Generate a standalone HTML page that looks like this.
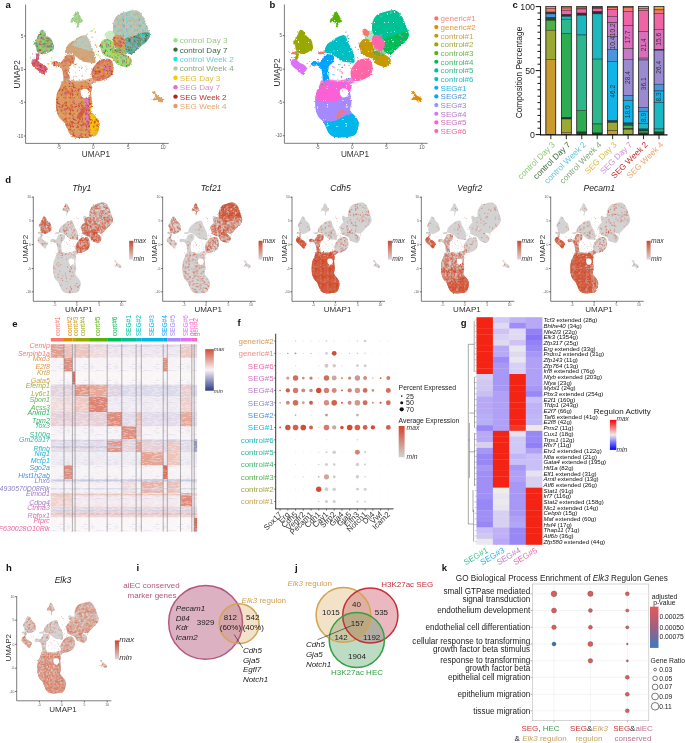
<!DOCTYPE html>
<html><head><meta charset="utf-8"><title>figure</title>
<style>html,body{margin:0;padding:0;background:#fff;overflow:hidden}svg{display:block;font-family:"Liberation Sans",sans-serif;will-change:transform}</style>
</head><body>
<svg width="685" height="743" viewBox="0 0 685 743">
<defs><path id="u_top" d="M335.2,11.4C335.8,11.3 336.9,12.0 337.5,12.5C338.1,13.0 338.2,13.3 338.7,14.3C339.2,15.3 339.9,17.3 340.5,18.5C341.1,19.7 342.1,20.7 342.0,21.4C341.9,22.1 340.6,22.1 340.0,22.5C339.4,22.9 338.7,22.7 338.2,23.7C337.7,24.7 337.4,27.7 337.0,28.4C336.6,29.1 335.9,28.6 335.8,27.8C335.7,27.0 336.6,24.7 336.2,23.7C335.8,22.7 334.5,22.1 333.5,21.9C332.5,21.7 330.5,23.0 330.0,22.5C329.5,22.0 330.0,20.0 330.5,19.0C331.0,18.0 332.3,17.7 332.9,16.7C333.5,15.7 333.6,14.1 334.0,13.2C334.4,12.3 334.6,11.5 335.2,11.4Z"/><path id="u_lu" d="M300.2,30.1C301.4,29.2 302.5,30.2 303.7,31.3C304.9,32.4 305.9,35.0 307.2,36.5C308.5,38.0 310.3,38.0 311.3,40.0C312.3,42.0 313.2,46.4 313.0,48.2C312.8,50.1 311.7,50.1 310.1,51.1C308.6,52.1 305.6,53.7 303.7,54.0C301.8,54.3 300.3,53.5 299.0,52.9C297.7,52.3 296.8,51.8 296.1,50.5C295.4,49.2 295.4,46.5 294.9,45.3C294.4,44.0 292.9,44.5 293.2,43.0C293.5,41.5 295.5,38.6 296.7,36.5C297.9,34.4 299.0,31.0 300.2,30.1Z"/><path id="u_ll" d="M292.0,59.9C292.8,59.1 294.3,58.3 295.5,58.7C296.7,59.1 297.6,61.2 299.0,62.2C300.4,63.2 302.3,63.5 303.7,64.6C305.1,65.7 306.9,67.6 307.2,68.6C307.5,69.6 306.0,69.4 305.4,70.4C304.8,71.4 304.4,73.9 303.7,74.5C303.0,75.1 302.4,74.6 301.4,73.9C300.4,73.2 299.2,71.6 297.8,70.4C296.4,69.2 294.4,68.1 293.2,66.9C292.0,65.7 291.0,64.6 290.8,63.4C290.6,62.2 291.2,60.7 292.0,59.9Z"/><path id="u_link" d="M295.5,53.5C296.1,53.1 298.5,53.1 299.0,53.5C299.5,53.9 298.8,55.0 298.5,56.0C298.2,57.0 298.1,58.9 297.5,59.5C296.9,60.1 295.3,60.1 295.0,59.5C294.7,58.9 295.4,57.0 295.5,56.0C295.6,55.0 294.9,53.9 295.5,53.5Z"/><path id="u_cu" d="M324.7,51.7C323.9,50.2 325.6,46.7 327.0,44.7C328.4,42.8 330.9,41.4 332.9,40.0C334.8,38.6 336.8,37.3 338.7,36.5C340.6,35.7 343.3,35.2 344.6,35.4C345.9,35.6 345.6,36.4 346.3,37.7C347.0,39.1 347.6,41.5 348.6,43.5C349.6,45.5 351.3,47.6 352.2,49.4C353.1,51.1 353.5,52.2 353.9,54.0C354.3,55.8 354.5,58.4 354.5,59.9C354.5,61.4 355.0,62.4 353.9,62.8C352.8,63.2 349.9,62.4 348.1,62.2C346.4,62.0 344.8,62.0 343.4,61.6C342.0,61.2 341.3,60.8 339.9,59.9C338.5,59.0 336.6,57.4 335.2,56.4C333.8,55.4 333.4,54.8 331.7,54.0C329.9,53.2 325.5,53.2 324.7,51.7Z"/><path id="u_bl" d="M311.3,62.2C311.9,61.4 313.9,61.1 315.4,61.1C316.8,61.1 318.4,63.2 320.0,62.2C321.6,61.2 322.9,56.5 324.7,55.2C326.4,53.9 328.9,54.4 330.5,54.6C332.1,54.8 333.6,55.1 334.0,56.4C334.4,57.7 333.7,60.7 332.9,62.2C332.1,63.8 330.2,64.1 329.4,65.7C328.6,67.3 328.2,69.3 328.2,71.6C328.2,73.9 329.0,77.8 329.4,79.7C329.8,81.6 331.4,82.5 330.4,83.0C329.4,83.5 324.8,84.3 323.5,83.0C322.2,81.7 322.8,77.4 322.4,75.1C322.0,72.8 322.0,70.8 321.2,69.2C320.4,67.6 319.2,66.3 317.7,65.7C316.1,65.1 313.0,66.3 311.9,65.7C310.8,65.1 310.7,63.0 311.3,62.2Z"/><path id="u_tr" d="M378.9,13.8C381.9,12.4 388.6,10.7 391.7,10.3C394.8,9.9 395.9,10.3 397.6,11.4C399.4,12.5 400.9,14.4 402.2,16.7C403.5,18.9 404.6,22.2 405.7,24.9C406.8,27.6 408.2,30.9 408.6,33.0C409.0,35.1 408.8,36.1 408.1,37.7C407.4,39.3 406.0,41.0 404.6,42.4C403.2,43.8 401.6,44.3 399.9,45.9C398.1,47.5 395.7,50.4 394.1,51.7C392.5,53.1 392.1,54.0 390.5,54.0C388.9,54.0 386.1,53.0 384.7,51.7C383.3,50.5 383.6,48.2 382.4,46.5C381.2,44.8 379.1,43.6 377.5,41.5C375.9,39.4 373.9,36.6 373.0,34.0C372.1,31.4 371.9,28.5 372.0,26.0C372.1,23.5 372.7,21.0 373.8,19.0C374.9,17.0 375.9,15.2 378.9,13.8Z"/><path id="u_tr_g" d="M383.5,38.9C385.4,37.1 390.8,36.6 394.1,35.4C397.4,34.2 401.0,32.3 403.4,31.9C405.8,31.5 407.8,32.0 408.6,33.0C409.4,34.0 408.8,36.1 408.1,37.7C407.4,39.3 406.0,41.0 404.6,42.4C403.2,43.8 401.6,44.3 399.9,45.9C398.1,47.5 395.7,50.4 394.1,51.7C392.5,53.1 392.1,54.0 390.5,54.0C388.9,54.0 386.1,53.1 384.7,51.7C383.3,50.4 382.6,48.0 382.4,45.9C382.2,43.8 381.6,40.6 383.5,38.9Z"/><path id="u_tr_p" d="M373.5,35.5C374.7,34.5 377.2,34.5 378.9,35.2C380.6,35.9 382.8,37.9 383.8,39.5C384.8,41.1 384.9,43.0 384.8,44.7C384.7,46.4 384.0,48.8 383.0,49.8C382.0,50.8 380.4,51.3 378.9,50.8C377.4,50.3 375.4,48.6 374.2,47.0C373.0,45.4 371.9,43.1 371.8,41.2C371.7,39.3 372.3,36.5 373.5,35.5Z"/><path id="u_strand" d="M373.5,49.0C374.3,48.2 376.4,47.5 378.0,47.5C379.6,47.5 381.8,48.2 383.0,49.0C384.2,49.8 385.4,50.9 385.5,52.0C385.6,53.1 384.6,54.8 383.5,55.5C382.4,56.2 380.4,56.2 379.0,56.0C377.6,55.8 376.0,55.2 375.0,54.5C374.0,53.8 373.2,52.9 373.0,52.0C372.8,51.1 372.7,49.8 373.5,49.0Z"/><path id="u_gold" d="M363.7,38.9C365.4,38.1 367.9,39.2 369.5,40.0C371.1,40.8 372.2,41.9 373.0,43.5C373.8,45.1 373.0,48.0 374.2,49.4C375.4,50.8 378.1,50.7 380.0,51.7C381.9,52.7 384.1,54.0 385.9,55.2C387.6,56.4 389.8,57.3 390.5,58.7C391.2,60.1 390.8,62.0 390.0,63.4C389.2,64.8 387.6,66.5 385.9,66.9C384.2,67.3 381.8,66.3 380.0,65.7C378.2,65.1 376.8,64.6 375.4,63.4C374.0,62.2 373.5,59.9 371.9,58.7C370.3,57.5 367.7,57.2 366.0,56.4C364.3,55.6 362.9,55.2 361.9,54.0C360.9,52.8 360.7,50.9 360.2,49.4C359.7,47.9 358.4,46.5 359.0,44.7C359.6,43.0 361.9,39.7 363.7,38.9Z"/><path id="u_rb" d="M359.0,59.9C361.4,58.9 366.2,58.1 368.4,58.7C370.5,59.3 371.2,61.4 371.9,63.4C372.6,65.3 372.8,68.3 372.4,70.4C372.0,72.5 371.1,74.7 369.5,76.2C367.9,77.8 364.8,78.9 362.5,79.7C360.2,80.5 357.4,81.3 355.5,80.9C353.6,80.5 352.2,79.2 351.4,77.4C350.6,75.7 350.3,72.5 350.8,70.4C351.3,68.3 352.9,66.3 354.3,64.6C355.7,62.8 356.6,60.9 359.0,59.9Z"/><path id="u_conn" d="M321.0,81.0C322.3,80.1 327.2,79.6 330.0,79.5C332.8,79.4 335.3,80.6 338.0,80.5C340.7,80.4 343.7,79.5 346.0,79.0C348.3,78.5 350.3,77.3 352.0,77.5C353.7,77.7 356.2,78.9 356.0,80.0C355.8,81.1 353.0,83.3 351.0,84.0C349.0,84.7 346.8,84.0 344.0,84.0C341.2,84.0 337.7,83.8 334.0,84.0C330.3,84.2 324.2,85.5 322.0,85.0C319.8,84.5 319.7,81.9 321.0,81.0Z"/><path id="u_bot" d="M321.0,83.4C322.9,82.3 327.5,81.8 330.4,81.6C333.3,81.4 336.2,82.3 338.5,82.2C340.8,82.1 342.6,80.8 344.4,81.0C346.1,81.2 347.8,82.4 349.0,83.4C350.2,84.4 351.2,85.6 351.4,86.9C351.6,88.2 350.3,89.8 350.2,91.5C350.1,93.2 350.6,95.5 350.8,97.4C351.0,99.4 351.5,101.1 351.4,103.2C351.3,105.3 349.6,108.1 350.2,110.2C350.8,112.3 353.5,114.1 354.9,116.1C356.3,118.0 357.9,119.8 358.4,121.9C358.9,124.0 358.4,126.8 357.8,128.9C357.2,131.0 356.8,133.3 354.9,134.7C353.0,136.1 350.0,136.7 346.7,137.1C343.4,137.5 337.9,137.7 335.0,137.1C332.1,136.5 330.8,135.3 329.2,133.6C327.6,131.8 326.7,128.5 325.7,126.6C324.7,124.6 324.6,123.5 323.4,121.9C322.2,120.3 320.0,119.2 318.7,117.2C317.4,115.2 316.4,112.9 315.8,110.2C315.2,107.5 315.1,103.8 315.2,100.9C315.3,98.0 315.8,94.9 316.4,92.7C317.0,90.5 317.9,89.5 318.7,88.0C319.5,86.5 319.1,84.5 321.0,83.4Z"/><path id="u_bot_pink" d="M310.0,78.0C318.3,74.2 351.7,76.3 360.0,78.0C368.3,79.7 361.6,85.7 360.0,88.0C358.4,90.3 353.8,90.0 350.2,92.0C346.6,94.0 342.0,98.0 338.5,99.7C335.0,101.4 332.8,101.9 329.0,102.0C325.2,102.1 318.7,100.5 315.5,100.3C312.3,100.1 310.9,104.7 310.0,101.0C309.1,97.3 301.7,81.8 310.0,78.0Z"/><path id="u_bot_cyan" d="M310.0,124.0C312.2,120.7 319.2,122.5 323.4,121.9C327.6,121.4 331.1,121.9 335.0,120.7C338.9,119.5 343.8,116.1 346.7,115.0C349.6,113.9 350.1,114.2 352.6,114.0C355.2,113.8 360.4,109.3 362.0,114.0C363.6,118.7 370.7,137.3 362.0,142.0C353.3,146.7 318.7,145.0 310.0,142.0C301.3,139.0 307.8,127.3 310.0,124.0Z"/><path id="u_bot_right" d="M346.0,98.0C346.8,95.3 350.3,93.7 352.0,96.0C353.7,98.3 354.7,107.7 356.0,112.0C357.3,116.3 359.5,118.0 360.0,122.0C360.5,126.0 360.7,133.3 359.0,136.0C357.3,138.7 351.7,139.8 350.0,138.0C348.3,136.2 349.5,129.3 349.0,125.0C348.5,120.7 347.5,116.5 347.0,112.0C346.5,107.5 345.2,100.7 346.0,98.0Z"/><path id="u_a_pink" d="M343.0,97.0C343.6,95.2 346.8,94.3 348.0,95.5C349.2,96.7 350.0,100.9 350.5,104.0C351.0,107.1 351.1,110.7 351.0,114.0C350.9,117.3 350.8,121.8 350.0,124.0C349.2,126.2 347.3,128.0 346.5,127.0C345.7,126.0 345.3,121.5 345.0,118.0C344.7,114.5 344.8,109.5 344.5,106.0C344.2,102.5 342.4,98.8 343.0,97.0Z"/><path id="u_notch" d="M340.5,89.5C341.2,88.9 342.8,88.5 344.0,88.6C345.2,88.7 346.8,89.2 347.5,90.0C348.2,90.8 348.5,92.4 348.3,93.5C348.1,94.6 347.4,96.1 346.5,96.8C345.6,97.5 344.0,97.7 343.0,97.4C342.0,97.1 340.9,95.9 340.4,95.0C339.9,94.1 339.8,92.9 339.8,92.0C339.8,91.1 339.8,90.1 340.5,89.5Z"/><path id="u_sr" d="M410.9,91.2C411.4,91.1 413.6,91.3 414.5,92.0C415.4,92.7 415.6,94.4 416.6,95.3C417.6,96.2 419.7,96.8 420.6,97.5C421.5,98.2 421.7,98.6 421.9,99.3C422.1,100.0 422.1,101.1 421.7,101.5C421.3,101.9 420.4,102.0 419.7,101.9C419.0,101.8 418.3,101.4 417.5,101.0C416.7,100.6 415.8,99.9 414.9,99.7C414.0,99.5 412.9,100.2 412.3,100.1C411.7,100.0 411.1,99.7 411.2,99.3C411.3,98.9 412.6,98.1 413.1,97.5C413.6,96.9 414.0,96.4 414.0,95.8C414.0,95.2 413.5,94.5 413.1,94.0C412.7,93.5 411.8,93.2 411.4,92.7C411.0,92.2 410.4,91.3 410.9,91.2Z"/><path id="u_bridge" d="M364.0,33.5C364.8,32.2 367.5,30.9 369.0,30.5C370.5,30.1 371.9,30.2 373.0,31.0C374.1,31.8 375.2,33.6 375.5,35.0C375.8,36.4 375.6,38.6 374.5,39.5C373.4,40.4 370.7,40.7 369.0,40.5C367.3,40.3 365.3,39.7 364.5,38.5C363.7,37.3 363.2,34.8 364.0,33.5Z"/><path id="u_sal1" d="M292.0,52.0C292.8,51.5 296.5,51.2 297.5,51.5C298.5,51.8 298.8,53.3 298.0,53.8C297.2,54.2 293.5,54.5 292.5,54.2C291.5,53.9 291.2,52.5 292.0,52.0Z"/><path id="u_sal2" d="M318.5,52.3C319.4,51.8 323.4,51.2 324.5,51.5C325.6,51.8 325.9,53.3 325.0,53.8C324.1,54.3 320.1,54.5 319.0,54.3C317.9,54.0 317.6,52.8 318.5,52.3Z"/><path id="u_sal3" d="M362.5,30.0C362.9,29.1 364.8,28.4 366.0,29.0C367.2,29.6 369.3,32.3 369.5,33.5C369.7,34.7 368.0,35.8 367.0,36.0C366.0,36.2 364.2,35.5 363.5,34.5C362.8,33.5 362.1,30.9 362.5,30.0Z"/><path id="u_sal4" d="M336.0,116.0C336.6,114.5 339.6,110.4 341.0,109.5C342.4,108.6 344.5,109.3 344.5,110.5C344.5,111.7 342.2,115.2 341.0,116.5C339.8,117.8 338.3,118.6 337.5,118.5C336.7,118.4 335.4,117.5 336.0,116.0Z"/><clipPath id="c_bot"><use href="#u_bot"/></clipPath><clipPath id="c_tr"><use href="#u_tr"/></clipPath><filter id="rough" x="-5%" y="-5%" width="110%" height="110%"><feTurbulence type="fractalNoise" baseFrequency="0.7" numOctaves="2" seed="4" result="n"/><feDisplacementMap in="SourceGraphic" in2="n" scale="2.6" xChannelSelector="R" yChannelSelector="G"/></filter><pattern id="pa_bot" width="16" height="16" patternUnits="userSpaceOnUse"><path fill="#c42a22" d="M8.2 5.5h1v1h-1zM9.4 1.0h1v1h-1zM12.6 3.9h1v1h-1zM14.9 7.1h1v1h-1zM9.5 13.0h1v1h-1zM11.1 10.1h1v1h-1zM11.4 8.9h1v1h-1zM0.5 13.0h1v1h-1zM10.8 13.2h1v1h-1zM14.5 6.5h1v1h-1zM4.5 7.6h1v1h-1zM5.3 8.8h1v1h-1zM13.6 10.2h1v1h-1zM4.3 1.0h1v1h-1zM11.5 13.1h1v1h-1zM9.2 0.7h1v1h-1zM1.2 9.0h1v1h-1zM3.0 6.1h1v1h-1zM2.3 0.6h1v1h-1zM9.7 8.9h1v1h-1zM9.3 14.1h1v1h-1zM6.5 10.8h1v1h-1zM4.5 14.7h1v1h-1zM8.2 0.2h1v1h-1zM8.7 0.3h1v1h-1zM9.5 0.9h1v1h-1zM7.0 10.2h1v1h-1zM10.6 11.1h1v1h-1zM0.9 10.1h1v1h-1zM4.8 5.5h1v1h-1zM5.5 8.9h1v1h-1zM5.7 11.6h1v1h-1zM8.5 11.0h1v1h-1zM3.3 12.1h1v1h-1zM2.8 6.5h1v1h-1zM12.5 6.6h1v1h-1zM13.3 6.8h1v1h-1zM1.8 7.9h1v1h-1zM12.1 12.6h1v1h-1zM4.2 12.1h1v1h-1zM12.1 5.2h1v1h-1zM4.4 11.9h1v1h-1zM5.2 6.3h1v1h-1zM6.1 13.8h1v1h-1zM0.1 14.1h1v1h-1zM4.3 5.1h1v1h-1zM1.0 8.8h1v1h-1zM12.2 0.7h1v1h-1zM11.2 2.6h1v1h-1zM9.9 7.9h1v1h-1zM14.1 9.2h1v1h-1zM3.8 12.9h1v1h-1zM11.7 5.3h1v1h-1zM8.0 12.3h1v1h-1zM11.9 13.8h1v1h-1zM12.9 0.7h1v1h-1zM4.0 7.9h1v1h-1z"/><path fill="#d870e0" d="M13.8 5.9h1v1h-1zM2.4 12.9h1v1h-1zM3.2 12.5h1v1h-1zM5.0 13.2h1v1h-1zM1.5 4.8h1v1h-1zM12.6 9.9h1v1h-1z"/><path fill="#e8b070" d="M7.1 9.6h1v1h-1zM6.7 14.0h1v1h-1zM1.5 2.0h1v1h-1zM12.8 14.9h1v1h-1zM13.6 8.5h1v1h-1zM14.8 1.3h1v1h-1zM6.2 2.3h1v1h-1zM7.6 15.0h1v1h-1zM4.7 14.4h1v1h-1zM5.7 6.9h1v1h-1zM3.8 6.8h1v1h-1zM2.5 5.1h1v1h-1zM14.8 6.5h1v1h-1zM13.9 3.3h1v1h-1zM10.4 13.9h1v1h-1zM13.5 8.7h1v1h-1zM12.4 0.1h1v1h-1z"/></pattern><pattern id="pa_tr" width="16" height="16" patternUnits="userSpaceOnUse"><path fill="#40e0ee" d="M1.5 5.9h1v1h-1zM1.0 6.0h1v1h-1zM8.1 4.2h1v1h-1zM1.6 3.2h1v1h-1zM1.3 14.0h1v1h-1zM12.2 0.6h1v1h-1zM9.4 4.2h1v1h-1zM9.5 4.1h1v1h-1zM11.2 4.8h1v1h-1zM3.4 11.5h1v1h-1zM6.9 0.6h1v1h-1zM14.5 11.6h1v1h-1zM14.1 9.3h1v1h-1zM2.0 5.7h1v1h-1zM2.5 11.8h1v1h-1zM4.4 1.5h1v1h-1zM0.8 2.5h1v1h-1zM3.7 15.0h1v1h-1zM7.9 11.6h1v1h-1zM14.8 7.2h1v1h-1zM6.2 0.6h1v1h-1zM3.7 13.3h1v1h-1zM3.6 3.1h1v1h-1zM13.0 2.1h1v1h-1zM13.9 8.5h1v1h-1zM1.4 3.2h1v1h-1zM9.9 12.0h1v1h-1zM13.5 1.9h1v1h-1zM9.5 8.5h1v1h-1zM13.8 0.2h1v1h-1zM13.4 11.6h1v1h-1zM7.9 0.4h1v1h-1zM8.9 7.3h1v1h-1zM11.5 7.8h1v1h-1zM12.6 12.4h1v1h-1zM8.2 5.7h1v1h-1zM14.5 1.4h1v1h-1zM9.3 13.3h1v1h-1zM4.5 12.5h1v1h-1zM12.0 2.5h1v1h-1zM5.1 8.1h1v1h-1zM8.2 7.3h1v1h-1zM12.7 5.4h1v1h-1zM13.0 11.8h1v1h-1zM1.2 2.2h1v1h-1zM8.6 5.3h1v1h-1zM4.5 0.3h1v1h-1zM14.2 12.4h1v1h-1zM8.8 7.4h1v1h-1zM9.0 13.5h1v1h-1zM9.4 14.9h1v1h-1zM2.8 8.1h1v1h-1zM14.6 14.8h1v1h-1zM3.9 3.3h1v1h-1zM3.6 4.5h1v1h-1zM7.9 2.4h1v1h-1zM0.5 4.7h1v1h-1zM0.9 14.9h1v1h-1zM13.4 10.5h1v1h-1zM1.0 2.5h1v1h-1zM6.3 0.4h1v1h-1zM2.4 12.7h1v1h-1zM10.8 2.8h1v1h-1zM9.3 13.7h1v1h-1zM9.7 13.5h1v1h-1zM12.9 9.9h1v1h-1zM13.4 9.4h1v1h-1zM12.5 13.4h1v1h-1zM11.7 13.6h1v1h-1z"/><path fill="#e0a060" d="M11.0 12.8h1v1h-1zM7.6 2.7h1v1h-1zM6.5 2.4h1v1h-1zM7.1 5.1h1v1h-1zM13.6 1.5h1v1h-1zM3.6 5.0h1v1h-1zM13.4 14.3h1v1h-1zM14.4 0.3h1v1h-1zM2.2 0.6h1v1h-1zM11.9 11.2h1v1h-1zM12.2 7.9h1v1h-1zM10.3 4.0h1v1h-1zM6.5 12.9h1v1h-1zM7.3 1.1h1v1h-1zM9.1 4.7h1v1h-1zM6.6 2.1h1v1h-1zM1.4 6.0h1v1h-1zM14.1 11.4h1v1h-1zM11.2 9.3h1v1h-1zM4.6 3.5h1v1h-1zM9.2 5.5h1v1h-1zM8.2 14.4h1v1h-1zM9.8 14.3h1v1h-1zM10.9 8.3h1v1h-1zM2.3 12.7h1v1h-1zM12.9 4.9h1v1h-1zM0.6 9.5h1v1h-1zM9.1 7.9h1v1h-1zM7.5 8.2h1v1h-1zM3.7 3.0h1v1h-1zM1.8 14.7h1v1h-1z"/><path fill="#2e6a38" d="M13.9 3.3h1v1h-1zM14.8 9.4h1v1h-1zM5.4 9.9h1v1h-1z"/><path fill="#d870e0" d="M2.9 4.6h1v1h-1zM13.2 8.3h1v1h-1zM4.7 3.5h1v1h-1zM1.0 13.2h1v1h-1zM12.1 14.3h1v1h-1z"/><path fill="#b8c8b0" d="M12.0 11.5h1v1h-1zM12.4 12.1h1v1h-1zM1.3 9.1h1v1h-1zM8.2 4.5h1v1h-1zM8.6 13.2h1v1h-1zM7.6 6.2h1v1h-1zM2.9 6.2h1v1h-1zM4.4 2.9h1v1h-1zM5.0 0.1h1v1h-1zM6.4 3.1h1v1h-1zM7.5 0.5h1v1h-1zM6.0 13.5h1v1h-1zM13.5 13.9h1v1h-1zM14.3 1.1h1v1h-1zM14.4 10.0h1v1h-1zM10.0 0.9h1v1h-1zM1.7 12.1h1v1h-1zM3.0 10.1h1v1h-1zM9.1 2.1h1v1h-1zM2.6 2.2h1v1h-1zM10.7 0.1h1v1h-1zM7.0 13.7h1v1h-1zM2.7 13.5h1v1h-1zM2.7 9.8h1v1h-1zM1.8 9.8h1v1h-1zM4.5 13.9h1v1h-1zM6.0 6.0h1v1h-1zM4.3 6.2h1v1h-1zM9.3 2.3h1v1h-1zM9.1 4.7h1v1h-1zM13.4 11.7h1v1h-1zM2.4 11.9h1v1h-1zM10.8 8.4h1v1h-1zM3.8 5.9h1v1h-1zM0.3 14.4h1v1h-1zM3.5 8.3h1v1h-1zM14.9 10.6h1v1h-1zM14.1 5.7h1v1h-1zM12.5 8.8h1v1h-1zM13.2 9.9h1v1h-1zM5.3 1.2h1v1h-1zM7.6 0.0h1v1h-1z"/></pattern><pattern id="pa_trg" width="16" height="16" patternUnits="userSpaceOnUse"><path fill="#2e6a38" d="M7.0 14.2h1v1h-1zM3.7 8.2h1v1h-1zM13.7 11.5h1v1h-1zM12.0 2.1h1v1h-1zM14.1 10.4h1v1h-1zM2.5 2.2h1v1h-1zM4.5 9.0h1v1h-1zM10.2 5.1h1v1h-1zM12.3 7.2h1v1h-1zM7.2 10.6h1v1h-1zM14.6 0.3h1v1h-1zM0.7 2.7h1v1h-1zM7.9 11.6h1v1h-1zM11.2 12.0h1v1h-1zM5.1 9.2h1v1h-1zM4.7 4.8h1v1h-1zM1.2 2.2h1v1h-1zM14.8 8.0h1v1h-1zM3.6 8.9h1v1h-1zM13.7 0.5h1v1h-1zM12.6 2.0h1v1h-1zM12.7 4.4h1v1h-1zM15.0 12.8h1v1h-1zM2.2 5.7h1v1h-1zM5.1 1.3h1v1h-1zM11.7 13.0h1v1h-1zM11.8 11.6h1v1h-1zM10.6 4.2h1v1h-1zM11.5 10.4h1v1h-1zM14.2 9.7h1v1h-1zM10.1 6.9h1v1h-1zM9.7 11.1h1v1h-1zM12.5 14.1h1v1h-1zM10.4 10.8h1v1h-1zM9.8 3.3h1v1h-1zM3.4 0.8h1v1h-1zM4.8 2.7h1v1h-1zM0.5 7.0h1v1h-1zM9.2 8.9h1v1h-1zM13.5 0.0h1v1h-1zM4.2 6.2h1v1h-1zM12.5 5.6h1v1h-1zM9.2 1.4h1v1h-1zM5.1 8.7h1v1h-1zM8.9 8.5h1v1h-1zM13.4 0.0h1v1h-1zM8.5 9.2h1v1h-1zM9.4 13.4h1v1h-1zM6.5 3.4h1v1h-1zM14.6 5.7h1v1h-1zM14.7 7.4h1v1h-1zM4.8 14.8h1v1h-1zM4.3 7.2h1v1h-1zM9.3 6.7h1v1h-1zM11.7 12.4h1v1h-1zM8.0 4.1h1v1h-1zM2.3 14.8h1v1h-1zM9.1 7.1h1v1h-1zM11.4 4.5h1v1h-1zM5.0 4.5h1v1h-1zM7.0 5.4h1v1h-1zM6.8 13.7h1v1h-1zM8.2 7.5h1v1h-1zM2.3 8.8h1v1h-1zM10.8 14.7h1v1h-1zM13.8 2.2h1v1h-1zM1.1 0.9h1v1h-1zM6.5 4.7h1v1h-1zM0.8 10.5h1v1h-1zM9.5 7.6h1v1h-1zM8.3 3.8h1v1h-1zM5.6 11.1h1v1h-1zM10.7 9.8h1v1h-1zM10.0 1.4h1v1h-1zM8.9 3.6h1v1h-1zM2.3 14.3h1v1h-1zM9.4 5.3h1v1h-1zM5.0 9.2h1v1h-1zM5.8 2.0h1v1h-1zM12.8 7.8h1v1h-1zM1.5 0.5h1v1h-1zM0.6 13.3h1v1h-1zM11.4 0.0h1v1h-1zM13.3 9.3h1v1h-1zM7.0 1.5h1v1h-1zM2.4 5.6h1v1h-1zM13.2 2.3h1v1h-1zM4.2 2.4h1v1h-1zM3.5 7.2h1v1h-1zM13.9 5.5h1v1h-1zM14.2 1.8h1v1h-1zM3.5 1.2h1v1h-1z"/><path fill="#40e0ee" d="M11.1 11.9h1v1h-1zM13.5 1.7h1v1h-1zM0.2 3.3h1v1h-1zM1.9 0.0h1v1h-1zM3.1 3.2h1v1h-1zM12.7 0.3h1v1h-1zM5.5 8.7h1v1h-1zM0.5 14.2h1v1h-1zM15.0 2.4h1v1h-1zM6.8 6.3h1v1h-1zM14.2 9.5h1v1h-1zM1.6 6.5h1v1h-1zM7.2 4.4h1v1h-1zM10.0 11.4h1v1h-1zM0.2 8.2h1v1h-1zM9.7 12.0h1v1h-1zM5.3 12.6h1v1h-1zM10.3 14.6h1v1h-1zM2.6 11.7h1v1h-1zM10.0 6.3h1v1h-1zM11.6 9.6h1v1h-1zM0.4 2.4h1v1h-1zM9.5 0.6h1v1h-1zM9.6 5.5h1v1h-1zM9.1 11.2h1v1h-1zM8.9 0.5h1v1h-1zM8.2 0.2h1v1h-1zM6.4 8.6h1v1h-1zM9.5 7.2h1v1h-1zM2.9 4.4h1v1h-1zM1.0 12.5h1v1h-1zM6.5 4.3h1v1h-1zM13.7 2.1h1v1h-1zM1.0 3.5h1v1h-1zM11.9 10.0h1v1h-1zM3.3 9.7h1v1h-1zM6.2 2.4h1v1h-1zM0.7 1.6h1v1h-1zM11.1 13.2h1v1h-1zM7.3 14.1h1v1h-1zM7.8 2.0h1v1h-1zM7.2 4.8h1v1h-1zM0.4 10.9h1v1h-1zM3.3 1.7h1v1h-1zM9.7 12.1h1v1h-1zM8.6 11.1h1v1h-1zM4.4 10.1h1v1h-1zM2.4 3.0h1v1h-1z"/><path fill="#d870e0" d="M11.1 13.8h1v1h-1zM13.1 4.3h1v1h-1zM8.1 10.2h1v1h-1zM13.4 4.5h1v1h-1zM2.9 11.3h1v1h-1zM14.1 5.2h1v1h-1zM5.1 13.9h1v1h-1zM6.8 7.3h1v1h-1zM14.4 9.4h1v1h-1zM7.8 7.9h1v1h-1zM12.3 6.3h1v1h-1zM14.5 9.1h1v1h-1zM13.7 8.9h1v1h-1zM11.7 3.7h1v1h-1zM5.8 5.9h1v1h-1zM10.5 0.7h1v1h-1zM10.7 2.0h1v1h-1zM8.3 9.3h1v1h-1zM10.0 12.3h1v1h-1zM10.3 10.1h1v1h-1z"/></pattern><pattern id="pa_mix" width="16" height="16" patternUnits="userSpaceOnUse"><path fill="#2e6a38" d="M0.0 9.9h1v1h-1zM12.0 12.1h1v1h-1zM2.9 7.3h1v1h-1zM3.1 13.0h1v1h-1zM5.0 13.6h1v1h-1zM6.3 11.2h1v1h-1zM8.8 5.4h1v1h-1zM6.8 13.9h1v1h-1zM6.2 13.2h1v1h-1zM12.1 4.9h1v1h-1zM2.9 14.2h1v1h-1zM5.4 2.2h1v1h-1zM14.2 13.6h1v1h-1zM10.7 1.0h1v1h-1zM14.5 6.5h1v1h-1zM2.6 5.6h1v1h-1zM14.9 11.5h1v1h-1zM11.0 1.7h1v1h-1zM1.1 7.8h1v1h-1zM7.9 2.3h1v1h-1zM2.3 8.5h1v1h-1zM4.7 3.6h1v1h-1zM4.9 5.7h1v1h-1zM11.4 1.7h1v1h-1zM8.1 11.8h1v1h-1zM8.5 13.8h1v1h-1zM7.1 10.9h1v1h-1zM1.7 14.7h1v1h-1zM13.8 11.3h1v1h-1zM6.7 3.0h1v1h-1zM8.9 3.8h1v1h-1zM8.9 0.5h1v1h-1zM13.8 14.2h1v1h-1z"/><path fill="#d870e0" d="M11.4 5.6h1v1h-1zM1.4 3.0h1v1h-1zM14.0 13.6h1v1h-1zM9.7 10.5h1v1h-1zM9.0 4.6h1v1h-1zM1.8 9.9h1v1h-1zM1.9 15.0h1v1h-1zM14.7 3.7h1v1h-1zM2.1 5.7h1v1h-1zM9.0 4.8h1v1h-1zM7.3 11.9h1v1h-1zM0.9 0.5h1v1h-1zM14.1 12.8h1v1h-1zM10.4 11.9h1v1h-1zM11.7 6.7h1v1h-1zM7.0 7.4h1v1h-1zM3.3 3.3h1v1h-1zM6.0 15.0h1v1h-1zM9.9 10.7h1v1h-1zM1.8 14.2h1v1h-1zM12.5 0.8h1v1h-1z"/><path fill="#c42a22" d="M4.1 12.0h1v1h-1zM6.2 8.1h1v1h-1zM2.9 8.3h1v1h-1zM12.7 5.0h1v1h-1zM4.4 14.3h1v1h-1zM3.0 9.8h1v1h-1zM1.3 13.2h1v1h-1zM0.2 11.7h1v1h-1zM4.6 5.7h1v1h-1zM6.1 1.3h1v1h-1zM4.0 7.3h1v1h-1zM4.0 7.1h1v1h-1zM14.6 13.8h1v1h-1zM1.7 10.8h1v1h-1zM6.3 11.7h1v1h-1zM9.1 2.2h1v1h-1zM1.5 1.6h1v1h-1zM6.9 13.5h1v1h-1zM10.5 1.9h1v1h-1zM13.7 6.3h1v1h-1zM11.8 8.5h1v1h-1zM12.1 5.6h1v1h-1zM14.6 2.5h1v1h-1zM5.8 0.9h1v1h-1zM1.5 5.5h1v1h-1zM10.9 9.8h1v1h-1zM10.3 11.7h1v1h-1z"/><path fill="#f8c800" d="M12.3 7.3h1v1h-1zM4.0 12.1h1v1h-1zM14.6 0.4h1v1h-1zM7.8 7.1h1v1h-1zM2.6 0.3h1v1h-1zM7.4 7.0h1v1h-1zM1.3 9.3h1v1h-1zM14.7 4.3h1v1h-1zM9.6 8.0h1v1h-1zM2.5 9.9h1v1h-1zM11.7 11.8h1v1h-1zM11.2 14.9h1v1h-1z"/><path fill="#40e0ee" d="M13.4 10.1h1v1h-1zM6.7 12.5h1v1h-1zM4.4 0.1h1v1h-1zM13.6 13.4h1v1h-1zM1.3 12.9h1v1h-1zM0.5 1.3h1v1h-1zM10.5 5.2h1v1h-1z"/></pattern><pattern id="pa_gold" width="16" height="16" patternUnits="userSpaceOnUse"><path fill="#f8c800" d="M2.3 9.8h1v1h-1zM8.0 5.5h1v1h-1zM7.6 0.6h1v1h-1zM9.4 14.2h1v1h-1zM12.9 4.3h1v1h-1zM1.8 4.6h1v1h-1zM0.9 3.1h1v1h-1zM6.3 11.4h1v1h-1zM7.3 0.6h1v1h-1zM5.8 10.0h1v1h-1zM6.9 2.5h1v1h-1zM0.9 11.5h1v1h-1zM3.7 5.9h1v1h-1zM2.6 3.5h1v1h-1zM7.3 8.8h1v1h-1zM0.1 6.3h1v1h-1zM2.4 5.1h1v1h-1zM0.0 2.3h1v1h-1zM5.5 0.4h1v1h-1zM5.2 5.5h1v1h-1zM12.7 14.9h1v1h-1zM5.1 4.0h1v1h-1zM5.5 2.5h1v1h-1zM3.3 12.2h1v1h-1zM4.2 3.9h1v1h-1zM3.1 9.4h1v1h-1z"/><path fill="#2e6a38" d="M1.0 1.4h1v1h-1zM12.4 1.9h1v1h-1zM6.0 14.6h1v1h-1zM5.6 8.2h1v1h-1zM6.8 4.5h1v1h-1zM7.9 13.1h1v1h-1zM8.7 6.8h1v1h-1zM0.9 10.5h1v1h-1zM14.9 12.3h1v1h-1zM13.3 12.3h1v1h-1zM13.3 14.4h1v1h-1zM8.5 14.3h1v1h-1zM6.0 1.6h1v1h-1zM0.9 1.0h1v1h-1zM7.3 1.3h1v1h-1zM0.4 7.9h1v1h-1zM5.3 0.4h1v1h-1zM3.3 3.4h1v1h-1zM12.0 1.3h1v1h-1zM13.6 11.7h1v1h-1z"/><path fill="#c42a22" d="M2.7 8.7h1v1h-1zM6.4 4.7h1v1h-1zM10.5 3.7h1v1h-1zM4.3 14.7h1v1h-1zM11.5 8.6h1v1h-1zM7.7 9.3h1v1h-1zM0.8 13.5h1v1h-1zM13.1 12.0h1v1h-1zM2.4 0.3h1v1h-1zM8.0 11.7h1v1h-1zM11.1 3.4h1v1h-1zM14.3 6.7h1v1h-1zM7.2 2.7h1v1h-1zM5.0 12.0h1v1h-1z"/><path fill="#d870e0" d="M4.7 10.4h1v1h-1zM14.2 7.1h1v1h-1zM1.2 6.7h1v1h-1zM4.2 6.2h1v1h-1zM9.2 2.2h1v1h-1zM7.9 2.2h1v1h-1zM12.9 10.4h1v1h-1zM12.8 12.1h1v1h-1zM14.8 14.3h1v1h-1zM12.6 7.2h1v1h-1z"/></pattern><pattern id="pa_red" width="16" height="16" patternUnits="userSpaceOnUse"><path fill="#c42a22" d="M14.4 1.9h1v1h-1zM6.8 7.4h1v1h-1zM12.5 1.3h1v1h-1zM0.3 4.0h1v1h-1zM13.5 5.7h1v1h-1zM3.9 14.9h1v1h-1zM9.3 5.7h1v1h-1zM9.7 13.5h1v1h-1zM10.4 10.5h1v1h-1zM2.3 7.9h1v1h-1zM0.2 5.1h1v1h-1zM6.4 5.7h1v1h-1zM2.5 9.9h1v1h-1zM0.2 11.5h1v1h-1zM2.6 6.5h1v1h-1zM6.2 6.7h1v1h-1zM8.8 4.3h1v1h-1zM1.3 1.6h1v1h-1zM0.3 2.1h1v1h-1zM8.6 11.2h1v1h-1zM14.5 0.0h1v1h-1zM14.5 11.4h1v1h-1zM1.8 8.7h1v1h-1zM1.9 6.6h1v1h-1zM5.4 3.4h1v1h-1zM6.7 1.6h1v1h-1zM5.5 6.5h1v1h-1zM14.5 11.3h1v1h-1zM7.9 11.2h1v1h-1zM12.7 2.9h1v1h-1zM14.4 12.7h1v1h-1zM4.4 9.2h1v1h-1zM6.4 7.3h1v1h-1zM11.0 4.1h1v1h-1zM1.8 12.4h1v1h-1zM4.4 12.1h1v1h-1zM5.4 14.5h1v1h-1zM11.7 11.9h1v1h-1zM9.8 11.7h1v1h-1zM9.2 10.3h1v1h-1zM6.9 13.0h1v1h-1zM0.6 13.8h1v1h-1zM4.9 7.8h1v1h-1zM10.8 5.2h1v1h-1zM3.8 5.8h1v1h-1zM11.7 1.5h1v1h-1zM4.4 2.7h1v1h-1zM4.9 6.1h1v1h-1zM11.4 0.9h1v1h-1zM14.0 8.7h1v1h-1zM7.9 11.5h1v1h-1zM0.5 5.6h1v1h-1zM2.8 8.7h1v1h-1zM14.5 6.4h1v1h-1z"/><path fill="#d870e0" d="M1.3 3.7h1v1h-1zM5.1 10.4h1v1h-1zM2.1 1.0h1v1h-1zM1.1 13.5h1v1h-1zM10.5 3.3h1v1h-1zM13.4 2.6h1v1h-1zM5.4 12.1h1v1h-1zM10.6 14.7h1v1h-1zM3.2 13.1h1v1h-1zM7.5 7.1h1v1h-1zM10.7 7.1h1v1h-1zM10.6 9.2h1v1h-1zM10.6 3.0h1v1h-1zM0.1 9.2h1v1h-1zM14.7 5.5h1v1h-1zM14.4 11.7h1v1h-1zM10.3 14.0h1v1h-1zM12.3 9.1h1v1h-1zM12.6 4.0h1v1h-1zM4.2 13.3h1v1h-1zM11.2 3.7h1v1h-1zM8.9 12.4h1v1h-1zM13.0 9.8h1v1h-1zM9.8 5.5h1v1h-1zM12.2 10.9h1v1h-1zM4.8 4.4h1v1h-1zM1.6 0.8h1v1h-1zM11.0 12.4h1v1h-1zM4.9 13.2h1v1h-1zM7.2 8.4h1v1h-1zM7.9 4.6h1v1h-1zM7.1 1.9h1v1h-1zM7.5 14.6h1v1h-1zM14.1 4.3h1v1h-1zM9.7 1.9h1v1h-1zM2.1 10.3h1v1h-1zM14.5 1.6h1v1h-1z"/><path fill="#f8c800" d="M3.1 9.6h1v1h-1zM7.3 2.9h1v1h-1zM8.7 10.9h1v1h-1zM4.3 5.4h1v1h-1zM2.0 11.5h1v1h-1zM12.7 7.6h1v1h-1zM3.0 11.5h1v1h-1zM8.7 2.7h1v1h-1zM6.6 1.3h1v1h-1zM11.1 13.9h1v1h-1zM3.4 4.4h1v1h-1zM12.8 7.7h1v1h-1zM13.8 11.8h1v1h-1zM13.9 1.4h1v1h-1zM15.0 14.0h1v1h-1zM8.8 9.2h1v1h-1zM13.8 10.4h1v1h-1zM7.3 5.5h1v1h-1zM5.2 10.5h1v1h-1z"/></pattern><pattern id="pb_sp" width="19" height="19" patternUnits="userSpaceOnUse"><path fill="#ffffff" d="M4.2 3.0h0.9v0.9h-0.9zM6.9 13.2h0.9v0.9h-0.9zM14.1 12.0h0.9v0.9h-0.9zM13.1 3.0h0.9v0.9h-0.9zM11.2 1.1h0.9v0.9h-0.9z"/><path fill="#e8f0ec" d="M10.5 12.5h0.9v0.9h-0.9zM8.0 2.8h0.9v0.9h-0.9zM0.6 15.7h0.9v0.9h-0.9z"/></pattern><pattern id="pb_sp2" width="19" height="19" patternUnits="userSpaceOnUse"><path fill="#ffffff" d="M0.5 5.0h0.9v0.9h-0.9zM13.3 12.2h0.9v0.9h-0.9zM4.0 9.1h0.9v0.9h-0.9zM3.6 11.8h0.9v0.9h-0.9zM4.0 10.7h0.9v0.9h-0.9z"/><path fill="#F8766D" d="M0.1 14.6h0.9v0.9h-0.9zM6.2 2.8h0.9v0.9h-0.9z"/><path fill="#00B6EB" d="M1.6 7.6h0.9v0.9h-0.9z"/></pattern><pattern id="pb_pk" width="17" height="17" patternUnits="userSpaceOnUse"><path fill="#DF70F8" d="M11.1 2.3h1v1h-1zM10.7 12.7h1v1h-1zM8.0 0.3h1v1h-1zM6.0 13.6h1v1h-1zM12.1 6.9h1v1h-1zM13.6 13.1h1v1h-1zM1.5 8.2h1v1h-1zM12.4 9.6h1v1h-1zM9.2 6.0h1v1h-1zM1.0 15.1h1v1h-1z"/></pattern><pattern id="pd_red0" width="41" height="41" patternUnits="userSpaceOnUse"><path fill="#cf4526" d="M18.1 30.7h1.2v1.2h-1.2zM29.1 17.3h1.2v1.2h-1.2zM1.9 37.1h1.2v1.2h-1.2zM13.8 24.9h1.2v1.2h-1.2zM35.9 32.6h1.2v1.2h-1.2zM25.8 4.9h1.2v1.2h-1.2zM15.7 30.8h1.2v1.2h-1.2zM7.7 33.5h1.2v1.2h-1.2zM35.9 5.0h1.2v1.2h-1.2zM38.5 24.2h1.2v1.2h-1.2zM30.8 20.2h1.2v1.2h-1.2zM23.5 21.0h1.2v1.2h-1.2zM34.0 14.4h1.2v1.2h-1.2zM30.3 32.4h1.2v1.2h-1.2zM5.9 26.9h1.2v1.2h-1.2z"/><path fill="#d9603e" d="M21.2 3.2h1.2v1.2h-1.2zM13.3 12.3h1.2v1.2h-1.2zM8.1 7.1h1.2v1.2h-1.2zM8.4 38.1h1.2v1.2h-1.2zM9.4 17.8h1.2v1.2h-1.2zM25.9 10.1h1.2v1.2h-1.2zM36.2 28.4h1.2v1.2h-1.2zM20.4 19.6h1.2v1.2h-1.2zM6.6 30.0h1.2v1.2h-1.2z"/></pattern><pattern id="pd_red0b" width="29" height="29" patternUnits="userSpaceOnUse"><path fill="#cf4526" d="M9.6 0.0h1.2v1.2h-1.2zM22.9 11.8h1.2v1.2h-1.2zM4.5 11.9h1.2v1.2h-1.2zM3.9 6.8h1.2v1.2h-1.2zM24.1 14.0h1.2v1.2h-1.2zM21.5 19.2h1.2v1.2h-1.2zM24.6 15.5h1.2v1.2h-1.2zM22.4 17.4h1.2v1.2h-1.2z"/><path fill="#d9603e" d="M7.6 9.7h1.2v1.2h-1.2zM10.5 25.5h1.2v1.2h-1.2zM22.6 1.0h1.2v1.2h-1.2zM26.5 20.3h1.2v1.2h-1.2z"/></pattern><pattern id="ph_red0" width="41" height="41" patternUnits="userSpaceOnUse"><path fill="#d96e52" d="M8.1 28.2h1.2v1.2h-1.2zM34.2 10.6h1.2v1.2h-1.2zM17.5 6.7h1.2v1.2h-1.2zM11.1 18.3h1.2v1.2h-1.2zM33.9 11.9h1.2v1.2h-1.2zM14.0 4.0h1.2v1.2h-1.2zM27.3 19.4h1.2v1.2h-1.2zM4.8 5.6h1.2v1.2h-1.2zM19.6 34.3h1.2v1.2h-1.2zM32.6 4.4h1.2v1.2h-1.2zM26.8 31.3h1.2v1.2h-1.2zM29.8 23.1h1.2v1.2h-1.2zM31.2 39.2h1.2v1.2h-1.2zM39.6 11.5h1.2v1.2h-1.2zM20.5 0.1h1.2v1.2h-1.2zM12.2 26.9h1.2v1.2h-1.2zM17.8 4.7h1.2v1.2h-1.2zM39.0 30.2h1.2v1.2h-1.2zM14.5 3.9h1.2v1.2h-1.2zM21.7 39.2h1.2v1.2h-1.2z"/><path fill="#e29076" d="M5.8 21.6h1.2v1.2h-1.2zM4.2 28.5h1.2v1.2h-1.2zM22.1 14.4h1.2v1.2h-1.2zM32.4 28.4h1.2v1.2h-1.2z"/></pattern><pattern id="ph_red0b" width="29" height="29" patternUnits="userSpaceOnUse"><path fill="#d96e52" d="M7.1 22.6h1.2v1.2h-1.2zM21.7 12.7h1.2v1.2h-1.2zM1.2 6.9h1.2v1.2h-1.2zM26.0 6.1h1.2v1.2h-1.2zM9.1 25.7h1.2v1.2h-1.2zM24.2 21.5h1.2v1.2h-1.2zM2.6 25.0h1.2v1.2h-1.2z"/><path fill="#e29076" d="M23.6 15.2h1.2v1.2h-1.2zM7.9 5.9h1.2v1.2h-1.2zM26.4 22.0h1.2v1.2h-1.2zM0.2 8.5h1.2v1.2h-1.2zM27.7 17.7h1.2v1.2h-1.2z"/></pattern><pattern id="pd_red1" width="41" height="41" patternUnits="userSpaceOnUse"><path fill="#cf4526" d="M7.8 38.4h1.2v1.2h-1.2zM8.8 11.5h1.2v1.2h-1.2zM8.5 38.7h1.2v1.2h-1.2zM7.7 3.5h1.2v1.2h-1.2zM25.4 16.1h1.2v1.2h-1.2zM17.1 12.1h1.2v1.2h-1.2zM32.8 27.1h1.2v1.2h-1.2zM35.1 15.7h1.2v1.2h-1.2zM16.8 16.1h1.2v1.2h-1.2zM0.3 18.5h1.2v1.2h-1.2zM13.8 0.9h1.2v1.2h-1.2zM0.4 22.5h1.2v1.2h-1.2zM1.4 7.2h1.2v1.2h-1.2zM6.0 27.3h1.2v1.2h-1.2zM14.4 26.0h1.2v1.2h-1.2zM19.8 34.9h1.2v1.2h-1.2zM34.6 27.5h1.2v1.2h-1.2zM0.2 3.3h1.2v1.2h-1.2zM13.8 37.7h1.2v1.2h-1.2zM30.8 32.2h1.2v1.2h-1.2zM35.4 5.5h1.2v1.2h-1.2zM21.8 27.4h1.2v1.2h-1.2zM2.3 11.1h1.2v1.2h-1.2zM8.1 4.5h1.2v1.2h-1.2zM26.0 35.3h1.2v1.2h-1.2zM25.2 34.1h1.2v1.2h-1.2zM22.7 32.0h1.2v1.2h-1.2zM10.9 26.3h1.2v1.2h-1.2zM21.3 13.3h1.2v1.2h-1.2zM2.6 5.9h1.2v1.2h-1.2zM13.6 14.7h1.2v1.2h-1.2zM26.5 26.9h1.2v1.2h-1.2zM14.5 26.4h1.2v1.2h-1.2zM5.1 21.7h1.2v1.2h-1.2zM26.9 29.2h1.2v1.2h-1.2zM17.3 18.1h1.2v1.2h-1.2zM1.6 2.0h1.2v1.2h-1.2zM10.7 28.3h1.2v1.2h-1.2z"/><path fill="#d9603e" d="M18.6 26.4h1.2v1.2h-1.2zM14.6 18.8h1.2v1.2h-1.2zM33.4 4.7h1.2v1.2h-1.2zM5.6 7.1h1.2v1.2h-1.2zM29.4 35.5h1.2v1.2h-1.2zM35.2 13.4h1.2v1.2h-1.2zM3.6 37.3h1.2v1.2h-1.2zM35.9 12.7h1.2v1.2h-1.2zM11.5 27.0h1.2v1.2h-1.2zM16.0 2.2h1.2v1.2h-1.2zM29.4 17.5h1.2v1.2h-1.2z"/></pattern><pattern id="pd_red1b" width="29" height="29" patternUnits="userSpaceOnUse"><path fill="#cf4526" d="M22.2 13.7h1.2v1.2h-1.2zM6.6 18.6h1.2v1.2h-1.2zM27.0 6.8h1.2v1.2h-1.2zM26.4 23.5h1.2v1.2h-1.2zM17.6 23.8h1.2v1.2h-1.2zM22.7 22.6h1.2v1.2h-1.2zM26.6 21.4h1.2v1.2h-1.2zM26.2 22.9h1.2v1.2h-1.2zM26.8 4.5h1.2v1.2h-1.2zM2.4 12.6h1.2v1.2h-1.2zM25.5 10.7h1.2v1.2h-1.2zM0.1 19.6h1.2v1.2h-1.2zM26.6 20.9h1.2v1.2h-1.2zM15.9 7.8h1.2v1.2h-1.2zM24.1 26.9h1.2v1.2h-1.2zM6.7 12.9h1.2v1.2h-1.2zM16.7 6.1h1.2v1.2h-1.2zM21.9 26.3h1.2v1.2h-1.2zM7.8 26.3h1.2v1.2h-1.2z"/><path fill="#d9603e" d="M2.7 12.4h1.2v1.2h-1.2zM6.1 20.5h1.2v1.2h-1.2zM16.6 0.7h1.2v1.2h-1.2zM8.8 2.0h1.2v1.2h-1.2zM8.6 4.0h1.2v1.2h-1.2z"/></pattern><pattern id="ph_red1" width="41" height="41" patternUnits="userSpaceOnUse"><path fill="#d96e52" d="M13.0 0.1h1.2v1.2h-1.2zM30.0 27.6h1.2v1.2h-1.2zM30.0 18.0h1.2v1.2h-1.2zM19.0 21.3h1.2v1.2h-1.2zM27.7 7.5h1.2v1.2h-1.2zM9.5 10.6h1.2v1.2h-1.2zM30.0 26.5h1.2v1.2h-1.2zM22.9 3.1h1.2v1.2h-1.2zM16.2 21.4h1.2v1.2h-1.2zM3.8 23.2h1.2v1.2h-1.2zM35.5 35.1h1.2v1.2h-1.2zM16.4 28.3h1.2v1.2h-1.2zM38.5 0.5h1.2v1.2h-1.2zM33.5 37.7h1.2v1.2h-1.2zM10.0 23.5h1.2v1.2h-1.2zM27.7 13.6h1.2v1.2h-1.2zM23.4 30.7h1.2v1.2h-1.2zM23.6 22.7h1.2v1.2h-1.2zM0.2 14.8h1.2v1.2h-1.2zM0.1 8.7h1.2v1.2h-1.2zM18.4 34.6h1.2v1.2h-1.2zM31.3 16.4h1.2v1.2h-1.2zM39.3 34.2h1.2v1.2h-1.2zM2.0 23.9h1.2v1.2h-1.2zM7.4 30.1h1.2v1.2h-1.2zM39.4 26.6h1.2v1.2h-1.2zM25.6 9.5h1.2v1.2h-1.2zM24.0 21.7h1.2v1.2h-1.2zM6.6 14.0h1.2v1.2h-1.2zM12.4 31.7h1.2v1.2h-1.2zM1.2 3.7h1.2v1.2h-1.2zM21.9 28.2h1.2v1.2h-1.2zM37.0 0.6h1.2v1.2h-1.2zM5.8 28.0h1.2v1.2h-1.2zM21.1 3.3h1.2v1.2h-1.2zM19.4 4.3h1.2v1.2h-1.2zM1.1 9.0h1.2v1.2h-1.2zM32.0 0.6h1.2v1.2h-1.2z"/><path fill="#e29076" d="M24.3 5.6h1.2v1.2h-1.2zM31.0 27.2h1.2v1.2h-1.2zM20.4 31.2h1.2v1.2h-1.2zM1.5 29.0h1.2v1.2h-1.2zM38.9 6.4h1.2v1.2h-1.2zM4.5 13.4h1.2v1.2h-1.2zM17.3 0.8h1.2v1.2h-1.2zM13.6 12.1h1.2v1.2h-1.2zM1.6 36.1h1.2v1.2h-1.2zM21.3 5.3h1.2v1.2h-1.2zM28.1 15.0h1.2v1.2h-1.2z"/></pattern><pattern id="ph_red1b" width="29" height="29" patternUnits="userSpaceOnUse"><path fill="#d96e52" d="M11.9 22.9h1.2v1.2h-1.2zM5.2 26.2h1.2v1.2h-1.2zM2.1 21.0h1.2v1.2h-1.2zM14.6 0.3h1.2v1.2h-1.2zM27.0 25.5h1.2v1.2h-1.2zM18.5 4.4h1.2v1.2h-1.2zM6.4 14.6h1.2v1.2h-1.2zM13.0 10.8h1.2v1.2h-1.2zM24.4 25.8h1.2v1.2h-1.2zM22.0 17.2h1.2v1.2h-1.2zM14.1 14.3h1.2v1.2h-1.2zM19.5 20.5h1.2v1.2h-1.2zM11.8 0.2h1.2v1.2h-1.2zM27.2 5.0h1.2v1.2h-1.2zM26.1 8.6h1.2v1.2h-1.2zM16.2 16.6h1.2v1.2h-1.2zM24.3 10.6h1.2v1.2h-1.2zM25.9 5.0h1.2v1.2h-1.2zM16.2 4.5h1.2v1.2h-1.2z"/><path fill="#e29076" d="M22.1 10.9h1.2v1.2h-1.2zM5.2 22.0h1.2v1.2h-1.2zM6.9 7.6h1.2v1.2h-1.2zM22.4 9.3h1.2v1.2h-1.2zM24.7 18.1h1.2v1.2h-1.2z"/></pattern><pattern id="pd_red2" width="41" height="41" patternUnits="userSpaceOnUse"><path fill="#cf4526" d="M24.5 6.8h1.2v1.2h-1.2zM24.2 15.3h1.2v1.2h-1.2zM22.5 1.7h1.2v1.2h-1.2zM24.7 20.7h1.2v1.2h-1.2zM5.1 32.2h1.2v1.2h-1.2zM24.3 17.6h1.2v1.2h-1.2zM8.8 21.1h1.2v1.2h-1.2zM24.7 25.1h1.2v1.2h-1.2zM9.8 3.7h1.2v1.2h-1.2zM27.4 20.3h1.2v1.2h-1.2zM17.2 15.9h1.2v1.2h-1.2zM25.1 17.2h1.2v1.2h-1.2zM17.5 26.6h1.2v1.2h-1.2zM37.7 17.8h1.2v1.2h-1.2zM34.6 27.2h1.2v1.2h-1.2zM29.6 23.9h1.2v1.2h-1.2zM34.2 35.1h1.2v1.2h-1.2zM10.1 27.2h1.2v1.2h-1.2zM8.8 16.5h1.2v1.2h-1.2zM19.1 9.2h1.2v1.2h-1.2zM15.5 6.0h1.2v1.2h-1.2zM6.0 16.6h1.2v1.2h-1.2zM29.0 16.5h1.2v1.2h-1.2zM7.5 11.8h1.2v1.2h-1.2zM8.0 18.5h1.2v1.2h-1.2zM6.8 31.4h1.2v1.2h-1.2zM33.3 38.5h1.2v1.2h-1.2zM8.7 25.8h1.2v1.2h-1.2zM36.7 28.1h1.2v1.2h-1.2zM34.5 2.4h1.2v1.2h-1.2zM37.8 5.7h1.2v1.2h-1.2zM23.9 19.2h1.2v1.2h-1.2zM36.4 18.1h1.2v1.2h-1.2zM5.5 0.4h1.2v1.2h-1.2zM11.2 22.1h1.2v1.2h-1.2zM30.2 30.0h1.2v1.2h-1.2zM23.8 18.8h1.2v1.2h-1.2zM35.9 34.9h1.2v1.2h-1.2zM38.2 22.0h1.2v1.2h-1.2zM27.6 4.2h1.2v1.2h-1.2zM2.7 7.0h1.2v1.2h-1.2zM13.5 18.8h1.2v1.2h-1.2zM38.4 9.6h1.2v1.2h-1.2zM8.2 4.3h1.2v1.2h-1.2zM13.5 19.4h1.2v1.2h-1.2zM3.5 2.2h1.2v1.2h-1.2zM39.6 0.7h1.2v1.2h-1.2zM39.6 33.2h1.2v1.2h-1.2zM18.8 33.7h1.2v1.2h-1.2zM17.5 17.9h1.2v1.2h-1.2zM32.4 38.7h1.2v1.2h-1.2zM12.8 32.0h1.2v1.2h-1.2zM32.4 27.1h1.2v1.2h-1.2zM3.4 34.2h1.2v1.2h-1.2zM37.0 8.2h1.2v1.2h-1.2zM6.9 8.7h1.2v1.2h-1.2zM32.7 32.6h1.2v1.2h-1.2zM38.9 38.7h1.2v1.2h-1.2zM36.7 28.6h1.2v1.2h-1.2zM23.3 6.8h1.2v1.2h-1.2zM32.4 0.4h1.2v1.2h-1.2zM17.3 11.3h1.2v1.2h-1.2zM20.8 13.3h1.2v1.2h-1.2zM16.0 27.0h1.2v1.2h-1.2zM31.3 3.3h1.2v1.2h-1.2zM14.6 34.1h1.2v1.2h-1.2zM32.8 20.3h1.2v1.2h-1.2z"/><path fill="#d9603e" d="M29.3 15.0h1.2v1.2h-1.2zM6.6 8.3h1.2v1.2h-1.2zM32.8 25.4h1.2v1.2h-1.2zM24.8 21.2h1.2v1.2h-1.2zM21.0 15.9h1.2v1.2h-1.2zM37.6 6.8h1.2v1.2h-1.2zM8.5 17.8h1.2v1.2h-1.2zM33.0 18.4h1.2v1.2h-1.2zM25.6 9.0h1.2v1.2h-1.2zM18.7 0.3h1.2v1.2h-1.2zM25.4 18.9h1.2v1.2h-1.2zM10.9 31.0h1.2v1.2h-1.2zM38.0 13.6h1.2v1.2h-1.2zM19.3 37.9h1.2v1.2h-1.2zM1.2 20.2h1.2v1.2h-1.2zM25.8 8.2h1.2v1.2h-1.2zM9.1 35.2h1.2v1.2h-1.2zM21.1 38.7h1.2v1.2h-1.2zM33.6 25.2h1.2v1.2h-1.2zM35.5 10.5h1.2v1.2h-1.2zM29.3 11.7h1.2v1.2h-1.2z"/></pattern><pattern id="pd_red2b" width="29" height="29" patternUnits="userSpaceOnUse"><path fill="#cf4526" d="M5.3 1.0h1.2v1.2h-1.2zM14.0 21.5h1.2v1.2h-1.2zM27.0 3.1h1.2v1.2h-1.2zM0.8 6.1h1.2v1.2h-1.2zM27.2 18.9h1.2v1.2h-1.2zM24.0 26.5h1.2v1.2h-1.2zM24.0 8.1h1.2v1.2h-1.2zM23.0 10.5h1.2v1.2h-1.2zM20.3 2.5h1.2v1.2h-1.2zM7.9 26.2h1.2v1.2h-1.2zM23.8 3.8h1.2v1.2h-1.2zM0.3 13.2h1.2v1.2h-1.2zM1.7 6.2h1.2v1.2h-1.2zM3.9 13.5h1.2v1.2h-1.2zM7.0 27.0h1.2v1.2h-1.2zM25.7 1.1h1.2v1.2h-1.2zM19.7 11.0h1.2v1.2h-1.2zM18.6 7.6h1.2v1.2h-1.2zM19.4 12.7h1.2v1.2h-1.2zM6.6 10.1h1.2v1.2h-1.2zM13.1 19.6h1.2v1.2h-1.2zM19.3 6.8h1.2v1.2h-1.2zM19.1 19.1h1.2v1.2h-1.2zM11.8 2.7h1.2v1.2h-1.2zM17.2 18.2h1.2v1.2h-1.2zM13.0 17.1h1.2v1.2h-1.2zM14.0 24.5h1.2v1.2h-1.2zM25.4 13.7h1.2v1.2h-1.2zM13.5 20.8h1.2v1.2h-1.2zM17.3 18.7h1.2v1.2h-1.2zM0.0 19.7h1.2v1.2h-1.2zM27.4 0.3h1.2v1.2h-1.2zM16.3 24.6h1.2v1.2h-1.2z"/><path fill="#d9603e" d="M15.0 15.4h1.2v1.2h-1.2zM5.4 8.1h1.2v1.2h-1.2zM14.5 20.0h1.2v1.2h-1.2zM19.4 25.8h1.2v1.2h-1.2zM7.3 5.3h1.2v1.2h-1.2zM11.4 4.2h1.2v1.2h-1.2zM12.4 20.2h1.2v1.2h-1.2zM25.4 10.0h1.2v1.2h-1.2zM13.2 7.6h1.2v1.2h-1.2zM22.4 15.2h1.2v1.2h-1.2zM0.4 26.0h1.2v1.2h-1.2z"/></pattern><pattern id="ph_red2" width="41" height="41" patternUnits="userSpaceOnUse"><path fill="#d96e52" d="M26.9 38.6h1.2v1.2h-1.2zM33.9 1.4h1.2v1.2h-1.2zM8.0 19.7h1.2v1.2h-1.2zM34.1 20.8h1.2v1.2h-1.2zM28.5 28.2h1.2v1.2h-1.2zM9.9 10.1h1.2v1.2h-1.2zM34.3 10.8h1.2v1.2h-1.2zM35.7 34.6h1.2v1.2h-1.2zM36.4 5.0h1.2v1.2h-1.2zM8.8 31.5h1.2v1.2h-1.2zM39.1 12.3h1.2v1.2h-1.2zM7.6 11.6h1.2v1.2h-1.2zM2.3 7.7h1.2v1.2h-1.2zM20.7 22.8h1.2v1.2h-1.2zM6.3 22.1h1.2v1.2h-1.2zM13.7 38.7h1.2v1.2h-1.2zM0.6 38.1h1.2v1.2h-1.2zM36.6 6.7h1.2v1.2h-1.2zM26.0 37.4h1.2v1.2h-1.2zM7.4 22.2h1.2v1.2h-1.2zM2.2 0.6h1.2v1.2h-1.2zM25.9 18.5h1.2v1.2h-1.2zM1.0 4.0h1.2v1.2h-1.2zM6.2 0.5h1.2v1.2h-1.2zM25.9 38.2h1.2v1.2h-1.2zM0.3 7.8h1.2v1.2h-1.2zM31.5 8.2h1.2v1.2h-1.2zM1.4 21.5h1.2v1.2h-1.2zM26.5 18.7h1.2v1.2h-1.2zM2.9 18.1h1.2v1.2h-1.2zM9.3 22.0h1.2v1.2h-1.2zM16.6 37.5h1.2v1.2h-1.2zM20.1 34.7h1.2v1.2h-1.2zM20.3 14.9h1.2v1.2h-1.2zM6.1 7.6h1.2v1.2h-1.2zM21.4 30.8h1.2v1.2h-1.2zM15.3 22.1h1.2v1.2h-1.2zM38.3 25.3h1.2v1.2h-1.2zM19.6 33.5h1.2v1.2h-1.2zM2.1 23.5h1.2v1.2h-1.2zM31.3 13.5h1.2v1.2h-1.2zM37.2 27.2h1.2v1.2h-1.2zM7.7 7.9h1.2v1.2h-1.2zM36.5 17.6h1.2v1.2h-1.2zM27.5 32.3h1.2v1.2h-1.2zM8.0 38.3h1.2v1.2h-1.2zM39.8 15.8h1.2v1.2h-1.2zM12.0 30.5h1.2v1.2h-1.2zM5.6 3.1h1.2v1.2h-1.2zM22.8 14.6h1.2v1.2h-1.2zM5.0 11.3h1.2v1.2h-1.2zM13.0 27.6h1.2v1.2h-1.2zM29.9 26.4h1.2v1.2h-1.2zM28.0 13.8h1.2v1.2h-1.2zM36.4 21.6h1.2v1.2h-1.2zM29.3 36.9h1.2v1.2h-1.2zM28.5 24.1h1.2v1.2h-1.2zM8.0 24.8h1.2v1.2h-1.2zM17.8 30.9h1.2v1.2h-1.2zM17.2 38.4h1.2v1.2h-1.2zM21.5 7.7h1.2v1.2h-1.2zM14.7 28.5h1.2v1.2h-1.2zM9.9 23.3h1.2v1.2h-1.2zM0.2 37.8h1.2v1.2h-1.2zM33.4 19.8h1.2v1.2h-1.2zM20.6 8.1h1.2v1.2h-1.2zM0.9 14.5h1.2v1.2h-1.2zM17.4 20.8h1.2v1.2h-1.2zM33.3 7.8h1.2v1.2h-1.2zM25.8 0.7h1.2v1.2h-1.2zM4.7 24.5h1.2v1.2h-1.2z"/><path fill="#e29076" d="M25.7 16.3h1.2v1.2h-1.2zM13.0 5.1h1.2v1.2h-1.2zM1.5 10.4h1.2v1.2h-1.2zM39.7 9.6h1.2v1.2h-1.2zM15.5 39.0h1.2v1.2h-1.2zM27.0 38.1h1.2v1.2h-1.2zM19.9 31.3h1.2v1.2h-1.2zM22.5 19.4h1.2v1.2h-1.2zM27.9 34.9h1.2v1.2h-1.2zM14.6 16.6h1.2v1.2h-1.2zM29.4 23.0h1.2v1.2h-1.2zM29.5 11.4h1.2v1.2h-1.2zM25.0 34.4h1.2v1.2h-1.2zM33.1 8.8h1.2v1.2h-1.2zM26.5 7.0h1.2v1.2h-1.2zM32.2 27.7h1.2v1.2h-1.2zM28.6 2.5h1.2v1.2h-1.2z"/></pattern><pattern id="ph_red2b" width="29" height="29" patternUnits="userSpaceOnUse"><path fill="#d96e52" d="M15.3 11.4h1.2v1.2h-1.2zM19.0 23.3h1.2v1.2h-1.2zM21.4 17.3h1.2v1.2h-1.2zM19.3 21.1h1.2v1.2h-1.2zM13.5 22.9h1.2v1.2h-1.2zM7.4 10.4h1.2v1.2h-1.2zM7.8 19.1h1.2v1.2h-1.2zM6.3 18.1h1.2v1.2h-1.2zM21.6 11.8h1.2v1.2h-1.2zM22.7 22.8h1.2v1.2h-1.2zM12.7 5.7h1.2v1.2h-1.2zM3.7 20.4h1.2v1.2h-1.2zM9.1 23.2h1.2v1.2h-1.2zM2.2 11.2h1.2v1.2h-1.2zM3.5 4.0h1.2v1.2h-1.2zM15.3 16.3h1.2v1.2h-1.2zM19.7 16.5h1.2v1.2h-1.2zM10.6 14.9h1.2v1.2h-1.2zM26.0 11.5h1.2v1.2h-1.2zM20.6 4.4h1.2v1.2h-1.2zM5.4 0.8h1.2v1.2h-1.2zM10.8 12.9h1.2v1.2h-1.2zM23.5 8.6h1.2v1.2h-1.2zM25.1 14.4h1.2v1.2h-1.2zM4.8 23.7h1.2v1.2h-1.2zM15.4 12.6h1.2v1.2h-1.2zM0.1 14.1h1.2v1.2h-1.2zM16.3 5.0h1.2v1.2h-1.2zM8.1 27.2h1.2v1.2h-1.2zM5.1 21.7h1.2v1.2h-1.2zM6.7 19.3h1.2v1.2h-1.2zM27.6 18.3h1.2v1.2h-1.2zM17.0 10.0h1.2v1.2h-1.2zM11.4 17.0h1.2v1.2h-1.2z"/><path fill="#e29076" d="M2.7 17.9h1.2v1.2h-1.2zM13.3 4.2h1.2v1.2h-1.2zM3.3 20.8h1.2v1.2h-1.2zM26.2 5.2h1.2v1.2h-1.2zM23.7 17.7h1.2v1.2h-1.2zM16.7 3.9h1.2v1.2h-1.2zM15.1 24.1h1.2v1.2h-1.2zM17.5 16.4h1.2v1.2h-1.2zM11.4 6.9h1.2v1.2h-1.2zM14.1 22.0h1.2v1.2h-1.2z"/></pattern><pattern id="pd_red3" width="41" height="41" patternUnits="userSpaceOnUse"><path fill="#cf4526" d="M8.6 3.1h1.2v1.2h-1.2zM4.9 15.2h1.2v1.2h-1.2zM8.9 33.0h1.2v1.2h-1.2zM9.0 4.3h1.2v1.2h-1.2zM20.8 7.3h1.2v1.2h-1.2zM29.2 28.8h1.2v1.2h-1.2zM31.3 22.8h1.2v1.2h-1.2zM37.6 24.6h1.2v1.2h-1.2zM10.0 11.2h1.2v1.2h-1.2zM39.3 35.3h1.2v1.2h-1.2zM19.2 5.8h1.2v1.2h-1.2zM10.1 4.0h1.2v1.2h-1.2zM3.6 19.3h1.2v1.2h-1.2zM23.8 15.7h1.2v1.2h-1.2zM17.7 1.8h1.2v1.2h-1.2zM34.7 21.6h1.2v1.2h-1.2zM24.8 9.1h1.2v1.2h-1.2zM23.0 25.7h1.2v1.2h-1.2zM19.0 13.2h1.2v1.2h-1.2zM26.9 13.0h1.2v1.2h-1.2zM33.8 21.4h1.2v1.2h-1.2zM14.5 32.5h1.2v1.2h-1.2zM24.5 34.7h1.2v1.2h-1.2zM25.1 2.7h1.2v1.2h-1.2zM35.1 25.0h1.2v1.2h-1.2zM17.1 11.5h1.2v1.2h-1.2zM12.7 10.0h1.2v1.2h-1.2zM15.9 23.6h1.2v1.2h-1.2zM31.6 16.7h1.2v1.2h-1.2zM30.8 35.6h1.2v1.2h-1.2zM21.8 34.7h1.2v1.2h-1.2zM13.3 9.6h1.2v1.2h-1.2zM27.0 34.3h1.2v1.2h-1.2zM0.5 39.8h1.2v1.2h-1.2zM37.2 21.1h1.2v1.2h-1.2zM30.6 31.6h1.2v1.2h-1.2zM26.5 26.0h1.2v1.2h-1.2zM28.9 39.0h1.2v1.2h-1.2zM27.5 11.3h1.2v1.2h-1.2zM11.1 0.9h1.2v1.2h-1.2zM12.9 14.2h1.2v1.2h-1.2zM7.9 4.3h1.2v1.2h-1.2zM12.5 18.1h1.2v1.2h-1.2zM10.9 17.5h1.2v1.2h-1.2zM12.9 26.5h1.2v1.2h-1.2zM15.9 4.4h1.2v1.2h-1.2zM11.9 38.4h1.2v1.2h-1.2zM26.3 20.8h1.2v1.2h-1.2zM5.6 29.9h1.2v1.2h-1.2zM38.8 25.3h1.2v1.2h-1.2zM37.3 16.9h1.2v1.2h-1.2zM4.4 10.1h1.2v1.2h-1.2zM18.3 21.7h1.2v1.2h-1.2zM0.8 10.4h1.2v1.2h-1.2zM26.6 7.9h1.2v1.2h-1.2zM38.1 8.5h1.2v1.2h-1.2zM8.7 34.6h1.2v1.2h-1.2zM23.5 33.9h1.2v1.2h-1.2zM36.5 30.9h1.2v1.2h-1.2zM9.4 21.4h1.2v1.2h-1.2zM31.4 26.0h1.2v1.2h-1.2zM24.0 10.5h1.2v1.2h-1.2zM39.1 25.4h1.2v1.2h-1.2zM9.3 4.7h1.2v1.2h-1.2zM23.6 28.9h1.2v1.2h-1.2zM21.6 3.5h1.2v1.2h-1.2zM4.8 12.7h1.2v1.2h-1.2zM5.7 13.5h1.2v1.2h-1.2zM32.8 37.2h1.2v1.2h-1.2zM39.8 27.7h1.2v1.2h-1.2zM20.9 14.6h1.2v1.2h-1.2zM5.5 1.0h1.2v1.2h-1.2zM36.9 26.0h1.2v1.2h-1.2zM2.5 17.3h1.2v1.2h-1.2zM25.1 16.0h1.2v1.2h-1.2zM5.8 31.7h1.2v1.2h-1.2zM14.7 23.0h1.2v1.2h-1.2zM15.0 29.1h1.2v1.2h-1.2zM33.0 29.7h1.2v1.2h-1.2zM7.3 36.3h1.2v1.2h-1.2zM7.1 8.3h1.2v1.2h-1.2zM34.6 36.1h1.2v1.2h-1.2zM33.6 18.5h1.2v1.2h-1.2zM6.3 23.4h1.2v1.2h-1.2zM23.7 1.2h1.2v1.2h-1.2zM15.8 29.3h1.2v1.2h-1.2zM0.8 18.5h1.2v1.2h-1.2zM31.0 21.5h1.2v1.2h-1.2zM26.2 30.5h1.2v1.2h-1.2zM23.8 13.9h1.2v1.2h-1.2zM3.9 6.4h1.2v1.2h-1.2zM13.6 38.8h1.2v1.2h-1.2zM13.9 7.5h1.2v1.2h-1.2zM20.3 10.2h1.2v1.2h-1.2zM33.1 4.1h1.2v1.2h-1.2zM2.3 16.8h1.2v1.2h-1.2zM1.9 17.9h1.2v1.2h-1.2zM0.6 34.8h1.2v1.2h-1.2zM13.5 31.6h1.2v1.2h-1.2zM28.9 21.9h1.2v1.2h-1.2zM18.4 21.2h1.2v1.2h-1.2z"/><path fill="#d9603e" d="M18.2 28.6h1.2v1.2h-1.2zM34.7 4.7h1.2v1.2h-1.2zM9.9 14.7h1.2v1.2h-1.2zM21.0 28.2h1.2v1.2h-1.2zM3.8 32.4h1.2v1.2h-1.2zM39.3 22.4h1.2v1.2h-1.2zM28.2 11.6h1.2v1.2h-1.2zM17.7 29.8h1.2v1.2h-1.2zM12.3 36.6h1.2v1.2h-1.2zM27.2 13.8h1.2v1.2h-1.2zM11.4 28.8h1.2v1.2h-1.2zM0.4 19.4h1.2v1.2h-1.2zM21.9 4.5h1.2v1.2h-1.2zM31.2 29.9h1.2v1.2h-1.2zM10.1 9.8h1.2v1.2h-1.2zM23.1 19.0h1.2v1.2h-1.2zM4.3 11.4h1.2v1.2h-1.2zM18.3 30.5h1.2v1.2h-1.2zM20.8 37.9h1.2v1.2h-1.2zM27.9 25.5h1.2v1.2h-1.2zM29.7 38.3h1.2v1.2h-1.2zM26.2 1.7h1.2v1.2h-1.2zM28.9 32.6h1.2v1.2h-1.2zM29.3 0.4h1.2v1.2h-1.2zM7.9 9.6h1.2v1.2h-1.2zM10.9 29.0h1.2v1.2h-1.2zM12.1 7.9h1.2v1.2h-1.2zM23.6 3.6h1.2v1.2h-1.2zM22.5 11.9h1.2v1.2h-1.2zM6.1 34.3h1.2v1.2h-1.2zM31.9 9.3h1.2v1.2h-1.2zM1.5 27.7h1.2v1.2h-1.2zM17.1 29.0h1.2v1.2h-1.2zM16.1 32.6h1.2v1.2h-1.2zM6.5 4.9h1.2v1.2h-1.2zM20.2 30.8h1.2v1.2h-1.2zM23.8 6.6h1.2v1.2h-1.2zM30.2 37.2h1.2v1.2h-1.2zM24.6 23.9h1.2v1.2h-1.2zM5.2 20.7h1.2v1.2h-1.2zM20.1 3.6h1.2v1.2h-1.2zM9.2 22.8h1.2v1.2h-1.2zM28.8 2.8h1.2v1.2h-1.2zM38.5 18.5h1.2v1.2h-1.2z"/></pattern><pattern id="pd_red3b" width="29" height="29" patternUnits="userSpaceOnUse"><path fill="#cf4526" d="M26.9 5.4h1.2v1.2h-1.2zM11.1 11.4h1.2v1.2h-1.2zM19.1 16.5h1.2v1.2h-1.2zM10.9 13.7h1.2v1.2h-1.2zM26.1 6.4h1.2v1.2h-1.2zM4.4 16.4h1.2v1.2h-1.2zM18.2 7.0h1.2v1.2h-1.2zM23.3 9.8h1.2v1.2h-1.2zM25.0 13.7h1.2v1.2h-1.2zM15.4 24.3h1.2v1.2h-1.2zM6.6 4.6h1.2v1.2h-1.2zM2.0 12.0h1.2v1.2h-1.2zM3.7 7.0h1.2v1.2h-1.2zM0.7 23.7h1.2v1.2h-1.2zM7.2 19.9h1.2v1.2h-1.2zM7.0 14.0h1.2v1.2h-1.2zM2.0 11.4h1.2v1.2h-1.2zM12.5 9.7h1.2v1.2h-1.2zM9.5 13.3h1.2v1.2h-1.2zM11.7 14.7h1.2v1.2h-1.2zM11.0 2.2h1.2v1.2h-1.2zM14.0 4.4h1.2v1.2h-1.2zM15.5 13.5h1.2v1.2h-1.2zM7.1 22.8h1.2v1.2h-1.2zM25.6 9.5h1.2v1.2h-1.2zM9.3 26.3h1.2v1.2h-1.2zM26.2 27.6h1.2v1.2h-1.2zM22.3 1.2h1.2v1.2h-1.2zM14.1 15.3h1.2v1.2h-1.2zM10.9 25.6h1.2v1.2h-1.2zM0.6 17.9h1.2v1.2h-1.2zM7.1 7.6h1.2v1.2h-1.2zM10.8 27.1h1.2v1.2h-1.2zM4.5 20.5h1.2v1.2h-1.2zM7.7 26.7h1.2v1.2h-1.2zM19.9 11.8h1.2v1.2h-1.2zM25.6 9.1h1.2v1.2h-1.2zM15.5 15.2h1.2v1.2h-1.2zM22.8 12.9h1.2v1.2h-1.2zM14.1 3.8h1.2v1.2h-1.2zM0.3 26.6h1.2v1.2h-1.2zM2.8 5.0h1.2v1.2h-1.2zM0.2 2.1h1.2v1.2h-1.2zM3.5 11.3h1.2v1.2h-1.2zM21.2 0.8h1.2v1.2h-1.2zM6.9 17.4h1.2v1.2h-1.2zM2.1 20.0h1.2v1.2h-1.2zM22.7 9.0h1.2v1.2h-1.2zM16.4 18.7h1.2v1.2h-1.2zM27.3 16.5h1.2v1.2h-1.2z"/><path fill="#d9603e" d="M26.3 7.2h1.2v1.2h-1.2zM23.0 7.1h1.2v1.2h-1.2zM22.9 18.8h1.2v1.2h-1.2zM19.5 23.0h1.2v1.2h-1.2zM27.5 20.4h1.2v1.2h-1.2zM24.6 24.4h1.2v1.2h-1.2zM22.6 19.2h1.2v1.2h-1.2zM27.6 25.2h1.2v1.2h-1.2zM13.5 5.1h1.2v1.2h-1.2zM1.1 26.3h1.2v1.2h-1.2zM18.8 1.1h1.2v1.2h-1.2zM4.3 5.1h1.2v1.2h-1.2zM7.1 9.3h1.2v1.2h-1.2zM1.2 27.5h1.2v1.2h-1.2zM23.9 4.9h1.2v1.2h-1.2zM15.3 21.7h1.2v1.2h-1.2zM2.0 1.3h1.2v1.2h-1.2zM3.8 20.8h1.2v1.2h-1.2zM4.0 21.2h1.2v1.2h-1.2zM12.6 15.8h1.2v1.2h-1.2zM6.0 2.7h1.2v1.2h-1.2zM7.5 17.4h1.2v1.2h-1.2zM5.2 22.1h1.2v1.2h-1.2z"/></pattern><pattern id="ph_red3" width="41" height="41" patternUnits="userSpaceOnUse"><path fill="#d96e52" d="M33.5 23.9h1.2v1.2h-1.2zM31.0 23.7h1.2v1.2h-1.2zM8.0 29.8h1.2v1.2h-1.2zM2.9 23.7h1.2v1.2h-1.2zM7.1 0.7h1.2v1.2h-1.2zM34.6 2.7h1.2v1.2h-1.2zM33.0 11.2h1.2v1.2h-1.2zM13.4 12.9h1.2v1.2h-1.2zM31.1 3.2h1.2v1.2h-1.2zM11.2 30.9h1.2v1.2h-1.2zM1.8 7.3h1.2v1.2h-1.2zM28.3 25.5h1.2v1.2h-1.2zM32.1 37.7h1.2v1.2h-1.2zM15.6 33.3h1.2v1.2h-1.2zM36.0 17.6h1.2v1.2h-1.2zM33.7 19.3h1.2v1.2h-1.2zM32.6 31.6h1.2v1.2h-1.2zM21.4 26.7h1.2v1.2h-1.2zM9.6 5.9h1.2v1.2h-1.2zM3.1 8.8h1.2v1.2h-1.2zM34.7 27.7h1.2v1.2h-1.2zM36.5 25.5h1.2v1.2h-1.2zM30.6 16.3h1.2v1.2h-1.2zM1.0 3.0h1.2v1.2h-1.2zM15.6 4.4h1.2v1.2h-1.2zM12.1 3.5h1.2v1.2h-1.2zM36.5 25.0h1.2v1.2h-1.2zM9.9 37.9h1.2v1.2h-1.2zM10.0 22.5h1.2v1.2h-1.2zM11.4 23.5h1.2v1.2h-1.2zM1.9 16.9h1.2v1.2h-1.2zM35.1 18.6h1.2v1.2h-1.2zM16.8 25.3h1.2v1.2h-1.2zM10.2 6.9h1.2v1.2h-1.2zM21.6 2.0h1.2v1.2h-1.2zM5.8 37.2h1.2v1.2h-1.2zM22.6 5.5h1.2v1.2h-1.2zM38.3 33.2h1.2v1.2h-1.2zM20.1 17.4h1.2v1.2h-1.2zM28.4 28.7h1.2v1.2h-1.2zM37.4 10.7h1.2v1.2h-1.2zM15.5 0.1h1.2v1.2h-1.2zM19.0 10.6h1.2v1.2h-1.2zM19.0 23.1h1.2v1.2h-1.2zM13.6 14.5h1.2v1.2h-1.2zM6.8 17.2h1.2v1.2h-1.2zM24.4 1.8h1.2v1.2h-1.2zM22.7 39.5h1.2v1.2h-1.2zM39.7 10.3h1.2v1.2h-1.2zM26.3 16.7h1.2v1.2h-1.2zM22.5 32.1h1.2v1.2h-1.2zM1.4 17.9h1.2v1.2h-1.2zM36.0 33.1h1.2v1.2h-1.2zM0.5 18.1h1.2v1.2h-1.2zM5.3 14.0h1.2v1.2h-1.2zM20.1 24.3h1.2v1.2h-1.2zM6.2 6.1h1.2v1.2h-1.2zM27.6 30.7h1.2v1.2h-1.2zM5.5 0.4h1.2v1.2h-1.2zM2.0 18.3h1.2v1.2h-1.2zM0.7 19.3h1.2v1.2h-1.2zM13.6 34.4h1.2v1.2h-1.2zM20.8 9.3h1.2v1.2h-1.2zM18.5 35.8h1.2v1.2h-1.2zM7.1 0.3h1.2v1.2h-1.2zM10.1 33.1h1.2v1.2h-1.2zM31.4 15.8h1.2v1.2h-1.2zM12.3 37.0h1.2v1.2h-1.2zM23.9 29.3h1.2v1.2h-1.2zM24.8 13.9h1.2v1.2h-1.2zM27.0 4.3h1.2v1.2h-1.2zM34.2 18.0h1.2v1.2h-1.2zM24.1 12.5h1.2v1.2h-1.2zM21.8 32.7h1.2v1.2h-1.2zM4.7 32.2h1.2v1.2h-1.2zM6.0 23.5h1.2v1.2h-1.2zM19.7 10.7h1.2v1.2h-1.2zM32.8 38.8h1.2v1.2h-1.2zM10.6 20.0h1.2v1.2h-1.2zM15.1 5.9h1.2v1.2h-1.2zM13.8 5.7h1.2v1.2h-1.2zM23.3 13.7h1.2v1.2h-1.2zM20.2 16.2h1.2v1.2h-1.2zM23.7 1.1h1.2v1.2h-1.2zM17.8 22.8h1.2v1.2h-1.2zM30.1 17.4h1.2v1.2h-1.2zM4.8 5.6h1.2v1.2h-1.2zM20.6 32.1h1.2v1.2h-1.2zM32.8 15.4h1.2v1.2h-1.2zM1.7 17.4h1.2v1.2h-1.2zM35.2 7.3h1.2v1.2h-1.2zM23.4 0.3h1.2v1.2h-1.2zM17.0 37.4h1.2v1.2h-1.2zM29.4 5.0h1.2v1.2h-1.2zM1.2 35.7h1.2v1.2h-1.2zM8.8 13.6h1.2v1.2h-1.2zM12.5 28.5h1.2v1.2h-1.2z"/><path fill="#e29076" d="M24.3 28.8h1.2v1.2h-1.2zM13.7 3.8h1.2v1.2h-1.2zM4.7 22.2h1.2v1.2h-1.2zM14.0 10.4h1.2v1.2h-1.2zM15.0 23.9h1.2v1.2h-1.2zM9.1 29.4h1.2v1.2h-1.2zM2.6 8.6h1.2v1.2h-1.2zM39.5 36.6h1.2v1.2h-1.2zM28.5 27.6h1.2v1.2h-1.2zM18.5 6.7h1.2v1.2h-1.2zM39.7 37.4h1.2v1.2h-1.2zM16.8 31.5h1.2v1.2h-1.2zM10.0 30.5h1.2v1.2h-1.2zM30.5 38.7h1.2v1.2h-1.2zM6.5 34.2h1.2v1.2h-1.2zM15.1 13.7h1.2v1.2h-1.2zM12.0 10.5h1.2v1.2h-1.2zM2.7 35.5h1.2v1.2h-1.2zM8.8 2.0h1.2v1.2h-1.2zM20.3 5.3h1.2v1.2h-1.2zM23.3 26.9h1.2v1.2h-1.2zM7.7 36.1h1.2v1.2h-1.2zM3.8 2.2h1.2v1.2h-1.2zM34.0 3.0h1.2v1.2h-1.2zM36.1 11.9h1.2v1.2h-1.2zM32.2 16.7h1.2v1.2h-1.2zM3.1 3.7h1.2v1.2h-1.2zM29.0 3.4h1.2v1.2h-1.2zM38.5 23.2h1.2v1.2h-1.2zM19.7 38.4h1.2v1.2h-1.2zM25.4 27.2h1.2v1.2h-1.2zM28.0 29.4h1.2v1.2h-1.2zM5.2 36.5h1.2v1.2h-1.2zM19.4 34.6h1.2v1.2h-1.2zM26.5 20.7h1.2v1.2h-1.2zM2.1 10.5h1.2v1.2h-1.2zM26.5 2.2h1.2v1.2h-1.2zM13.7 7.3h1.2v1.2h-1.2zM37.4 27.0h1.2v1.2h-1.2zM15.6 2.3h1.2v1.2h-1.2zM30.7 3.5h1.2v1.2h-1.2zM34.3 4.1h1.2v1.2h-1.2zM22.6 5.0h1.2v1.2h-1.2zM9.8 13.9h1.2v1.2h-1.2zM32.6 22.7h1.2v1.2h-1.2zM39.6 23.3h1.2v1.2h-1.2zM1.1 2.7h1.2v1.2h-1.2zM32.3 3.7h1.2v1.2h-1.2z"/></pattern><pattern id="ph_red3b" width="29" height="29" patternUnits="userSpaceOnUse"><path fill="#d96e52" d="M9.5 21.8h1.2v1.2h-1.2zM27.5 24.4h1.2v1.2h-1.2zM19.3 26.8h1.2v1.2h-1.2zM24.5 25.4h1.2v1.2h-1.2zM4.4 21.0h1.2v1.2h-1.2zM12.9 22.6h1.2v1.2h-1.2zM18.8 22.1h1.2v1.2h-1.2zM8.1 9.7h1.2v1.2h-1.2zM24.3 18.4h1.2v1.2h-1.2zM15.1 19.3h1.2v1.2h-1.2zM21.2 15.7h1.2v1.2h-1.2zM2.9 4.7h1.2v1.2h-1.2zM19.3 25.5h1.2v1.2h-1.2zM20.1 14.4h1.2v1.2h-1.2zM10.8 12.7h1.2v1.2h-1.2zM9.0 13.3h1.2v1.2h-1.2zM14.0 2.0h1.2v1.2h-1.2zM9.9 20.4h1.2v1.2h-1.2zM16.6 17.2h1.2v1.2h-1.2zM2.8 9.8h1.2v1.2h-1.2zM20.0 6.8h1.2v1.2h-1.2zM5.0 10.6h1.2v1.2h-1.2zM25.7 12.4h1.2v1.2h-1.2zM25.7 1.2h1.2v1.2h-1.2zM24.1 18.4h1.2v1.2h-1.2zM25.0 10.7h1.2v1.2h-1.2zM15.5 10.3h1.2v1.2h-1.2zM21.6 8.3h1.2v1.2h-1.2zM11.1 5.9h1.2v1.2h-1.2zM1.9 15.7h1.2v1.2h-1.2zM14.0 12.2h1.2v1.2h-1.2zM13.0 3.2h1.2v1.2h-1.2zM23.2 17.8h1.2v1.2h-1.2zM12.0 17.0h1.2v1.2h-1.2zM15.3 0.2h1.2v1.2h-1.2zM27.2 3.1h1.2v1.2h-1.2zM20.2 15.3h1.2v1.2h-1.2zM22.5 17.8h1.2v1.2h-1.2zM12.5 13.0h1.2v1.2h-1.2zM0.1 4.2h1.2v1.2h-1.2zM16.3 14.7h1.2v1.2h-1.2zM15.4 26.7h1.2v1.2h-1.2zM13.8 19.8h1.2v1.2h-1.2zM4.9 17.5h1.2v1.2h-1.2zM24.9 25.6h1.2v1.2h-1.2zM0.2 13.3h1.2v1.2h-1.2zM27.8 25.8h1.2v1.2h-1.2zM18.1 10.8h1.2v1.2h-1.2zM16.5 7.1h1.2v1.2h-1.2zM27.4 18.0h1.2v1.2h-1.2zM13.3 11.9h1.2v1.2h-1.2zM23.9 20.4h1.2v1.2h-1.2z"/><path fill="#e29076" d="M27.5 20.4h1.2v1.2h-1.2zM20.7 24.9h1.2v1.2h-1.2zM16.2 22.2h1.2v1.2h-1.2zM26.9 20.8h1.2v1.2h-1.2zM3.3 14.2h1.2v1.2h-1.2zM11.5 26.3h1.2v1.2h-1.2zM18.0 10.2h1.2v1.2h-1.2zM7.2 26.0h1.2v1.2h-1.2zM23.5 10.7h1.2v1.2h-1.2zM9.8 9.1h1.2v1.2h-1.2zM13.1 26.9h1.2v1.2h-1.2zM18.8 16.9h1.2v1.2h-1.2zM4.8 26.6h1.2v1.2h-1.2zM23.0 2.2h1.2v1.2h-1.2zM19.0 6.5h1.2v1.2h-1.2zM16.9 24.4h1.2v1.2h-1.2zM12.3 13.8h1.2v1.2h-1.2zM26.2 11.2h1.2v1.2h-1.2zM15.7 6.5h1.2v1.2h-1.2zM19.5 14.8h1.2v1.2h-1.2zM12.4 6.0h1.2v1.2h-1.2z"/></pattern><pattern id="pd_red4" width="41" height="41" patternUnits="userSpaceOnUse"><path fill="#cf4526" d="M13.2 28.4h1.2v1.2h-1.2zM25.7 34.3h1.2v1.2h-1.2zM15.6 12.8h1.2v1.2h-1.2zM25.0 16.3h1.2v1.2h-1.2zM21.3 10.3h1.2v1.2h-1.2zM22.6 4.0h1.2v1.2h-1.2zM31.9 33.0h1.2v1.2h-1.2zM16.5 36.8h1.2v1.2h-1.2zM39.5 8.0h1.2v1.2h-1.2zM1.6 15.1h1.2v1.2h-1.2zM6.4 24.9h1.2v1.2h-1.2zM6.1 0.4h1.2v1.2h-1.2zM28.6 25.1h1.2v1.2h-1.2zM21.3 28.6h1.2v1.2h-1.2zM33.5 27.6h1.2v1.2h-1.2zM20.8 29.2h1.2v1.2h-1.2zM1.1 36.5h1.2v1.2h-1.2zM19.3 18.0h1.2v1.2h-1.2zM23.0 23.5h1.2v1.2h-1.2zM38.2 25.3h1.2v1.2h-1.2zM6.5 13.2h1.2v1.2h-1.2zM3.4 8.4h1.2v1.2h-1.2zM9.9 31.8h1.2v1.2h-1.2zM8.0 2.2h1.2v1.2h-1.2zM9.1 21.1h1.2v1.2h-1.2zM7.8 19.4h1.2v1.2h-1.2zM35.2 22.4h1.2v1.2h-1.2zM21.9 37.7h1.2v1.2h-1.2zM15.7 8.6h1.2v1.2h-1.2zM30.8 24.4h1.2v1.2h-1.2zM35.8 5.3h1.2v1.2h-1.2zM30.9 36.4h1.2v1.2h-1.2zM0.4 22.3h1.2v1.2h-1.2zM1.2 13.9h1.2v1.2h-1.2zM31.8 12.2h1.2v1.2h-1.2zM26.9 0.5h1.2v1.2h-1.2zM4.7 31.8h1.2v1.2h-1.2zM14.7 32.3h1.2v1.2h-1.2zM12.5 17.5h1.2v1.2h-1.2zM38.7 26.7h1.2v1.2h-1.2zM6.4 23.2h1.2v1.2h-1.2zM37.0 12.1h1.2v1.2h-1.2zM32.8 33.0h1.2v1.2h-1.2zM22.9 5.8h1.2v1.2h-1.2zM1.3 37.0h1.2v1.2h-1.2zM28.5 0.0h1.2v1.2h-1.2zM24.0 7.3h1.2v1.2h-1.2zM35.7 11.4h1.2v1.2h-1.2zM28.0 39.4h1.2v1.2h-1.2zM1.4 16.6h1.2v1.2h-1.2zM9.7 16.6h1.2v1.2h-1.2zM26.2 33.1h1.2v1.2h-1.2zM20.6 26.9h1.2v1.2h-1.2zM10.7 26.1h1.2v1.2h-1.2zM38.0 33.8h1.2v1.2h-1.2zM1.4 0.6h1.2v1.2h-1.2zM20.3 37.6h1.2v1.2h-1.2zM31.4 30.0h1.2v1.2h-1.2zM6.1 8.1h1.2v1.2h-1.2zM1.1 35.1h1.2v1.2h-1.2zM9.6 31.8h1.2v1.2h-1.2zM30.3 17.9h1.2v1.2h-1.2zM15.8 39.2h1.2v1.2h-1.2zM11.3 7.1h1.2v1.2h-1.2zM7.9 33.8h1.2v1.2h-1.2zM37.8 4.8h1.2v1.2h-1.2zM1.1 1.8h1.2v1.2h-1.2zM23.4 21.9h1.2v1.2h-1.2zM9.3 23.8h1.2v1.2h-1.2zM38.4 25.3h1.2v1.2h-1.2zM19.7 3.2h1.2v1.2h-1.2zM27.8 10.0h1.2v1.2h-1.2zM36.0 7.3h1.2v1.2h-1.2zM30.3 29.6h1.2v1.2h-1.2zM20.3 36.9h1.2v1.2h-1.2zM11.7 7.9h1.2v1.2h-1.2zM29.0 16.8h1.2v1.2h-1.2zM28.1 15.5h1.2v1.2h-1.2zM27.5 24.7h1.2v1.2h-1.2zM12.2 28.9h1.2v1.2h-1.2zM9.3 7.4h1.2v1.2h-1.2zM19.8 28.2h1.2v1.2h-1.2zM32.8 1.6h1.2v1.2h-1.2zM12.2 14.5h1.2v1.2h-1.2zM3.4 16.8h1.2v1.2h-1.2zM0.9 36.4h1.2v1.2h-1.2zM39.0 21.5h1.2v1.2h-1.2zM14.8 13.7h1.2v1.2h-1.2zM3.2 27.5h1.2v1.2h-1.2zM10.1 33.6h1.2v1.2h-1.2zM23.9 30.6h1.2v1.2h-1.2zM21.6 30.8h1.2v1.2h-1.2zM22.7 38.7h1.2v1.2h-1.2zM14.3 5.4h1.2v1.2h-1.2zM31.2 10.6h1.2v1.2h-1.2zM36.6 2.6h1.2v1.2h-1.2zM19.8 4.3h1.2v1.2h-1.2zM26.3 35.2h1.2v1.2h-1.2zM35.6 13.6h1.2v1.2h-1.2zM27.3 29.5h1.2v1.2h-1.2zM14.1 33.7h1.2v1.2h-1.2zM21.2 10.0h1.2v1.2h-1.2zM3.4 9.7h1.2v1.2h-1.2zM8.9 24.8h1.2v1.2h-1.2zM33.8 22.5h1.2v1.2h-1.2zM13.9 33.0h1.2v1.2h-1.2zM6.5 17.7h1.2v1.2h-1.2zM15.8 6.3h1.2v1.2h-1.2zM34.5 15.6h1.2v1.2h-1.2zM31.2 11.0h1.2v1.2h-1.2zM34.4 22.4h1.2v1.2h-1.2zM21.8 26.2h1.2v1.2h-1.2zM21.6 5.4h1.2v1.2h-1.2zM7.0 32.6h1.2v1.2h-1.2zM23.2 36.5h1.2v1.2h-1.2zM13.5 23.7h1.2v1.2h-1.2zM10.1 8.3h1.2v1.2h-1.2zM12.7 14.7h1.2v1.2h-1.2zM36.0 9.1h1.2v1.2h-1.2zM26.8 33.9h1.2v1.2h-1.2zM25.7 7.0h1.2v1.2h-1.2zM22.6 5.7h1.2v1.2h-1.2zM26.4 30.9h1.2v1.2h-1.2zM33.4 29.6h1.2v1.2h-1.2zM26.2 10.2h1.2v1.2h-1.2zM11.3 5.6h1.2v1.2h-1.2zM36.8 18.7h1.2v1.2h-1.2zM25.5 7.8h1.2v1.2h-1.2zM29.4 8.3h1.2v1.2h-1.2zM17.7 26.4h1.2v1.2h-1.2zM37.9 23.9h1.2v1.2h-1.2zM10.1 16.2h1.2v1.2h-1.2zM24.1 36.4h1.2v1.2h-1.2zM13.8 11.2h1.2v1.2h-1.2zM24.2 11.7h1.2v1.2h-1.2zM2.6 36.7h1.2v1.2h-1.2zM5.1 16.5h1.2v1.2h-1.2zM27.9 19.0h1.2v1.2h-1.2zM12.3 24.8h1.2v1.2h-1.2zM36.4 30.5h1.2v1.2h-1.2zM5.0 15.3h1.2v1.2h-1.2zM7.2 7.1h1.2v1.2h-1.2zM29.3 18.4h1.2v1.2h-1.2zM15.8 36.2h1.2v1.2h-1.2zM6.0 18.5h1.2v1.2h-1.2zM16.7 32.4h1.2v1.2h-1.2zM11.2 22.4h1.2v1.2h-1.2zM35.9 17.6h1.2v1.2h-1.2zM11.0 11.1h1.2v1.2h-1.2zM0.0 37.0h1.2v1.2h-1.2zM28.0 18.3h1.2v1.2h-1.2zM12.1 35.9h1.2v1.2h-1.2zM20.6 11.0h1.2v1.2h-1.2zM4.0 38.0h1.2v1.2h-1.2zM28.0 29.6h1.2v1.2h-1.2zM36.1 12.4h1.2v1.2h-1.2zM30.7 31.9h1.2v1.2h-1.2zM30.9 39.0h1.2v1.2h-1.2zM13.7 15.8h1.2v1.2h-1.2zM7.7 33.8h1.2v1.2h-1.2zM6.2 29.0h1.2v1.2h-1.2zM30.1 8.1h1.2v1.2h-1.2zM18.7 28.4h1.2v1.2h-1.2zM38.0 37.1h1.2v1.2h-1.2zM33.4 39.8h1.2v1.2h-1.2zM16.5 22.2h1.2v1.2h-1.2zM39.6 12.4h1.2v1.2h-1.2zM30.4 32.0h1.2v1.2h-1.2zM10.4 21.1h1.2v1.2h-1.2z"/><path fill="#d9603e" d="M34.7 29.1h1.2v1.2h-1.2zM0.7 6.6h1.2v1.2h-1.2zM4.7 26.1h1.2v1.2h-1.2zM1.6 26.6h1.2v1.2h-1.2zM21.8 25.2h1.2v1.2h-1.2zM39.7 7.1h1.2v1.2h-1.2zM9.7 2.9h1.2v1.2h-1.2zM35.4 33.4h1.2v1.2h-1.2zM24.4 12.2h1.2v1.2h-1.2zM0.5 27.4h1.2v1.2h-1.2zM1.5 7.1h1.2v1.2h-1.2zM2.7 3.8h1.2v1.2h-1.2zM24.6 9.3h1.2v1.2h-1.2zM8.8 8.3h1.2v1.2h-1.2zM20.7 39.0h1.2v1.2h-1.2zM18.7 17.4h1.2v1.2h-1.2zM18.7 2.3h1.2v1.2h-1.2zM1.9 12.6h1.2v1.2h-1.2zM32.2 31.2h1.2v1.2h-1.2zM21.6 25.5h1.2v1.2h-1.2zM11.0 19.8h1.2v1.2h-1.2zM13.1 27.8h1.2v1.2h-1.2zM12.8 9.4h1.2v1.2h-1.2zM36.2 23.0h1.2v1.2h-1.2zM3.9 6.0h1.2v1.2h-1.2zM27.9 2.5h1.2v1.2h-1.2zM4.0 22.0h1.2v1.2h-1.2zM15.8 5.0h1.2v1.2h-1.2zM22.5 11.0h1.2v1.2h-1.2zM11.3 5.6h1.2v1.2h-1.2zM37.2 9.5h1.2v1.2h-1.2zM0.5 7.6h1.2v1.2h-1.2zM39.1 33.8h1.2v1.2h-1.2zM26.7 38.0h1.2v1.2h-1.2zM27.5 34.0h1.2v1.2h-1.2zM29.6 16.6h1.2v1.2h-1.2zM24.0 15.1h1.2v1.2h-1.2zM36.6 14.2h1.2v1.2h-1.2zM0.1 4.3h1.2v1.2h-1.2zM28.9 35.0h1.2v1.2h-1.2zM8.8 17.6h1.2v1.2h-1.2zM25.4 31.8h1.2v1.2h-1.2zM24.4 24.2h1.2v1.2h-1.2zM27.8 29.1h1.2v1.2h-1.2zM19.5 21.2h1.2v1.2h-1.2zM9.2 32.2h1.2v1.2h-1.2zM8.5 10.1h1.2v1.2h-1.2zM31.3 15.6h1.2v1.2h-1.2zM15.1 26.2h1.2v1.2h-1.2zM14.4 18.0h1.2v1.2h-1.2zM4.1 31.4h1.2v1.2h-1.2zM25.9 16.4h1.2v1.2h-1.2zM17.8 19.4h1.2v1.2h-1.2zM21.9 9.3h1.2v1.2h-1.2zM10.1 11.9h1.2v1.2h-1.2zM11.5 36.9h1.2v1.2h-1.2z"/></pattern><pattern id="pd_red4b" width="29" height="29" patternUnits="userSpaceOnUse"><path fill="#cf4526" d="M11.9 23.7h1.2v1.2h-1.2zM6.5 18.6h1.2v1.2h-1.2zM16.2 6.4h1.2v1.2h-1.2zM10.6 15.7h1.2v1.2h-1.2zM8.8 11.0h1.2v1.2h-1.2zM8.1 7.2h1.2v1.2h-1.2zM24.6 22.5h1.2v1.2h-1.2zM22.9 12.4h1.2v1.2h-1.2zM0.6 12.7h1.2v1.2h-1.2zM0.1 13.2h1.2v1.2h-1.2zM15.0 25.5h1.2v1.2h-1.2zM1.8 2.6h1.2v1.2h-1.2zM18.3 6.3h1.2v1.2h-1.2zM1.5 3.6h1.2v1.2h-1.2zM3.8 7.5h1.2v1.2h-1.2zM11.4 23.9h1.2v1.2h-1.2zM18.9 16.3h1.2v1.2h-1.2zM8.3 4.9h1.2v1.2h-1.2zM21.1 11.1h1.2v1.2h-1.2zM22.2 7.9h1.2v1.2h-1.2zM10.5 9.8h1.2v1.2h-1.2zM18.2 21.8h1.2v1.2h-1.2zM13.2 8.4h1.2v1.2h-1.2zM20.2 25.0h1.2v1.2h-1.2zM24.2 0.7h1.2v1.2h-1.2zM8.8 18.4h1.2v1.2h-1.2zM5.5 14.9h1.2v1.2h-1.2zM22.5 26.7h1.2v1.2h-1.2zM18.4 1.7h1.2v1.2h-1.2zM16.7 1.8h1.2v1.2h-1.2zM12.7 21.9h1.2v1.2h-1.2zM4.3 14.2h1.2v1.2h-1.2zM8.9 14.2h1.2v1.2h-1.2zM2.9 24.3h1.2v1.2h-1.2zM5.0 11.8h1.2v1.2h-1.2zM22.3 17.4h1.2v1.2h-1.2zM5.9 1.8h1.2v1.2h-1.2zM4.1 26.2h1.2v1.2h-1.2zM14.2 4.2h1.2v1.2h-1.2zM13.5 21.1h1.2v1.2h-1.2zM14.1 24.6h1.2v1.2h-1.2zM9.6 12.2h1.2v1.2h-1.2zM9.9 12.4h1.2v1.2h-1.2zM17.5 2.6h1.2v1.2h-1.2zM8.5 9.3h1.2v1.2h-1.2zM15.2 27.7h1.2v1.2h-1.2zM20.8 2.2h1.2v1.2h-1.2zM27.5 11.1h1.2v1.2h-1.2zM24.6 12.9h1.2v1.2h-1.2zM15.1 22.3h1.2v1.2h-1.2zM3.1 17.9h1.2v1.2h-1.2zM15.2 4.6h1.2v1.2h-1.2zM15.6 8.0h1.2v1.2h-1.2zM4.9 17.2h1.2v1.2h-1.2zM12.3 5.8h1.2v1.2h-1.2zM13.9 21.2h1.2v1.2h-1.2zM21.4 13.2h1.2v1.2h-1.2zM1.8 23.9h1.2v1.2h-1.2zM8.4 24.4h1.2v1.2h-1.2zM1.1 27.3h1.2v1.2h-1.2zM17.6 0.9h1.2v1.2h-1.2zM10.1 27.5h1.2v1.2h-1.2zM5.5 18.8h1.2v1.2h-1.2zM7.3 18.2h1.2v1.2h-1.2zM17.0 20.8h1.2v1.2h-1.2zM24.0 22.8h1.2v1.2h-1.2zM0.8 7.7h1.2v1.2h-1.2zM0.1 1.2h1.2v1.2h-1.2zM26.2 20.2h1.2v1.2h-1.2zM2.0 15.7h1.2v1.2h-1.2zM21.8 5.6h1.2v1.2h-1.2zM7.0 17.0h1.2v1.2h-1.2zM16.7 24.0h1.2v1.2h-1.2zM25.1 18.9h1.2v1.2h-1.2zM8.2 10.3h1.2v1.2h-1.2zM1.4 3.7h1.2v1.2h-1.2zM26.3 23.8h1.2v1.2h-1.2zM1.9 1.3h1.2v1.2h-1.2zM10.7 2.1h1.2v1.2h-1.2zM27.3 16.6h1.2v1.2h-1.2zM18.8 26.6h1.2v1.2h-1.2z"/><path fill="#d9603e" d="M1.4 8.0h1.2v1.2h-1.2zM2.4 10.9h1.2v1.2h-1.2zM26.3 8.6h1.2v1.2h-1.2zM12.8 2.8h1.2v1.2h-1.2zM22.3 2.7h1.2v1.2h-1.2zM1.9 20.4h1.2v1.2h-1.2zM0.1 8.2h1.2v1.2h-1.2zM1.3 10.1h1.2v1.2h-1.2zM7.7 3.1h1.2v1.2h-1.2zM6.3 6.0h1.2v1.2h-1.2zM22.5 4.4h1.2v1.2h-1.2zM10.6 25.3h1.2v1.2h-1.2zM17.1 7.3h1.2v1.2h-1.2zM13.0 0.9h1.2v1.2h-1.2zM9.7 1.4h1.2v1.2h-1.2zM3.9 24.3h1.2v1.2h-1.2zM25.0 9.2h1.2v1.2h-1.2zM15.6 9.5h1.2v1.2h-1.2zM22.0 17.4h1.2v1.2h-1.2zM11.0 5.4h1.2v1.2h-1.2zM25.1 27.7h1.2v1.2h-1.2zM25.7 18.9h1.2v1.2h-1.2zM20.0 1.8h1.2v1.2h-1.2zM20.3 17.6h1.2v1.2h-1.2zM24.1 23.3h1.2v1.2h-1.2zM1.4 9.4h1.2v1.2h-1.2zM2.8 15.8h1.2v1.2h-1.2zM18.1 13.9h1.2v1.2h-1.2zM13.8 7.8h1.2v1.2h-1.2zM21.2 21.0h1.2v1.2h-1.2zM12.5 17.1h1.2v1.2h-1.2zM16.5 25.1h1.2v1.2h-1.2z"/></pattern><pattern id="ph_red4" width="41" height="41" patternUnits="userSpaceOnUse"><path fill="#d96e52" d="M3.4 23.2h1.2v1.2h-1.2zM19.2 13.2h1.2v1.2h-1.2zM6.3 38.5h1.2v1.2h-1.2zM2.7 26.8h1.2v1.2h-1.2zM7.9 11.7h1.2v1.2h-1.2zM6.8 12.1h1.2v1.2h-1.2zM12.9 32.1h1.2v1.2h-1.2zM1.4 37.6h1.2v1.2h-1.2zM17.8 16.1h1.2v1.2h-1.2zM39.7 38.8h1.2v1.2h-1.2zM32.2 14.4h1.2v1.2h-1.2zM28.6 35.1h1.2v1.2h-1.2zM37.5 28.9h1.2v1.2h-1.2zM18.1 27.4h1.2v1.2h-1.2zM22.5 38.5h1.2v1.2h-1.2zM35.7 39.7h1.2v1.2h-1.2zM16.1 21.1h1.2v1.2h-1.2zM31.9 30.6h1.2v1.2h-1.2zM15.0 30.3h1.2v1.2h-1.2zM29.9 22.3h1.2v1.2h-1.2zM14.4 35.7h1.2v1.2h-1.2zM19.0 39.3h1.2v1.2h-1.2zM31.4 16.2h1.2v1.2h-1.2zM37.1 13.7h1.2v1.2h-1.2zM30.4 39.0h1.2v1.2h-1.2zM29.6 18.3h1.2v1.2h-1.2zM37.0 11.6h1.2v1.2h-1.2zM23.5 25.3h1.2v1.2h-1.2zM30.5 34.3h1.2v1.2h-1.2zM28.6 21.3h1.2v1.2h-1.2zM20.5 27.1h1.2v1.2h-1.2zM16.2 33.9h1.2v1.2h-1.2zM28.5 18.2h1.2v1.2h-1.2zM10.3 29.0h1.2v1.2h-1.2zM13.8 3.7h1.2v1.2h-1.2zM2.6 21.1h1.2v1.2h-1.2zM4.7 3.9h1.2v1.2h-1.2zM36.7 20.3h1.2v1.2h-1.2zM7.8 30.5h1.2v1.2h-1.2zM38.7 24.2h1.2v1.2h-1.2zM34.6 7.7h1.2v1.2h-1.2zM31.9 34.6h1.2v1.2h-1.2zM7.3 27.8h1.2v1.2h-1.2zM35.7 39.2h1.2v1.2h-1.2zM9.5 38.0h1.2v1.2h-1.2zM22.0 9.5h1.2v1.2h-1.2zM21.6 23.2h1.2v1.2h-1.2zM18.0 21.0h1.2v1.2h-1.2zM14.1 16.5h1.2v1.2h-1.2zM23.6 5.2h1.2v1.2h-1.2zM26.6 29.4h1.2v1.2h-1.2zM15.9 7.0h1.2v1.2h-1.2zM36.4 12.6h1.2v1.2h-1.2zM27.7 26.4h1.2v1.2h-1.2zM3.0 10.5h1.2v1.2h-1.2zM8.0 11.7h1.2v1.2h-1.2zM17.3 28.2h1.2v1.2h-1.2zM3.4 35.4h1.2v1.2h-1.2zM10.9 21.5h1.2v1.2h-1.2zM4.7 38.0h1.2v1.2h-1.2zM24.1 39.1h1.2v1.2h-1.2zM28.6 30.0h1.2v1.2h-1.2zM9.2 0.3h1.2v1.2h-1.2zM34.3 10.1h1.2v1.2h-1.2zM7.0 39.0h1.2v1.2h-1.2zM31.2 33.7h1.2v1.2h-1.2zM33.0 24.9h1.2v1.2h-1.2zM30.5 23.9h1.2v1.2h-1.2zM24.4 18.1h1.2v1.2h-1.2zM29.1 22.0h1.2v1.2h-1.2zM33.3 27.6h1.2v1.2h-1.2zM31.1 30.2h1.2v1.2h-1.2zM23.9 0.9h1.2v1.2h-1.2zM19.1 20.9h1.2v1.2h-1.2zM37.3 8.2h1.2v1.2h-1.2zM31.9 35.1h1.2v1.2h-1.2zM20.1 14.3h1.2v1.2h-1.2zM29.0 3.9h1.2v1.2h-1.2zM13.7 32.2h1.2v1.2h-1.2zM19.2 2.9h1.2v1.2h-1.2zM27.3 27.7h1.2v1.2h-1.2zM15.1 4.9h1.2v1.2h-1.2zM9.3 39.2h1.2v1.2h-1.2zM10.9 10.6h1.2v1.2h-1.2zM29.2 38.5h1.2v1.2h-1.2zM31.5 11.3h1.2v1.2h-1.2zM7.5 35.9h1.2v1.2h-1.2zM27.9 8.9h1.2v1.2h-1.2zM27.4 17.7h1.2v1.2h-1.2zM24.8 16.6h1.2v1.2h-1.2zM18.3 21.4h1.2v1.2h-1.2zM34.4 30.8h1.2v1.2h-1.2zM13.1 14.4h1.2v1.2h-1.2zM4.9 22.5h1.2v1.2h-1.2zM9.9 9.0h1.2v1.2h-1.2zM23.7 37.6h1.2v1.2h-1.2zM6.8 37.3h1.2v1.2h-1.2zM24.9 23.1h1.2v1.2h-1.2zM28.9 4.7h1.2v1.2h-1.2zM18.5 19.5h1.2v1.2h-1.2zM14.5 31.5h1.2v1.2h-1.2zM26.8 21.2h1.2v1.2h-1.2zM1.5 13.8h1.2v1.2h-1.2zM29.9 8.4h1.2v1.2h-1.2zM1.9 32.3h1.2v1.2h-1.2zM19.0 31.9h1.2v1.2h-1.2zM11.2 13.5h1.2v1.2h-1.2zM16.4 37.4h1.2v1.2h-1.2zM31.9 4.8h1.2v1.2h-1.2zM10.0 23.5h1.2v1.2h-1.2zM20.8 3.1h1.2v1.2h-1.2zM13.3 19.9h1.2v1.2h-1.2zM0.1 10.2h1.2v1.2h-1.2zM13.0 21.3h1.2v1.2h-1.2zM5.4 32.9h1.2v1.2h-1.2zM36.3 12.7h1.2v1.2h-1.2zM16.1 3.4h1.2v1.2h-1.2zM14.7 17.8h1.2v1.2h-1.2zM6.1 19.2h1.2v1.2h-1.2zM15.8 11.9h1.2v1.2h-1.2zM13.3 16.1h1.2v1.2h-1.2zM20.2 36.6h1.2v1.2h-1.2zM37.9 21.7h1.2v1.2h-1.2zM20.3 34.5h1.2v1.2h-1.2zM28.6 15.5h1.2v1.2h-1.2zM32.6 34.3h1.2v1.2h-1.2zM2.8 32.3h1.2v1.2h-1.2zM31.8 25.8h1.2v1.2h-1.2zM20.2 2.2h1.2v1.2h-1.2zM1.0 8.8h1.2v1.2h-1.2zM36.5 37.6h1.2v1.2h-1.2zM17.8 23.6h1.2v1.2h-1.2zM17.8 39.0h1.2v1.2h-1.2zM32.5 37.8h1.2v1.2h-1.2zM35.9 6.8h1.2v1.2h-1.2zM37.8 33.3h1.2v1.2h-1.2zM33.5 35.2h1.2v1.2h-1.2zM24.5 35.5h1.2v1.2h-1.2zM18.7 29.1h1.2v1.2h-1.2zM14.7 12.4h1.2v1.2h-1.2zM30.1 5.0h1.2v1.2h-1.2zM20.2 0.1h1.2v1.2h-1.2zM21.4 21.1h1.2v1.2h-1.2zM15.4 6.6h1.2v1.2h-1.2zM12.1 2.2h1.2v1.2h-1.2zM31.9 25.6h1.2v1.2h-1.2zM27.5 24.2h1.2v1.2h-1.2zM9.2 25.4h1.2v1.2h-1.2zM19.9 28.1h1.2v1.2h-1.2zM7.4 12.1h1.2v1.2h-1.2zM16.4 3.8h1.2v1.2h-1.2zM2.2 21.0h1.2v1.2h-1.2zM7.4 17.1h1.2v1.2h-1.2zM22.4 22.9h1.2v1.2h-1.2zM1.7 13.7h1.2v1.2h-1.2zM17.8 33.9h1.2v1.2h-1.2zM0.3 18.7h1.2v1.2h-1.2zM20.5 33.5h1.2v1.2h-1.2zM20.0 34.0h1.2v1.2h-1.2zM10.7 30.6h1.2v1.2h-1.2zM6.5 16.8h1.2v1.2h-1.2zM3.3 35.8h1.2v1.2h-1.2zM6.1 21.2h1.2v1.2h-1.2zM33.7 16.2h1.2v1.2h-1.2zM23.1 5.8h1.2v1.2h-1.2zM19.3 0.3h1.2v1.2h-1.2zM15.2 31.4h1.2v1.2h-1.2zM37.2 9.0h1.2v1.2h-1.2zM13.8 29.8h1.2v1.2h-1.2zM0.7 19.4h1.2v1.2h-1.2zM38.0 29.9h1.2v1.2h-1.2zM9.7 6.6h1.2v1.2h-1.2zM7.4 23.8h1.2v1.2h-1.2zM2.5 18.3h1.2v1.2h-1.2z"/><path fill="#e29076" d="M34.3 32.8h1.2v1.2h-1.2zM5.3 20.8h1.2v1.2h-1.2zM21.1 17.5h1.2v1.2h-1.2zM7.3 18.5h1.2v1.2h-1.2zM33.4 31.0h1.2v1.2h-1.2zM5.9 26.8h1.2v1.2h-1.2zM7.7 2.6h1.2v1.2h-1.2zM21.4 23.0h1.2v1.2h-1.2zM37.3 29.7h1.2v1.2h-1.2zM26.5 24.5h1.2v1.2h-1.2zM33.0 10.3h1.2v1.2h-1.2zM20.0 38.4h1.2v1.2h-1.2zM26.1 39.0h1.2v1.2h-1.2zM15.4 19.6h1.2v1.2h-1.2zM14.9 7.6h1.2v1.2h-1.2zM24.8 33.1h1.2v1.2h-1.2zM24.4 1.6h1.2v1.2h-1.2zM2.9 1.6h1.2v1.2h-1.2zM19.3 16.8h1.2v1.2h-1.2zM9.6 34.5h1.2v1.2h-1.2zM16.4 17.3h1.2v1.2h-1.2zM12.8 11.8h1.2v1.2h-1.2zM35.3 10.5h1.2v1.2h-1.2zM35.4 34.1h1.2v1.2h-1.2zM22.6 17.8h1.2v1.2h-1.2zM27.7 7.5h1.2v1.2h-1.2zM13.9 22.6h1.2v1.2h-1.2zM24.4 34.4h1.2v1.2h-1.2zM36.8 20.9h1.2v1.2h-1.2zM32.2 0.0h1.2v1.2h-1.2zM23.4 21.6h1.2v1.2h-1.2zM32.4 27.7h1.2v1.2h-1.2zM15.6 33.1h1.2v1.2h-1.2zM39.8 18.7h1.2v1.2h-1.2zM31.3 36.5h1.2v1.2h-1.2zM15.7 17.1h1.2v1.2h-1.2zM16.0 8.8h1.2v1.2h-1.2zM26.9 16.7h1.2v1.2h-1.2zM24.6 27.1h1.2v1.2h-1.2zM6.1 9.7h1.2v1.2h-1.2zM33.2 18.9h1.2v1.2h-1.2zM8.0 18.0h1.2v1.2h-1.2zM16.9 22.7h1.2v1.2h-1.2zM34.4 32.1h1.2v1.2h-1.2zM33.4 32.8h1.2v1.2h-1.2zM16.0 28.1h1.2v1.2h-1.2zM13.3 23.0h1.2v1.2h-1.2zM21.1 7.0h1.2v1.2h-1.2zM12.8 17.8h1.2v1.2h-1.2zM23.8 19.2h1.2v1.2h-1.2zM0.1 37.8h1.2v1.2h-1.2z"/></pattern><pattern id="ph_red4b" width="29" height="29" patternUnits="userSpaceOnUse"><path fill="#d96e52" d="M11.3 0.1h1.2v1.2h-1.2zM16.6 9.3h1.2v1.2h-1.2zM2.8 24.5h1.2v1.2h-1.2zM13.3 14.8h1.2v1.2h-1.2zM16.3 20.8h1.2v1.2h-1.2zM3.9 14.1h1.2v1.2h-1.2zM11.4 7.4h1.2v1.2h-1.2zM9.4 22.7h1.2v1.2h-1.2zM5.8 1.5h1.2v1.2h-1.2zM27.5 21.2h1.2v1.2h-1.2zM15.2 23.7h1.2v1.2h-1.2zM21.7 23.1h1.2v1.2h-1.2zM20.3 8.9h1.2v1.2h-1.2zM7.0 5.5h1.2v1.2h-1.2zM14.1 5.5h1.2v1.2h-1.2zM9.8 12.7h1.2v1.2h-1.2zM27.4 3.2h1.2v1.2h-1.2zM26.9 22.0h1.2v1.2h-1.2zM15.8 7.9h1.2v1.2h-1.2zM2.4 15.3h1.2v1.2h-1.2zM27.3 6.3h1.2v1.2h-1.2zM19.3 7.0h1.2v1.2h-1.2zM5.8 22.7h1.2v1.2h-1.2zM3.8 11.3h1.2v1.2h-1.2zM3.0 14.3h1.2v1.2h-1.2zM13.0 18.9h1.2v1.2h-1.2zM14.6 25.4h1.2v1.2h-1.2zM14.6 13.4h1.2v1.2h-1.2zM10.2 3.0h1.2v1.2h-1.2zM16.5 10.1h1.2v1.2h-1.2zM4.2 25.1h1.2v1.2h-1.2zM0.4 8.5h1.2v1.2h-1.2zM24.6 16.3h1.2v1.2h-1.2zM14.7 1.0h1.2v1.2h-1.2zM6.9 17.5h1.2v1.2h-1.2zM3.4 13.6h1.2v1.2h-1.2zM6.8 22.0h1.2v1.2h-1.2zM13.8 0.4h1.2v1.2h-1.2zM6.3 25.2h1.2v1.2h-1.2zM26.6 13.4h1.2v1.2h-1.2zM14.9 16.0h1.2v1.2h-1.2zM11.8 27.2h1.2v1.2h-1.2zM14.1 11.3h1.2v1.2h-1.2zM12.4 18.8h1.2v1.2h-1.2zM21.0 22.4h1.2v1.2h-1.2zM20.8 16.5h1.2v1.2h-1.2zM21.7 27.4h1.2v1.2h-1.2zM7.7 2.5h1.2v1.2h-1.2zM6.1 15.4h1.2v1.2h-1.2zM16.9 4.3h1.2v1.2h-1.2zM6.7 13.5h1.2v1.2h-1.2zM6.8 2.9h1.2v1.2h-1.2zM4.8 7.4h1.2v1.2h-1.2zM8.7 14.9h1.2v1.2h-1.2zM19.8 13.5h1.2v1.2h-1.2zM22.9 18.1h1.2v1.2h-1.2zM24.2 11.7h1.2v1.2h-1.2zM3.9 15.3h1.2v1.2h-1.2zM22.1 13.1h1.2v1.2h-1.2zM10.8 18.0h1.2v1.2h-1.2zM17.3 21.2h1.2v1.2h-1.2zM26.6 15.3h1.2v1.2h-1.2zM26.7 15.9h1.2v1.2h-1.2zM20.0 24.6h1.2v1.2h-1.2zM7.2 7.9h1.2v1.2h-1.2zM17.9 21.5h1.2v1.2h-1.2zM3.1 19.2h1.2v1.2h-1.2zM17.5 2.1h1.2v1.2h-1.2zM24.1 16.4h1.2v1.2h-1.2zM5.9 26.9h1.2v1.2h-1.2zM27.2 18.1h1.2v1.2h-1.2zM6.9 13.6h1.2v1.2h-1.2zM2.8 23.6h1.2v1.2h-1.2zM13.2 8.7h1.2v1.2h-1.2zM25.2 25.2h1.2v1.2h-1.2zM13.1 16.7h1.2v1.2h-1.2zM5.9 2.8h1.2v1.2h-1.2zM20.8 13.7h1.2v1.2h-1.2zM27.5 9.0h1.2v1.2h-1.2zM4.8 11.6h1.2v1.2h-1.2zM12.3 23.2h1.2v1.2h-1.2zM2.0 6.4h1.2v1.2h-1.2zM11.5 27.7h1.2v1.2h-1.2zM0.6 16.4h1.2v1.2h-1.2zM17.1 0.9h1.2v1.2h-1.2zM12.2 9.3h1.2v1.2h-1.2zM13.5 15.2h1.2v1.2h-1.2zM7.6 12.7h1.2v1.2h-1.2zM3.7 20.7h1.2v1.2h-1.2z"/><path fill="#e29076" d="M5.9 6.7h1.2v1.2h-1.2zM26.3 18.8h1.2v1.2h-1.2zM13.0 19.8h1.2v1.2h-1.2zM11.9 7.0h1.2v1.2h-1.2zM22.0 25.8h1.2v1.2h-1.2zM25.4 10.1h1.2v1.2h-1.2zM11.0 0.5h1.2v1.2h-1.2zM25.3 7.3h1.2v1.2h-1.2zM24.2 4.3h1.2v1.2h-1.2zM27.8 0.4h1.2v1.2h-1.2zM18.8 27.1h1.2v1.2h-1.2zM19.1 2.6h1.2v1.2h-1.2zM10.5 23.0h1.2v1.2h-1.2zM1.2 21.8h1.2v1.2h-1.2zM18.3 5.1h1.2v1.2h-1.2zM6.8 4.7h1.2v1.2h-1.2zM1.0 15.4h1.2v1.2h-1.2zM9.5 17.1h1.2v1.2h-1.2zM14.0 12.3h1.2v1.2h-1.2zM6.9 17.5h1.2v1.2h-1.2zM9.6 13.8h1.2v1.2h-1.2zM19.9 19.7h1.2v1.2h-1.2zM26.2 26.9h1.2v1.2h-1.2zM3.8 9.0h1.2v1.2h-1.2z"/></pattern><pattern id="pd_red5" width="41" height="41" patternUnits="userSpaceOnUse"><path fill="#cf4526" d="M6.5 13.9h1.2v1.2h-1.2zM6.7 17.1h1.2v1.2h-1.2zM18.3 35.1h1.2v1.2h-1.2zM38.2 32.5h1.2v1.2h-1.2zM10.0 37.0h1.2v1.2h-1.2zM21.2 20.1h1.2v1.2h-1.2zM23.5 38.3h1.2v1.2h-1.2zM16.7 11.6h1.2v1.2h-1.2zM5.1 4.4h1.2v1.2h-1.2zM31.2 34.5h1.2v1.2h-1.2zM2.3 34.6h1.2v1.2h-1.2zM28.8 18.0h1.2v1.2h-1.2zM33.9 26.2h1.2v1.2h-1.2zM25.3 14.2h1.2v1.2h-1.2zM34.5 13.5h1.2v1.2h-1.2zM1.7 35.1h1.2v1.2h-1.2zM4.8 14.5h1.2v1.2h-1.2zM39.7 8.4h1.2v1.2h-1.2zM10.7 34.3h1.2v1.2h-1.2zM27.2 33.3h1.2v1.2h-1.2zM18.7 0.4h1.2v1.2h-1.2zM27.6 30.3h1.2v1.2h-1.2zM2.0 29.7h1.2v1.2h-1.2zM13.9 14.4h1.2v1.2h-1.2zM25.6 13.5h1.2v1.2h-1.2zM11.1 31.0h1.2v1.2h-1.2zM22.4 13.9h1.2v1.2h-1.2zM18.9 1.0h1.2v1.2h-1.2zM22.6 2.8h1.2v1.2h-1.2zM8.4 35.0h1.2v1.2h-1.2zM28.7 3.7h1.2v1.2h-1.2zM29.3 29.6h1.2v1.2h-1.2zM3.1 15.1h1.2v1.2h-1.2zM23.9 22.9h1.2v1.2h-1.2zM33.9 22.4h1.2v1.2h-1.2zM29.1 27.8h1.2v1.2h-1.2zM20.9 38.9h1.2v1.2h-1.2zM26.8 19.0h1.2v1.2h-1.2zM39.3 11.2h1.2v1.2h-1.2zM3.8 20.5h1.2v1.2h-1.2zM27.5 38.9h1.2v1.2h-1.2zM8.3 14.3h1.2v1.2h-1.2zM36.3 8.3h1.2v1.2h-1.2zM39.8 16.3h1.2v1.2h-1.2zM16.7 12.9h1.2v1.2h-1.2zM33.3 0.6h1.2v1.2h-1.2zM32.1 28.8h1.2v1.2h-1.2zM19.1 18.8h1.2v1.2h-1.2zM17.3 14.2h1.2v1.2h-1.2zM13.4 23.4h1.2v1.2h-1.2zM39.4 0.5h1.2v1.2h-1.2zM15.0 5.2h1.2v1.2h-1.2zM7.5 21.7h1.2v1.2h-1.2zM22.4 30.4h1.2v1.2h-1.2zM1.8 4.8h1.2v1.2h-1.2zM2.4 6.9h1.2v1.2h-1.2zM13.0 21.3h1.2v1.2h-1.2zM21.2 14.4h1.2v1.2h-1.2zM33.5 24.0h1.2v1.2h-1.2zM32.9 14.1h1.2v1.2h-1.2zM3.8 19.3h1.2v1.2h-1.2zM15.5 6.6h1.2v1.2h-1.2zM34.4 34.5h1.2v1.2h-1.2zM15.5 11.3h1.2v1.2h-1.2zM33.1 24.5h1.2v1.2h-1.2zM3.1 11.4h1.2v1.2h-1.2zM4.9 3.2h1.2v1.2h-1.2zM38.8 23.4h1.2v1.2h-1.2zM18.1 34.8h1.2v1.2h-1.2zM11.1 32.3h1.2v1.2h-1.2zM0.8 7.7h1.2v1.2h-1.2zM24.4 11.1h1.2v1.2h-1.2zM21.5 25.0h1.2v1.2h-1.2zM30.9 36.8h1.2v1.2h-1.2zM27.1 3.5h1.2v1.2h-1.2zM33.5 35.2h1.2v1.2h-1.2zM19.6 30.6h1.2v1.2h-1.2zM9.2 24.6h1.2v1.2h-1.2zM38.9 2.6h1.2v1.2h-1.2zM39.4 8.2h1.2v1.2h-1.2zM35.8 33.7h1.2v1.2h-1.2zM10.6 31.9h1.2v1.2h-1.2zM14.7 0.5h1.2v1.2h-1.2zM17.9 20.1h1.2v1.2h-1.2zM9.7 5.4h1.2v1.2h-1.2zM38.1 31.8h1.2v1.2h-1.2zM21.5 31.4h1.2v1.2h-1.2zM25.5 5.0h1.2v1.2h-1.2zM26.4 16.5h1.2v1.2h-1.2zM30.5 27.8h1.2v1.2h-1.2zM3.1 26.3h1.2v1.2h-1.2zM15.6 7.5h1.2v1.2h-1.2zM18.0 27.0h1.2v1.2h-1.2zM9.1 18.5h1.2v1.2h-1.2zM14.0 5.7h1.2v1.2h-1.2zM23.0 39.6h1.2v1.2h-1.2zM10.5 6.3h1.2v1.2h-1.2zM34.1 6.5h1.2v1.2h-1.2zM17.0 33.5h1.2v1.2h-1.2zM39.8 34.2h1.2v1.2h-1.2zM38.7 7.4h1.2v1.2h-1.2zM24.4 23.5h1.2v1.2h-1.2zM17.1 16.3h1.2v1.2h-1.2zM14.3 5.3h1.2v1.2h-1.2zM13.3 34.2h1.2v1.2h-1.2zM11.8 23.0h1.2v1.2h-1.2zM34.3 13.4h1.2v1.2h-1.2zM10.2 34.3h1.2v1.2h-1.2zM37.8 6.6h1.2v1.2h-1.2zM27.8 15.8h1.2v1.2h-1.2zM35.4 6.9h1.2v1.2h-1.2zM20.0 37.6h1.2v1.2h-1.2zM3.1 5.5h1.2v1.2h-1.2zM7.5 12.3h1.2v1.2h-1.2zM25.3 10.4h1.2v1.2h-1.2zM18.0 24.8h1.2v1.2h-1.2zM29.3 7.7h1.2v1.2h-1.2zM37.8 39.2h1.2v1.2h-1.2zM18.5 21.0h1.2v1.2h-1.2zM38.4 11.4h1.2v1.2h-1.2zM22.3 13.6h1.2v1.2h-1.2zM19.6 4.9h1.2v1.2h-1.2zM35.4 22.4h1.2v1.2h-1.2zM23.8 11.2h1.2v1.2h-1.2zM22.2 6.7h1.2v1.2h-1.2zM36.2 1.5h1.2v1.2h-1.2zM14.8 7.7h1.2v1.2h-1.2zM38.2 37.0h1.2v1.2h-1.2zM25.2 12.2h1.2v1.2h-1.2zM37.2 14.3h1.2v1.2h-1.2zM8.6 16.5h1.2v1.2h-1.2zM12.7 21.6h1.2v1.2h-1.2zM6.3 35.7h1.2v1.2h-1.2zM22.3 30.7h1.2v1.2h-1.2zM0.8 30.7h1.2v1.2h-1.2zM31.6 3.4h1.2v1.2h-1.2zM37.6 5.2h1.2v1.2h-1.2zM19.8 4.1h1.2v1.2h-1.2zM2.0 5.7h1.2v1.2h-1.2zM14.8 34.1h1.2v1.2h-1.2zM10.1 29.6h1.2v1.2h-1.2zM3.3 21.3h1.2v1.2h-1.2zM37.2 26.7h1.2v1.2h-1.2zM11.3 32.5h1.2v1.2h-1.2zM13.2 24.6h1.2v1.2h-1.2zM30.7 5.6h1.2v1.2h-1.2zM13.9 39.6h1.2v1.2h-1.2zM9.9 10.1h1.2v1.2h-1.2zM25.0 12.7h1.2v1.2h-1.2zM2.7 17.5h1.2v1.2h-1.2zM15.8 15.9h1.2v1.2h-1.2zM19.8 33.5h1.2v1.2h-1.2zM2.3 9.3h1.2v1.2h-1.2zM2.5 17.1h1.2v1.2h-1.2zM10.6 23.7h1.2v1.2h-1.2zM3.5 15.0h1.2v1.2h-1.2zM9.3 23.4h1.2v1.2h-1.2zM5.2 19.5h1.2v1.2h-1.2zM21.9 8.1h1.2v1.2h-1.2zM34.4 17.5h1.2v1.2h-1.2zM38.6 28.4h1.2v1.2h-1.2zM29.1 28.8h1.2v1.2h-1.2zM3.5 0.8h1.2v1.2h-1.2zM34.5 2.8h1.2v1.2h-1.2zM35.1 9.5h1.2v1.2h-1.2zM4.3 1.6h1.2v1.2h-1.2zM27.6 3.1h1.2v1.2h-1.2zM3.3 19.5h1.2v1.2h-1.2zM2.7 2.3h1.2v1.2h-1.2zM23.7 21.7h1.2v1.2h-1.2zM18.8 35.8h1.2v1.2h-1.2zM37.1 22.6h1.2v1.2h-1.2zM20.4 32.2h1.2v1.2h-1.2zM23.1 36.4h1.2v1.2h-1.2zM18.3 7.7h1.2v1.2h-1.2zM36.4 13.5h1.2v1.2h-1.2zM23.7 33.5h1.2v1.2h-1.2zM22.8 3.8h1.2v1.2h-1.2zM20.7 34.5h1.2v1.2h-1.2zM32.4 11.6h1.2v1.2h-1.2zM10.7 11.0h1.2v1.2h-1.2zM20.1 3.6h1.2v1.2h-1.2zM28.9 29.0h1.2v1.2h-1.2zM27.0 28.3h1.2v1.2h-1.2zM37.1 35.7h1.2v1.2h-1.2zM10.0 11.6h1.2v1.2h-1.2zM5.8 8.0h1.2v1.2h-1.2zM19.8 20.9h1.2v1.2h-1.2zM8.0 10.8h1.2v1.2h-1.2zM9.4 18.2h1.2v1.2h-1.2zM16.9 32.4h1.2v1.2h-1.2zM0.7 4.7h1.2v1.2h-1.2zM15.8 0.9h1.2v1.2h-1.2zM11.6 2.3h1.2v1.2h-1.2zM9.8 11.6h1.2v1.2h-1.2zM29.9 0.1h1.2v1.2h-1.2zM4.6 12.6h1.2v1.2h-1.2zM21.0 19.3h1.2v1.2h-1.2zM39.5 22.1h1.2v1.2h-1.2zM16.8 6.9h1.2v1.2h-1.2zM16.2 14.5h1.2v1.2h-1.2zM15.7 20.0h1.2v1.2h-1.2zM25.8 1.7h1.2v1.2h-1.2zM7.0 23.9h1.2v1.2h-1.2zM25.9 10.4h1.2v1.2h-1.2zM39.0 13.7h1.2v1.2h-1.2zM19.1 26.8h1.2v1.2h-1.2zM3.7 31.4h1.2v1.2h-1.2zM8.7 13.7h1.2v1.2h-1.2zM10.8 35.7h1.2v1.2h-1.2zM34.4 20.2h1.2v1.2h-1.2zM8.6 34.6h1.2v1.2h-1.2zM36.2 10.2h1.2v1.2h-1.2zM7.5 0.8h1.2v1.2h-1.2zM32.9 12.2h1.2v1.2h-1.2zM24.7 28.6h1.2v1.2h-1.2zM24.2 20.0h1.2v1.2h-1.2zM27.5 11.7h1.2v1.2h-1.2zM12.4 37.8h1.2v1.2h-1.2zM28.8 31.3h1.2v1.2h-1.2zM29.1 7.8h1.2v1.2h-1.2zM19.7 13.8h1.2v1.2h-1.2zM22.2 28.2h1.2v1.2h-1.2zM28.2 35.0h1.2v1.2h-1.2zM1.9 37.4h1.2v1.2h-1.2zM28.2 7.3h1.2v1.2h-1.2zM11.2 36.5h1.2v1.2h-1.2zM6.2 17.1h1.2v1.2h-1.2zM23.2 23.1h1.2v1.2h-1.2zM39.2 36.7h1.2v1.2h-1.2zM36.9 1.1h1.2v1.2h-1.2zM2.8 15.3h1.2v1.2h-1.2zM2.5 28.2h1.2v1.2h-1.2zM20.8 18.7h1.2v1.2h-1.2zM4.5 32.3h1.2v1.2h-1.2zM39.0 5.1h1.2v1.2h-1.2zM1.9 28.1h1.2v1.2h-1.2zM14.5 37.0h1.2v1.2h-1.2zM10.6 22.7h1.2v1.2h-1.2zM18.6 1.5h1.2v1.2h-1.2zM20.7 15.5h1.2v1.2h-1.2zM9.1 10.0h1.2v1.2h-1.2zM4.4 15.0h1.2v1.2h-1.2zM22.1 32.0h1.2v1.2h-1.2zM33.5 14.1h1.2v1.2h-1.2zM33.0 5.5h1.2v1.2h-1.2zM29.6 37.5h1.2v1.2h-1.2zM4.0 6.2h1.2v1.2h-1.2zM30.4 30.9h1.2v1.2h-1.2zM3.5 0.3h1.2v1.2h-1.2zM21.8 10.5h1.2v1.2h-1.2zM39.0 14.3h1.2v1.2h-1.2zM1.1 5.7h1.2v1.2h-1.2zM26.9 4.3h1.2v1.2h-1.2zM21.8 32.0h1.2v1.2h-1.2z"/><path fill="#d9603e" d="M13.9 31.5h1.2v1.2h-1.2zM12.4 30.6h1.2v1.2h-1.2zM5.9 26.2h1.2v1.2h-1.2zM9.0 39.3h1.2v1.2h-1.2zM24.9 4.6h1.2v1.2h-1.2zM30.5 35.0h1.2v1.2h-1.2zM38.8 29.3h1.2v1.2h-1.2zM24.9 32.9h1.2v1.2h-1.2zM37.1 27.8h1.2v1.2h-1.2zM23.2 0.6h1.2v1.2h-1.2zM10.7 9.6h1.2v1.2h-1.2zM16.5 3.3h1.2v1.2h-1.2zM36.6 19.6h1.2v1.2h-1.2zM34.1 29.9h1.2v1.2h-1.2zM9.2 10.5h1.2v1.2h-1.2zM36.5 1.4h1.2v1.2h-1.2zM27.2 12.5h1.2v1.2h-1.2zM17.6 18.7h1.2v1.2h-1.2zM12.0 17.9h1.2v1.2h-1.2zM35.4 24.4h1.2v1.2h-1.2zM17.9 7.4h1.2v1.2h-1.2zM38.4 9.2h1.2v1.2h-1.2zM2.1 1.7h1.2v1.2h-1.2zM7.2 30.3h1.2v1.2h-1.2zM18.1 17.6h1.2v1.2h-1.2zM18.3 15.1h1.2v1.2h-1.2zM13.6 15.7h1.2v1.2h-1.2zM27.4 13.2h1.2v1.2h-1.2zM4.2 23.4h1.2v1.2h-1.2zM19.3 4.1h1.2v1.2h-1.2zM38.8 23.5h1.2v1.2h-1.2zM21.9 6.6h1.2v1.2h-1.2zM8.8 5.3h1.2v1.2h-1.2zM36.7 17.3h1.2v1.2h-1.2zM7.6 39.8h1.2v1.2h-1.2zM21.1 0.3h1.2v1.2h-1.2zM20.5 27.3h1.2v1.2h-1.2zM12.2 14.6h1.2v1.2h-1.2zM24.6 9.1h1.2v1.2h-1.2zM28.6 10.6h1.2v1.2h-1.2zM28.1 22.6h1.2v1.2h-1.2zM39.6 15.9h1.2v1.2h-1.2zM16.7 0.8h1.2v1.2h-1.2zM16.3 20.2h1.2v1.2h-1.2zM13.0 7.5h1.2v1.2h-1.2zM31.1 4.4h1.2v1.2h-1.2zM1.4 30.7h1.2v1.2h-1.2zM6.9 39.5h1.2v1.2h-1.2zM15.8 15.8h1.2v1.2h-1.2zM4.3 32.9h1.2v1.2h-1.2zM23.7 39.0h1.2v1.2h-1.2zM2.8 6.4h1.2v1.2h-1.2zM25.4 13.3h1.2v1.2h-1.2zM20.3 17.2h1.2v1.2h-1.2zM25.5 16.4h1.2v1.2h-1.2zM14.7 4.5h1.2v1.2h-1.2zM30.7 7.3h1.2v1.2h-1.2zM7.8 39.2h1.2v1.2h-1.2zM36.9 18.5h1.2v1.2h-1.2zM0.1 24.2h1.2v1.2h-1.2zM15.3 18.7h1.2v1.2h-1.2zM16.4 8.5h1.2v1.2h-1.2zM32.3 24.0h1.2v1.2h-1.2zM23.3 23.0h1.2v1.2h-1.2zM15.2 14.1h1.2v1.2h-1.2zM6.6 16.3h1.2v1.2h-1.2zM38.1 9.6h1.2v1.2h-1.2zM6.3 24.0h1.2v1.2h-1.2zM6.0 22.4h1.2v1.2h-1.2zM26.7 38.9h1.2v1.2h-1.2zM20.7 12.4h1.2v1.2h-1.2zM5.3 35.9h1.2v1.2h-1.2zM36.4 1.1h1.2v1.2h-1.2zM36.4 10.5h1.2v1.2h-1.2zM35.4 18.2h1.2v1.2h-1.2zM37.7 30.9h1.2v1.2h-1.2zM16.5 4.8h1.2v1.2h-1.2zM18.8 15.2h1.2v1.2h-1.2zM20.2 19.3h1.2v1.2h-1.2zM37.6 9.0h1.2v1.2h-1.2zM7.0 0.4h1.2v1.2h-1.2zM27.9 33.4h1.2v1.2h-1.2zM38.4 6.3h1.2v1.2h-1.2zM9.6 16.9h1.2v1.2h-1.2zM32.6 30.7h1.2v1.2h-1.2zM6.1 11.8h1.2v1.2h-1.2zM25.4 39.4h1.2v1.2h-1.2zM14.1 2.8h1.2v1.2h-1.2zM3.1 27.9h1.2v1.2h-1.2zM32.4 8.6h1.2v1.2h-1.2zM11.9 22.5h1.2v1.2h-1.2zM37.9 2.8h1.2v1.2h-1.2zM29.1 31.9h1.2v1.2h-1.2zM21.7 17.3h1.2v1.2h-1.2z"/></pattern><pattern id="pd_red5b" width="29" height="29" patternUnits="userSpaceOnUse"><path fill="#cf4526" d="M15.8 17.5h1.2v1.2h-1.2zM4.8 21.6h1.2v1.2h-1.2zM5.1 15.8h1.2v1.2h-1.2zM19.5 22.9h1.2v1.2h-1.2zM7.2 25.7h1.2v1.2h-1.2zM4.1 3.6h1.2v1.2h-1.2zM25.3 9.8h1.2v1.2h-1.2zM16.4 18.2h1.2v1.2h-1.2zM1.8 19.4h1.2v1.2h-1.2zM13.7 14.7h1.2v1.2h-1.2zM17.8 15.8h1.2v1.2h-1.2zM21.1 4.0h1.2v1.2h-1.2zM4.0 7.6h1.2v1.2h-1.2zM4.4 14.7h1.2v1.2h-1.2zM26.8 15.6h1.2v1.2h-1.2zM18.6 4.8h1.2v1.2h-1.2zM27.1 4.5h1.2v1.2h-1.2zM24.9 13.9h1.2v1.2h-1.2zM25.7 21.3h1.2v1.2h-1.2zM13.5 8.8h1.2v1.2h-1.2zM18.6 18.7h1.2v1.2h-1.2zM25.2 2.1h1.2v1.2h-1.2zM26.8 18.6h1.2v1.2h-1.2zM23.0 16.7h1.2v1.2h-1.2zM3.6 19.3h1.2v1.2h-1.2zM6.7 23.0h1.2v1.2h-1.2zM3.5 0.8h1.2v1.2h-1.2zM1.5 4.6h1.2v1.2h-1.2zM10.6 11.8h1.2v1.2h-1.2zM8.0 16.5h1.2v1.2h-1.2zM20.3 22.1h1.2v1.2h-1.2zM2.1 26.8h1.2v1.2h-1.2zM13.5 5.6h1.2v1.2h-1.2zM20.4 1.8h1.2v1.2h-1.2zM10.0 17.3h1.2v1.2h-1.2zM17.6 12.9h1.2v1.2h-1.2zM11.5 1.9h1.2v1.2h-1.2zM2.0 10.9h1.2v1.2h-1.2zM24.9 17.0h1.2v1.2h-1.2zM6.4 9.5h1.2v1.2h-1.2zM22.9 15.2h1.2v1.2h-1.2zM6.9 19.7h1.2v1.2h-1.2zM25.6 19.8h1.2v1.2h-1.2zM3.8 26.6h1.2v1.2h-1.2zM18.9 23.8h1.2v1.2h-1.2zM4.4 19.7h1.2v1.2h-1.2zM26.2 3.5h1.2v1.2h-1.2zM4.9 9.0h1.2v1.2h-1.2zM13.4 24.4h1.2v1.2h-1.2zM14.5 21.1h1.2v1.2h-1.2zM1.9 7.7h1.2v1.2h-1.2zM12.6 25.3h1.2v1.2h-1.2zM23.2 7.2h1.2v1.2h-1.2zM27.6 23.6h1.2v1.2h-1.2zM24.0 14.6h1.2v1.2h-1.2zM24.4 8.5h1.2v1.2h-1.2zM26.4 4.2h1.2v1.2h-1.2zM17.9 7.5h1.2v1.2h-1.2zM22.2 18.7h1.2v1.2h-1.2zM7.9 18.2h1.2v1.2h-1.2zM25.5 23.7h1.2v1.2h-1.2zM23.3 10.3h1.2v1.2h-1.2zM22.5 6.6h1.2v1.2h-1.2zM24.3 4.9h1.2v1.2h-1.2zM5.8 16.1h1.2v1.2h-1.2zM22.1 1.0h1.2v1.2h-1.2zM8.4 25.2h1.2v1.2h-1.2zM2.3 9.5h1.2v1.2h-1.2zM10.3 14.1h1.2v1.2h-1.2zM11.1 24.5h1.2v1.2h-1.2zM16.9 13.0h1.2v1.2h-1.2zM3.2 6.3h1.2v1.2h-1.2zM16.1 16.2h1.2v1.2h-1.2zM3.2 14.8h1.2v1.2h-1.2zM24.2 7.7h1.2v1.2h-1.2zM9.3 16.0h1.2v1.2h-1.2zM19.9 10.0h1.2v1.2h-1.2zM17.3 16.0h1.2v1.2h-1.2zM25.8 15.6h1.2v1.2h-1.2zM2.7 11.4h1.2v1.2h-1.2zM21.8 6.5h1.2v1.2h-1.2zM12.4 25.0h1.2v1.2h-1.2zM18.1 5.8h1.2v1.2h-1.2zM11.7 24.0h1.2v1.2h-1.2zM12.3 18.9h1.2v1.2h-1.2zM0.7 6.0h1.2v1.2h-1.2zM24.7 0.5h1.2v1.2h-1.2zM22.3 17.2h1.2v1.2h-1.2zM16.9 15.6h1.2v1.2h-1.2zM5.1 21.1h1.2v1.2h-1.2zM18.6 7.9h1.2v1.2h-1.2zM16.4 26.4h1.2v1.2h-1.2zM13.0 1.4h1.2v1.2h-1.2zM4.9 10.1h1.2v1.2h-1.2zM25.2 25.6h1.2v1.2h-1.2zM13.9 2.8h1.2v1.2h-1.2zM12.5 18.7h1.2v1.2h-1.2zM3.7 23.3h1.2v1.2h-1.2zM25.7 27.3h1.2v1.2h-1.2zM2.1 9.5h1.2v1.2h-1.2zM3.5 15.1h1.2v1.2h-1.2zM19.2 27.1h1.2v1.2h-1.2zM7.5 4.2h1.2v1.2h-1.2zM14.1 21.9h1.2v1.2h-1.2zM22.3 18.1h1.2v1.2h-1.2zM20.8 26.0h1.2v1.2h-1.2zM2.1 25.8h1.2v1.2h-1.2zM6.5 23.3h1.2v1.2h-1.2zM14.1 4.6h1.2v1.2h-1.2zM4.5 11.1h1.2v1.2h-1.2zM26.2 13.6h1.2v1.2h-1.2zM5.2 24.1h1.2v1.2h-1.2zM17.5 12.3h1.2v1.2h-1.2zM3.4 25.4h1.2v1.2h-1.2zM1.7 20.6h1.2v1.2h-1.2zM9.0 20.4h1.2v1.2h-1.2zM20.3 3.5h1.2v1.2h-1.2zM6.4 12.0h1.2v1.2h-1.2zM9.9 15.3h1.2v1.2h-1.2zM3.9 14.4h1.2v1.2h-1.2zM15.3 13.5h1.2v1.2h-1.2zM7.7 15.6h1.2v1.2h-1.2zM2.9 13.3h1.2v1.2h-1.2zM17.0 3.2h1.2v1.2h-1.2zM24.1 23.5h1.2v1.2h-1.2zM7.1 27.7h1.2v1.2h-1.2zM23.5 21.2h1.2v1.2h-1.2zM3.6 10.4h1.2v1.2h-1.2zM8.1 24.5h1.2v1.2h-1.2zM11.6 22.9h1.2v1.2h-1.2zM15.2 0.7h1.2v1.2h-1.2zM16.9 24.7h1.2v1.2h-1.2zM24.0 26.5h1.2v1.2h-1.2z"/><path fill="#d9603e" d="M19.0 27.1h1.2v1.2h-1.2zM24.5 6.9h1.2v1.2h-1.2zM2.2 22.5h1.2v1.2h-1.2zM18.7 16.6h1.2v1.2h-1.2zM8.3 12.3h1.2v1.2h-1.2zM25.3 8.6h1.2v1.2h-1.2zM0.2 15.3h1.2v1.2h-1.2zM20.0 16.8h1.2v1.2h-1.2zM25.6 19.3h1.2v1.2h-1.2zM21.0 4.8h1.2v1.2h-1.2zM0.8 12.2h1.2v1.2h-1.2zM13.1 26.5h1.2v1.2h-1.2zM4.9 26.7h1.2v1.2h-1.2zM23.8 13.1h1.2v1.2h-1.2zM15.6 11.4h1.2v1.2h-1.2zM7.3 26.4h1.2v1.2h-1.2zM8.2 11.5h1.2v1.2h-1.2zM23.5 5.2h1.2v1.2h-1.2zM8.1 2.0h1.2v1.2h-1.2zM18.8 9.9h1.2v1.2h-1.2zM14.4 24.8h1.2v1.2h-1.2zM24.6 7.4h1.2v1.2h-1.2zM20.5 7.8h1.2v1.2h-1.2zM26.1 11.6h1.2v1.2h-1.2zM18.5 12.1h1.2v1.2h-1.2zM23.9 24.2h1.2v1.2h-1.2zM13.9 14.1h1.2v1.2h-1.2zM7.6 17.0h1.2v1.2h-1.2zM12.5 14.3h1.2v1.2h-1.2zM19.9 26.4h1.2v1.2h-1.2zM2.4 5.0h1.2v1.2h-1.2zM22.8 20.3h1.2v1.2h-1.2zM18.1 13.5h1.2v1.2h-1.2zM26.0 16.9h1.2v1.2h-1.2zM23.8 21.1h1.2v1.2h-1.2zM6.4 26.5h1.2v1.2h-1.2zM25.2 22.3h1.2v1.2h-1.2zM13.7 25.5h1.2v1.2h-1.2zM2.7 18.6h1.2v1.2h-1.2zM3.7 27.4h1.2v1.2h-1.2zM4.6 17.0h1.2v1.2h-1.2zM16.5 21.5h1.2v1.2h-1.2z"/></pattern><pattern id="ph_red5" width="41" height="41" patternUnits="userSpaceOnUse"><path fill="#d96e52" d="M28.8 21.3h1.2v1.2h-1.2zM33.0 9.0h1.2v1.2h-1.2zM9.1 38.7h1.2v1.2h-1.2zM8.1 38.3h1.2v1.2h-1.2zM37.9 0.2h1.2v1.2h-1.2zM24.9 11.0h1.2v1.2h-1.2zM4.1 24.1h1.2v1.2h-1.2zM27.8 39.6h1.2v1.2h-1.2zM14.5 19.0h1.2v1.2h-1.2zM39.7 39.2h1.2v1.2h-1.2zM3.8 37.7h1.2v1.2h-1.2zM27.1 5.8h1.2v1.2h-1.2zM28.8 37.9h1.2v1.2h-1.2zM16.9 32.1h1.2v1.2h-1.2zM4.3 13.5h1.2v1.2h-1.2zM30.2 25.8h1.2v1.2h-1.2zM19.9 30.8h1.2v1.2h-1.2zM37.9 18.5h1.2v1.2h-1.2zM12.0 14.9h1.2v1.2h-1.2zM10.9 15.0h1.2v1.2h-1.2zM6.8 39.1h1.2v1.2h-1.2zM29.0 7.9h1.2v1.2h-1.2zM20.3 15.9h1.2v1.2h-1.2zM20.9 31.3h1.2v1.2h-1.2zM24.8 9.7h1.2v1.2h-1.2zM14.7 36.7h1.2v1.2h-1.2zM19.0 11.7h1.2v1.2h-1.2zM23.7 4.7h1.2v1.2h-1.2zM37.4 2.9h1.2v1.2h-1.2zM13.1 23.8h1.2v1.2h-1.2zM35.8 20.9h1.2v1.2h-1.2zM3.0 4.2h1.2v1.2h-1.2zM39.0 18.5h1.2v1.2h-1.2zM28.3 8.7h1.2v1.2h-1.2zM3.0 5.7h1.2v1.2h-1.2zM9.5 18.0h1.2v1.2h-1.2zM35.4 20.8h1.2v1.2h-1.2zM11.2 26.0h1.2v1.2h-1.2zM28.9 20.2h1.2v1.2h-1.2zM9.7 26.1h1.2v1.2h-1.2zM19.6 8.2h1.2v1.2h-1.2zM26.9 18.7h1.2v1.2h-1.2zM20.1 23.5h1.2v1.2h-1.2zM34.1 29.4h1.2v1.2h-1.2zM3.3 15.8h1.2v1.2h-1.2zM38.3 22.2h1.2v1.2h-1.2zM28.5 0.6h1.2v1.2h-1.2zM6.6 5.9h1.2v1.2h-1.2zM37.9 10.3h1.2v1.2h-1.2zM39.5 37.1h1.2v1.2h-1.2zM6.2 22.6h1.2v1.2h-1.2zM27.7 1.5h1.2v1.2h-1.2zM30.5 35.5h1.2v1.2h-1.2zM18.0 24.1h1.2v1.2h-1.2zM21.0 1.4h1.2v1.2h-1.2zM18.1 14.6h1.2v1.2h-1.2zM9.1 38.5h1.2v1.2h-1.2zM35.3 25.0h1.2v1.2h-1.2zM28.1 7.6h1.2v1.2h-1.2zM21.5 30.7h1.2v1.2h-1.2zM29.8 6.0h1.2v1.2h-1.2zM25.1 2.6h1.2v1.2h-1.2zM35.1 33.3h1.2v1.2h-1.2zM12.6 9.7h1.2v1.2h-1.2zM2.3 7.5h1.2v1.2h-1.2zM13.4 35.3h1.2v1.2h-1.2zM13.6 29.5h1.2v1.2h-1.2zM23.2 39.4h1.2v1.2h-1.2zM17.3 37.5h1.2v1.2h-1.2zM33.4 1.5h1.2v1.2h-1.2zM9.5 13.9h1.2v1.2h-1.2zM4.7 38.4h1.2v1.2h-1.2zM27.1 0.8h1.2v1.2h-1.2zM24.2 28.1h1.2v1.2h-1.2zM39.7 37.2h1.2v1.2h-1.2zM0.9 38.3h1.2v1.2h-1.2zM27.8 13.6h1.2v1.2h-1.2zM18.0 13.5h1.2v1.2h-1.2zM28.8 8.6h1.2v1.2h-1.2zM26.8 31.0h1.2v1.2h-1.2zM1.7 1.6h1.2v1.2h-1.2zM0.3 38.8h1.2v1.2h-1.2zM35.8 37.5h1.2v1.2h-1.2zM10.9 11.8h1.2v1.2h-1.2zM31.7 31.7h1.2v1.2h-1.2zM31.9 19.5h1.2v1.2h-1.2zM24.7 1.2h1.2v1.2h-1.2zM36.6 9.7h1.2v1.2h-1.2zM32.0 28.2h1.2v1.2h-1.2zM23.7 17.8h1.2v1.2h-1.2zM38.0 23.3h1.2v1.2h-1.2zM35.7 3.2h1.2v1.2h-1.2zM29.0 12.2h1.2v1.2h-1.2zM31.6 21.4h1.2v1.2h-1.2zM9.7 17.6h1.2v1.2h-1.2zM37.4 4.9h1.2v1.2h-1.2zM32.0 35.0h1.2v1.2h-1.2zM17.8 29.3h1.2v1.2h-1.2zM14.9 11.2h1.2v1.2h-1.2zM32.9 5.9h1.2v1.2h-1.2zM0.3 15.7h1.2v1.2h-1.2zM24.1 27.0h1.2v1.2h-1.2zM35.1 37.0h1.2v1.2h-1.2zM34.0 7.2h1.2v1.2h-1.2zM36.9 36.9h1.2v1.2h-1.2zM25.2 8.4h1.2v1.2h-1.2zM6.0 15.1h1.2v1.2h-1.2zM37.1 9.1h1.2v1.2h-1.2zM18.8 5.9h1.2v1.2h-1.2zM24.7 27.0h1.2v1.2h-1.2zM32.7 8.2h1.2v1.2h-1.2zM15.6 24.3h1.2v1.2h-1.2zM3.6 38.9h1.2v1.2h-1.2zM8.2 34.3h1.2v1.2h-1.2zM39.6 10.7h1.2v1.2h-1.2zM27.6 22.7h1.2v1.2h-1.2zM34.1 37.2h1.2v1.2h-1.2zM18.6 27.2h1.2v1.2h-1.2zM25.4 7.3h1.2v1.2h-1.2zM26.8 5.7h1.2v1.2h-1.2zM0.4 36.6h1.2v1.2h-1.2zM24.5 3.2h1.2v1.2h-1.2zM16.6 25.0h1.2v1.2h-1.2zM1.8 7.5h1.2v1.2h-1.2zM22.7 23.2h1.2v1.2h-1.2zM36.7 12.1h1.2v1.2h-1.2zM33.2 26.4h1.2v1.2h-1.2zM19.0 30.2h1.2v1.2h-1.2zM25.2 14.3h1.2v1.2h-1.2zM5.5 4.5h1.2v1.2h-1.2zM32.6 36.9h1.2v1.2h-1.2zM32.6 24.8h1.2v1.2h-1.2zM4.1 22.2h1.2v1.2h-1.2zM10.6 24.4h1.2v1.2h-1.2zM23.0 37.1h1.2v1.2h-1.2zM6.7 18.6h1.2v1.2h-1.2zM39.2 4.4h1.2v1.2h-1.2zM31.3 9.8h1.2v1.2h-1.2zM38.2 6.4h1.2v1.2h-1.2zM30.8 3.7h1.2v1.2h-1.2zM11.3 27.0h1.2v1.2h-1.2zM12.6 37.4h1.2v1.2h-1.2zM7.3 21.6h1.2v1.2h-1.2zM2.6 10.5h1.2v1.2h-1.2zM39.4 31.6h1.2v1.2h-1.2zM33.7 22.8h1.2v1.2h-1.2zM34.2 19.3h1.2v1.2h-1.2zM11.0 3.0h1.2v1.2h-1.2zM5.0 17.2h1.2v1.2h-1.2zM4.5 19.1h1.2v1.2h-1.2zM20.6 18.9h1.2v1.2h-1.2zM23.4 6.8h1.2v1.2h-1.2zM37.5 23.8h1.2v1.2h-1.2zM9.8 8.7h1.2v1.2h-1.2zM28.9 30.0h1.2v1.2h-1.2zM23.2 5.8h1.2v1.2h-1.2zM35.2 24.3h1.2v1.2h-1.2zM22.6 12.8h1.2v1.2h-1.2zM8.8 10.0h1.2v1.2h-1.2zM13.1 24.0h1.2v1.2h-1.2zM16.1 18.8h1.2v1.2h-1.2zM26.3 29.4h1.2v1.2h-1.2zM29.6 28.9h1.2v1.2h-1.2zM13.9 10.7h1.2v1.2h-1.2zM38.1 1.3h1.2v1.2h-1.2zM39.8 9.6h1.2v1.2h-1.2zM13.4 29.7h1.2v1.2h-1.2zM23.3 25.5h1.2v1.2h-1.2zM24.6 10.3h1.2v1.2h-1.2zM26.9 23.6h1.2v1.2h-1.2zM35.2 25.6h1.2v1.2h-1.2zM12.1 36.9h1.2v1.2h-1.2zM8.2 26.9h1.2v1.2h-1.2zM8.7 29.6h1.2v1.2h-1.2zM8.3 33.2h1.2v1.2h-1.2zM1.7 10.5h1.2v1.2h-1.2zM34.9 2.3h1.2v1.2h-1.2zM28.3 34.2h1.2v1.2h-1.2zM38.8 22.3h1.2v1.2h-1.2zM15.4 9.5h1.2v1.2h-1.2zM37.2 4.6h1.2v1.2h-1.2zM37.4 13.9h1.2v1.2h-1.2zM23.0 34.4h1.2v1.2h-1.2zM17.5 0.8h1.2v1.2h-1.2zM28.5 24.8h1.2v1.2h-1.2zM7.5 17.8h1.2v1.2h-1.2zM25.5 22.9h1.2v1.2h-1.2zM25.8 2.9h1.2v1.2h-1.2zM39.2 6.2h1.2v1.2h-1.2zM27.5 3.0h1.2v1.2h-1.2zM14.6 7.7h1.2v1.2h-1.2zM10.7 14.6h1.2v1.2h-1.2zM17.0 6.6h1.2v1.2h-1.2zM36.3 23.2h1.2v1.2h-1.2zM25.2 1.2h1.2v1.2h-1.2zM25.1 7.4h1.2v1.2h-1.2zM12.2 12.1h1.2v1.2h-1.2zM13.9 39.6h1.2v1.2h-1.2zM14.1 36.8h1.2v1.2h-1.2zM19.5 22.1h1.2v1.2h-1.2zM39.8 21.3h1.2v1.2h-1.2zM30.1 26.2h1.2v1.2h-1.2zM0.0 11.3h1.2v1.2h-1.2zM24.2 0.3h1.2v1.2h-1.2zM3.1 17.1h1.2v1.2h-1.2zM33.3 11.1h1.2v1.2h-1.2zM1.0 11.4h1.2v1.2h-1.2zM20.8 21.4h1.2v1.2h-1.2zM6.6 17.5h1.2v1.2h-1.2zM0.2 2.7h1.2v1.2h-1.2zM30.8 15.1h1.2v1.2h-1.2zM31.2 10.3h1.2v1.2h-1.2zM38.9 2.5h1.2v1.2h-1.2zM1.3 10.9h1.2v1.2h-1.2zM32.8 4.3h1.2v1.2h-1.2zM6.4 17.9h1.2v1.2h-1.2zM7.2 36.0h1.2v1.2h-1.2zM21.7 39.3h1.2v1.2h-1.2zM38.3 9.6h1.2v1.2h-1.2zM18.2 25.3h1.2v1.2h-1.2zM18.8 29.1h1.2v1.2h-1.2zM31.9 3.9h1.2v1.2h-1.2zM27.0 14.9h1.2v1.2h-1.2zM0.7 0.3h1.2v1.2h-1.2zM8.1 0.9h1.2v1.2h-1.2zM30.4 21.0h1.2v1.2h-1.2zM31.1 3.3h1.2v1.2h-1.2zM6.4 26.7h1.2v1.2h-1.2zM32.2 3.9h1.2v1.2h-1.2zM12.9 20.2h1.2v1.2h-1.2zM29.2 25.3h1.2v1.2h-1.2zM6.2 37.7h1.2v1.2h-1.2zM18.1 31.6h1.2v1.2h-1.2zM36.6 16.9h1.2v1.2h-1.2zM6.0 19.2h1.2v1.2h-1.2zM11.8 3.8h1.2v1.2h-1.2zM33.7 5.7h1.2v1.2h-1.2zM31.8 33.8h1.2v1.2h-1.2zM24.7 0.2h1.2v1.2h-1.2zM39.0 33.0h1.2v1.2h-1.2zM26.8 12.3h1.2v1.2h-1.2zM31.6 38.4h1.2v1.2h-1.2zM24.2 24.9h1.2v1.2h-1.2zM18.5 24.7h1.2v1.2h-1.2zM15.0 14.1h1.2v1.2h-1.2zM10.7 13.5h1.2v1.2h-1.2zM3.7 22.7h1.2v1.2h-1.2z"/><path fill="#e29076" d="M20.6 3.9h1.2v1.2h-1.2zM12.1 26.8h1.2v1.2h-1.2zM28.8 23.2h1.2v1.2h-1.2zM6.1 5.2h1.2v1.2h-1.2zM32.8 0.1h1.2v1.2h-1.2zM34.8 32.3h1.2v1.2h-1.2zM20.3 9.3h1.2v1.2h-1.2zM2.0 28.1h1.2v1.2h-1.2zM25.1 28.3h1.2v1.2h-1.2zM29.6 8.2h1.2v1.2h-1.2zM22.9 22.1h1.2v1.2h-1.2zM2.5 37.6h1.2v1.2h-1.2zM2.3 1.6h1.2v1.2h-1.2zM29.3 2.2h1.2v1.2h-1.2zM31.0 7.8h1.2v1.2h-1.2zM29.4 28.8h1.2v1.2h-1.2zM2.6 25.5h1.2v1.2h-1.2zM17.3 23.5h1.2v1.2h-1.2zM12.8 19.2h1.2v1.2h-1.2zM36.9 10.9h1.2v1.2h-1.2zM11.6 32.2h1.2v1.2h-1.2zM13.5 23.8h1.2v1.2h-1.2zM10.8 24.9h1.2v1.2h-1.2zM29.7 4.9h1.2v1.2h-1.2zM26.8 13.4h1.2v1.2h-1.2zM17.9 37.9h1.2v1.2h-1.2zM12.5 25.1h1.2v1.2h-1.2zM8.6 27.2h1.2v1.2h-1.2zM7.5 3.7h1.2v1.2h-1.2zM3.0 9.8h1.2v1.2h-1.2zM28.6 8.5h1.2v1.2h-1.2zM4.2 4.2h1.2v1.2h-1.2zM37.4 29.1h1.2v1.2h-1.2zM38.2 31.4h1.2v1.2h-1.2zM8.9 27.5h1.2v1.2h-1.2zM36.5 21.8h1.2v1.2h-1.2zM38.6 5.9h1.2v1.2h-1.2zM1.7 1.9h1.2v1.2h-1.2zM5.0 30.6h1.2v1.2h-1.2zM0.3 5.8h1.2v1.2h-1.2zM15.0 18.3h1.2v1.2h-1.2zM1.5 15.4h1.2v1.2h-1.2zM8.1 15.1h1.2v1.2h-1.2zM6.6 20.5h1.2v1.2h-1.2zM39.6 36.3h1.2v1.2h-1.2zM9.3 19.9h1.2v1.2h-1.2zM12.9 3.1h1.2v1.2h-1.2zM2.8 39.3h1.2v1.2h-1.2zM8.2 30.8h1.2v1.2h-1.2zM22.8 37.5h1.2v1.2h-1.2zM23.9 33.8h1.2v1.2h-1.2zM23.2 3.9h1.2v1.2h-1.2zM3.4 10.2h1.2v1.2h-1.2zM4.6 5.2h1.2v1.2h-1.2zM23.2 4.9h1.2v1.2h-1.2zM13.7 38.6h1.2v1.2h-1.2zM29.8 10.5h1.2v1.2h-1.2zM35.3 6.5h1.2v1.2h-1.2zM33.4 20.1h1.2v1.2h-1.2zM36.9 2.6h1.2v1.2h-1.2zM27.3 29.6h1.2v1.2h-1.2zM18.7 33.1h1.2v1.2h-1.2zM32.1 12.0h1.2v1.2h-1.2zM30.0 29.1h1.2v1.2h-1.2zM17.8 25.4h1.2v1.2h-1.2zM17.6 4.1h1.2v1.2h-1.2zM21.2 9.1h1.2v1.2h-1.2zM14.0 39.5h1.2v1.2h-1.2zM17.6 15.1h1.2v1.2h-1.2zM13.4 4.9h1.2v1.2h-1.2zM9.3 13.3h1.2v1.2h-1.2zM24.3 27.1h1.2v1.2h-1.2zM18.2 25.1h1.2v1.2h-1.2zM9.9 27.1h1.2v1.2h-1.2zM9.0 29.8h1.2v1.2h-1.2zM13.6 11.1h1.2v1.2h-1.2zM39.2 7.0h1.2v1.2h-1.2zM5.1 1.2h1.2v1.2h-1.2zM20.6 38.0h1.2v1.2h-1.2zM31.9 18.8h1.2v1.2h-1.2zM19.4 34.6h1.2v1.2h-1.2zM20.9 20.7h1.2v1.2h-1.2zM36.4 16.4h1.2v1.2h-1.2zM12.1 21.9h1.2v1.2h-1.2zM14.8 10.3h1.2v1.2h-1.2zM34.0 6.8h1.2v1.2h-1.2zM5.6 35.6h1.2v1.2h-1.2zM5.2 0.7h1.2v1.2h-1.2zM3.4 15.9h1.2v1.2h-1.2zM33.0 18.7h1.2v1.2h-1.2zM15.0 11.9h1.2v1.2h-1.2zM37.7 17.1h1.2v1.2h-1.2zM4.8 2.5h1.2v1.2h-1.2zM12.4 12.3h1.2v1.2h-1.2zM18.3 31.6h1.2v1.2h-1.2zM29.9 36.0h1.2v1.2h-1.2zM19.8 39.5h1.2v1.2h-1.2zM12.8 1.8h1.2v1.2h-1.2zM25.5 33.5h1.2v1.2h-1.2zM17.6 29.8h1.2v1.2h-1.2zM34.2 30.6h1.2v1.2h-1.2zM10.0 7.3h1.2v1.2h-1.2z"/></pattern><pattern id="ph_red5b" width="29" height="29" patternUnits="userSpaceOnUse"><path fill="#d96e52" d="M26.9 20.1h1.2v1.2h-1.2zM2.8 11.3h1.2v1.2h-1.2zM6.3 5.6h1.2v1.2h-1.2zM0.4 14.6h1.2v1.2h-1.2zM8.0 4.5h1.2v1.2h-1.2zM15.2 13.3h1.2v1.2h-1.2zM11.6 18.6h1.2v1.2h-1.2zM17.5 6.3h1.2v1.2h-1.2zM1.3 25.5h1.2v1.2h-1.2zM22.2 0.3h1.2v1.2h-1.2zM4.2 1.3h1.2v1.2h-1.2zM27.4 15.6h1.2v1.2h-1.2zM3.3 11.7h1.2v1.2h-1.2zM1.4 24.7h1.2v1.2h-1.2zM8.8 16.4h1.2v1.2h-1.2zM9.6 19.9h1.2v1.2h-1.2zM19.6 2.7h1.2v1.2h-1.2zM5.6 7.3h1.2v1.2h-1.2zM23.0 23.9h1.2v1.2h-1.2zM25.7 21.5h1.2v1.2h-1.2zM16.3 24.0h1.2v1.2h-1.2zM12.8 0.4h1.2v1.2h-1.2zM22.0 12.1h1.2v1.2h-1.2zM10.3 11.8h1.2v1.2h-1.2zM0.6 12.0h1.2v1.2h-1.2zM13.6 24.4h1.2v1.2h-1.2zM11.8 11.5h1.2v1.2h-1.2zM17.2 15.1h1.2v1.2h-1.2zM12.1 6.4h1.2v1.2h-1.2zM5.9 23.0h1.2v1.2h-1.2zM4.3 25.3h1.2v1.2h-1.2zM11.9 18.8h1.2v1.2h-1.2zM25.7 6.8h1.2v1.2h-1.2zM24.5 10.6h1.2v1.2h-1.2zM13.4 18.0h1.2v1.2h-1.2zM27.6 17.7h1.2v1.2h-1.2zM20.9 15.4h1.2v1.2h-1.2zM12.8 18.1h1.2v1.2h-1.2zM6.7 2.0h1.2v1.2h-1.2zM3.4 26.9h1.2v1.2h-1.2zM17.2 6.3h1.2v1.2h-1.2zM1.7 13.2h1.2v1.2h-1.2zM23.7 5.4h1.2v1.2h-1.2zM10.3 12.8h1.2v1.2h-1.2zM25.1 20.8h1.2v1.2h-1.2zM10.6 23.6h1.2v1.2h-1.2zM18.6 3.8h1.2v1.2h-1.2zM13.4 20.7h1.2v1.2h-1.2zM1.2 8.2h1.2v1.2h-1.2zM15.7 6.4h1.2v1.2h-1.2zM3.2 1.1h1.2v1.2h-1.2zM7.0 19.8h1.2v1.2h-1.2zM22.4 9.4h1.2v1.2h-1.2zM15.3 22.6h1.2v1.2h-1.2zM20.1 24.7h1.2v1.2h-1.2zM4.5 0.1h1.2v1.2h-1.2zM17.1 17.1h1.2v1.2h-1.2zM10.7 26.6h1.2v1.2h-1.2zM2.5 20.8h1.2v1.2h-1.2zM15.0 23.7h1.2v1.2h-1.2zM1.3 21.2h1.2v1.2h-1.2zM4.4 4.3h1.2v1.2h-1.2zM13.2 13.0h1.2v1.2h-1.2zM18.3 24.2h1.2v1.2h-1.2zM18.0 17.6h1.2v1.2h-1.2zM25.1 23.2h1.2v1.2h-1.2zM5.0 0.4h1.2v1.2h-1.2zM7.9 19.4h1.2v1.2h-1.2zM5.9 19.1h1.2v1.2h-1.2zM12.5 21.0h1.2v1.2h-1.2zM23.8 3.2h1.2v1.2h-1.2zM13.8 21.5h1.2v1.2h-1.2zM0.2 14.6h1.2v1.2h-1.2zM8.2 21.0h1.2v1.2h-1.2zM20.7 5.2h1.2v1.2h-1.2zM14.2 11.3h1.2v1.2h-1.2zM13.1 20.9h1.2v1.2h-1.2zM4.2 12.0h1.2v1.2h-1.2zM20.4 20.9h1.2v1.2h-1.2zM0.8 10.3h1.2v1.2h-1.2zM2.0 25.1h1.2v1.2h-1.2zM11.8 14.6h1.2v1.2h-1.2zM23.2 5.5h1.2v1.2h-1.2zM21.1 5.4h1.2v1.2h-1.2zM13.4 12.2h1.2v1.2h-1.2zM23.7 23.4h1.2v1.2h-1.2zM16.0 10.9h1.2v1.2h-1.2zM22.1 17.7h1.2v1.2h-1.2zM5.0 27.6h1.2v1.2h-1.2zM19.4 6.8h1.2v1.2h-1.2zM18.5 8.1h1.2v1.2h-1.2zM26.8 5.2h1.2v1.2h-1.2zM8.0 15.8h1.2v1.2h-1.2zM11.6 24.3h1.2v1.2h-1.2zM21.0 23.5h1.2v1.2h-1.2zM15.2 19.5h1.2v1.2h-1.2zM16.5 7.1h1.2v1.2h-1.2zM17.7 20.2h1.2v1.2h-1.2zM16.3 22.3h1.2v1.2h-1.2zM0.4 15.9h1.2v1.2h-1.2zM14.6 1.5h1.2v1.2h-1.2zM8.4 5.7h1.2v1.2h-1.2zM2.8 13.4h1.2v1.2h-1.2zM13.7 23.2h1.2v1.2h-1.2zM5.0 5.8h1.2v1.2h-1.2zM22.7 17.2h1.2v1.2h-1.2zM10.2 3.3h1.2v1.2h-1.2zM1.4 21.2h1.2v1.2h-1.2z"/><path fill="#e29076" d="M23.4 17.0h1.2v1.2h-1.2zM19.6 8.9h1.2v1.2h-1.2zM11.0 19.0h1.2v1.2h-1.2zM18.9 7.5h1.2v1.2h-1.2zM2.3 14.8h1.2v1.2h-1.2zM22.3 10.5h1.2v1.2h-1.2zM26.5 0.7h1.2v1.2h-1.2zM27.7 14.1h1.2v1.2h-1.2zM4.2 11.1h1.2v1.2h-1.2zM12.0 19.6h1.2v1.2h-1.2zM1.6 27.8h1.2v1.2h-1.2zM26.5 18.7h1.2v1.2h-1.2zM1.4 19.0h1.2v1.2h-1.2zM27.1 20.2h1.2v1.2h-1.2zM5.9 16.3h1.2v1.2h-1.2zM18.1 9.1h1.2v1.2h-1.2zM9.8 15.0h1.2v1.2h-1.2zM12.1 7.1h1.2v1.2h-1.2zM12.5 4.3h1.2v1.2h-1.2zM17.1 23.2h1.2v1.2h-1.2zM3.2 4.5h1.2v1.2h-1.2zM24.2 14.6h1.2v1.2h-1.2zM24.6 14.3h1.2v1.2h-1.2zM25.6 10.3h1.2v1.2h-1.2zM18.4 21.4h1.2v1.2h-1.2zM18.4 26.6h1.2v1.2h-1.2zM20.8 18.9h1.2v1.2h-1.2zM16.5 13.8h1.2v1.2h-1.2zM22.8 22.9h1.2v1.2h-1.2zM12.8 14.8h1.2v1.2h-1.2zM19.0 0.2h1.2v1.2h-1.2zM17.8 6.0h1.2v1.2h-1.2zM10.5 20.5h1.2v1.2h-1.2zM1.9 12.7h1.2v1.2h-1.2zM7.6 24.1h1.2v1.2h-1.2zM27.4 17.5h1.2v1.2h-1.2zM8.2 13.4h1.2v1.2h-1.2zM27.7 25.9h1.2v1.2h-1.2zM16.7 6.5h1.2v1.2h-1.2zM13.6 24.4h1.2v1.2h-1.2zM8.3 14.9h1.2v1.2h-1.2zM16.9 4.3h1.2v1.2h-1.2zM19.6 13.5h1.2v1.2h-1.2zM3.2 17.0h1.2v1.2h-1.2zM1.9 2.1h1.2v1.2h-1.2zM13.6 23.1h1.2v1.2h-1.2zM11.9 22.6h1.2v1.2h-1.2zM22.1 7.0h1.2v1.2h-1.2zM22.2 12.2h1.2v1.2h-1.2zM13.5 16.4h1.2v1.2h-1.2zM12.4 3.5h1.2v1.2h-1.2zM1.8 20.4h1.2v1.2h-1.2zM13.7 7.2h1.2v1.2h-1.2zM17.9 17.9h1.2v1.2h-1.2zM26.3 21.2h1.2v1.2h-1.2zM8.0 8.1h1.2v1.2h-1.2zM26.9 19.8h1.2v1.2h-1.2zM13.1 11.8h1.2v1.2h-1.2zM23.7 6.7h1.2v1.2h-1.2zM24.9 23.8h1.2v1.2h-1.2zM18.5 10.4h1.2v1.2h-1.2zM6.4 18.1h1.2v1.2h-1.2zM14.5 5.0h1.2v1.2h-1.2zM23.4 22.2h1.2v1.2h-1.2zM26.2 9.0h1.2v1.2h-1.2zM0.3 13.7h1.2v1.2h-1.2zM9.3 11.4h1.2v1.2h-1.2z"/></pattern><pattern id="pd_red6" width="17" height="17" patternUnits="userSpaceOnUse"><path fill="#cf4526" d="M14.2 0.3h1.2v1.2h-1.2zM10.9 11.8h1.2v1.2h-1.2zM7.6 2.2h1.2v1.2h-1.2zM7.8 1.2h1.2v1.2h-1.2zM12.9 2.8h1.2v1.2h-1.2zM0.6 11.7h1.2v1.2h-1.2zM2.9 11.8h1.2v1.2h-1.2zM8.7 9.6h1.2v1.2h-1.2zM6.7 2.4h1.2v1.2h-1.2zM3.2 3.9h1.2v1.2h-1.2zM14.1 3.4h1.2v1.2h-1.2zM4.2 2.1h1.2v1.2h-1.2zM10.3 3.8h1.2v1.2h-1.2zM6.2 10.6h1.2v1.2h-1.2zM11.6 8.5h1.2v1.2h-1.2zM1.5 8.5h1.2v1.2h-1.2zM7.8 11.5h1.2v1.2h-1.2zM13.0 3.4h1.2v1.2h-1.2zM4.6 12.4h1.2v1.2h-1.2zM1.1 11.6h1.2v1.2h-1.2zM13.6 4.4h1.2v1.2h-1.2zM5.2 7.3h1.2v1.2h-1.2zM8.5 1.7h1.2v1.2h-1.2zM0.7 15.6h1.2v1.2h-1.2zM4.5 2.7h1.2v1.2h-1.2zM0.1 2.5h1.2v1.2h-1.2zM8.3 11.2h1.2v1.2h-1.2zM8.8 9.7h1.2v1.2h-1.2zM0.8 5.1h1.2v1.2h-1.2zM10.5 3.7h1.2v1.2h-1.2zM14.0 5.2h1.2v1.2h-1.2zM13.6 4.6h1.2v1.2h-1.2zM12.3 15.1h1.2v1.2h-1.2zM4.7 5.8h1.2v1.2h-1.2zM10.0 7.0h1.2v1.2h-1.2zM14.0 7.1h1.2v1.2h-1.2zM9.5 1.4h1.2v1.2h-1.2zM8.6 7.1h1.2v1.2h-1.2zM1.4 5.7h1.2v1.2h-1.2zM3.4 1.9h1.2v1.2h-1.2zM13.5 15.4h1.2v1.2h-1.2zM12.3 0.2h1.2v1.2h-1.2zM11.4 14.3h1.2v1.2h-1.2zM15.7 15.3h1.2v1.2h-1.2zM6.4 14.4h1.2v1.2h-1.2zM2.6 9.2h1.2v1.2h-1.2zM12.2 3.5h1.2v1.2h-1.2zM3.1 14.8h1.2v1.2h-1.2zM12.9 7.4h1.2v1.2h-1.2zM11.5 4.3h1.2v1.2h-1.2zM9.8 0.8h1.2v1.2h-1.2zM7.7 0.3h1.2v1.2h-1.2zM6.1 1.6h1.2v1.2h-1.2zM12.1 10.8h1.2v1.2h-1.2zM7.2 14.5h1.2v1.2h-1.2zM2.8 8.0h1.2v1.2h-1.2zM8.7 5.5h1.2v1.2h-1.2zM0.6 10.6h1.2v1.2h-1.2zM3.5 4.8h1.2v1.2h-1.2zM0.5 15.5h1.2v1.2h-1.2zM7.3 1.5h1.2v1.2h-1.2zM3.0 6.4h1.2v1.2h-1.2zM13.6 1.3h1.2v1.2h-1.2zM9.8 14.8h1.2v1.2h-1.2zM8.2 13.6h1.2v1.2h-1.2zM0.0 8.0h1.2v1.2h-1.2zM1.9 10.9h1.2v1.2h-1.2zM13.2 5.2h1.2v1.2h-1.2zM3.6 3.7h1.2v1.2h-1.2zM10.3 4.3h1.2v1.2h-1.2zM14.6 3.6h1.2v1.2h-1.2zM3.9 11.3h1.2v1.2h-1.2z"/><path fill="#d9603e" d="M13.0 0.9h1.2v1.2h-1.2zM12.7 3.0h1.2v1.2h-1.2zM5.8 7.1h1.2v1.2h-1.2zM15.1 12.1h1.2v1.2h-1.2zM8.7 7.2h1.2v1.2h-1.2zM10.4 2.2h1.2v1.2h-1.2zM11.8 1.8h1.2v1.2h-1.2zM5.1 12.1h1.2v1.2h-1.2zM13.1 8.5h1.2v1.2h-1.2zM0.5 3.0h1.2v1.2h-1.2zM8.5 6.2h1.2v1.2h-1.2zM7.5 6.4h1.2v1.2h-1.2zM1.8 13.7h1.2v1.2h-1.2zM5.3 15.3h1.2v1.2h-1.2zM15.0 2.2h1.2v1.2h-1.2zM10.2 0.5h1.2v1.2h-1.2zM11.6 13.3h1.2v1.2h-1.2zM7.8 6.7h1.2v1.2h-1.2zM8.1 9.8h1.2v1.2h-1.2zM2.7 13.8h1.2v1.2h-1.2z"/></pattern><pattern id="pd_red6b" width="11" height="11" patternUnits="userSpaceOnUse"><path fill="#cf4526" d="M5.1 1.9h1.2v1.2h-1.2zM6.6 7.6h1.2v1.2h-1.2zM9.2 0.6h1.2v1.2h-1.2zM5.9 6.4h1.2v1.2h-1.2zM2.6 5.9h1.2v1.2h-1.2zM8.1 7.4h1.2v1.2h-1.2zM3.2 3.9h1.2v1.2h-1.2zM8.6 8.6h1.2v1.2h-1.2zM5.2 0.1h1.2v1.2h-1.2zM1.9 0.4h1.2v1.2h-1.2zM5.7 8.3h1.2v1.2h-1.2zM3.8 7.1h1.2v1.2h-1.2zM8.9 5.0h1.2v1.2h-1.2zM0.4 5.2h1.2v1.2h-1.2zM1.4 4.9h1.2v1.2h-1.2zM5.8 2.2h1.2v1.2h-1.2zM0.5 2.1h1.2v1.2h-1.2zM6.5 6.2h1.2v1.2h-1.2zM3.9 8.5h1.2v1.2h-1.2zM7.9 2.5h1.2v1.2h-1.2zM5.6 8.4h1.2v1.2h-1.2zM5.3 9.0h1.2v1.2h-1.2zM9.5 8.0h1.2v1.2h-1.2zM0.7 8.9h1.2v1.2h-1.2zM7.8 4.4h1.2v1.2h-1.2zM4.5 6.8h1.2v1.2h-1.2zM0.9 2.5h1.2v1.2h-1.2zM1.2 7.5h1.2v1.2h-1.2zM0.7 3.7h1.2v1.2h-1.2z"/><path fill="#d9603e" d="M2.0 7.1h1.2v1.2h-1.2zM0.7 8.5h1.2v1.2h-1.2zM4.1 9.1h1.2v1.2h-1.2zM5.1 1.9h1.2v1.2h-1.2zM5.4 0.6h1.2v1.2h-1.2zM1.2 6.3h1.2v1.2h-1.2zM2.9 9.5h1.2v1.2h-1.2zM4.7 5.6h1.2v1.2h-1.2zM5.7 0.9h1.2v1.2h-1.2z"/></pattern><pattern id="ph_red6" width="17" height="17" patternUnits="userSpaceOnUse"><path fill="#d96e52" d="M4.8 11.6h1.2v1.2h-1.2zM4.1 8.3h1.2v1.2h-1.2zM3.0 11.7h1.2v1.2h-1.2zM10.7 10.2h1.2v1.2h-1.2zM6.7 10.8h1.2v1.2h-1.2zM4.8 14.8h1.2v1.2h-1.2zM5.0 1.6h1.2v1.2h-1.2zM3.0 0.2h1.2v1.2h-1.2zM12.9 15.6h1.2v1.2h-1.2zM1.0 1.1h1.2v1.2h-1.2zM11.9 10.7h1.2v1.2h-1.2zM1.7 5.1h1.2v1.2h-1.2zM11.0 3.5h1.2v1.2h-1.2zM8.5 15.5h1.2v1.2h-1.2zM8.6 7.1h1.2v1.2h-1.2zM5.2 13.4h1.2v1.2h-1.2zM0.1 11.9h1.2v1.2h-1.2zM11.3 9.1h1.2v1.2h-1.2zM11.5 10.1h1.2v1.2h-1.2zM6.7 7.2h1.2v1.2h-1.2zM10.5 3.9h1.2v1.2h-1.2zM2.8 7.9h1.2v1.2h-1.2zM3.8 4.4h1.2v1.2h-1.2zM15.5 2.3h1.2v1.2h-1.2zM8.6 14.2h1.2v1.2h-1.2zM0.1 8.0h1.2v1.2h-1.2zM1.7 2.7h1.2v1.2h-1.2zM3.4 12.9h1.2v1.2h-1.2zM2.8 0.6h1.2v1.2h-1.2zM10.6 13.7h1.2v1.2h-1.2zM15.8 10.4h1.2v1.2h-1.2zM14.0 9.5h1.2v1.2h-1.2zM14.4 14.6h1.2v1.2h-1.2zM8.8 15.0h1.2v1.2h-1.2zM13.7 8.7h1.2v1.2h-1.2zM5.4 0.7h1.2v1.2h-1.2zM0.3 11.6h1.2v1.2h-1.2zM1.1 14.0h1.2v1.2h-1.2zM0.6 0.6h1.2v1.2h-1.2zM15.2 12.2h1.2v1.2h-1.2zM9.0 3.2h1.2v1.2h-1.2zM14.2 9.1h1.2v1.2h-1.2zM10.6 11.5h1.2v1.2h-1.2zM2.8 9.6h1.2v1.2h-1.2zM9.0 4.6h1.2v1.2h-1.2zM6.8 1.6h1.2v1.2h-1.2zM6.2 10.1h1.2v1.2h-1.2zM6.7 12.8h1.2v1.2h-1.2zM7.7 1.4h1.2v1.2h-1.2zM4.2 10.2h1.2v1.2h-1.2zM7.2 10.3h1.2v1.2h-1.2zM11.7 15.5h1.2v1.2h-1.2zM11.1 2.0h1.2v1.2h-1.2zM11.4 14.0h1.2v1.2h-1.2zM3.8 13.1h1.2v1.2h-1.2zM11.5 0.1h1.2v1.2h-1.2zM14.0 7.0h1.2v1.2h-1.2zM0.7 0.4h1.2v1.2h-1.2zM5.4 5.9h1.2v1.2h-1.2zM7.4 11.6h1.2v1.2h-1.2zM6.2 0.2h1.2v1.2h-1.2zM8.9 9.9h1.2v1.2h-1.2zM3.2 0.3h1.2v1.2h-1.2zM5.5 4.0h1.2v1.2h-1.2zM10.1 10.0h1.2v1.2h-1.2z"/><path fill="#e29076" d="M14.2 15.4h1.2v1.2h-1.2zM11.0 10.5h1.2v1.2h-1.2zM6.1 2.7h1.2v1.2h-1.2zM15.7 1.9h1.2v1.2h-1.2zM0.9 1.8h1.2v1.2h-1.2zM4.6 14.8h1.2v1.2h-1.2zM10.1 3.1h1.2v1.2h-1.2zM4.0 5.9h1.2v1.2h-1.2zM8.0 13.3h1.2v1.2h-1.2zM3.8 15.2h1.2v1.2h-1.2zM7.7 2.7h1.2v1.2h-1.2zM10.5 9.6h1.2v1.2h-1.2zM15.3 10.0h1.2v1.2h-1.2zM5.0 0.4h1.2v1.2h-1.2zM3.0 14.3h1.2v1.2h-1.2zM0.0 1.1h1.2v1.2h-1.2zM10.2 3.2h1.2v1.2h-1.2zM14.2 6.9h1.2v1.2h-1.2zM11.4 13.9h1.2v1.2h-1.2zM13.9 0.9h1.2v1.2h-1.2zM0.5 9.2h1.2v1.2h-1.2zM9.9 10.4h1.2v1.2h-1.2zM14.1 7.4h1.2v1.2h-1.2zM8.2 9.8h1.2v1.2h-1.2zM3.0 1.4h1.2v1.2h-1.2zM14.7 2.0h1.2v1.2h-1.2zM6.7 3.8h1.2v1.2h-1.2z"/></pattern><pattern id="ph_red6b" width="11" height="11" patternUnits="userSpaceOnUse"><path fill="#d96e52" d="M4.1 3.9h1.2v1.2h-1.2zM1.1 0.4h1.2v1.2h-1.2zM8.7 3.0h1.2v1.2h-1.2zM9.7 6.0h1.2v1.2h-1.2zM1.6 9.3h1.2v1.2h-1.2zM9.0 2.0h1.2v1.2h-1.2zM4.0 8.0h1.2v1.2h-1.2zM6.7 8.3h1.2v1.2h-1.2zM4.1 5.8h1.2v1.2h-1.2zM7.6 6.4h1.2v1.2h-1.2zM2.8 4.7h1.2v1.2h-1.2zM2.2 1.7h1.2v1.2h-1.2zM0.9 4.5h1.2v1.2h-1.2zM5.7 8.2h1.2v1.2h-1.2zM7.8 8.1h1.2v1.2h-1.2zM1.1 9.6h1.2v1.2h-1.2zM4.8 9.1h1.2v1.2h-1.2zM8.3 4.4h1.2v1.2h-1.2zM6.9 0.1h1.2v1.2h-1.2zM4.6 9.3h1.2v1.2h-1.2zM0.6 9.1h1.2v1.2h-1.2zM0.2 3.2h1.2v1.2h-1.2zM6.2 0.3h1.2v1.2h-1.2zM3.1 5.4h1.2v1.2h-1.2zM7.0 9.6h1.2v1.2h-1.2zM7.3 1.8h1.2v1.2h-1.2zM9.2 6.5h1.2v1.2h-1.2zM3.8 0.9h1.2v1.2h-1.2zM6.2 8.2h1.2v1.2h-1.2zM1.1 8.3h1.2v1.2h-1.2zM7.0 3.3h1.2v1.2h-1.2z"/><path fill="#e29076" d="M4.5 5.0h1.2v1.2h-1.2zM8.7 1.4h1.2v1.2h-1.2zM8.6 9.1h1.2v1.2h-1.2zM0.3 5.9h1.2v1.2h-1.2zM7.4 6.8h1.2v1.2h-1.2zM7.8 7.6h1.2v1.2h-1.2zM8.8 9.4h1.2v1.2h-1.2z"/></pattern><pattern id="pd_red7" width="17" height="17" patternUnits="userSpaceOnUse"><path fill="#cf4526" d="M9.2 15.4h1.2v1.2h-1.2zM7.6 4.9h1.2v1.2h-1.2zM15.8 11.9h1.2v1.2h-1.2zM9.4 11.2h1.2v1.2h-1.2zM9.3 14.6h1.2v1.2h-1.2zM2.2 5.9h1.2v1.2h-1.2zM2.5 7.8h1.2v1.2h-1.2zM4.3 3.8h1.2v1.2h-1.2zM13.5 3.7h1.2v1.2h-1.2zM6.3 4.6h1.2v1.2h-1.2zM12.3 13.3h1.2v1.2h-1.2zM14.0 11.5h1.2v1.2h-1.2zM3.7 9.0h1.2v1.2h-1.2zM12.4 14.3h1.2v1.2h-1.2zM12.6 7.9h1.2v1.2h-1.2zM6.0 9.7h1.2v1.2h-1.2zM7.8 6.2h1.2v1.2h-1.2zM10.8 14.8h1.2v1.2h-1.2zM8.5 9.8h1.2v1.2h-1.2zM6.1 13.6h1.2v1.2h-1.2zM13.9 14.5h1.2v1.2h-1.2zM7.0 12.1h1.2v1.2h-1.2zM2.1 1.1h1.2v1.2h-1.2zM0.0 6.3h1.2v1.2h-1.2zM15.0 2.4h1.2v1.2h-1.2zM14.2 14.6h1.2v1.2h-1.2zM8.5 5.3h1.2v1.2h-1.2zM4.5 1.6h1.2v1.2h-1.2zM10.1 1.0h1.2v1.2h-1.2zM1.1 9.6h1.2v1.2h-1.2zM15.5 14.4h1.2v1.2h-1.2zM14.5 12.4h1.2v1.2h-1.2zM13.6 13.9h1.2v1.2h-1.2zM10.6 4.8h1.2v1.2h-1.2zM7.3 2.1h1.2v1.2h-1.2zM1.0 5.6h1.2v1.2h-1.2zM13.1 15.3h1.2v1.2h-1.2zM7.0 13.8h1.2v1.2h-1.2zM12.8 5.6h1.2v1.2h-1.2zM5.9 9.7h1.2v1.2h-1.2zM13.0 11.7h1.2v1.2h-1.2zM11.4 7.2h1.2v1.2h-1.2zM1.7 14.1h1.2v1.2h-1.2zM2.2 3.5h1.2v1.2h-1.2zM0.9 11.8h1.2v1.2h-1.2zM4.8 5.2h1.2v1.2h-1.2zM8.1 9.0h1.2v1.2h-1.2zM6.6 13.9h1.2v1.2h-1.2zM8.1 6.3h1.2v1.2h-1.2zM2.3 4.8h1.2v1.2h-1.2zM0.6 1.9h1.2v1.2h-1.2zM1.8 5.5h1.2v1.2h-1.2zM3.8 7.0h1.2v1.2h-1.2zM8.1 2.4h1.2v1.2h-1.2zM6.5 4.3h1.2v1.2h-1.2zM12.3 6.9h1.2v1.2h-1.2zM10.9 10.0h1.2v1.2h-1.2zM9.5 0.7h1.2v1.2h-1.2zM2.9 14.5h1.2v1.2h-1.2zM4.1 12.1h1.2v1.2h-1.2zM11.4 5.2h1.2v1.2h-1.2zM1.2 13.1h1.2v1.2h-1.2zM2.5 5.8h1.2v1.2h-1.2zM2.8 5.3h1.2v1.2h-1.2zM9.6 4.6h1.2v1.2h-1.2zM3.6 9.3h1.2v1.2h-1.2zM9.7 0.0h1.2v1.2h-1.2zM3.6 13.0h1.2v1.2h-1.2zM10.6 6.8h1.2v1.2h-1.2zM15.4 11.4h1.2v1.2h-1.2zM12.5 13.2h1.2v1.2h-1.2zM0.6 3.1h1.2v1.2h-1.2zM2.4 3.6h1.2v1.2h-1.2zM11.0 5.2h1.2v1.2h-1.2zM12.3 3.5h1.2v1.2h-1.2zM4.8 12.7h1.2v1.2h-1.2zM3.1 14.4h1.2v1.2h-1.2zM4.3 13.2h1.2v1.2h-1.2zM8.9 9.3h1.2v1.2h-1.2zM0.6 14.6h1.2v1.2h-1.2zM13.2 0.9h1.2v1.2h-1.2zM12.7 0.1h1.2v1.2h-1.2zM7.8 8.0h1.2v1.2h-1.2zM13.2 5.0h1.2v1.2h-1.2zM14.8 8.8h1.2v1.2h-1.2zM8.6 9.6h1.2v1.2h-1.2zM1.8 2.3h1.2v1.2h-1.2zM1.0 13.5h1.2v1.2h-1.2zM13.3 10.8h1.2v1.2h-1.2zM4.3 10.0h1.2v1.2h-1.2z"/><path fill="#d9603e" d="M4.4 5.0h1.2v1.2h-1.2zM15.4 10.7h1.2v1.2h-1.2zM13.8 8.1h1.2v1.2h-1.2zM0.2 6.3h1.2v1.2h-1.2zM13.7 14.5h1.2v1.2h-1.2zM14.7 6.5h1.2v1.2h-1.2zM10.6 6.8h1.2v1.2h-1.2zM13.7 13.6h1.2v1.2h-1.2zM11.1 3.8h1.2v1.2h-1.2zM3.1 6.2h1.2v1.2h-1.2zM0.6 9.2h1.2v1.2h-1.2zM15.2 10.2h1.2v1.2h-1.2zM15.1 0.7h1.2v1.2h-1.2zM2.7 11.2h1.2v1.2h-1.2zM15.0 10.9h1.2v1.2h-1.2zM6.6 8.0h1.2v1.2h-1.2zM4.5 1.7h1.2v1.2h-1.2zM14.2 2.5h1.2v1.2h-1.2zM14.0 3.6h1.2v1.2h-1.2zM1.5 10.4h1.2v1.2h-1.2zM0.9 2.5h1.2v1.2h-1.2zM12.9 4.5h1.2v1.2h-1.2zM10.2 0.2h1.2v1.2h-1.2zM0.2 13.1h1.2v1.2h-1.2zM10.6 6.6h1.2v1.2h-1.2zM3.4 4.1h1.2v1.2h-1.2zM0.3 0.8h1.2v1.2h-1.2zM14.5 7.0h1.2v1.2h-1.2zM7.0 6.5h1.2v1.2h-1.2zM2.0 0.8h1.2v1.2h-1.2zM15.1 13.3h1.2v1.2h-1.2z"/></pattern><pattern id="pd_red7b" width="11" height="11" patternUnits="userSpaceOnUse"><path fill="#cf4526" d="M2.9 6.8h1.2v1.2h-1.2zM4.2 0.2h1.2v1.2h-1.2zM6.1 2.0h1.2v1.2h-1.2zM2.0 7.4h1.2v1.2h-1.2zM8.1 8.9h1.2v1.2h-1.2zM8.5 0.4h1.2v1.2h-1.2zM2.4 2.4h1.2v1.2h-1.2zM5.0 8.3h1.2v1.2h-1.2zM3.5 8.7h1.2v1.2h-1.2zM0.2 0.3h1.2v1.2h-1.2zM7.2 1.4h1.2v1.2h-1.2zM2.8 2.8h1.2v1.2h-1.2zM0.7 7.1h1.2v1.2h-1.2zM6.3 5.4h1.2v1.2h-1.2zM9.5 0.5h1.2v1.2h-1.2zM6.0 0.1h1.2v1.2h-1.2zM8.1 1.6h1.2v1.2h-1.2zM9.8 3.8h1.2v1.2h-1.2zM7.3 2.9h1.2v1.2h-1.2zM8.9 9.7h1.2v1.2h-1.2zM3.9 2.3h1.2v1.2h-1.2zM3.9 7.2h1.2v1.2h-1.2zM2.9 1.4h1.2v1.2h-1.2zM6.3 6.5h1.2v1.2h-1.2zM3.0 5.7h1.2v1.2h-1.2zM2.8 7.1h1.2v1.2h-1.2zM8.6 5.7h1.2v1.2h-1.2zM5.5 3.6h1.2v1.2h-1.2zM9.3 9.3h1.2v1.2h-1.2zM0.1 0.7h1.2v1.2h-1.2zM3.4 2.2h1.2v1.2h-1.2zM8.7 7.2h1.2v1.2h-1.2zM7.3 7.7h1.2v1.2h-1.2zM5.3 5.1h1.2v1.2h-1.2zM3.4 4.6h1.2v1.2h-1.2zM7.9 9.7h1.2v1.2h-1.2zM7.6 9.5h1.2v1.2h-1.2zM8.2 9.3h1.2v1.2h-1.2z"/><path fill="#d9603e" d="M7.5 5.9h1.2v1.2h-1.2zM9.8 7.8h1.2v1.2h-1.2zM7.3 4.1h1.2v1.2h-1.2zM1.0 9.7h1.2v1.2h-1.2zM0.6 5.2h1.2v1.2h-1.2zM5.7 8.4h1.2v1.2h-1.2zM7.1 5.0h1.2v1.2h-1.2zM3.4 2.3h1.2v1.2h-1.2zM5.8 5.2h1.2v1.2h-1.2zM0.7 1.8h1.2v1.2h-1.2zM4.6 6.6h1.2v1.2h-1.2zM7.6 0.5h1.2v1.2h-1.2zM5.4 7.3h1.2v1.2h-1.2z"/></pattern><pattern id="ph_red7" width="17" height="17" patternUnits="userSpaceOnUse"><path fill="#d96e52" d="M10.6 13.5h1.2v1.2h-1.2zM2.5 10.6h1.2v1.2h-1.2zM11.0 13.4h1.2v1.2h-1.2zM5.8 2.9h1.2v1.2h-1.2zM14.7 3.2h1.2v1.2h-1.2zM3.0 2.4h1.2v1.2h-1.2zM0.7 12.5h1.2v1.2h-1.2zM5.4 12.0h1.2v1.2h-1.2zM4.6 5.8h1.2v1.2h-1.2zM9.9 5.8h1.2v1.2h-1.2zM12.4 5.8h1.2v1.2h-1.2zM11.8 14.3h1.2v1.2h-1.2zM3.9 11.9h1.2v1.2h-1.2zM8.0 4.9h1.2v1.2h-1.2zM5.6 12.6h1.2v1.2h-1.2zM12.7 13.7h1.2v1.2h-1.2zM2.9 0.4h1.2v1.2h-1.2zM4.7 6.1h1.2v1.2h-1.2zM8.7 10.2h1.2v1.2h-1.2zM2.8 13.2h1.2v1.2h-1.2zM7.5 2.4h1.2v1.2h-1.2zM1.8 3.5h1.2v1.2h-1.2zM0.2 14.3h1.2v1.2h-1.2zM10.8 13.6h1.2v1.2h-1.2zM14.8 3.3h1.2v1.2h-1.2zM0.1 0.8h1.2v1.2h-1.2zM6.3 1.7h1.2v1.2h-1.2zM1.7 13.9h1.2v1.2h-1.2zM3.9 15.6h1.2v1.2h-1.2zM7.9 1.6h1.2v1.2h-1.2zM12.9 8.9h1.2v1.2h-1.2zM15.7 6.9h1.2v1.2h-1.2zM14.8 3.2h1.2v1.2h-1.2zM9.0 5.3h1.2v1.2h-1.2zM3.6 0.4h1.2v1.2h-1.2zM1.1 1.7h1.2v1.2h-1.2zM2.6 0.9h1.2v1.2h-1.2zM8.7 0.3h1.2v1.2h-1.2zM10.0 13.2h1.2v1.2h-1.2zM2.1 4.1h1.2v1.2h-1.2zM9.6 13.4h1.2v1.2h-1.2zM0.3 10.9h1.2v1.2h-1.2zM11.2 12.9h1.2v1.2h-1.2zM12.6 14.8h1.2v1.2h-1.2zM6.9 12.0h1.2v1.2h-1.2zM12.7 10.5h1.2v1.2h-1.2zM8.7 7.5h1.2v1.2h-1.2zM2.3 12.5h1.2v1.2h-1.2zM9.6 10.4h1.2v1.2h-1.2zM6.0 9.0h1.2v1.2h-1.2zM7.2 4.1h1.2v1.2h-1.2zM7.5 2.2h1.2v1.2h-1.2zM9.1 14.5h1.2v1.2h-1.2zM11.6 14.8h1.2v1.2h-1.2zM13.7 0.2h1.2v1.2h-1.2zM7.4 5.0h1.2v1.2h-1.2zM14.6 11.9h1.2v1.2h-1.2zM8.3 1.2h1.2v1.2h-1.2zM15.6 12.4h1.2v1.2h-1.2zM0.2 9.5h1.2v1.2h-1.2zM11.7 13.3h1.2v1.2h-1.2zM9.4 8.1h1.2v1.2h-1.2zM11.9 0.8h1.2v1.2h-1.2zM5.0 10.3h1.2v1.2h-1.2zM7.1 4.8h1.2v1.2h-1.2zM5.0 1.3h1.2v1.2h-1.2zM3.7 12.2h1.2v1.2h-1.2zM3.9 10.5h1.2v1.2h-1.2zM2.8 0.8h1.2v1.2h-1.2zM14.7 15.7h1.2v1.2h-1.2zM13.0 1.2h1.2v1.2h-1.2zM6.9 12.4h1.2v1.2h-1.2zM11.2 9.6h1.2v1.2h-1.2zM1.5 4.6h1.2v1.2h-1.2zM5.0 10.4h1.2v1.2h-1.2zM12.8 0.1h1.2v1.2h-1.2zM12.9 3.9h1.2v1.2h-1.2zM6.6 4.6h1.2v1.2h-1.2zM6.8 10.8h1.2v1.2h-1.2zM3.8 2.6h1.2v1.2h-1.2zM0.9 5.5h1.2v1.2h-1.2zM4.0 0.7h1.2v1.2h-1.2zM2.5 3.7h1.2v1.2h-1.2zM13.8 10.2h1.2v1.2h-1.2zM5.6 3.2h1.2v1.2h-1.2zM7.7 3.5h1.2v1.2h-1.2zM3.1 11.8h1.2v1.2h-1.2zM13.2 9.4h1.2v1.2h-1.2zM15.0 2.8h1.2v1.2h-1.2zM3.4 10.8h1.2v1.2h-1.2zM11.0 13.4h1.2v1.2h-1.2zM11.9 5.3h1.2v1.2h-1.2zM11.3 1.1h1.2v1.2h-1.2zM14.6 7.2h1.2v1.2h-1.2zM15.3 11.6h1.2v1.2h-1.2zM12.5 10.2h1.2v1.2h-1.2zM10.3 1.5h1.2v1.2h-1.2zM3.9 8.4h1.2v1.2h-1.2zM9.3 12.9h1.2v1.2h-1.2zM1.1 7.6h1.2v1.2h-1.2zM11.5 0.1h1.2v1.2h-1.2z"/><path fill="#e29076" d="M4.0 10.3h1.2v1.2h-1.2zM7.9 3.2h1.2v1.2h-1.2zM0.3 4.4h1.2v1.2h-1.2zM8.6 7.8h1.2v1.2h-1.2zM10.2 10.9h1.2v1.2h-1.2zM1.2 4.7h1.2v1.2h-1.2zM9.4 6.2h1.2v1.2h-1.2zM15.0 5.2h1.2v1.2h-1.2zM15.8 14.0h1.2v1.2h-1.2zM5.7 12.2h1.2v1.2h-1.2zM8.1 0.7h1.2v1.2h-1.2zM6.6 5.0h1.2v1.2h-1.2zM6.2 10.5h1.2v1.2h-1.2zM2.2 13.4h1.2v1.2h-1.2zM7.5 15.6h1.2v1.2h-1.2zM14.2 1.5h1.2v1.2h-1.2zM13.8 5.3h1.2v1.2h-1.2zM1.0 11.5h1.2v1.2h-1.2zM11.1 8.3h1.2v1.2h-1.2zM10.4 12.4h1.2v1.2h-1.2z"/></pattern><pattern id="ph_red7b" width="11" height="11" patternUnits="userSpaceOnUse"><path fill="#d96e52" d="M1.0 8.0h1.2v1.2h-1.2zM3.6 7.3h1.2v1.2h-1.2zM5.0 0.7h1.2v1.2h-1.2zM7.8 8.9h1.2v1.2h-1.2zM2.1 4.0h1.2v1.2h-1.2zM2.9 7.4h1.2v1.2h-1.2zM8.1 6.6h1.2v1.2h-1.2zM1.4 3.6h1.2v1.2h-1.2zM1.6 9.3h1.2v1.2h-1.2zM0.6 3.6h1.2v1.2h-1.2zM6.1 3.0h1.2v1.2h-1.2zM9.6 5.7h1.2v1.2h-1.2zM1.1 4.5h1.2v1.2h-1.2zM9.0 3.6h1.2v1.2h-1.2zM7.6 1.2h1.2v1.2h-1.2zM9.7 0.7h1.2v1.2h-1.2zM2.9 7.3h1.2v1.2h-1.2zM5.8 4.7h1.2v1.2h-1.2zM0.9 3.1h1.2v1.2h-1.2zM0.0 8.0h1.2v1.2h-1.2zM1.0 2.4h1.2v1.2h-1.2zM4.0 9.2h1.2v1.2h-1.2zM1.7 2.3h1.2v1.2h-1.2zM2.4 9.4h1.2v1.2h-1.2zM6.7 1.6h1.2v1.2h-1.2zM7.6 4.2h1.2v1.2h-1.2zM0.8 8.1h1.2v1.2h-1.2zM4.5 8.6h1.2v1.2h-1.2zM9.7 9.4h1.2v1.2h-1.2zM2.5 3.6h1.2v1.2h-1.2zM4.8 2.6h1.2v1.2h-1.2zM2.8 0.2h1.2v1.2h-1.2zM6.9 4.7h1.2v1.2h-1.2zM6.9 6.9h1.2v1.2h-1.2zM5.1 7.3h1.2v1.2h-1.2zM7.5 0.6h1.2v1.2h-1.2zM4.6 7.4h1.2v1.2h-1.2z"/><path fill="#e29076" d="M5.0 4.5h1.2v1.2h-1.2zM1.0 5.8h1.2v1.2h-1.2zM1.8 2.5h1.2v1.2h-1.2zM1.6 0.6h1.2v1.2h-1.2zM7.0 3.3h1.2v1.2h-1.2zM5.2 1.7h1.2v1.2h-1.2zM0.9 5.9h1.2v1.2h-1.2zM2.2 6.2h1.2v1.2h-1.2zM5.8 5.1h1.2v1.2h-1.2zM2.4 3.8h1.2v1.2h-1.2zM3.3 5.9h1.2v1.2h-1.2zM4.4 5.1h1.2v1.2h-1.2zM9.0 4.5h1.2v1.2h-1.2zM7.1 4.6h1.2v1.2h-1.2z"/></pattern><pattern id="pd_red8" width="17" height="17" patternUnits="userSpaceOnUse"><path fill="#cf4526" d="M12.9 13.9h1.2v1.2h-1.2zM4.4 3.1h1.2v1.2h-1.2zM3.4 3.2h1.2v1.2h-1.2zM15.6 6.2h1.2v1.2h-1.2zM10.9 10.2h1.2v1.2h-1.2zM11.4 12.9h1.2v1.2h-1.2zM5.5 11.4h1.2v1.2h-1.2zM5.6 12.4h1.2v1.2h-1.2zM9.4 8.7h1.2v1.2h-1.2zM12.5 12.5h1.2v1.2h-1.2zM11.6 9.7h1.2v1.2h-1.2zM14.6 10.2h1.2v1.2h-1.2zM11.7 7.0h1.2v1.2h-1.2zM12.4 11.6h1.2v1.2h-1.2zM4.6 6.1h1.2v1.2h-1.2zM2.9 2.7h1.2v1.2h-1.2zM15.3 9.2h1.2v1.2h-1.2zM0.5 14.5h1.2v1.2h-1.2zM4.7 11.4h1.2v1.2h-1.2zM15.7 8.1h1.2v1.2h-1.2zM10.3 7.9h1.2v1.2h-1.2zM1.1 5.9h1.2v1.2h-1.2zM5.1 1.6h1.2v1.2h-1.2zM2.6 15.0h1.2v1.2h-1.2zM0.3 9.8h1.2v1.2h-1.2zM10.4 9.6h1.2v1.2h-1.2zM7.6 10.0h1.2v1.2h-1.2zM13.8 11.3h1.2v1.2h-1.2zM1.2 6.4h1.2v1.2h-1.2zM9.9 1.9h1.2v1.2h-1.2zM8.7 2.7h1.2v1.2h-1.2zM10.0 11.5h1.2v1.2h-1.2zM1.2 11.2h1.2v1.2h-1.2zM2.5 10.5h1.2v1.2h-1.2zM13.6 11.8h1.2v1.2h-1.2zM4.9 12.5h1.2v1.2h-1.2zM3.5 0.6h1.2v1.2h-1.2zM15.3 11.2h1.2v1.2h-1.2zM14.9 10.9h1.2v1.2h-1.2zM4.1 0.6h1.2v1.2h-1.2zM15.6 14.5h1.2v1.2h-1.2zM2.7 13.9h1.2v1.2h-1.2zM13.6 7.7h1.2v1.2h-1.2zM15.1 4.9h1.2v1.2h-1.2zM7.7 4.0h1.2v1.2h-1.2zM14.6 13.9h1.2v1.2h-1.2zM14.3 5.6h1.2v1.2h-1.2zM7.1 2.3h1.2v1.2h-1.2zM11.6 9.9h1.2v1.2h-1.2zM7.1 0.3h1.2v1.2h-1.2zM10.4 12.2h1.2v1.2h-1.2zM3.6 0.5h1.2v1.2h-1.2zM11.4 1.4h1.2v1.2h-1.2zM3.7 1.8h1.2v1.2h-1.2zM6.3 5.0h1.2v1.2h-1.2zM12.7 4.4h1.2v1.2h-1.2zM4.2 4.1h1.2v1.2h-1.2zM4.7 2.9h1.2v1.2h-1.2zM14.2 7.8h1.2v1.2h-1.2zM7.9 14.7h1.2v1.2h-1.2zM13.6 4.8h1.2v1.2h-1.2zM15.4 4.4h1.2v1.2h-1.2zM2.6 12.4h1.2v1.2h-1.2zM15.1 6.7h1.2v1.2h-1.2zM5.0 5.5h1.2v1.2h-1.2zM4.6 9.2h1.2v1.2h-1.2zM8.5 2.4h1.2v1.2h-1.2zM5.3 7.5h1.2v1.2h-1.2zM12.7 13.6h1.2v1.2h-1.2zM2.7 10.3h1.2v1.2h-1.2zM2.2 2.5h1.2v1.2h-1.2zM3.9 4.5h1.2v1.2h-1.2zM5.0 8.4h1.2v1.2h-1.2zM2.8 10.7h1.2v1.2h-1.2zM13.7 15.1h1.2v1.2h-1.2zM9.7 13.4h1.2v1.2h-1.2zM15.1 5.7h1.2v1.2h-1.2zM0.8 4.7h1.2v1.2h-1.2zM10.4 8.9h1.2v1.2h-1.2zM13.5 4.9h1.2v1.2h-1.2zM13.1 11.2h1.2v1.2h-1.2zM3.9 7.1h1.2v1.2h-1.2zM4.9 2.3h1.2v1.2h-1.2zM2.3 14.2h1.2v1.2h-1.2zM15.5 13.0h1.2v1.2h-1.2zM3.2 14.0h1.2v1.2h-1.2zM11.0 11.6h1.2v1.2h-1.2zM11.0 10.1h1.2v1.2h-1.2zM2.7 13.1h1.2v1.2h-1.2zM1.3 6.9h1.2v1.2h-1.2zM8.0 5.2h1.2v1.2h-1.2zM2.6 11.9h1.2v1.2h-1.2zM0.5 8.9h1.2v1.2h-1.2zM11.6 3.6h1.2v1.2h-1.2zM10.8 3.6h1.2v1.2h-1.2zM0.1 14.5h1.2v1.2h-1.2zM14.9 13.0h1.2v1.2h-1.2zM3.4 15.2h1.2v1.2h-1.2zM4.5 5.5h1.2v1.2h-1.2zM10.9 14.9h1.2v1.2h-1.2zM0.1 11.9h1.2v1.2h-1.2zM4.9 3.3h1.2v1.2h-1.2zM15.1 7.6h1.2v1.2h-1.2zM14.2 10.3h1.2v1.2h-1.2zM0.4 7.1h1.2v1.2h-1.2zM11.8 8.3h1.2v1.2h-1.2zM5.0 1.2h1.2v1.2h-1.2zM7.8 8.9h1.2v1.2h-1.2zM9.8 5.3h1.2v1.2h-1.2zM12.5 3.6h1.2v1.2h-1.2zM6.6 10.9h1.2v1.2h-1.2zM9.6 2.8h1.2v1.2h-1.2zM11.8 14.3h1.2v1.2h-1.2zM2.3 8.3h1.2v1.2h-1.2zM15.0 11.4h1.2v1.2h-1.2zM8.7 3.6h1.2v1.2h-1.2zM13.3 1.1h1.2v1.2h-1.2zM0.5 15.1h1.2v1.2h-1.2zM13.8 13.3h1.2v1.2h-1.2zM11.8 15.1h1.2v1.2h-1.2z"/><path fill="#d9603e" d="M3.0 3.0h1.2v1.2h-1.2zM14.5 1.6h1.2v1.2h-1.2zM14.9 3.2h1.2v1.2h-1.2zM7.7 15.6h1.2v1.2h-1.2zM7.6 14.2h1.2v1.2h-1.2zM1.8 6.4h1.2v1.2h-1.2zM3.7 6.9h1.2v1.2h-1.2zM3.0 8.4h1.2v1.2h-1.2zM2.2 4.0h1.2v1.2h-1.2zM1.7 1.1h1.2v1.2h-1.2zM6.8 15.7h1.2v1.2h-1.2zM8.8 14.1h1.2v1.2h-1.2zM3.1 12.8h1.2v1.2h-1.2zM13.0 3.5h1.2v1.2h-1.2zM9.4 2.2h1.2v1.2h-1.2zM12.2 2.0h1.2v1.2h-1.2zM15.1 1.9h1.2v1.2h-1.2zM6.5 10.2h1.2v1.2h-1.2zM5.1 11.9h1.2v1.2h-1.2zM12.5 1.9h1.2v1.2h-1.2zM10.1 5.0h1.2v1.2h-1.2zM9.0 8.2h1.2v1.2h-1.2zM1.4 2.1h1.2v1.2h-1.2zM15.5 7.4h1.2v1.2h-1.2zM9.6 5.4h1.2v1.2h-1.2zM1.0 3.8h1.2v1.2h-1.2zM12.2 1.4h1.2v1.2h-1.2zM10.4 0.4h1.2v1.2h-1.2zM6.5 14.7h1.2v1.2h-1.2zM14.9 1.1h1.2v1.2h-1.2zM7.1 9.7h1.2v1.2h-1.2zM0.4 12.9h1.2v1.2h-1.2zM5.0 12.9h1.2v1.2h-1.2zM5.1 7.3h1.2v1.2h-1.2zM14.7 12.0h1.2v1.2h-1.2zM9.7 12.2h1.2v1.2h-1.2zM2.3 6.0h1.2v1.2h-1.2zM15.7 14.6h1.2v1.2h-1.2zM12.1 13.3h1.2v1.2h-1.2zM15.6 0.0h1.2v1.2h-1.2zM15.0 11.8h1.2v1.2h-1.2zM14.2 10.5h1.2v1.2h-1.2z"/></pattern><pattern id="pd_red8b" width="11" height="11" patternUnits="userSpaceOnUse"><path fill="#cf4526" d="M9.5 3.5h1.2v1.2h-1.2zM1.7 5.5h1.2v1.2h-1.2zM0.5 2.4h1.2v1.2h-1.2zM6.7 4.6h1.2v1.2h-1.2zM4.1 8.9h1.2v1.2h-1.2zM5.5 2.5h1.2v1.2h-1.2zM7.5 5.0h1.2v1.2h-1.2zM1.9 9.3h1.2v1.2h-1.2zM3.3 4.9h1.2v1.2h-1.2zM4.7 2.6h1.2v1.2h-1.2zM0.8 5.6h1.2v1.2h-1.2zM8.3 2.5h1.2v1.2h-1.2zM8.6 7.7h1.2v1.2h-1.2zM5.1 1.1h1.2v1.2h-1.2zM4.7 1.0h1.2v1.2h-1.2zM9.1 6.0h1.2v1.2h-1.2zM5.6 6.2h1.2v1.2h-1.2zM7.8 3.8h1.2v1.2h-1.2zM2.7 9.4h1.2v1.2h-1.2zM6.9 5.9h1.2v1.2h-1.2zM2.8 8.8h1.2v1.2h-1.2zM2.5 0.6h1.2v1.2h-1.2zM8.3 3.6h1.2v1.2h-1.2zM2.4 5.0h1.2v1.2h-1.2zM8.2 1.8h1.2v1.2h-1.2zM5.0 4.4h1.2v1.2h-1.2zM8.4 9.3h1.2v1.2h-1.2zM1.8 8.6h1.2v1.2h-1.2zM6.6 0.2h1.2v1.2h-1.2zM6.6 5.3h1.2v1.2h-1.2zM6.9 2.7h1.2v1.2h-1.2zM5.2 1.1h1.2v1.2h-1.2zM3.9 5.2h1.2v1.2h-1.2zM1.4 9.6h1.2v1.2h-1.2zM7.3 6.0h1.2v1.2h-1.2zM8.3 2.2h1.2v1.2h-1.2zM4.3 0.3h1.2v1.2h-1.2zM2.8 3.8h1.2v1.2h-1.2zM9.1 1.4h1.2v1.2h-1.2zM5.3 2.1h1.2v1.2h-1.2zM5.6 5.5h1.2v1.2h-1.2zM7.5 5.6h1.2v1.2h-1.2zM9.2 6.6h1.2v1.2h-1.2zM3.6 4.6h1.2v1.2h-1.2zM6.6 2.8h1.2v1.2h-1.2zM6.9 2.0h1.2v1.2h-1.2zM6.3 9.7h1.2v1.2h-1.2zM4.5 5.4h1.2v1.2h-1.2zM8.8 2.3h1.2v1.2h-1.2zM3.3 5.8h1.2v1.2h-1.2zM3.8 0.7h1.2v1.2h-1.2zM3.9 6.7h1.2v1.2h-1.2zM4.6 0.9h1.2v1.2h-1.2z"/><path fill="#d9603e" d="M2.6 4.3h1.2v1.2h-1.2zM8.9 8.7h1.2v1.2h-1.2zM6.6 9.6h1.2v1.2h-1.2zM8.2 9.3h1.2v1.2h-1.2zM5.0 0.7h1.2v1.2h-1.2zM6.4 2.1h1.2v1.2h-1.2zM0.2 2.8h1.2v1.2h-1.2zM1.5 8.0h1.2v1.2h-1.2zM2.6 7.0h1.2v1.2h-1.2zM6.3 0.7h1.2v1.2h-1.2zM8.2 7.5h1.2v1.2h-1.2zM4.5 3.0h1.2v1.2h-1.2zM3.4 0.6h1.2v1.2h-1.2zM4.9 3.6h1.2v1.2h-1.2zM7.1 0.1h1.2v1.2h-1.2z"/></pattern><pattern id="ph_red8" width="17" height="17" patternUnits="userSpaceOnUse"><path fill="#d96e52" d="M12.3 0.9h1.2v1.2h-1.2zM15.7 4.7h1.2v1.2h-1.2zM6.0 9.7h1.2v1.2h-1.2zM8.5 8.7h1.2v1.2h-1.2zM13.2 7.7h1.2v1.2h-1.2zM10.9 2.5h1.2v1.2h-1.2zM14.7 10.5h1.2v1.2h-1.2zM12.9 9.2h1.2v1.2h-1.2zM8.3 10.1h1.2v1.2h-1.2zM14.8 3.9h1.2v1.2h-1.2zM10.2 6.7h1.2v1.2h-1.2zM0.6 8.4h1.2v1.2h-1.2zM8.3 5.5h1.2v1.2h-1.2zM15.2 8.4h1.2v1.2h-1.2zM7.2 2.7h1.2v1.2h-1.2zM12.5 7.1h1.2v1.2h-1.2zM1.5 15.7h1.2v1.2h-1.2zM7.4 12.3h1.2v1.2h-1.2zM6.7 13.5h1.2v1.2h-1.2zM2.9 7.6h1.2v1.2h-1.2zM10.4 12.9h1.2v1.2h-1.2zM1.0 4.9h1.2v1.2h-1.2zM12.6 2.0h1.2v1.2h-1.2zM6.3 7.6h1.2v1.2h-1.2zM12.1 4.3h1.2v1.2h-1.2zM13.1 0.4h1.2v1.2h-1.2zM10.0 9.1h1.2v1.2h-1.2zM11.0 11.6h1.2v1.2h-1.2zM10.9 10.6h1.2v1.2h-1.2zM1.8 15.8h1.2v1.2h-1.2zM2.2 15.0h1.2v1.2h-1.2zM0.9 3.4h1.2v1.2h-1.2zM1.9 8.8h1.2v1.2h-1.2zM7.5 8.3h1.2v1.2h-1.2zM15.3 3.1h1.2v1.2h-1.2zM11.7 12.1h1.2v1.2h-1.2zM2.7 1.2h1.2v1.2h-1.2zM6.3 5.2h1.2v1.2h-1.2zM14.6 0.1h1.2v1.2h-1.2zM11.9 5.4h1.2v1.2h-1.2zM5.1 4.5h1.2v1.2h-1.2zM6.5 10.9h1.2v1.2h-1.2zM9.1 0.8h1.2v1.2h-1.2zM14.3 3.0h1.2v1.2h-1.2zM13.1 6.1h1.2v1.2h-1.2zM1.8 12.6h1.2v1.2h-1.2zM4.6 4.9h1.2v1.2h-1.2zM13.6 10.3h1.2v1.2h-1.2zM14.2 10.3h1.2v1.2h-1.2zM8.7 15.1h1.2v1.2h-1.2zM12.3 0.7h1.2v1.2h-1.2zM9.0 10.9h1.2v1.2h-1.2zM9.5 13.0h1.2v1.2h-1.2zM2.0 13.1h1.2v1.2h-1.2zM11.5 1.5h1.2v1.2h-1.2zM10.3 11.3h1.2v1.2h-1.2zM15.7 13.5h1.2v1.2h-1.2zM15.4 5.9h1.2v1.2h-1.2zM7.5 10.3h1.2v1.2h-1.2zM8.2 9.3h1.2v1.2h-1.2zM9.5 12.1h1.2v1.2h-1.2zM2.7 2.3h1.2v1.2h-1.2zM4.6 12.1h1.2v1.2h-1.2zM8.3 0.3h1.2v1.2h-1.2zM15.5 5.5h1.2v1.2h-1.2zM4.6 1.6h1.2v1.2h-1.2zM6.8 4.7h1.2v1.2h-1.2zM0.8 12.9h1.2v1.2h-1.2zM4.5 9.0h1.2v1.2h-1.2zM6.3 6.7h1.2v1.2h-1.2zM8.1 0.7h1.2v1.2h-1.2zM13.0 14.9h1.2v1.2h-1.2zM2.3 13.8h1.2v1.2h-1.2zM14.4 5.8h1.2v1.2h-1.2zM4.3 5.0h1.2v1.2h-1.2zM13.4 0.5h1.2v1.2h-1.2zM12.5 10.1h1.2v1.2h-1.2zM14.1 3.6h1.2v1.2h-1.2zM7.0 1.9h1.2v1.2h-1.2zM0.1 10.0h1.2v1.2h-1.2zM1.9 15.2h1.2v1.2h-1.2zM11.0 0.9h1.2v1.2h-1.2zM5.5 11.9h1.2v1.2h-1.2zM12.3 6.7h1.2v1.2h-1.2zM10.1 5.1h1.2v1.2h-1.2zM0.9 2.4h1.2v1.2h-1.2zM0.7 14.8h1.2v1.2h-1.2zM15.5 4.8h1.2v1.2h-1.2zM15.4 4.3h1.2v1.2h-1.2zM4.8 6.0h1.2v1.2h-1.2zM4.4 7.9h1.2v1.2h-1.2zM12.6 8.7h1.2v1.2h-1.2zM15.5 9.1h1.2v1.2h-1.2zM1.3 2.2h1.2v1.2h-1.2zM4.8 12.8h1.2v1.2h-1.2zM2.0 5.2h1.2v1.2h-1.2zM14.0 9.4h1.2v1.2h-1.2zM6.1 8.7h1.2v1.2h-1.2zM8.5 1.9h1.2v1.2h-1.2zM14.0 2.5h1.2v1.2h-1.2zM13.9 7.0h1.2v1.2h-1.2zM2.8 12.4h1.2v1.2h-1.2zM13.6 10.4h1.2v1.2h-1.2zM1.2 2.6h1.2v1.2h-1.2zM9.0 5.6h1.2v1.2h-1.2zM7.7 11.1h1.2v1.2h-1.2zM3.0 14.0h1.2v1.2h-1.2zM0.9 0.9h1.2v1.2h-1.2zM8.8 13.8h1.2v1.2h-1.2zM4.0 11.6h1.2v1.2h-1.2zM4.5 1.7h1.2v1.2h-1.2zM11.5 8.9h1.2v1.2h-1.2zM9.9 1.5h1.2v1.2h-1.2zM3.6 1.5h1.2v1.2h-1.2zM5.4 1.6h1.2v1.2h-1.2zM2.6 6.2h1.2v1.2h-1.2zM1.9 4.8h1.2v1.2h-1.2zM5.1 2.7h1.2v1.2h-1.2zM5.5 11.1h1.2v1.2h-1.2zM4.7 12.1h1.2v1.2h-1.2zM9.3 11.4h1.2v1.2h-1.2zM12.8 8.8h1.2v1.2h-1.2z"/><path fill="#e29076" d="M4.0 8.9h1.2v1.2h-1.2zM4.1 10.7h1.2v1.2h-1.2zM10.0 5.4h1.2v1.2h-1.2zM8.7 2.4h1.2v1.2h-1.2zM14.2 11.4h1.2v1.2h-1.2zM13.5 0.5h1.2v1.2h-1.2zM2.0 11.3h1.2v1.2h-1.2zM11.0 1.6h1.2v1.2h-1.2zM7.8 13.9h1.2v1.2h-1.2zM6.9 7.5h1.2v1.2h-1.2zM2.7 3.4h1.2v1.2h-1.2zM13.4 11.7h1.2v1.2h-1.2zM7.1 12.0h1.2v1.2h-1.2zM8.8 7.0h1.2v1.2h-1.2zM5.3 4.3h1.2v1.2h-1.2zM13.6 9.5h1.2v1.2h-1.2zM8.9 5.6h1.2v1.2h-1.2zM10.8 14.7h1.2v1.2h-1.2zM6.3 6.2h1.2v1.2h-1.2zM0.7 3.2h1.2v1.2h-1.2zM10.2 13.5h1.2v1.2h-1.2zM13.2 14.0h1.2v1.2h-1.2zM8.7 15.1h1.2v1.2h-1.2zM7.5 14.9h1.2v1.2h-1.2zM7.8 6.2h1.2v1.2h-1.2zM2.0 4.9h1.2v1.2h-1.2zM7.0 9.6h1.2v1.2h-1.2zM6.5 11.9h1.2v1.2h-1.2zM3.4 2.5h1.2v1.2h-1.2zM5.6 2.6h1.2v1.2h-1.2zM1.1 0.9h1.2v1.2h-1.2zM9.1 5.2h1.2v1.2h-1.2zM12.6 1.0h1.2v1.2h-1.2zM2.5 5.0h1.2v1.2h-1.2zM11.4 12.3h1.2v1.2h-1.2zM12.9 8.3h1.2v1.2h-1.2zM4.2 15.1h1.2v1.2h-1.2zM15.3 3.1h1.2v1.2h-1.2zM1.9 7.3h1.2v1.2h-1.2zM5.4 15.8h1.2v1.2h-1.2z"/></pattern><pattern id="ph_red8b" width="11" height="11" patternUnits="userSpaceOnUse"><path fill="#d96e52" d="M5.6 4.3h1.2v1.2h-1.2zM0.7 7.5h1.2v1.2h-1.2zM5.8 7.9h1.2v1.2h-1.2zM1.1 0.5h1.2v1.2h-1.2zM5.8 3.0h1.2v1.2h-1.2zM4.0 8.0h1.2v1.2h-1.2zM0.2 6.9h1.2v1.2h-1.2zM0.1 8.0h1.2v1.2h-1.2zM0.1 6.1h1.2v1.2h-1.2zM6.8 3.4h1.2v1.2h-1.2zM0.2 0.6h1.2v1.2h-1.2zM1.6 2.5h1.2v1.2h-1.2zM0.4 4.5h1.2v1.2h-1.2zM8.1 8.2h1.2v1.2h-1.2zM5.6 1.4h1.2v1.2h-1.2zM6.8 0.7h1.2v1.2h-1.2zM1.6 9.2h1.2v1.2h-1.2zM9.3 8.2h1.2v1.2h-1.2zM7.2 3.6h1.2v1.2h-1.2zM1.0 0.3h1.2v1.2h-1.2zM3.1 6.4h1.2v1.2h-1.2zM6.7 1.4h1.2v1.2h-1.2zM7.0 4.3h1.2v1.2h-1.2zM3.0 0.2h1.2v1.2h-1.2zM9.8 5.0h1.2v1.2h-1.2zM4.2 5.0h1.2v1.2h-1.2zM8.9 3.3h1.2v1.2h-1.2zM3.3 0.8h1.2v1.2h-1.2zM9.0 2.8h1.2v1.2h-1.2zM8.1 5.9h1.2v1.2h-1.2zM0.5 5.0h1.2v1.2h-1.2zM2.7 4.6h1.2v1.2h-1.2zM7.9 5.8h1.2v1.2h-1.2zM4.1 4.7h1.2v1.2h-1.2zM3.4 1.8h1.2v1.2h-1.2zM5.7 9.4h1.2v1.2h-1.2zM4.0 3.3h1.2v1.2h-1.2zM8.7 3.1h1.2v1.2h-1.2zM7.1 8.4h1.2v1.2h-1.2zM7.1 1.3h1.2v1.2h-1.2zM8.9 6.7h1.2v1.2h-1.2zM1.5 3.5h1.2v1.2h-1.2zM2.3 4.8h1.2v1.2h-1.2zM6.4 5.8h1.2v1.2h-1.2zM7.9 6.0h1.2v1.2h-1.2zM1.7 4.9h1.2v1.2h-1.2zM2.9 1.6h1.2v1.2h-1.2zM8.3 8.4h1.2v1.2h-1.2zM9.7 1.4h1.2v1.2h-1.2zM2.5 3.3h1.2v1.2h-1.2zM8.0 1.3h1.2v1.2h-1.2z"/><path fill="#e29076" d="M4.3 9.2h1.2v1.2h-1.2zM2.6 6.9h1.2v1.2h-1.2zM9.0 0.6h1.2v1.2h-1.2zM2.7 9.7h1.2v1.2h-1.2zM7.6 0.9h1.2v1.2h-1.2zM9.6 4.9h1.2v1.2h-1.2zM6.7 2.2h1.2v1.2h-1.2zM6.4 8.0h1.2v1.2h-1.2zM6.3 2.9h1.2v1.2h-1.2zM4.5 4.5h1.2v1.2h-1.2zM4.3 8.6h1.2v1.2h-1.2zM3.7 6.7h1.2v1.2h-1.2zM5.6 6.7h1.2v1.2h-1.2zM0.5 1.1h1.2v1.2h-1.2zM1.4 7.6h1.2v1.2h-1.2zM3.8 9.6h1.2v1.2h-1.2zM6.9 0.4h1.2v1.2h-1.2z"/></pattern><pattern id="pd_red9" width="17" height="17" patternUnits="userSpaceOnUse"><path fill="#cf4526" d="M7.3 8.6h1.2v1.2h-1.2zM7.9 15.1h1.2v1.2h-1.2zM8.2 12.5h1.2v1.2h-1.2zM4.3 13.3h1.2v1.2h-1.2zM14.1 14.0h1.2v1.2h-1.2zM8.2 1.0h1.2v1.2h-1.2zM12.2 11.5h1.2v1.2h-1.2zM2.2 11.4h1.2v1.2h-1.2zM6.7 2.4h1.2v1.2h-1.2zM15.3 6.3h1.2v1.2h-1.2zM7.6 15.5h1.2v1.2h-1.2zM10.2 12.6h1.2v1.2h-1.2zM0.8 7.4h1.2v1.2h-1.2zM10.6 14.7h1.2v1.2h-1.2zM9.7 7.8h1.2v1.2h-1.2zM13.5 6.6h1.2v1.2h-1.2zM3.2 12.8h1.2v1.2h-1.2zM9.6 5.3h1.2v1.2h-1.2zM3.9 4.1h1.2v1.2h-1.2zM6.8 13.1h1.2v1.2h-1.2zM3.6 14.9h1.2v1.2h-1.2zM12.6 11.1h1.2v1.2h-1.2zM0.7 11.7h1.2v1.2h-1.2zM11.2 1.5h1.2v1.2h-1.2zM13.9 9.8h1.2v1.2h-1.2zM1.9 12.6h1.2v1.2h-1.2zM6.2 9.8h1.2v1.2h-1.2zM2.2 1.2h1.2v1.2h-1.2zM2.2 6.6h1.2v1.2h-1.2zM12.3 8.5h1.2v1.2h-1.2zM10.3 3.6h1.2v1.2h-1.2zM15.2 4.1h1.2v1.2h-1.2zM3.6 15.8h1.2v1.2h-1.2zM13.9 10.6h1.2v1.2h-1.2zM6.0 1.9h1.2v1.2h-1.2zM8.0 15.0h1.2v1.2h-1.2zM10.2 14.4h1.2v1.2h-1.2zM9.0 9.5h1.2v1.2h-1.2zM2.6 1.5h1.2v1.2h-1.2zM7.9 14.5h1.2v1.2h-1.2zM15.3 5.5h1.2v1.2h-1.2zM9.9 9.3h1.2v1.2h-1.2zM14.8 4.7h1.2v1.2h-1.2zM0.3 15.4h1.2v1.2h-1.2zM5.4 9.3h1.2v1.2h-1.2zM5.5 11.4h1.2v1.2h-1.2zM1.7 11.1h1.2v1.2h-1.2zM11.7 11.1h1.2v1.2h-1.2zM0.9 13.9h1.2v1.2h-1.2zM15.7 15.8h1.2v1.2h-1.2zM2.7 15.0h1.2v1.2h-1.2zM9.0 12.1h1.2v1.2h-1.2zM0.4 8.8h1.2v1.2h-1.2zM11.1 12.9h1.2v1.2h-1.2zM9.5 11.9h1.2v1.2h-1.2zM15.1 5.2h1.2v1.2h-1.2zM6.6 14.3h1.2v1.2h-1.2zM11.3 5.0h1.2v1.2h-1.2zM6.8 15.3h1.2v1.2h-1.2zM9.2 2.1h1.2v1.2h-1.2zM11.2 10.6h1.2v1.2h-1.2zM9.2 8.9h1.2v1.2h-1.2zM11.3 12.5h1.2v1.2h-1.2zM10.9 12.4h1.2v1.2h-1.2zM10.0 8.4h1.2v1.2h-1.2zM3.0 9.6h1.2v1.2h-1.2zM0.2 1.4h1.2v1.2h-1.2zM10.3 12.7h1.2v1.2h-1.2zM15.1 3.4h1.2v1.2h-1.2zM14.4 7.0h1.2v1.2h-1.2zM13.1 7.4h1.2v1.2h-1.2zM10.2 1.9h1.2v1.2h-1.2zM9.8 13.4h1.2v1.2h-1.2zM2.4 12.3h1.2v1.2h-1.2zM6.0 8.8h1.2v1.2h-1.2zM14.4 10.9h1.2v1.2h-1.2zM4.0 12.7h1.2v1.2h-1.2zM6.6 3.0h1.2v1.2h-1.2zM2.1 3.2h1.2v1.2h-1.2zM0.7 5.4h1.2v1.2h-1.2zM14.1 6.0h1.2v1.2h-1.2zM13.6 14.3h1.2v1.2h-1.2zM8.3 5.3h1.2v1.2h-1.2zM6.2 13.9h1.2v1.2h-1.2zM5.4 14.6h1.2v1.2h-1.2zM4.6 2.7h1.2v1.2h-1.2zM14.5 5.2h1.2v1.2h-1.2zM3.8 7.1h1.2v1.2h-1.2zM6.9 14.0h1.2v1.2h-1.2zM6.5 4.3h1.2v1.2h-1.2zM6.9 10.3h1.2v1.2h-1.2zM14.3 9.3h1.2v1.2h-1.2zM14.2 10.1h1.2v1.2h-1.2zM2.1 11.5h1.2v1.2h-1.2zM11.4 0.2h1.2v1.2h-1.2zM8.6 13.2h1.2v1.2h-1.2zM4.1 3.5h1.2v1.2h-1.2zM6.2 15.0h1.2v1.2h-1.2zM9.1 7.0h1.2v1.2h-1.2zM2.3 11.3h1.2v1.2h-1.2zM2.3 8.7h1.2v1.2h-1.2zM3.2 12.7h1.2v1.2h-1.2zM9.0 14.8h1.2v1.2h-1.2zM5.0 2.1h1.2v1.2h-1.2zM11.6 1.3h1.2v1.2h-1.2zM0.7 1.2h1.2v1.2h-1.2zM11.3 10.8h1.2v1.2h-1.2zM4.4 15.1h1.2v1.2h-1.2zM5.9 9.5h1.2v1.2h-1.2zM3.8 12.5h1.2v1.2h-1.2zM2.1 15.5h1.2v1.2h-1.2zM1.5 1.4h1.2v1.2h-1.2zM15.5 4.0h1.2v1.2h-1.2zM8.1 6.6h1.2v1.2h-1.2zM15.3 11.2h1.2v1.2h-1.2zM6.8 1.1h1.2v1.2h-1.2zM8.8 12.6h1.2v1.2h-1.2zM4.1 15.1h1.2v1.2h-1.2zM3.6 10.2h1.2v1.2h-1.2zM3.2 11.8h1.2v1.2h-1.2zM6.2 3.0h1.2v1.2h-1.2zM14.1 12.0h1.2v1.2h-1.2zM5.3 2.9h1.2v1.2h-1.2zM0.7 11.5h1.2v1.2h-1.2zM3.7 10.5h1.2v1.2h-1.2zM9.1 10.3h1.2v1.2h-1.2zM0.7 7.4h1.2v1.2h-1.2zM4.4 8.0h1.2v1.2h-1.2zM9.7 5.5h1.2v1.2h-1.2zM1.5 15.7h1.2v1.2h-1.2zM4.3 1.3h1.2v1.2h-1.2zM12.3 1.9h1.2v1.2h-1.2zM11.9 2.8h1.2v1.2h-1.2zM14.0 2.2h1.2v1.2h-1.2zM12.9 0.3h1.2v1.2h-1.2zM7.5 14.8h1.2v1.2h-1.2zM4.7 0.9h1.2v1.2h-1.2zM9.6 1.0h1.2v1.2h-1.2zM13.5 11.0h1.2v1.2h-1.2zM5.4 12.8h1.2v1.2h-1.2zM0.6 3.5h1.2v1.2h-1.2zM7.5 4.9h1.2v1.2h-1.2zM6.1 10.3h1.2v1.2h-1.2zM3.0 11.0h1.2v1.2h-1.2zM7.8 14.3h1.2v1.2h-1.2zM6.2 10.2h1.2v1.2h-1.2zM4.2 2.6h1.2v1.2h-1.2zM6.0 3.5h1.2v1.2h-1.2zM7.2 2.0h1.2v1.2h-1.2zM14.8 4.8h1.2v1.2h-1.2zM0.6 13.6h1.2v1.2h-1.2zM9.7 8.8h1.2v1.2h-1.2zM0.8 7.1h1.2v1.2h-1.2zM6.5 9.5h1.2v1.2h-1.2zM15.5 4.7h1.2v1.2h-1.2zM3.1 11.9h1.2v1.2h-1.2zM2.4 12.7h1.2v1.2h-1.2zM9.3 11.0h1.2v1.2h-1.2zM12.2 15.3h1.2v1.2h-1.2zM4.9 9.5h1.2v1.2h-1.2zM14.7 8.8h1.2v1.2h-1.2zM15.1 9.3h1.2v1.2h-1.2zM10.2 3.2h1.2v1.2h-1.2zM4.1 3.4h1.2v1.2h-1.2zM2.4 12.6h1.2v1.2h-1.2zM7.7 9.3h1.2v1.2h-1.2zM2.2 6.7h1.2v1.2h-1.2zM9.0 0.2h1.2v1.2h-1.2zM0.2 7.0h1.2v1.2h-1.2zM10.0 4.6h1.2v1.2h-1.2zM8.4 1.7h1.2v1.2h-1.2zM15.1 3.3h1.2v1.2h-1.2zM11.7 3.0h1.2v1.2h-1.2z"/><path fill="#d9603e" d="M13.8 10.5h1.2v1.2h-1.2zM10.9 12.4h1.2v1.2h-1.2zM6.6 7.6h1.2v1.2h-1.2zM12.0 5.7h1.2v1.2h-1.2zM9.1 13.5h1.2v1.2h-1.2zM4.2 2.4h1.2v1.2h-1.2zM13.9 1.1h1.2v1.2h-1.2zM1.8 15.5h1.2v1.2h-1.2zM13.9 0.3h1.2v1.2h-1.2zM0.9 4.9h1.2v1.2h-1.2zM2.1 5.7h1.2v1.2h-1.2zM7.4 12.6h1.2v1.2h-1.2zM11.1 0.6h1.2v1.2h-1.2zM6.3 13.4h1.2v1.2h-1.2zM0.9 6.1h1.2v1.2h-1.2zM11.6 11.0h1.2v1.2h-1.2zM9.2 14.8h1.2v1.2h-1.2zM11.8 4.5h1.2v1.2h-1.2zM14.8 6.2h1.2v1.2h-1.2zM3.5 10.3h1.2v1.2h-1.2zM3.2 6.0h1.2v1.2h-1.2zM12.0 12.5h1.2v1.2h-1.2zM13.2 0.5h1.2v1.2h-1.2zM10.3 6.4h1.2v1.2h-1.2zM0.5 6.4h1.2v1.2h-1.2zM15.7 7.9h1.2v1.2h-1.2zM3.6 5.2h1.2v1.2h-1.2zM5.4 1.4h1.2v1.2h-1.2zM3.7 6.7h1.2v1.2h-1.2zM14.5 8.8h1.2v1.2h-1.2zM5.2 11.7h1.2v1.2h-1.2zM14.5 2.8h1.2v1.2h-1.2zM14.4 13.1h1.2v1.2h-1.2zM1.2 2.4h1.2v1.2h-1.2zM1.3 15.5h1.2v1.2h-1.2zM5.4 7.8h1.2v1.2h-1.2zM4.4 12.1h1.2v1.2h-1.2zM13.4 11.2h1.2v1.2h-1.2zM1.3 15.1h1.2v1.2h-1.2zM10.2 12.5h1.2v1.2h-1.2zM8.7 7.9h1.2v1.2h-1.2zM0.7 4.0h1.2v1.2h-1.2zM8.1 13.8h1.2v1.2h-1.2zM6.9 14.5h1.2v1.2h-1.2zM14.4 11.1h1.2v1.2h-1.2zM10.3 3.6h1.2v1.2h-1.2zM10.5 2.0h1.2v1.2h-1.2zM12.4 13.4h1.2v1.2h-1.2zM2.2 0.6h1.2v1.2h-1.2zM2.2 12.6h1.2v1.2h-1.2zM0.8 9.9h1.2v1.2h-1.2zM12.3 13.7h1.2v1.2h-1.2zM10.1 5.7h1.2v1.2h-1.2zM3.7 6.0h1.2v1.2h-1.2zM3.8 11.9h1.2v1.2h-1.2zM1.9 15.3h1.2v1.2h-1.2zM3.1 1.5h1.2v1.2h-1.2zM14.8 1.9h1.2v1.2h-1.2z"/></pattern><pattern id="pd_red9b" width="11" height="11" patternUnits="userSpaceOnUse"><path fill="#cf4526" d="M0.0 1.9h1.2v1.2h-1.2zM1.2 6.6h1.2v1.2h-1.2zM0.2 7.5h1.2v1.2h-1.2zM0.9 0.2h1.2v1.2h-1.2zM9.3 7.9h1.2v1.2h-1.2zM4.5 7.7h1.2v1.2h-1.2zM1.6 4.3h1.2v1.2h-1.2zM9.1 1.8h1.2v1.2h-1.2zM3.1 7.6h1.2v1.2h-1.2zM7.3 8.1h1.2v1.2h-1.2zM5.4 9.2h1.2v1.2h-1.2zM0.3 3.4h1.2v1.2h-1.2zM5.5 1.0h1.2v1.2h-1.2zM8.9 7.9h1.2v1.2h-1.2zM1.5 6.5h1.2v1.2h-1.2zM3.3 0.2h1.2v1.2h-1.2zM8.8 6.4h1.2v1.2h-1.2zM5.7 1.8h1.2v1.2h-1.2zM8.0 3.1h1.2v1.2h-1.2zM8.8 2.7h1.2v1.2h-1.2zM0.0 4.3h1.2v1.2h-1.2zM3.4 7.8h1.2v1.2h-1.2zM4.8 0.0h1.2v1.2h-1.2zM7.8 1.3h1.2v1.2h-1.2zM8.6 6.1h1.2v1.2h-1.2zM4.4 6.9h1.2v1.2h-1.2zM7.9 5.4h1.2v1.2h-1.2zM7.8 0.8h1.2v1.2h-1.2zM7.5 5.6h1.2v1.2h-1.2zM8.6 9.5h1.2v1.2h-1.2zM2.3 9.2h1.2v1.2h-1.2zM7.2 7.2h1.2v1.2h-1.2zM1.9 6.5h1.2v1.2h-1.2zM6.7 8.4h1.2v1.2h-1.2zM4.8 6.0h1.2v1.2h-1.2zM7.3 0.9h1.2v1.2h-1.2zM3.9 1.1h1.2v1.2h-1.2zM9.6 6.0h1.2v1.2h-1.2zM6.0 7.9h1.2v1.2h-1.2zM5.2 2.0h1.2v1.2h-1.2zM8.2 2.6h1.2v1.2h-1.2zM3.0 2.2h1.2v1.2h-1.2zM4.2 6.7h1.2v1.2h-1.2zM6.1 1.0h1.2v1.2h-1.2zM5.0 9.1h1.2v1.2h-1.2zM6.0 3.7h1.2v1.2h-1.2zM0.9 9.1h1.2v1.2h-1.2zM9.7 8.1h1.2v1.2h-1.2zM6.2 1.1h1.2v1.2h-1.2zM4.5 3.4h1.2v1.2h-1.2zM7.0 9.8h1.2v1.2h-1.2zM6.8 9.7h1.2v1.2h-1.2zM9.5 5.7h1.2v1.2h-1.2zM7.5 4.7h1.2v1.2h-1.2zM8.8 7.0h1.2v1.2h-1.2zM1.4 8.8h1.2v1.2h-1.2zM3.7 4.7h1.2v1.2h-1.2zM7.6 2.8h1.2v1.2h-1.2zM3.4 3.9h1.2v1.2h-1.2zM2.7 2.3h1.2v1.2h-1.2zM5.2 8.7h1.2v1.2h-1.2zM4.9 2.4h1.2v1.2h-1.2zM0.9 9.1h1.2v1.2h-1.2zM1.5 9.2h1.2v1.2h-1.2zM2.3 6.3h1.2v1.2h-1.2zM8.9 3.6h1.2v1.2h-1.2zM4.9 0.3h1.2v1.2h-1.2zM2.8 6.4h1.2v1.2h-1.2zM8.4 1.9h1.2v1.2h-1.2zM8.0 7.4h1.2v1.2h-1.2zM6.1 6.6h1.2v1.2h-1.2zM2.0 9.0h1.2v1.2h-1.2zM2.1 9.0h1.2v1.2h-1.2zM3.5 9.7h1.2v1.2h-1.2z"/><path fill="#d9603e" d="M2.0 7.1h1.2v1.2h-1.2zM4.9 1.8h1.2v1.2h-1.2zM9.6 4.0h1.2v1.2h-1.2zM5.0 1.6h1.2v1.2h-1.2zM5.9 0.1h1.2v1.2h-1.2zM5.9 1.5h1.2v1.2h-1.2zM0.1 1.2h1.2v1.2h-1.2zM1.9 8.8h1.2v1.2h-1.2zM6.3 6.2h1.2v1.2h-1.2zM9.0 8.6h1.2v1.2h-1.2zM0.1 3.4h1.2v1.2h-1.2zM7.2 6.6h1.2v1.2h-1.2zM8.3 2.4h1.2v1.2h-1.2zM1.9 9.0h1.2v1.2h-1.2zM4.9 4.7h1.2v1.2h-1.2zM4.8 9.0h1.2v1.2h-1.2zM8.1 2.4h1.2v1.2h-1.2zM1.0 4.1h1.2v1.2h-1.2zM5.9 3.5h1.2v1.2h-1.2zM3.1 6.0h1.2v1.2h-1.2zM7.4 5.8h1.2v1.2h-1.2zM6.0 4.3h1.2v1.2h-1.2zM9.2 3.7h1.2v1.2h-1.2z"/></pattern><pattern id="ph_red9" width="17" height="17" patternUnits="userSpaceOnUse"><path fill="#d96e52" d="M0.4 15.3h1.2v1.2h-1.2zM10.1 2.9h1.2v1.2h-1.2zM11.3 14.7h1.2v1.2h-1.2zM3.2 1.1h1.2v1.2h-1.2zM5.1 0.4h1.2v1.2h-1.2zM8.9 10.3h1.2v1.2h-1.2zM11.8 4.5h1.2v1.2h-1.2zM11.1 9.6h1.2v1.2h-1.2zM0.7 1.6h1.2v1.2h-1.2zM9.1 11.5h1.2v1.2h-1.2zM8.5 4.3h1.2v1.2h-1.2zM4.1 14.1h1.2v1.2h-1.2zM3.3 8.8h1.2v1.2h-1.2zM12.7 0.7h1.2v1.2h-1.2zM11.6 5.0h1.2v1.2h-1.2zM11.8 8.8h1.2v1.2h-1.2zM14.5 6.5h1.2v1.2h-1.2zM5.5 13.1h1.2v1.2h-1.2zM12.0 3.4h1.2v1.2h-1.2zM14.0 4.2h1.2v1.2h-1.2zM4.5 4.6h1.2v1.2h-1.2zM14.4 9.2h1.2v1.2h-1.2zM2.0 15.3h1.2v1.2h-1.2zM8.1 3.3h1.2v1.2h-1.2zM5.9 7.0h1.2v1.2h-1.2zM13.9 9.6h1.2v1.2h-1.2zM13.6 5.0h1.2v1.2h-1.2zM6.1 11.5h1.2v1.2h-1.2zM7.1 1.4h1.2v1.2h-1.2zM5.0 9.8h1.2v1.2h-1.2zM3.8 1.4h1.2v1.2h-1.2zM2.2 11.3h1.2v1.2h-1.2zM15.1 0.4h1.2v1.2h-1.2zM0.4 13.3h1.2v1.2h-1.2zM2.1 1.7h1.2v1.2h-1.2zM9.3 2.5h1.2v1.2h-1.2zM3.1 12.1h1.2v1.2h-1.2zM5.0 8.9h1.2v1.2h-1.2zM10.9 6.6h1.2v1.2h-1.2zM1.4 6.5h1.2v1.2h-1.2zM8.7 15.6h1.2v1.2h-1.2zM8.0 11.0h1.2v1.2h-1.2zM2.8 14.1h1.2v1.2h-1.2zM12.5 2.4h1.2v1.2h-1.2zM14.5 11.7h1.2v1.2h-1.2zM2.3 11.3h1.2v1.2h-1.2zM6.2 5.1h1.2v1.2h-1.2zM14.8 10.4h1.2v1.2h-1.2zM2.0 6.6h1.2v1.2h-1.2zM7.0 1.0h1.2v1.2h-1.2zM2.0 3.2h1.2v1.2h-1.2zM3.9 4.6h1.2v1.2h-1.2zM4.0 5.1h1.2v1.2h-1.2zM9.0 3.0h1.2v1.2h-1.2zM2.0 0.0h1.2v1.2h-1.2zM2.1 5.1h1.2v1.2h-1.2zM10.9 1.2h1.2v1.2h-1.2zM3.8 9.3h1.2v1.2h-1.2zM3.5 2.6h1.2v1.2h-1.2zM3.3 6.4h1.2v1.2h-1.2zM3.7 14.4h1.2v1.2h-1.2zM6.6 1.5h1.2v1.2h-1.2zM4.4 15.2h1.2v1.2h-1.2zM5.8 3.3h1.2v1.2h-1.2zM7.8 8.6h1.2v1.2h-1.2zM14.6 12.2h1.2v1.2h-1.2zM0.4 0.8h1.2v1.2h-1.2zM13.7 12.1h1.2v1.2h-1.2zM7.7 5.8h1.2v1.2h-1.2zM7.8 3.0h1.2v1.2h-1.2zM12.3 3.6h1.2v1.2h-1.2zM0.3 10.2h1.2v1.2h-1.2zM9.7 0.4h1.2v1.2h-1.2zM7.7 15.1h1.2v1.2h-1.2zM2.0 12.8h1.2v1.2h-1.2zM11.5 3.7h1.2v1.2h-1.2zM2.3 4.9h1.2v1.2h-1.2zM1.3 2.0h1.2v1.2h-1.2zM12.9 14.1h1.2v1.2h-1.2zM0.7 9.8h1.2v1.2h-1.2zM15.4 14.7h1.2v1.2h-1.2zM14.6 1.5h1.2v1.2h-1.2zM14.1 1.3h1.2v1.2h-1.2zM4.9 12.5h1.2v1.2h-1.2zM7.2 4.4h1.2v1.2h-1.2zM11.4 8.8h1.2v1.2h-1.2zM8.7 10.2h1.2v1.2h-1.2zM15.3 6.8h1.2v1.2h-1.2zM15.5 4.0h1.2v1.2h-1.2zM12.2 9.1h1.2v1.2h-1.2zM13.9 11.5h1.2v1.2h-1.2zM5.0 13.0h1.2v1.2h-1.2zM0.1 0.3h1.2v1.2h-1.2zM3.6 0.2h1.2v1.2h-1.2zM2.2 2.9h1.2v1.2h-1.2zM13.0 3.0h1.2v1.2h-1.2zM12.4 9.7h1.2v1.2h-1.2zM8.8 6.7h1.2v1.2h-1.2zM0.1 13.5h1.2v1.2h-1.2zM4.5 7.4h1.2v1.2h-1.2zM11.1 10.7h1.2v1.2h-1.2zM5.8 10.9h1.2v1.2h-1.2zM14.5 15.5h1.2v1.2h-1.2zM14.9 9.7h1.2v1.2h-1.2zM14.4 2.6h1.2v1.2h-1.2zM7.8 8.5h1.2v1.2h-1.2zM12.0 8.8h1.2v1.2h-1.2zM7.5 12.4h1.2v1.2h-1.2zM1.8 9.3h1.2v1.2h-1.2zM1.9 8.3h1.2v1.2h-1.2zM14.3 9.5h1.2v1.2h-1.2zM1.4 12.7h1.2v1.2h-1.2zM10.6 4.6h1.2v1.2h-1.2zM2.5 2.5h1.2v1.2h-1.2zM2.9 6.2h1.2v1.2h-1.2zM11.2 3.0h1.2v1.2h-1.2zM9.0 0.5h1.2v1.2h-1.2zM11.0 11.8h1.2v1.2h-1.2zM3.4 0.8h1.2v1.2h-1.2zM9.1 1.0h1.2v1.2h-1.2zM3.0 10.1h1.2v1.2h-1.2zM10.6 6.0h1.2v1.2h-1.2zM0.5 5.9h1.2v1.2h-1.2zM6.4 9.5h1.2v1.2h-1.2zM15.1 10.7h1.2v1.2h-1.2zM3.3 14.9h1.2v1.2h-1.2zM1.7 5.2h1.2v1.2h-1.2zM2.5 8.6h1.2v1.2h-1.2zM2.9 2.8h1.2v1.2h-1.2zM6.1 10.2h1.2v1.2h-1.2zM15.0 10.1h1.2v1.2h-1.2zM0.7 14.2h1.2v1.2h-1.2zM4.5 5.9h1.2v1.2h-1.2zM3.6 5.1h1.2v1.2h-1.2zM13.6 3.1h1.2v1.2h-1.2zM2.3 11.3h1.2v1.2h-1.2zM11.7 15.1h1.2v1.2h-1.2zM10.0 2.7h1.2v1.2h-1.2zM2.1 14.5h1.2v1.2h-1.2zM1.9 12.5h1.2v1.2h-1.2zM9.7 10.9h1.2v1.2h-1.2zM9.2 13.9h1.2v1.2h-1.2zM6.2 11.0h1.2v1.2h-1.2zM12.1 2.9h1.2v1.2h-1.2zM14.4 7.4h1.2v1.2h-1.2zM4.0 3.9h1.2v1.2h-1.2zM2.7 12.2h1.2v1.2h-1.2zM1.9 15.3h1.2v1.2h-1.2zM2.4 13.4h1.2v1.2h-1.2zM5.2 14.1h1.2v1.2h-1.2zM12.6 5.2h1.2v1.2h-1.2zM1.3 12.5h1.2v1.2h-1.2zM13.9 2.7h1.2v1.2h-1.2zM1.2 3.7h1.2v1.2h-1.2zM2.6 5.8h1.2v1.2h-1.2zM0.6 5.9h1.2v1.2h-1.2zM15.0 4.2h1.2v1.2h-1.2zM10.0 10.1h1.2v1.2h-1.2zM9.8 15.5h1.2v1.2h-1.2zM9.6 14.7h1.2v1.2h-1.2zM1.4 6.8h1.2v1.2h-1.2zM1.7 14.7h1.2v1.2h-1.2zM12.2 2.3h1.2v1.2h-1.2zM11.8 1.1h1.2v1.2h-1.2zM5.4 9.7h1.2v1.2h-1.2zM6.9 14.3h1.2v1.2h-1.2zM0.3 13.8h1.2v1.2h-1.2zM14.0 0.8h1.2v1.2h-1.2zM12.5 8.4h1.2v1.2h-1.2zM14.1 15.1h1.2v1.2h-1.2zM0.8 15.7h1.2v1.2h-1.2zM0.6 7.4h1.2v1.2h-1.2zM15.0 7.7h1.2v1.2h-1.2zM8.3 2.9h1.2v1.2h-1.2zM8.7 14.2h1.2v1.2h-1.2zM1.2 12.6h1.2v1.2h-1.2zM6.7 0.3h1.2v1.2h-1.2zM9.1 12.5h1.2v1.2h-1.2zM14.8 0.8h1.2v1.2h-1.2zM5.3 2.1h1.2v1.2h-1.2z"/><path fill="#e29076" d="M2.0 6.2h1.2v1.2h-1.2zM3.6 8.3h1.2v1.2h-1.2zM1.5 4.7h1.2v1.2h-1.2zM3.0 0.8h1.2v1.2h-1.2zM11.6 11.5h1.2v1.2h-1.2zM13.1 13.1h1.2v1.2h-1.2zM1.0 13.8h1.2v1.2h-1.2zM5.5 10.8h1.2v1.2h-1.2zM0.9 6.3h1.2v1.2h-1.2zM0.7 4.7h1.2v1.2h-1.2zM14.7 12.5h1.2v1.2h-1.2zM10.1 12.3h1.2v1.2h-1.2zM13.3 13.5h1.2v1.2h-1.2zM8.0 3.0h1.2v1.2h-1.2zM1.6 12.5h1.2v1.2h-1.2zM2.3 13.9h1.2v1.2h-1.2zM12.4 15.5h1.2v1.2h-1.2zM5.1 7.4h1.2v1.2h-1.2zM0.6 11.7h1.2v1.2h-1.2zM4.2 15.1h1.2v1.2h-1.2zM6.4 4.0h1.2v1.2h-1.2zM2.4 5.4h1.2v1.2h-1.2zM6.5 0.9h1.2v1.2h-1.2zM6.7 8.5h1.2v1.2h-1.2zM14.2 12.8h1.2v1.2h-1.2zM14.0 14.7h1.2v1.2h-1.2zM13.0 13.6h1.2v1.2h-1.2zM3.0 10.8h1.2v1.2h-1.2zM14.5 6.6h1.2v1.2h-1.2zM15.3 11.0h1.2v1.2h-1.2zM3.6 8.8h1.2v1.2h-1.2zM4.5 0.9h1.2v1.2h-1.2zM0.4 8.0h1.2v1.2h-1.2zM4.2 7.8h1.2v1.2h-1.2zM2.2 1.9h1.2v1.2h-1.2zM3.3 14.5h1.2v1.2h-1.2zM9.2 2.8h1.2v1.2h-1.2zM3.5 1.2h1.2v1.2h-1.2zM3.7 7.0h1.2v1.2h-1.2zM1.1 2.5h1.2v1.2h-1.2zM7.0 12.0h1.2v1.2h-1.2zM2.2 8.6h1.2v1.2h-1.2zM5.7 3.5h1.2v1.2h-1.2zM10.2 8.1h1.2v1.2h-1.2zM11.1 15.7h1.2v1.2h-1.2zM9.7 2.0h1.2v1.2h-1.2zM7.6 2.7h1.2v1.2h-1.2zM14.7 7.5h1.2v1.2h-1.2zM6.5 9.1h1.2v1.2h-1.2zM7.9 5.0h1.2v1.2h-1.2zM11.8 12.9h1.2v1.2h-1.2z"/></pattern><pattern id="ph_red9b" width="11" height="11" patternUnits="userSpaceOnUse"><path fill="#d96e52" d="M3.7 2.2h1.2v1.2h-1.2zM5.7 1.8h1.2v1.2h-1.2zM6.1 3.4h1.2v1.2h-1.2zM4.0 5.5h1.2v1.2h-1.2zM2.7 8.8h1.2v1.2h-1.2zM8.8 4.4h1.2v1.2h-1.2zM7.1 2.3h1.2v1.2h-1.2zM7.6 8.3h1.2v1.2h-1.2zM2.0 0.2h1.2v1.2h-1.2zM9.1 6.4h1.2v1.2h-1.2zM2.8 3.3h1.2v1.2h-1.2zM1.9 8.3h1.2v1.2h-1.2zM2.7 8.8h1.2v1.2h-1.2zM8.6 4.1h1.2v1.2h-1.2zM7.4 0.4h1.2v1.2h-1.2zM6.9 8.4h1.2v1.2h-1.2zM9.0 0.0h1.2v1.2h-1.2zM3.6 2.7h1.2v1.2h-1.2zM9.1 1.1h1.2v1.2h-1.2zM6.0 0.6h1.2v1.2h-1.2zM4.9 7.1h1.2v1.2h-1.2zM8.2 9.7h1.2v1.2h-1.2zM8.4 2.2h1.2v1.2h-1.2zM5.7 3.1h1.2v1.2h-1.2zM5.3 0.1h1.2v1.2h-1.2zM4.1 0.7h1.2v1.2h-1.2zM0.1 9.4h1.2v1.2h-1.2zM9.6 8.8h1.2v1.2h-1.2zM0.0 1.3h1.2v1.2h-1.2zM2.0 2.6h1.2v1.2h-1.2zM6.8 1.9h1.2v1.2h-1.2zM9.6 4.8h1.2v1.2h-1.2zM0.3 1.7h1.2v1.2h-1.2zM8.1 9.5h1.2v1.2h-1.2zM0.2 8.4h1.2v1.2h-1.2zM7.9 5.1h1.2v1.2h-1.2zM2.7 7.2h1.2v1.2h-1.2zM3.3 7.4h1.2v1.2h-1.2zM5.3 7.1h1.2v1.2h-1.2zM0.2 1.5h1.2v1.2h-1.2zM4.1 8.9h1.2v1.2h-1.2zM8.1 5.4h1.2v1.2h-1.2zM0.1 1.6h1.2v1.2h-1.2zM2.5 6.1h1.2v1.2h-1.2zM9.6 8.9h1.2v1.2h-1.2zM0.9 4.5h1.2v1.2h-1.2zM8.7 3.7h1.2v1.2h-1.2zM2.9 2.5h1.2v1.2h-1.2zM2.3 0.1h1.2v1.2h-1.2zM1.6 1.4h1.2v1.2h-1.2zM2.3 2.4h1.2v1.2h-1.2zM5.2 6.7h1.2v1.2h-1.2zM5.4 2.9h1.2v1.2h-1.2zM6.2 8.4h1.2v1.2h-1.2zM7.3 9.1h1.2v1.2h-1.2zM2.8 6.3h1.2v1.2h-1.2zM9.2 6.4h1.2v1.2h-1.2zM8.6 3.1h1.2v1.2h-1.2zM4.0 9.5h1.2v1.2h-1.2zM6.1 4.5h1.2v1.2h-1.2zM2.0 6.3h1.2v1.2h-1.2zM0.2 7.2h1.2v1.2h-1.2zM3.9 3.1h1.2v1.2h-1.2zM4.8 2.6h1.2v1.2h-1.2zM9.2 8.1h1.2v1.2h-1.2zM0.0 6.0h1.2v1.2h-1.2zM5.0 3.9h1.2v1.2h-1.2z"/><path fill="#e29076" d="M5.4 1.5h1.2v1.2h-1.2zM6.2 4.2h1.2v1.2h-1.2zM7.8 1.9h1.2v1.2h-1.2zM4.6 1.8h1.2v1.2h-1.2zM3.5 9.7h1.2v1.2h-1.2zM0.9 9.5h1.2v1.2h-1.2zM6.5 3.8h1.2v1.2h-1.2zM7.2 4.7h1.2v1.2h-1.2zM4.7 3.8h1.2v1.2h-1.2zM3.1 9.6h1.2v1.2h-1.2zM3.3 7.4h1.2v1.2h-1.2zM4.7 1.6h1.2v1.2h-1.2zM7.7 6.6h1.2v1.2h-1.2zM2.9 5.9h1.2v1.2h-1.2zM8.1 8.4h1.2v1.2h-1.2zM9.6 8.6h1.2v1.2h-1.2zM3.1 7.3h1.2v1.2h-1.2zM7.2 3.7h1.2v1.2h-1.2zM5.4 1.1h1.2v1.2h-1.2zM5.4 3.8h1.2v1.2h-1.2zM4.7 0.4h1.2v1.2h-1.2zM9.5 1.7h1.2v1.2h-1.2zM8.8 1.3h1.2v1.2h-1.2zM4.9 2.7h1.2v1.2h-1.2zM4.3 4.8h1.2v1.2h-1.2zM7.1 2.7h1.2v1.2h-1.2zM8.0 9.2h1.2v1.2h-1.2zM4.4 4.4h1.2v1.2h-1.2zM5.4 9.0h1.2v1.2h-1.2zM4.4 9.1h1.2v1.2h-1.2z"/></pattern><pattern id="pd_red10" width="17" height="17" patternUnits="userSpaceOnUse"><path fill="#cf4526" d="M7.6 4.3h1.2v1.2h-1.2zM1.2 6.6h1.2v1.2h-1.2zM0.6 12.9h1.2v1.2h-1.2zM6.7 9.3h1.2v1.2h-1.2zM4.4 5.7h1.2v1.2h-1.2zM15.7 14.7h1.2v1.2h-1.2zM3.6 7.1h1.2v1.2h-1.2zM2.2 13.0h1.2v1.2h-1.2zM2.2 7.3h1.2v1.2h-1.2zM7.7 7.1h1.2v1.2h-1.2zM8.1 7.9h1.2v1.2h-1.2zM14.9 6.7h1.2v1.2h-1.2zM13.8 9.6h1.2v1.2h-1.2zM11.0 4.6h1.2v1.2h-1.2zM1.3 3.7h1.2v1.2h-1.2zM1.2 0.7h1.2v1.2h-1.2zM0.2 0.9h1.2v1.2h-1.2zM1.9 5.3h1.2v1.2h-1.2zM5.3 7.3h1.2v1.2h-1.2zM8.5 11.4h1.2v1.2h-1.2zM3.9 4.3h1.2v1.2h-1.2zM4.6 3.3h1.2v1.2h-1.2zM3.0 2.9h1.2v1.2h-1.2zM2.8 0.3h1.2v1.2h-1.2zM11.6 0.8h1.2v1.2h-1.2zM11.2 2.6h1.2v1.2h-1.2zM9.5 14.9h1.2v1.2h-1.2zM2.1 0.9h1.2v1.2h-1.2zM2.2 12.9h1.2v1.2h-1.2zM6.7 12.1h1.2v1.2h-1.2zM8.0 9.9h1.2v1.2h-1.2zM5.5 14.4h1.2v1.2h-1.2zM9.7 4.2h1.2v1.2h-1.2zM8.2 13.7h1.2v1.2h-1.2zM15.0 5.2h1.2v1.2h-1.2zM7.1 14.4h1.2v1.2h-1.2zM13.4 13.2h1.2v1.2h-1.2zM1.5 5.9h1.2v1.2h-1.2zM5.7 7.5h1.2v1.2h-1.2zM15.1 13.4h1.2v1.2h-1.2zM6.9 1.4h1.2v1.2h-1.2zM15.2 13.9h1.2v1.2h-1.2zM5.4 7.9h1.2v1.2h-1.2zM4.1 14.3h1.2v1.2h-1.2zM7.3 8.4h1.2v1.2h-1.2zM1.5 0.5h1.2v1.2h-1.2zM13.9 0.6h1.2v1.2h-1.2zM13.9 3.1h1.2v1.2h-1.2zM14.2 12.1h1.2v1.2h-1.2zM4.8 4.3h1.2v1.2h-1.2zM15.6 9.2h1.2v1.2h-1.2zM14.8 6.2h1.2v1.2h-1.2zM8.1 1.8h1.2v1.2h-1.2zM3.4 13.8h1.2v1.2h-1.2zM12.2 10.4h1.2v1.2h-1.2zM15.2 0.8h1.2v1.2h-1.2zM6.0 10.9h1.2v1.2h-1.2zM2.5 2.1h1.2v1.2h-1.2zM1.3 1.5h1.2v1.2h-1.2zM2.1 10.7h1.2v1.2h-1.2zM15.0 1.0h1.2v1.2h-1.2zM7.2 11.8h1.2v1.2h-1.2zM2.9 14.8h1.2v1.2h-1.2zM5.7 1.4h1.2v1.2h-1.2zM15.3 9.8h1.2v1.2h-1.2zM8.8 15.5h1.2v1.2h-1.2zM12.0 8.5h1.2v1.2h-1.2zM1.3 8.4h1.2v1.2h-1.2zM0.3 11.6h1.2v1.2h-1.2zM3.2 7.4h1.2v1.2h-1.2zM9.9 15.3h1.2v1.2h-1.2zM0.2 3.3h1.2v1.2h-1.2zM2.6 12.0h1.2v1.2h-1.2zM5.3 1.9h1.2v1.2h-1.2zM0.2 13.0h1.2v1.2h-1.2zM13.4 11.1h1.2v1.2h-1.2zM4.1 10.3h1.2v1.2h-1.2zM14.4 13.5h1.2v1.2h-1.2zM1.8 3.4h1.2v1.2h-1.2zM2.0 15.3h1.2v1.2h-1.2zM15.7 7.1h1.2v1.2h-1.2zM7.2 2.1h1.2v1.2h-1.2zM6.7 10.8h1.2v1.2h-1.2zM3.5 1.4h1.2v1.2h-1.2zM9.9 0.1h1.2v1.2h-1.2zM10.7 3.0h1.2v1.2h-1.2zM12.2 8.6h1.2v1.2h-1.2zM5.7 9.7h1.2v1.2h-1.2zM6.9 13.4h1.2v1.2h-1.2zM10.0 8.0h1.2v1.2h-1.2zM14.9 11.3h1.2v1.2h-1.2zM13.1 8.9h1.2v1.2h-1.2zM0.3 11.1h1.2v1.2h-1.2zM8.3 9.2h1.2v1.2h-1.2zM11.1 10.8h1.2v1.2h-1.2zM13.5 9.5h1.2v1.2h-1.2zM4.1 2.4h1.2v1.2h-1.2zM7.7 0.1h1.2v1.2h-1.2zM13.8 9.1h1.2v1.2h-1.2zM1.7 5.3h1.2v1.2h-1.2zM15.5 14.9h1.2v1.2h-1.2zM3.6 9.8h1.2v1.2h-1.2zM12.8 9.5h1.2v1.2h-1.2zM0.6 7.3h1.2v1.2h-1.2zM7.5 11.6h1.2v1.2h-1.2zM9.5 4.9h1.2v1.2h-1.2zM15.0 13.3h1.2v1.2h-1.2zM11.6 8.3h1.2v1.2h-1.2zM14.9 11.8h1.2v1.2h-1.2zM10.0 14.2h1.2v1.2h-1.2zM7.8 0.4h1.2v1.2h-1.2zM3.8 9.5h1.2v1.2h-1.2zM13.2 6.1h1.2v1.2h-1.2zM6.6 14.9h1.2v1.2h-1.2zM2.2 5.8h1.2v1.2h-1.2zM7.4 13.9h1.2v1.2h-1.2zM13.0 9.8h1.2v1.2h-1.2zM10.0 3.3h1.2v1.2h-1.2zM8.7 13.2h1.2v1.2h-1.2zM12.6 3.9h1.2v1.2h-1.2zM8.0 9.1h1.2v1.2h-1.2zM3.7 13.3h1.2v1.2h-1.2zM3.4 14.6h1.2v1.2h-1.2zM7.0 15.3h1.2v1.2h-1.2zM3.4 3.4h1.2v1.2h-1.2zM15.2 2.3h1.2v1.2h-1.2zM10.0 13.9h1.2v1.2h-1.2zM8.9 14.3h1.2v1.2h-1.2zM11.7 0.3h1.2v1.2h-1.2zM2.3 3.2h1.2v1.2h-1.2zM9.4 4.9h1.2v1.2h-1.2zM5.9 11.5h1.2v1.2h-1.2zM14.7 12.3h1.2v1.2h-1.2zM2.5 6.6h1.2v1.2h-1.2zM11.7 0.5h1.2v1.2h-1.2zM12.2 11.5h1.2v1.2h-1.2zM9.0 13.6h1.2v1.2h-1.2zM15.1 7.1h1.2v1.2h-1.2zM5.3 14.0h1.2v1.2h-1.2zM5.1 3.5h1.2v1.2h-1.2zM8.2 6.3h1.2v1.2h-1.2zM8.3 7.5h1.2v1.2h-1.2zM0.2 13.0h1.2v1.2h-1.2zM3.6 3.3h1.2v1.2h-1.2zM14.6 3.3h1.2v1.2h-1.2zM6.9 3.6h1.2v1.2h-1.2zM7.2 8.2h1.2v1.2h-1.2zM11.0 13.2h1.2v1.2h-1.2zM13.1 3.1h1.2v1.2h-1.2zM3.0 9.2h1.2v1.2h-1.2zM0.0 0.1h1.2v1.2h-1.2zM7.8 0.1h1.2v1.2h-1.2zM14.7 15.7h1.2v1.2h-1.2zM13.0 7.5h1.2v1.2h-1.2zM1.9 10.2h1.2v1.2h-1.2zM12.3 8.5h1.2v1.2h-1.2zM14.4 10.9h1.2v1.2h-1.2zM3.2 2.0h1.2v1.2h-1.2zM7.8 4.8h1.2v1.2h-1.2zM1.2 1.5h1.2v1.2h-1.2zM5.1 7.8h1.2v1.2h-1.2zM15.7 3.7h1.2v1.2h-1.2zM13.0 6.8h1.2v1.2h-1.2zM5.3 14.4h1.2v1.2h-1.2zM6.3 10.3h1.2v1.2h-1.2zM9.1 13.5h1.2v1.2h-1.2zM0.5 15.6h1.2v1.2h-1.2zM7.2 9.2h1.2v1.2h-1.2zM7.9 10.6h1.2v1.2h-1.2zM15.6 14.4h1.2v1.2h-1.2zM5.3 15.1h1.2v1.2h-1.2zM0.2 12.9h1.2v1.2h-1.2zM0.5 12.1h1.2v1.2h-1.2zM8.5 3.8h1.2v1.2h-1.2zM1.2 10.9h1.2v1.2h-1.2zM14.3 5.4h1.2v1.2h-1.2zM15.2 13.4h1.2v1.2h-1.2zM12.7 7.0h1.2v1.2h-1.2zM6.2 1.1h1.2v1.2h-1.2zM9.9 0.1h1.2v1.2h-1.2zM9.6 9.5h1.2v1.2h-1.2zM7.8 3.6h1.2v1.2h-1.2zM12.6 13.8h1.2v1.2h-1.2zM15.6 1.1h1.2v1.2h-1.2zM15.7 9.9h1.2v1.2h-1.2zM7.4 8.8h1.2v1.2h-1.2zM5.5 6.8h1.2v1.2h-1.2zM12.9 11.0h1.2v1.2h-1.2zM2.1 8.1h1.2v1.2h-1.2zM3.2 0.3h1.2v1.2h-1.2zM6.0 0.1h1.2v1.2h-1.2zM12.8 4.8h1.2v1.2h-1.2zM14.7 4.9h1.2v1.2h-1.2zM10.4 9.2h1.2v1.2h-1.2zM3.9 9.5h1.2v1.2h-1.2zM11.3 2.5h1.2v1.2h-1.2zM9.9 7.2h1.2v1.2h-1.2zM8.5 4.7h1.2v1.2h-1.2zM3.9 15.3h1.2v1.2h-1.2zM5.4 10.7h1.2v1.2h-1.2zM4.3 3.3h1.2v1.2h-1.2zM6.1 10.6h1.2v1.2h-1.2zM13.2 12.6h1.2v1.2h-1.2zM11.4 6.1h1.2v1.2h-1.2zM5.3 7.1h1.2v1.2h-1.2zM6.0 14.0h1.2v1.2h-1.2zM0.4 1.6h1.2v1.2h-1.2zM8.8 13.6h1.2v1.2h-1.2zM8.0 11.4h1.2v1.2h-1.2zM9.1 7.5h1.2v1.2h-1.2zM12.5 6.4h1.2v1.2h-1.2zM2.5 5.2h1.2v1.2h-1.2zM14.6 0.9h1.2v1.2h-1.2zM10.9 10.8h1.2v1.2h-1.2zM12.9 10.3h1.2v1.2h-1.2zM10.3 15.8h1.2v1.2h-1.2z"/><path fill="#d9603e" d="M6.1 13.0h1.2v1.2h-1.2zM2.4 10.0h1.2v1.2h-1.2zM7.2 14.4h1.2v1.2h-1.2zM14.0 3.1h1.2v1.2h-1.2zM7.8 5.2h1.2v1.2h-1.2zM14.0 0.1h1.2v1.2h-1.2zM5.1 1.4h1.2v1.2h-1.2zM7.8 2.7h1.2v1.2h-1.2zM14.7 1.7h1.2v1.2h-1.2zM2.1 2.0h1.2v1.2h-1.2zM10.6 0.1h1.2v1.2h-1.2zM8.3 14.5h1.2v1.2h-1.2zM12.8 9.9h1.2v1.2h-1.2zM1.7 12.2h1.2v1.2h-1.2zM3.5 7.9h1.2v1.2h-1.2zM15.2 14.3h1.2v1.2h-1.2zM12.8 9.6h1.2v1.2h-1.2zM2.1 2.9h1.2v1.2h-1.2zM4.3 10.0h1.2v1.2h-1.2zM8.9 0.1h1.2v1.2h-1.2zM7.9 0.4h1.2v1.2h-1.2zM2.5 9.1h1.2v1.2h-1.2zM1.5 13.3h1.2v1.2h-1.2zM0.0 5.9h1.2v1.2h-1.2zM15.1 6.4h1.2v1.2h-1.2zM10.1 0.3h1.2v1.2h-1.2zM11.1 2.1h1.2v1.2h-1.2zM13.8 10.7h1.2v1.2h-1.2zM6.6 1.8h1.2v1.2h-1.2zM4.0 14.0h1.2v1.2h-1.2zM7.6 3.8h1.2v1.2h-1.2zM13.3 6.8h1.2v1.2h-1.2zM6.5 4.2h1.2v1.2h-1.2zM2.4 14.6h1.2v1.2h-1.2zM15.2 13.8h1.2v1.2h-1.2zM6.1 8.2h1.2v1.2h-1.2zM6.3 15.4h1.2v1.2h-1.2zM3.1 3.7h1.2v1.2h-1.2zM10.8 2.4h1.2v1.2h-1.2zM14.5 6.9h1.2v1.2h-1.2zM0.7 9.7h1.2v1.2h-1.2zM2.9 12.7h1.2v1.2h-1.2zM6.8 1.1h1.2v1.2h-1.2zM11.7 12.2h1.2v1.2h-1.2zM3.7 11.2h1.2v1.2h-1.2zM7.8 9.9h1.2v1.2h-1.2zM7.8 5.7h1.2v1.2h-1.2zM11.8 11.8h1.2v1.2h-1.2zM11.6 13.0h1.2v1.2h-1.2zM13.7 13.4h1.2v1.2h-1.2zM6.7 4.7h1.2v1.2h-1.2zM8.8 10.3h1.2v1.2h-1.2zM15.0 7.8h1.2v1.2h-1.2zM14.6 7.5h1.2v1.2h-1.2zM2.0 1.9h1.2v1.2h-1.2zM13.2 5.1h1.2v1.2h-1.2zM12.3 13.9h1.2v1.2h-1.2zM3.2 15.2h1.2v1.2h-1.2zM2.9 15.4h1.2v1.2h-1.2zM1.3 2.6h1.2v1.2h-1.2zM15.2 6.3h1.2v1.2h-1.2zM8.1 11.3h1.2v1.2h-1.2zM6.8 9.2h1.2v1.2h-1.2zM1.0 7.9h1.2v1.2h-1.2zM8.0 11.3h1.2v1.2h-1.2zM1.9 3.2h1.2v1.2h-1.2zM3.6 11.6h1.2v1.2h-1.2zM8.5 3.1h1.2v1.2h-1.2zM6.0 4.7h1.2v1.2h-1.2zM7.8 9.8h1.2v1.2h-1.2zM10.0 4.8h1.2v1.2h-1.2zM12.2 9.0h1.2v1.2h-1.2zM13.1 1.8h1.2v1.2h-1.2zM9.5 9.3h1.2v1.2h-1.2zM9.5 11.8h1.2v1.2h-1.2zM12.1 13.2h1.2v1.2h-1.2zM1.2 1.3h1.2v1.2h-1.2zM13.9 3.9h1.2v1.2h-1.2zM10.3 6.4h1.2v1.2h-1.2zM9.0 4.8h1.2v1.2h-1.2zM12.2 9.5h1.2v1.2h-1.2zM14.8 7.9h1.2v1.2h-1.2zM6.5 11.1h1.2v1.2h-1.2zM12.0 4.3h1.2v1.2h-1.2zM4.4 10.6h1.2v1.2h-1.2z"/></pattern><pattern id="pd_red10b" width="11" height="11" patternUnits="userSpaceOnUse"><path fill="#cf4526" d="M1.9 2.5h1.2v1.2h-1.2zM5.8 8.5h1.2v1.2h-1.2zM7.7 3.1h1.2v1.2h-1.2zM7.3 8.3h1.2v1.2h-1.2zM2.9 1.4h1.2v1.2h-1.2zM6.3 1.6h1.2v1.2h-1.2zM8.1 9.4h1.2v1.2h-1.2zM5.5 3.0h1.2v1.2h-1.2zM3.6 2.8h1.2v1.2h-1.2zM0.9 0.5h1.2v1.2h-1.2zM7.7 9.0h1.2v1.2h-1.2zM7.4 7.1h1.2v1.2h-1.2zM7.8 2.7h1.2v1.2h-1.2zM4.9 4.8h1.2v1.2h-1.2zM6.4 5.8h1.2v1.2h-1.2zM9.1 7.1h1.2v1.2h-1.2zM6.8 4.8h1.2v1.2h-1.2zM7.6 6.0h1.2v1.2h-1.2zM0.4 3.5h1.2v1.2h-1.2zM4.7 6.2h1.2v1.2h-1.2zM2.8 6.4h1.2v1.2h-1.2zM7.2 4.0h1.2v1.2h-1.2zM2.1 3.2h1.2v1.2h-1.2zM4.5 0.6h1.2v1.2h-1.2zM8.4 8.7h1.2v1.2h-1.2zM2.4 7.3h1.2v1.2h-1.2zM4.0 3.1h1.2v1.2h-1.2zM3.7 4.5h1.2v1.2h-1.2zM2.5 5.1h1.2v1.2h-1.2zM5.1 1.5h1.2v1.2h-1.2zM1.2 5.8h1.2v1.2h-1.2zM5.7 2.8h1.2v1.2h-1.2zM0.3 7.6h1.2v1.2h-1.2zM5.1 2.9h1.2v1.2h-1.2zM7.4 6.1h1.2v1.2h-1.2zM1.3 7.8h1.2v1.2h-1.2zM9.5 4.3h1.2v1.2h-1.2zM1.7 6.2h1.2v1.2h-1.2zM5.0 9.4h1.2v1.2h-1.2zM3.5 7.9h1.2v1.2h-1.2zM2.6 4.9h1.2v1.2h-1.2zM0.5 7.3h1.2v1.2h-1.2zM6.2 5.0h1.2v1.2h-1.2zM0.0 2.6h1.2v1.2h-1.2zM8.5 2.2h1.2v1.2h-1.2zM7.9 8.9h1.2v1.2h-1.2zM6.6 8.9h1.2v1.2h-1.2zM5.9 3.0h1.2v1.2h-1.2zM1.1 2.4h1.2v1.2h-1.2zM1.8 7.7h1.2v1.2h-1.2zM2.4 4.0h1.2v1.2h-1.2zM9.4 4.3h1.2v1.2h-1.2zM7.5 7.1h1.2v1.2h-1.2zM5.1 2.0h1.2v1.2h-1.2zM0.2 3.6h1.2v1.2h-1.2zM8.3 8.8h1.2v1.2h-1.2zM3.6 6.9h1.2v1.2h-1.2zM1.1 5.2h1.2v1.2h-1.2zM9.0 8.7h1.2v1.2h-1.2zM8.9 2.3h1.2v1.2h-1.2zM4.3 9.0h1.2v1.2h-1.2zM2.8 1.6h1.2v1.2h-1.2zM4.7 1.3h1.2v1.2h-1.2zM9.6 0.8h1.2v1.2h-1.2zM0.4 1.4h1.2v1.2h-1.2zM3.4 3.7h1.2v1.2h-1.2zM3.4 7.5h1.2v1.2h-1.2zM4.7 5.8h1.2v1.2h-1.2zM1.5 6.5h1.2v1.2h-1.2zM1.3 3.8h1.2v1.2h-1.2zM7.2 3.4h1.2v1.2h-1.2zM6.8 5.5h1.2v1.2h-1.2zM0.7 9.2h1.2v1.2h-1.2zM3.0 9.3h1.2v1.2h-1.2zM5.7 0.6h1.2v1.2h-1.2zM4.2 3.3h1.2v1.2h-1.2zM2.3 9.7h1.2v1.2h-1.2zM6.1 1.3h1.2v1.2h-1.2zM5.3 6.0h1.2v1.2h-1.2zM7.8 6.0h1.2v1.2h-1.2zM9.5 1.7h1.2v1.2h-1.2zM3.1 3.0h1.2v1.2h-1.2zM2.0 5.9h1.2v1.2h-1.2zM1.1 4.0h1.2v1.2h-1.2zM1.8 9.5h1.2v1.2h-1.2zM7.7 9.0h1.2v1.2h-1.2zM4.0 2.7h1.2v1.2h-1.2zM2.9 5.0h1.2v1.2h-1.2zM0.0 7.2h1.2v1.2h-1.2zM7.6 1.3h1.2v1.2h-1.2zM7.4 4.7h1.2v1.2h-1.2zM1.4 2.5h1.2v1.2h-1.2zM1.4 6.3h1.2v1.2h-1.2zM2.6 3.3h1.2v1.2h-1.2zM1.3 2.1h1.2v1.2h-1.2zM4.3 4.1h1.2v1.2h-1.2zM6.7 8.7h1.2v1.2h-1.2zM8.7 0.4h1.2v1.2h-1.2zM7.3 6.7h1.2v1.2h-1.2zM0.2 3.6h1.2v1.2h-1.2z"/><path fill="#d9603e" d="M5.0 0.9h1.2v1.2h-1.2zM7.1 8.9h1.2v1.2h-1.2zM7.5 8.1h1.2v1.2h-1.2zM0.3 2.0h1.2v1.2h-1.2zM1.7 8.7h1.2v1.2h-1.2zM3.2 7.6h1.2v1.2h-1.2zM4.4 7.6h1.2v1.2h-1.2zM6.2 0.7h1.2v1.2h-1.2zM5.5 5.3h1.2v1.2h-1.2zM3.5 2.0h1.2v1.2h-1.2zM9.5 4.8h1.2v1.2h-1.2zM5.5 0.3h1.2v1.2h-1.2zM0.0 6.1h1.2v1.2h-1.2zM7.6 3.9h1.2v1.2h-1.2zM5.9 8.1h1.2v1.2h-1.2zM4.1 0.1h1.2v1.2h-1.2zM9.3 4.8h1.2v1.2h-1.2zM4.0 3.4h1.2v1.2h-1.2zM4.4 7.2h1.2v1.2h-1.2zM5.0 6.1h1.2v1.2h-1.2zM5.5 2.3h1.2v1.2h-1.2zM8.4 5.8h1.2v1.2h-1.2zM1.7 5.0h1.2v1.2h-1.2zM6.6 7.6h1.2v1.2h-1.2zM0.0 6.2h1.2v1.2h-1.2zM9.1 6.2h1.2v1.2h-1.2z"/></pattern><pattern id="ph_red10" width="17" height="17" patternUnits="userSpaceOnUse"><path fill="#d96e52" d="M10.8 11.5h1.2v1.2h-1.2zM2.7 0.3h1.2v1.2h-1.2zM0.6 2.1h1.2v1.2h-1.2zM7.7 13.4h1.2v1.2h-1.2zM1.2 2.1h1.2v1.2h-1.2zM2.2 12.3h1.2v1.2h-1.2zM15.8 4.5h1.2v1.2h-1.2zM10.2 8.0h1.2v1.2h-1.2zM0.2 0.3h1.2v1.2h-1.2zM4.5 15.6h1.2v1.2h-1.2zM2.7 12.6h1.2v1.2h-1.2zM8.7 5.6h1.2v1.2h-1.2zM6.2 5.1h1.2v1.2h-1.2zM13.2 2.3h1.2v1.2h-1.2zM9.5 9.0h1.2v1.2h-1.2zM12.7 2.4h1.2v1.2h-1.2zM9.8 7.6h1.2v1.2h-1.2zM10.1 13.8h1.2v1.2h-1.2zM4.6 12.1h1.2v1.2h-1.2zM0.4 13.1h1.2v1.2h-1.2zM2.5 3.5h1.2v1.2h-1.2zM6.8 9.8h1.2v1.2h-1.2zM11.6 14.7h1.2v1.2h-1.2zM11.8 13.7h1.2v1.2h-1.2zM12.5 2.2h1.2v1.2h-1.2zM14.1 7.2h1.2v1.2h-1.2zM13.2 4.7h1.2v1.2h-1.2zM13.0 1.7h1.2v1.2h-1.2zM7.0 6.6h1.2v1.2h-1.2zM0.3 3.1h1.2v1.2h-1.2zM11.9 14.5h1.2v1.2h-1.2zM7.2 11.0h1.2v1.2h-1.2zM6.5 3.5h1.2v1.2h-1.2zM14.4 9.9h1.2v1.2h-1.2zM14.9 0.8h1.2v1.2h-1.2zM14.1 10.1h1.2v1.2h-1.2zM9.0 5.8h1.2v1.2h-1.2zM2.0 6.8h1.2v1.2h-1.2zM6.0 10.2h1.2v1.2h-1.2zM15.4 8.2h1.2v1.2h-1.2zM6.8 3.9h1.2v1.2h-1.2zM10.1 8.4h1.2v1.2h-1.2zM2.1 3.6h1.2v1.2h-1.2zM13.8 13.7h1.2v1.2h-1.2zM1.5 8.4h1.2v1.2h-1.2zM1.9 10.5h1.2v1.2h-1.2zM12.7 0.8h1.2v1.2h-1.2zM1.7 6.6h1.2v1.2h-1.2zM4.3 1.0h1.2v1.2h-1.2zM3.3 3.6h1.2v1.2h-1.2zM0.8 11.2h1.2v1.2h-1.2zM0.3 5.6h1.2v1.2h-1.2zM0.5 0.9h1.2v1.2h-1.2zM11.3 12.4h1.2v1.2h-1.2zM6.5 0.7h1.2v1.2h-1.2zM1.5 5.0h1.2v1.2h-1.2zM2.5 8.4h1.2v1.2h-1.2zM10.0 8.3h1.2v1.2h-1.2zM10.4 0.3h1.2v1.2h-1.2zM9.9 8.7h1.2v1.2h-1.2zM1.0 7.9h1.2v1.2h-1.2zM10.9 8.6h1.2v1.2h-1.2zM14.0 14.2h1.2v1.2h-1.2zM13.1 5.3h1.2v1.2h-1.2zM6.6 10.0h1.2v1.2h-1.2zM12.2 15.7h1.2v1.2h-1.2zM12.8 7.0h1.2v1.2h-1.2zM2.6 9.7h1.2v1.2h-1.2zM14.7 4.5h1.2v1.2h-1.2zM11.2 6.9h1.2v1.2h-1.2zM12.2 9.3h1.2v1.2h-1.2zM7.1 7.9h1.2v1.2h-1.2zM6.6 12.6h1.2v1.2h-1.2zM0.3 0.9h1.2v1.2h-1.2zM13.9 8.7h1.2v1.2h-1.2zM15.6 5.7h1.2v1.2h-1.2zM8.4 10.8h1.2v1.2h-1.2zM10.9 7.9h1.2v1.2h-1.2zM11.1 10.1h1.2v1.2h-1.2zM13.9 1.1h1.2v1.2h-1.2zM4.5 7.0h1.2v1.2h-1.2zM1.4 3.9h1.2v1.2h-1.2zM10.5 10.3h1.2v1.2h-1.2zM9.7 15.1h1.2v1.2h-1.2zM14.5 8.7h1.2v1.2h-1.2zM5.3 11.6h1.2v1.2h-1.2zM12.8 9.5h1.2v1.2h-1.2zM12.0 14.9h1.2v1.2h-1.2zM9.4 11.2h1.2v1.2h-1.2zM1.4 9.0h1.2v1.2h-1.2zM13.0 10.5h1.2v1.2h-1.2zM14.4 11.9h1.2v1.2h-1.2zM7.2 11.2h1.2v1.2h-1.2zM2.8 0.3h1.2v1.2h-1.2zM14.5 12.3h1.2v1.2h-1.2zM14.4 7.8h1.2v1.2h-1.2zM0.7 9.6h1.2v1.2h-1.2zM5.3 6.8h1.2v1.2h-1.2zM5.5 13.9h1.2v1.2h-1.2zM9.2 1.4h1.2v1.2h-1.2zM3.2 10.2h1.2v1.2h-1.2zM7.3 7.9h1.2v1.2h-1.2zM15.4 4.1h1.2v1.2h-1.2zM9.0 2.0h1.2v1.2h-1.2zM6.0 12.3h1.2v1.2h-1.2zM2.3 11.4h1.2v1.2h-1.2zM5.1 9.9h1.2v1.2h-1.2zM13.5 6.3h1.2v1.2h-1.2zM10.5 13.5h1.2v1.2h-1.2zM4.9 15.0h1.2v1.2h-1.2zM6.0 7.2h1.2v1.2h-1.2zM11.4 13.9h1.2v1.2h-1.2zM7.6 15.7h1.2v1.2h-1.2zM14.5 4.8h1.2v1.2h-1.2zM8.5 12.4h1.2v1.2h-1.2zM3.8 9.1h1.2v1.2h-1.2zM6.1 1.8h1.2v1.2h-1.2zM12.9 15.6h1.2v1.2h-1.2zM5.4 0.8h1.2v1.2h-1.2zM7.4 3.7h1.2v1.2h-1.2zM1.3 0.2h1.2v1.2h-1.2zM10.4 5.6h1.2v1.2h-1.2zM1.2 11.4h1.2v1.2h-1.2zM5.7 2.7h1.2v1.2h-1.2zM5.7 7.1h1.2v1.2h-1.2zM2.8 11.9h1.2v1.2h-1.2zM4.0 9.1h1.2v1.2h-1.2zM13.9 9.7h1.2v1.2h-1.2zM6.6 11.6h1.2v1.2h-1.2zM4.3 12.0h1.2v1.2h-1.2zM13.1 8.6h1.2v1.2h-1.2zM5.2 4.8h1.2v1.2h-1.2zM1.8 9.6h1.2v1.2h-1.2zM7.7 13.7h1.2v1.2h-1.2zM2.4 5.4h1.2v1.2h-1.2zM2.9 11.3h1.2v1.2h-1.2zM5.7 8.0h1.2v1.2h-1.2zM7.3 15.7h1.2v1.2h-1.2zM13.6 14.1h1.2v1.2h-1.2zM12.6 13.4h1.2v1.2h-1.2zM7.7 2.5h1.2v1.2h-1.2zM8.6 9.1h1.2v1.2h-1.2zM8.5 9.5h1.2v1.2h-1.2zM10.3 3.5h1.2v1.2h-1.2zM10.9 9.2h1.2v1.2h-1.2zM0.4 11.5h1.2v1.2h-1.2zM10.3 15.0h1.2v1.2h-1.2zM9.8 9.6h1.2v1.2h-1.2zM10.3 6.5h1.2v1.2h-1.2zM5.3 7.2h1.2v1.2h-1.2zM10.5 4.0h1.2v1.2h-1.2zM4.0 10.2h1.2v1.2h-1.2zM0.8 0.6h1.2v1.2h-1.2zM10.2 4.5h1.2v1.2h-1.2zM0.0 0.7h1.2v1.2h-1.2zM9.1 6.1h1.2v1.2h-1.2zM14.0 1.0h1.2v1.2h-1.2zM2.7 4.6h1.2v1.2h-1.2zM4.7 8.6h1.2v1.2h-1.2zM7.8 15.5h1.2v1.2h-1.2zM9.2 0.9h1.2v1.2h-1.2zM6.9 15.0h1.2v1.2h-1.2zM12.7 0.0h1.2v1.2h-1.2zM7.4 2.2h1.2v1.2h-1.2zM8.6 3.9h1.2v1.2h-1.2zM4.4 8.6h1.2v1.2h-1.2zM7.0 12.3h1.2v1.2h-1.2zM10.8 7.9h1.2v1.2h-1.2zM10.9 12.7h1.2v1.2h-1.2zM7.5 8.0h1.2v1.2h-1.2zM12.9 11.0h1.2v1.2h-1.2zM11.9 11.5h1.2v1.2h-1.2zM7.0 14.9h1.2v1.2h-1.2zM15.2 12.6h1.2v1.2h-1.2zM10.6 9.8h1.2v1.2h-1.2zM9.6 15.6h1.2v1.2h-1.2zM5.6 6.7h1.2v1.2h-1.2zM11.2 1.4h1.2v1.2h-1.2zM9.6 13.8h1.2v1.2h-1.2zM1.8 13.9h1.2v1.2h-1.2zM13.0 3.8h1.2v1.2h-1.2zM8.5 14.6h1.2v1.2h-1.2zM11.8 8.9h1.2v1.2h-1.2zM13.8 0.2h1.2v1.2h-1.2zM15.7 2.2h1.2v1.2h-1.2zM4.7 3.0h1.2v1.2h-1.2zM14.1 1.9h1.2v1.2h-1.2zM15.7 6.6h1.2v1.2h-1.2zM9.8 12.5h1.2v1.2h-1.2zM12.6 2.4h1.2v1.2h-1.2zM9.1 12.6h1.2v1.2h-1.2zM1.3 3.1h1.2v1.2h-1.2zM12.4 8.0h1.2v1.2h-1.2zM9.9 13.2h1.2v1.2h-1.2zM8.5 10.6h1.2v1.2h-1.2zM13.6 12.8h1.2v1.2h-1.2zM5.9 9.8h1.2v1.2h-1.2zM5.5 12.4h1.2v1.2h-1.2zM9.3 6.0h1.2v1.2h-1.2zM10.5 13.5h1.2v1.2h-1.2zM5.7 13.5h1.2v1.2h-1.2zM4.3 5.6h1.2v1.2h-1.2zM1.6 2.7h1.2v1.2h-1.2zM14.2 2.2h1.2v1.2h-1.2zM8.4 4.7h1.2v1.2h-1.2zM4.5 8.4h1.2v1.2h-1.2zM1.1 7.9h1.2v1.2h-1.2zM12.5 7.0h1.2v1.2h-1.2zM12.1 1.6h1.2v1.2h-1.2zM4.7 7.2h1.2v1.2h-1.2zM1.8 1.2h1.2v1.2h-1.2zM8.5 15.6h1.2v1.2h-1.2zM5.1 9.8h1.2v1.2h-1.2zM7.5 11.0h1.2v1.2h-1.2zM11.0 3.1h1.2v1.2h-1.2zM7.1 9.5h1.2v1.2h-1.2zM2.5 0.2h1.2v1.2h-1.2zM7.4 15.2h1.2v1.2h-1.2zM5.3 11.7h1.2v1.2h-1.2zM15.2 8.3h1.2v1.2h-1.2zM8.3 2.8h1.2v1.2h-1.2zM4.1 2.9h1.2v1.2h-1.2zM0.6 3.1h1.2v1.2h-1.2zM8.7 3.7h1.2v1.2h-1.2zM8.6 4.0h1.2v1.2h-1.2zM7.3 14.0h1.2v1.2h-1.2zM10.5 14.5h1.2v1.2h-1.2z"/><path fill="#e29076" d="M5.2 12.3h1.2v1.2h-1.2zM4.7 5.0h1.2v1.2h-1.2zM8.6 15.1h1.2v1.2h-1.2zM12.4 13.1h1.2v1.2h-1.2zM11.3 15.8h1.2v1.2h-1.2zM12.2 0.3h1.2v1.2h-1.2zM0.3 0.0h1.2v1.2h-1.2zM5.0 0.3h1.2v1.2h-1.2zM2.0 15.3h1.2v1.2h-1.2zM7.3 6.5h1.2v1.2h-1.2zM5.7 9.2h1.2v1.2h-1.2zM0.2 1.8h1.2v1.2h-1.2zM3.2 13.0h1.2v1.2h-1.2zM7.1 6.5h1.2v1.2h-1.2zM2.4 6.6h1.2v1.2h-1.2zM4.9 11.1h1.2v1.2h-1.2zM1.6 6.1h1.2v1.2h-1.2zM14.9 7.9h1.2v1.2h-1.2zM12.0 13.7h1.2v1.2h-1.2zM12.5 6.9h1.2v1.2h-1.2zM2.8 13.2h1.2v1.2h-1.2zM8.0 1.6h1.2v1.2h-1.2zM3.2 10.4h1.2v1.2h-1.2zM6.9 1.9h1.2v1.2h-1.2zM11.0 0.5h1.2v1.2h-1.2zM7.1 6.3h1.2v1.2h-1.2zM2.2 7.4h1.2v1.2h-1.2zM0.9 4.4h1.2v1.2h-1.2zM1.1 4.8h1.2v1.2h-1.2zM11.0 9.9h1.2v1.2h-1.2zM5.2 12.7h1.2v1.2h-1.2zM11.7 2.1h1.2v1.2h-1.2zM11.9 8.9h1.2v1.2h-1.2zM9.6 2.8h1.2v1.2h-1.2zM14.0 15.3h1.2v1.2h-1.2zM0.4 0.8h1.2v1.2h-1.2zM0.5 9.3h1.2v1.2h-1.2zM13.8 7.2h1.2v1.2h-1.2zM0.1 10.6h1.2v1.2h-1.2zM14.1 14.2h1.2v1.2h-1.2zM4.2 14.8h1.2v1.2h-1.2zM3.7 14.5h1.2v1.2h-1.2zM5.5 4.8h1.2v1.2h-1.2zM13.1 0.4h1.2v1.2h-1.2zM13.1 7.6h1.2v1.2h-1.2zM9.7 15.2h1.2v1.2h-1.2zM0.6 11.2h1.2v1.2h-1.2zM2.1 15.2h1.2v1.2h-1.2zM10.2 2.9h1.2v1.2h-1.2zM0.8 7.8h1.2v1.2h-1.2zM1.3 9.8h1.2v1.2h-1.2zM2.0 2.1h1.2v1.2h-1.2zM15.4 8.6h1.2v1.2h-1.2zM10.4 1.1h1.2v1.2h-1.2zM8.9 12.6h1.2v1.2h-1.2zM6.8 15.4h1.2v1.2h-1.2zM7.2 4.5h1.2v1.2h-1.2zM13.8 11.0h1.2v1.2h-1.2zM15.5 5.8h1.2v1.2h-1.2zM1.7 10.1h1.2v1.2h-1.2zM4.5 11.1h1.2v1.2h-1.2zM0.5 6.9h1.2v1.2h-1.2zM11.9 12.8h1.2v1.2h-1.2zM8.9 6.1h1.2v1.2h-1.2zM2.5 14.8h1.2v1.2h-1.2zM10.3 1.2h1.2v1.2h-1.2zM0.6 5.5h1.2v1.2h-1.2zM8.5 1.7h1.2v1.2h-1.2zM1.1 2.5h1.2v1.2h-1.2zM5.1 15.0h1.2v1.2h-1.2zM10.6 7.5h1.2v1.2h-1.2zM15.1 8.7h1.2v1.2h-1.2zM14.0 3.7h1.2v1.2h-1.2zM10.1 5.3h1.2v1.2h-1.2z"/></pattern><pattern id="ph_red10b" width="11" height="11" patternUnits="userSpaceOnUse"><path fill="#d96e52" d="M9.4 0.2h1.2v1.2h-1.2zM9.7 6.6h1.2v1.2h-1.2zM1.9 1.6h1.2v1.2h-1.2zM8.7 8.2h1.2v1.2h-1.2zM1.0 1.5h1.2v1.2h-1.2zM4.5 7.0h1.2v1.2h-1.2zM9.0 0.9h1.2v1.2h-1.2zM6.2 4.1h1.2v1.2h-1.2zM9.3 2.8h1.2v1.2h-1.2zM3.0 1.4h1.2v1.2h-1.2zM5.5 9.6h1.2v1.2h-1.2zM0.8 7.9h1.2v1.2h-1.2zM1.6 1.1h1.2v1.2h-1.2zM5.3 4.6h1.2v1.2h-1.2zM1.8 6.4h1.2v1.2h-1.2zM2.9 5.7h1.2v1.2h-1.2zM3.0 1.1h1.2v1.2h-1.2zM0.3 3.5h1.2v1.2h-1.2zM1.9 5.0h1.2v1.2h-1.2zM9.4 7.8h1.2v1.2h-1.2zM6.9 1.7h1.2v1.2h-1.2zM2.8 7.2h1.2v1.2h-1.2zM0.4 4.6h1.2v1.2h-1.2zM5.6 6.1h1.2v1.2h-1.2zM8.2 4.9h1.2v1.2h-1.2zM1.7 7.3h1.2v1.2h-1.2zM5.7 3.1h1.2v1.2h-1.2zM9.0 7.6h1.2v1.2h-1.2zM7.1 9.2h1.2v1.2h-1.2zM6.8 6.7h1.2v1.2h-1.2zM7.4 8.3h1.2v1.2h-1.2zM5.3 8.5h1.2v1.2h-1.2zM9.4 0.5h1.2v1.2h-1.2zM7.4 5.5h1.2v1.2h-1.2zM0.3 3.3h1.2v1.2h-1.2zM5.4 4.0h1.2v1.2h-1.2zM3.4 0.1h1.2v1.2h-1.2zM5.5 9.4h1.2v1.2h-1.2zM5.2 7.9h1.2v1.2h-1.2zM7.4 2.0h1.2v1.2h-1.2zM2.8 1.1h1.2v1.2h-1.2zM7.8 7.7h1.2v1.2h-1.2zM9.6 5.8h1.2v1.2h-1.2zM3.6 6.1h1.2v1.2h-1.2zM2.7 9.2h1.2v1.2h-1.2zM8.0 8.1h1.2v1.2h-1.2zM0.5 0.1h1.2v1.2h-1.2zM2.5 2.9h1.2v1.2h-1.2zM3.5 6.9h1.2v1.2h-1.2zM4.9 2.2h1.2v1.2h-1.2zM7.5 9.1h1.2v1.2h-1.2zM9.1 1.7h1.2v1.2h-1.2zM8.9 8.8h1.2v1.2h-1.2zM3.0 5.1h1.2v1.2h-1.2zM7.5 3.9h1.2v1.2h-1.2zM0.3 2.4h1.2v1.2h-1.2zM1.3 1.4h1.2v1.2h-1.2zM8.5 3.5h1.2v1.2h-1.2zM7.8 5.7h1.2v1.2h-1.2zM2.3 8.8h1.2v1.2h-1.2zM3.1 4.9h1.2v1.2h-1.2zM9.2 6.8h1.2v1.2h-1.2zM9.3 6.3h1.2v1.2h-1.2zM4.9 3.2h1.2v1.2h-1.2zM6.7 5.8h1.2v1.2h-1.2zM2.5 8.5h1.2v1.2h-1.2zM4.4 7.0h1.2v1.2h-1.2zM1.1 4.0h1.2v1.2h-1.2zM7.7 0.2h1.2v1.2h-1.2zM6.5 1.9h1.2v1.2h-1.2zM0.6 5.5h1.2v1.2h-1.2zM8.7 3.2h1.2v1.2h-1.2zM7.7 5.6h1.2v1.2h-1.2zM9.2 6.0h1.2v1.2h-1.2zM9.3 4.9h1.2v1.2h-1.2zM8.6 5.2h1.2v1.2h-1.2zM2.8 7.3h1.2v1.2h-1.2zM3.3 6.0h1.2v1.2h-1.2zM2.6 8.6h1.2v1.2h-1.2zM4.6 7.5h1.2v1.2h-1.2zM4.9 6.2h1.2v1.2h-1.2zM4.0 6.8h1.2v1.2h-1.2zM2.6 5.2h1.2v1.2h-1.2zM0.9 4.2h1.2v1.2h-1.2zM3.3 8.4h1.2v1.2h-1.2zM1.4 1.0h1.2v1.2h-1.2zM1.1 6.9h1.2v1.2h-1.2zM9.2 5.7h1.2v1.2h-1.2zM9.8 3.8h1.2v1.2h-1.2zM3.8 5.3h1.2v1.2h-1.2zM3.5 0.5h1.2v1.2h-1.2zM2.7 7.4h1.2v1.2h-1.2zM9.5 6.1h1.2v1.2h-1.2z"/><path fill="#e29076" d="M8.1 3.9h1.2v1.2h-1.2zM4.7 5.3h1.2v1.2h-1.2zM2.2 9.6h1.2v1.2h-1.2zM0.7 0.2h1.2v1.2h-1.2zM0.6 9.8h1.2v1.2h-1.2zM2.2 2.5h1.2v1.2h-1.2zM7.7 2.8h1.2v1.2h-1.2zM4.1 8.7h1.2v1.2h-1.2zM3.4 0.8h1.2v1.2h-1.2zM8.1 3.1h1.2v1.2h-1.2zM3.9 9.2h1.2v1.2h-1.2zM6.1 6.1h1.2v1.2h-1.2zM1.0 4.3h1.2v1.2h-1.2zM1.8 1.3h1.2v1.2h-1.2zM6.3 6.8h1.2v1.2h-1.2zM6.5 4.9h1.2v1.2h-1.2zM4.4 5.2h1.2v1.2h-1.2zM9.0 8.7h1.2v1.2h-1.2zM1.4 1.5h1.2v1.2h-1.2zM1.4 8.7h1.2v1.2h-1.2zM7.5 1.5h1.2v1.2h-1.2zM1.6 4.4h1.2v1.2h-1.2zM6.5 3.5h1.2v1.2h-1.2zM4.0 9.6h1.2v1.2h-1.2zM2.6 6.4h1.2v1.2h-1.2zM5.9 0.8h1.2v1.2h-1.2zM5.0 7.0h1.2v1.2h-1.2zM0.5 5.7h1.2v1.2h-1.2zM5.4 9.5h1.2v1.2h-1.2zM7.1 3.0h1.2v1.2h-1.2zM1.3 7.8h1.2v1.2h-1.2zM4.0 1.8h1.2v1.2h-1.2zM0.7 8.9h1.2v1.2h-1.2z"/></pattern><linearGradient id="g_feat" x1="0" y1="0" x2="0" y2="1"><stop offset="0" stop-color="#cd4527"/><stop offset="1" stop-color="#dadada"/></linearGradient><pattern id="he_tex" width="24" height="16" patternUnits="userSpaceOnUse"><rect x="10.0" y="13.0" width="3.0" height="0.6" fill="#ffffff"/><rect x="20.2" y="15.0" width="3.6" height="0.6" fill="#c8c8e0"/><rect x="12.1" y="7.5" width="3.6" height="0.6" fill="#ffffff"/><rect x="8.9" y="13.5" width="1.0" height="0.6" fill="#ffffff"/><rect x="22.1" y="1.0" width="2.3" height="0.6" fill="#ffffff"/><rect x="14.8" y="1.0" width="4.1" height="0.6" fill="#c8c8e0"/><rect x="16.7" y="11.5" width="0.9" height="0.6" fill="#c8c8e0"/><rect x="3.0" y="0.5" width="2.4" height="0.6" fill="#ffffff"/><rect x="9.6" y="4.5" width="1.5" height="0.6" fill="#ffffff"/><rect x="11.3" y="7.5" width="1.1" height="0.6" fill="#ffffff"/><rect x="5.0" y="2.0" width="1.2" height="0.6" fill="#ffffff"/><rect x="13.4" y="12.0" width="1.5" height="0.6" fill="#c8c8e0"/><rect x="21.3" y="13.0" width="1.8" height="0.6" fill="#ffffff"/><rect x="12.0" y="10.0" width="4.3" height="0.6" fill="#c8c8e0"/><rect x="6.4" y="2.5" width="1.4" height="0.6" fill="#c8c8e0"/><rect x="0.1" y="2.0" width="2.7" height="0.6" fill="#c8c8e0"/><rect x="13.7" y="10.0" width="2.7" height="0.6" fill="#ffffff"/><rect x="4.3" y="5.0" width="3.0" height="0.6" fill="#ffffff"/><rect x="8.3" y="9.5" width="1.7" height="0.6" fill="#ffffff"/><rect x="1.6" y="5.5" width="3.5" height="0.6" fill="#ffffff"/><rect x="3.8" y="1.0" width="3.2" height="0.6" fill="#ffffff"/><rect x="9.8" y="5.0" width="4.2" height="0.6" fill="#ffffff"/><rect x="21.2" y="15.5" width="2.6" height="0.6" fill="#ffffff"/><rect x="22.5" y="7.5" width="1.4" height="0.6" fill="#ffffff"/><rect x="10.5" y="13.0" width="3.5" height="0.6" fill="#ffffff"/><rect x="1.4" y="9.0" width="1.0" height="0.6" fill="#c8c8e0"/><rect x="15.8" y="1.0" width="2.3" height="0.6" fill="#ffffff"/><rect x="9.5" y="10.5" width="3.1" height="0.6" fill="#ffffff"/><rect x="23.6" y="15.0" width="1.0" height="0.6" fill="#ffffff"/><rect x="23.0" y="15.0" width="0.9" height="0.6" fill="#ffffff"/><rect x="21.6" y="11.5" width="3.6" height="0.6" fill="#ffffff"/><rect x="14.4" y="13.5" width="2.5" height="0.6" fill="#ffffff"/><rect x="7.4" y="8.5" width="1.3" height="0.6" fill="#c8c8e0"/><rect x="9.2" y="4.0" width="4.1" height="0.6" fill="#ffffff"/><rect x="6.3" y="10.0" width="3.1" height="0.6" fill="#ffffff"/><rect x="6.2" y="12.5" width="3.4" height="0.6" fill="#c8c8e0"/><rect x="3.2" y="3.0" width="2.2" height="0.6" fill="#ffffff"/><rect x="0.6" y="14.0" width="3.6" height="0.6" fill="#ffffff"/><rect x="20.8" y="9.0" width="1.2" height="0.6" fill="#ffffff"/><rect x="9.5" y="7.0" width="3.0" height="0.6" fill="#ffffff"/><rect x="4.4" y="12.0" width="1.5" height="0.6" fill="#ffffff"/><rect x="14.5" y="1.5" width="3.6" height="0.6" fill="#ffffff"/><rect x="9.3" y="2.0" width="2.2" height="0.6" fill="#ffffff"/><rect x="20.5" y="7.0" width="1.7" height="0.6" fill="#ffffff"/><rect x="17.9" y="7.5" width="2.2" height="0.6" fill="#ffffff"/><rect x="17.4" y="9.0" width="3.7" height="0.6" fill="#ffffff"/><rect x="22.8" y="3.0" width="2.7" height="0.6" fill="#c8c8e0"/><rect x="12.2" y="10.0" width="4.2" height="0.6" fill="#ffffff"/><rect x="7.0" y="6.0" width="1.0" height="0.6" fill="#ffffff"/><rect x="23.4" y="11.0" width="1.0" height="0.6" fill="#ffffff"/><rect x="2.6" y="2.0" width="3.1" height="0.6" fill="#c8c8e0"/><rect x="12.1" y="0.5" width="3.2" height="0.6" fill="#c8c8e0"/><rect x="11.3" y="12.0" width="3.9" height="0.6" fill="#c8c8e0"/><rect x="5.4" y="1.5" width="3.1" height="0.6" fill="#ffffff"/><rect x="5.9" y="12.5" width="3.3" height="0.6" fill="#ffffff"/><rect x="19.1" y="12.5" width="2.1" height="0.6" fill="#c8c8e0"/><rect x="5.5" y="2.5" width="0.9" height="0.6" fill="#c8c8e0"/><rect x="11.8" y="6.5" width="3.5" height="0.6" fill="#ffffff"/><rect x="5.9" y="15.5" width="2.2" height="0.6" fill="#ffffff"/><rect x="19.8" y="0.0" width="1.4" height="0.6" fill="#c8c8e0"/><rect x="7.5" y="12.5" width="3.3" height="0.6" fill="#ffffff"/><rect x="13.3" y="2.5" width="2.6" height="0.6" fill="#ffffff"/><rect x="17.8" y="14.5" width="4.2" height="0.6" fill="#c8c8e0"/><rect x="16.9" y="6.5" width="3.2" height="0.6" fill="#ffffff"/><rect x="15.4" y="6.0" width="1.7" height="0.6" fill="#ffffff"/><rect x="7.7" y="8.0" width="4.1" height="0.6" fill="#ffffff"/><rect x="21.6" y="6.0" width="1.6" height="0.6" fill="#ffffff"/><rect x="17.2" y="5.0" width="4.1" height="0.6" fill="#ffffff"/><rect x="9.6" y="14.5" width="3.0" height="0.6" fill="#c8c8e0"/><rect x="16.1" y="12.0" width="3.0" height="0.6" fill="#ffffff"/></pattern><linearGradient id="g_he" x1="0" y1="0" x2="0" y2="1"><stop offset="0" stop-color="#cf4e36"/><stop offset="0.5" stop-color="#f8f4f6"/><stop offset="1" stop-color="#2c3c8c"/></linearGradient><linearGradient id="g_f" x1="0" y1="0" x2="0" y2="1"><stop offset="0" stop-color="#d0452a"/><stop offset="1" stop-color="#d2d2d2"/></linearGradient><linearGradient id="g_g" x1="0" y1="0" x2="0" y2="1"><stop offset="0" stop-color="#ff0000"/><stop offset="0.5" stop-color="#eeeaee"/><stop offset="1" stop-color="#0000ff"/></linearGradient><clipPath id="c_i_small"><circle cx="239.1" cy="623.7" r="19.9"/></clipPath><clipPath id="cjE"><circle cx="343.4" cy="614.9" r="27.3"/></clipPath><clipPath id="cjS"><circle cx="370.3" cy="615.5" r="27.6"/></clipPath><clipPath id="cjH"><circle cx="356.8" cy="640.0" r="27.6"/></clipPath><linearGradient id="g_k" x1="0" y1="0" x2="0" y2="1"><stop offset="0" stop-color="#e45a5a"/><stop offset="0.5" stop-color="#a06080"/><stop offset="1" stop-color="#3a7ac0"/></linearGradient></defs>
<rect width="685" height="743" fill="#fff"/>
<g transform="matrix(1.00432,0,0,1.00453,-260.621,-0.014)" filter="url(#rough)">
<use href="#u_top" fill="#9ee090" />
<use href="#u_top" fill="url(#pa_mix)" opacity="0.5"/>
<use href="#u_lu" fill="#8cc880" />
<use href="#u_lu" fill="url(#pa_mix)" />
<use href="#u_link" fill="#c86080" />
<use href="#u_ll" fill="#d06060" />
<use href="#u_ll" fill="url(#pa_red)" />
<use href="#u_cu" fill="#dca070" />
<path d="M331,45 C336,38 343,34 346,36 C349,40 351,46 352.5,51.5 C345,49.5 337,47.5 331,45Z" fill="#c2c6b4"/>
<use href="#u_cu" fill="url(#pa_tr)" opacity="0.35"/>
<use href="#u_bl" fill="#d89868" />
<use href="#u_bl" fill="url(#pa_bot)" opacity="0.7"/>
<use href="#u_bridge" fill="#a8dc98" opacity="0.6"/>
<use href="#u_tr" fill="#c4c4b4" />
<use href="#u_tr" fill="url(#pa_tr)" />
<use href="#u_tr_g" fill="#7aa88a" clip-path="url(#c_tr)" opacity="0.9"/>
<use href="#u_tr_g" fill="url(#pa_trg)" clip-path="url(#c_tr)"/>
<use href="#u_tr_p" fill="#d49a68" />
<use href="#u_tr_p" fill="url(#pa_bot)" />
<use href="#u_strand" fill="#88c870" />
<use href="#u_gold" fill="#96e07a" />
<use href="#u_gold" fill="url(#pa_gold)" />
<use href="#u_strand" fill="url(#pa_mix)" opacity="0.6"/>
<use href="#u_rb" fill="#d88a5a" />
<use href="#u_rb" fill="url(#pa_red)" />
<use href="#u_conn" fill="#d89060" opacity="0.75"/>
<use href="#u_bot" fill="#dc9a5c" />
<use href="#u_a_pink" fill="#d878d0" clip-path="url(#c_bot)" opacity="0.75"/>
<path d="M349,99 C352,104 354,112 357,118 C360,124 359,132 354,137 C350,138 349,134 349,128 C350,118 348,108 349,99Z" fill="#f4c400" clip-path="url(#c_bot)"/>
<use href="#u_bot" fill="url(#pa_bot)" />
<use href="#u_notch" fill="#fff" />
<use href="#u_sr" fill="#dca060" />
<use href="#u_sal4" fill="#c84030" opacity="0.6"/>
<rect x="332.2" y="64.9" width="1.0" height="1.0" fill="#90e880"/>
<rect x="334.4" y="63.7" width="1.0" height="1.0" fill="#c42a22"/>
<rect x="341.1" y="75.1" width="1.0" height="1.0" fill="#e0a060"/>
<rect x="334.5" y="75.6" width="1.0" height="1.0" fill="#c42a22"/>
<rect x="334.3" y="72.1" width="1.0" height="1.0" fill="#90e880"/>
<rect x="340.9" y="66.5" width="1.0" height="1.0" fill="#f8c800"/>
<rect x="333.6" y="63.3" width="1.0" height="1.0" fill="#90e880"/>
<rect x="337.8" y="66.5" width="1.0" height="1.0" fill="#90e880"/>
<rect x="338.2" y="79.2" width="1.0" height="1.0" fill="#e0a060"/>
<rect x="344.3" y="70.1" width="1.0" height="1.0" fill="#f8c800"/>
<rect x="333.0" y="63.9" width="1.0" height="1.0" fill="#e0a060"/>
<rect x="338.0" y="66.5" width="1.0" height="1.0" fill="#90e880"/>
<rect x="332.5" y="75.5" width="1.0" height="1.0" fill="#90e880"/>
<rect x="343.1" y="66.7" width="1.0" height="1.0" fill="#90e880"/>
<rect x="344.4" y="66.3" width="1.0" height="1.0" fill="#e0a060"/>
<rect x="340.2" y="67.5" width="1.0" height="1.0" fill="#d870e0"/>
<rect x="337.7" y="69.7" width="1.0" height="1.0" fill="#d870e0"/>
<rect x="348.3" y="79.6" width="1.0" height="1.0" fill="#c42a22"/>
<rect x="345.4" y="68.2" width="1.0" height="1.0" fill="#e0a060"/>
<rect x="341.5" y="78.9" width="1.0" height="1.0" fill="#d870e0"/>
<rect x="333.6" y="66.3" width="1.0" height="1.0" fill="#f8c800"/>
<rect x="338.4" y="79.3" width="1.0" height="1.0" fill="#90e880"/>
<rect x="355.3" y="45.5" width="1.0" height="1.0" fill="#e0a060"/>
<rect x="353.9" y="43.6" width="1.0" height="1.0" fill="#d870e0"/>
<rect x="356.6" y="54.2" width="1.0" height="1.0" fill="#f8c800"/>
<rect x="358.7" y="44.8" width="1.0" height="1.0" fill="#c42a22"/>
<rect x="360.7" y="43.6" width="1.0" height="1.0" fill="#e0a060"/>
<rect x="358.7" y="55.4" width="1.0" height="1.0" fill="#90e880"/>
<rect x="353.5" y="51.0" width="1.0" height="1.0" fill="#f8c800"/>
<rect x="355.2" y="46.7" width="1.0" height="1.0" fill="#f8c800"/>
<rect x="356.9" y="50.6" width="1.0" height="1.0" fill="#c42a22"/>
<rect x="356.9" y="54.4" width="1.0" height="1.0" fill="#f8c800"/>
<rect x="358.5" y="57.5" width="1.0" height="1.0" fill="#c42a22"/>
<rect x="355.0" y="53.8" width="1.0" height="1.0" fill="#90e880"/>
<rect x="310.2" y="57.1" width="1.0" height="1.0" fill="#90e880"/>
<rect x="313.0" y="61.5" width="1.0" height="1.0" fill="#c42a22"/>
<rect x="307.6" y="62.7" width="1.0" height="1.0" fill="#f8c800"/>
<rect x="306.6" y="63.1" width="1.0" height="1.0" fill="#e0a060"/>
<rect x="315.5" y="66.5" width="1.0" height="1.0" fill="#d870e0"/>
<rect x="314.3" y="62.5" width="1.0" height="1.0" fill="#f8c800"/>
<rect x="314.3" y="62.2" width="1.0" height="1.0" fill="#f8c800"/>
<rect x="310.8" y="62.2" width="1.0" height="1.0" fill="#f8c800"/>
<rect x="311.5" y="64.2" width="1.0" height="1.0" fill="#90e880"/>
<rect x="309.9" y="60.7" width="1.0" height="1.0" fill="#f8c800"/>
<rect x="297.6" y="57.7" width="1.0" height="1.0" fill="#d870e0"/>
<rect x="296.6" y="56.2" width="1.0" height="1.0" fill="#e0a060"/>
<rect x="289.5" y="57.0" width="1.0" height="1.0" fill="#90e880"/>
<rect x="291.3" y="53.2" width="1.0" height="1.0" fill="#d870e0"/>
<rect x="291.3" y="59.0" width="1.0" height="1.0" fill="#d870e0"/>
<rect x="295.0" y="53.2" width="1.0" height="1.0" fill="#d870e0"/>
<rect x="297.1" y="58.4" width="1.0" height="1.0" fill="#c42a22"/>
<rect x="294.2" y="58.5" width="1.0" height="1.0" fill="#d870e0"/>
<rect x="326.8" y="81.2" width="1.0" height="1.0" fill="#d870e0"/>
<rect x="325.2" y="80.2" width="1.0" height="1.0" fill="#90e880"/>
<rect x="331.1" y="81.2" width="1.0" height="1.0" fill="#e0a060"/>
<rect x="328.9" y="81.8" width="1.0" height="1.0" fill="#d870e0"/>
<rect x="321.8" y="81.3" width="1.0" height="1.0" fill="#e0a060"/>
<rect x="348.1" y="84.2" width="1.0" height="1.0" fill="#90e880"/>
<rect x="333.4" y="83.9" width="1.0" height="1.0" fill="#e0a060"/>
<rect x="332.2" y="80.4" width="1.0" height="1.0" fill="#e0a060"/>
<rect x="328.1" y="82.8" width="1.0" height="1.0" fill="#c42a22"/>
<rect x="351.4" y="81.7" width="1.0" height="1.0" fill="#d870e0"/>
<rect x="343.8" y="81.8" width="1.0" height="1.0" fill="#e0a060"/>
<rect x="337.7" y="82.4" width="1.0" height="1.0" fill="#e0a060"/>
<rect x="326.1" y="80.9" width="1.0" height="1.0" fill="#f8c800"/>
<rect x="344.1" y="85.1" width="1.0" height="1.0" fill="#f8c800"/>
<rect x="352.8" y="28.2" width="1.0" height="1.0" fill="#f8c800"/>
<rect x="350.4" y="31.1" width="1.0" height="1.0" fill="#90e880"/>
<rect x="350.7" y="36.6" width="1.0" height="1.0" fill="#d870e0"/>
<rect x="353.7" y="32.0" width="1.0" height="1.0" fill="#e0a060"/>
<rect x="351.1" y="30.2" width="1.0" height="1.0" fill="#90e880"/>
<rect x="345.5" y="33.7" width="1.0" height="1.0" fill="#e0a060"/>
<rect x="372.0" y="59.6" width="1.0" height="1.0" fill="#d870e0"/>
<rect x="376.7" y="52.9" width="1.0" height="1.0" fill="#f8c800"/>
<rect x="372.3" y="54.0" width="1.0" height="1.0" fill="#90e880"/>
<rect x="387.0" y="55.4" width="1.0" height="1.0" fill="#c42a22"/>
<rect x="377.5" y="58.4" width="1.0" height="1.0" fill="#90e880"/>
<rect x="375.7" y="58.9" width="1.0" height="1.0" fill="#f8c800"/>
<rect x="374.0" y="52.2" width="1.0" height="1.0" fill="#90e880"/>
<rect x="380.2" y="55.8" width="1.0" height="1.0" fill="#90e880"/>
</g>
<line x1="25.60" y1="4.50" x2="25.60" y2="143.40" stroke="#444" stroke-width="0.70" />
<line x1="25.60" y1="143.40" x2="168.70" y2="143.40" stroke="#444" stroke-width="0.70" />
<line x1="24.00" y1="36.00" x2="25.60" y2="36.00" stroke="#333" stroke-width="0.70" />
<text x="23.3" y="37.6" font-size="4.60" fill="#555" text-anchor="end">5</text>
<line x1="24.00" y1="69.50" x2="25.60" y2="69.50" stroke="#333" stroke-width="0.70" />
<text x="23.3" y="71.1" font-size="4.60" fill="#555" text-anchor="end">0</text>
<line x1="24.00" y1="102.20" x2="25.60" y2="102.20" stroke="#333" stroke-width="0.70" />
<text x="23.3" y="103.8" font-size="4.60" fill="#555" text-anchor="end">-5</text>
<line x1="24.00" y1="136.00" x2="25.60" y2="136.00" stroke="#333" stroke-width="0.70" />
<text x="23.3" y="137.6" font-size="4.60" fill="#555" text-anchor="end">-10</text>
<line x1="58.80" y1="143.40" x2="58.80" y2="145.00" stroke="#333" stroke-width="0.70" />
<text x="58.8" y="149.2" font-size="4.60" fill="#555" text-anchor="middle">-5</text>
<line x1="93.30" y1="143.40" x2="93.30" y2="145.00" stroke="#333" stroke-width="0.70" />
<text x="93.3" y="149.2" font-size="4.60" fill="#555" text-anchor="middle">0</text>
<line x1="128.30" y1="143.40" x2="128.30" y2="145.00" stroke="#333" stroke-width="0.70" />
<text x="128.3" y="149.2" font-size="4.60" fill="#555" text-anchor="middle">5</text>
<line x1="163.00" y1="143.40" x2="163.00" y2="145.00" stroke="#333" stroke-width="0.70" />
<text x="163.0" y="149.2" font-size="4.60" fill="#555" text-anchor="middle">10</text>
<text x="95.9" y="157.0" font-size="8.20" fill="#333" text-anchor="middle">UMAP1</text>
<text x="19.8" y="74.4" font-size="8.20" fill="#333" text-anchor="middle" transform="rotate(-90.0 19.8 74.4)">UMAP2</text>
<text x="5.4" y="8.0" font-size="9.50" fill="#111" font-weight="bold">a</text>
<circle cx="175.50" cy="40.20" r="2.20" fill="#90e880" />
<text x="179.8" y="43.1" font-size="8.10" fill="#98c888">control Day 3</text>
<circle cx="175.50" cy="49.60" r="2.20" fill="#3a6e3a" />
<text x="179.8" y="52.5" font-size="8.10" fill="#3c6a3c">control Day 7</text>
<circle cx="175.50" cy="59.00" r="2.20" fill="#10e8f8" />
<text x="179.8" y="61.9" font-size="8.10" fill="#70c8dc">control Week 2</text>
<circle cx="175.50" cy="68.40" r="2.20" fill="#b8c8b0" />
<text x="179.8" y="71.3" font-size="8.10" fill="#88a880">control Week 4</text>
<circle cx="175.50" cy="77.80" r="2.20" fill="#f8c800" />
<text x="179.8" y="80.7" font-size="8.10" fill="#e0bc40">SEG Day 3</text>
<circle cx="175.50" cy="87.20" r="2.20" fill="#d870e0" />
<text x="179.8" y="90.1" font-size="8.10" fill="#d090d0">SEG Day 7</text>
<circle cx="175.50" cy="96.60" r="2.20" fill="#b82020" />
<text x="179.8" y="99.5" font-size="8.10" fill="#c03030">SEG Week 2</text>
<circle cx="175.50" cy="106.00" r="2.20" fill="#e0a060" />
<text x="179.8" y="108.9" font-size="8.10" fill="#e0a870">SEG Week 4</text>
<g filter="url(#rough)">
<use href="#u_top" fill="#53B400" />
<use href="#u_lu" fill="#99A800" />
<use href="#u_link" fill="#99A800" />
<use href="#u_ll" fill="#DF70F8" />
<use href="#u_sal1" fill="#F8766D" />
<use href="#u_cu" fill="#00BFC4" />
<use href="#u_bl" fill="#06A4FF" />
<use href="#u_sal2" fill="#F8766D" />
<use href="#u_bridge" fill="#00BC56" opacity="0.35"/>
<use href="#u_tr" fill="#00C094" />
<use href="#u_tr_g" fill="#00BC56" clip-path="url(#c_tr)"/>
<use href="#u_gold" fill="#C49A00" />
<use href="#u_strand" fill="#40b048" opacity="0.55"/>
<use href="#u_tr_p" fill="#FF66A8" />
<use href="#u_sal3" fill="#F8766D" />
<use href="#u_rb" fill="#FF66A8" />
<use href="#u_conn" fill="#FB61D7" opacity="0.8"/>
<use href="#u_bot" fill="#A58AFF" />
<use href="#u_bot_pink" fill="#FB61D7" clip-path="url(#c_bot)"/>
<use href="#u_bot_cyan" fill="#00B6EB" clip-path="url(#c_bot)"/>
<use href="#u_notch" fill="#fff" />
<use href="#u_sal4" fill="#F8766D" opacity="0.8"/>
<use href="#u_sr" fill="#E38900" />
<use href="#u_tr" fill="url(#pb_sp)" />
<use href="#u_cu" fill="url(#pb_sp)" />
<use href="#u_gold" fill="url(#pb_sp)" />
<use href="#u_lu" fill="url(#pb_sp)" />
<use href="#u_ll" fill="url(#pb_sp)" />
<use href="#u_rb" fill="url(#pb_sp)" />
<use href="#u_bl" fill="url(#pb_sp)" />
<use href="#u_top" fill="url(#pb_sp)" />
<use href="#u_bot" fill="url(#pb_sp2)" />
<use href="#u_tr_g" fill="url(#pb_pk)" clip-path="url(#c_tr)"/>
<rect x="333.3" y="66.6" width="1.0" height="1.0" fill="#06A4FF"/>
<rect x="343.9" y="67.0" width="1.0" height="1.0" fill="#FB61D7"/>
<rect x="344.2" y="64.7" width="1.0" height="1.0" fill="#F8766D"/>
<rect x="337.6" y="64.0" width="1.0" height="1.0" fill="#00BC56"/>
<rect x="348.1" y="78.0" width="1.0" height="1.0" fill="#06A4FF"/>
<rect x="342.2" y="72.2" width="1.0" height="1.0" fill="#FB61D7"/>
<rect x="340.9" y="71.3" width="1.0" height="1.0" fill="#FB61D7"/>
<rect x="346.2" y="79.2" width="1.0" height="1.0" fill="#FB61D7"/>
<rect x="339.6" y="68.7" width="1.0" height="1.0" fill="#FB61D7"/>
<rect x="348.6" y="64.9" width="1.0" height="1.0" fill="#FB61D7"/>
<rect x="339.5" y="70.3" width="1.0" height="1.0" fill="#FB61D7"/>
<rect x="341.4" y="66.9" width="1.0" height="1.0" fill="#00BFC4"/>
<rect x="337.3" y="78.8" width="1.0" height="1.0" fill="#FB61D7"/>
<rect x="341.1" y="76.8" width="1.0" height="1.0" fill="#06A4FF"/>
<rect x="341.7" y="72.8" width="1.0" height="1.0" fill="#FB61D7"/>
<rect x="342.0" y="66.9" width="1.0" height="1.0" fill="#06A4FF"/>
<rect x="333.3" y="74.3" width="1.0" height="1.0" fill="#06A4FF"/>
<rect x="339.3" y="64.2" width="1.0" height="1.0" fill="#00BFC4"/>
<rect x="332.2" y="66.1" width="1.0" height="1.0" fill="#FB61D7"/>
<rect x="343.9" y="64.5" width="1.0" height="1.0" fill="#FB61D7"/>
<rect x="334.2" y="67.4" width="1.0" height="1.0" fill="#F8766D"/>
<rect x="337.1" y="69.5" width="1.0" height="1.0" fill="#FB61D7"/>
<rect x="357.7" y="48.8" width="1.0" height="1.0" fill="#F8766D"/>
<rect x="360.6" y="52.4" width="1.0" height="1.0" fill="#06A4FF"/>
<rect x="356.9" y="57.2" width="1.0" height="1.0" fill="#FB61D7"/>
<rect x="357.9" y="49.5" width="1.0" height="1.0" fill="#F8766D"/>
<rect x="354.9" y="46.9" width="1.0" height="1.0" fill="#F8766D"/>
<rect x="358.8" y="43.5" width="1.0" height="1.0" fill="#F8766D"/>
<rect x="354.0" y="52.3" width="1.0" height="1.0" fill="#06A4FF"/>
<rect x="358.2" y="42.5" width="1.0" height="1.0" fill="#FB61D7"/>
<rect x="360.7" y="49.0" width="1.0" height="1.0" fill="#FB61D7"/>
<rect x="360.6" y="50.7" width="1.0" height="1.0" fill="#FB61D7"/>
<rect x="359.2" y="45.7" width="1.0" height="1.0" fill="#00BFC4"/>
<rect x="360.4" y="48.2" width="1.0" height="1.0" fill="#FB61D7"/>
<rect x="317.7" y="61.3" width="1.0" height="1.0" fill="#06A4FF"/>
<rect x="309.6" y="66.2" width="1.0" height="1.0" fill="#F8766D"/>
<rect x="317.8" y="59.1" width="1.0" height="1.0" fill="#00BC56"/>
<rect x="313.0" y="61.8" width="1.0" height="1.0" fill="#06A4FF"/>
<rect x="310.5" y="65.2" width="1.0" height="1.0" fill="#FB61D7"/>
<rect x="313.3" y="65.7" width="1.0" height="1.0" fill="#FB61D7"/>
<rect x="306.6" y="63.0" width="1.0" height="1.0" fill="#FB61D7"/>
<rect x="314.1" y="64.7" width="1.0" height="1.0" fill="#00BFC4"/>
<rect x="308.6" y="61.0" width="1.0" height="1.0" fill="#FB61D7"/>
<rect x="317.4" y="66.8" width="1.0" height="1.0" fill="#FB61D7"/>
<rect x="295.8" y="51.5" width="1.0" height="1.0" fill="#00BC56"/>
<rect x="298.9" y="51.0" width="1.0" height="1.0" fill="#06A4FF"/>
<rect x="289.2" y="51.6" width="1.0" height="1.0" fill="#06A4FF"/>
<rect x="289.9" y="58.9" width="1.0" height="1.0" fill="#F8766D"/>
<rect x="291.4" y="57.1" width="1.0" height="1.0" fill="#06A4FF"/>
<rect x="297.3" y="51.7" width="1.0" height="1.0" fill="#F8766D"/>
<rect x="291.0" y="53.1" width="1.0" height="1.0" fill="#FB61D7"/>
<rect x="290.1" y="59.6" width="1.0" height="1.0" fill="#FB61D7"/>
<rect x="351.2" y="81.5" width="1.0" height="1.0" fill="#06A4FF"/>
<rect x="330.4" y="83.9" width="1.0" height="1.0" fill="#06A4FF"/>
<rect x="324.3" y="85.9" width="1.0" height="1.0" fill="#F8766D"/>
<rect x="341.5" y="80.1" width="1.0" height="1.0" fill="#F8766D"/>
<rect x="335.4" y="84.5" width="1.0" height="1.0" fill="#FB61D7"/>
<rect x="321.7" y="84.1" width="1.0" height="1.0" fill="#00BC56"/>
<rect x="349.3" y="82.3" width="1.0" height="1.0" fill="#00BFC4"/>
<rect x="319.8" y="83.9" width="1.0" height="1.0" fill="#FB61D7"/>
<rect x="333.2" y="84.2" width="1.0" height="1.0" fill="#FB61D7"/>
<rect x="328.3" y="83.9" width="1.0" height="1.0" fill="#FB61D7"/>
<rect x="346.6" y="80.2" width="1.0" height="1.0" fill="#00BFC4"/>
<rect x="350.7" y="84.9" width="1.0" height="1.0" fill="#06A4FF"/>
<rect x="340.1" y="85.1" width="1.0" height="1.0" fill="#FB61D7"/>
<rect x="334.1" y="83.2" width="1.0" height="1.0" fill="#FB61D7"/>
<rect x="345.3" y="31.7" width="1.0" height="1.0" fill="#00BFC4"/>
<rect x="346.5" y="37.7" width="1.0" height="1.0" fill="#06A4FF"/>
<rect x="348.3" y="38.0" width="1.0" height="1.0" fill="#00BC56"/>
<rect x="347.6" y="35.0" width="1.0" height="1.0" fill="#FB61D7"/>
<rect x="346.6" y="35.9" width="1.0" height="1.0" fill="#00BFC4"/>
<rect x="347.7" y="34.1" width="1.0" height="1.0" fill="#FB61D7"/>
<rect x="387.8" y="56.9" width="1.0" height="1.0" fill="#F8766D"/>
<rect x="387.1" y="54.3" width="1.0" height="1.0" fill="#FB61D7"/>
<rect x="377.3" y="56.2" width="1.0" height="1.0" fill="#00BFC4"/>
<rect x="378.6" y="56.5" width="1.0" height="1.0" fill="#F8766D"/>
<rect x="389.8" y="55.9" width="1.0" height="1.0" fill="#00BFC4"/>
<rect x="376.4" y="57.7" width="1.0" height="1.0" fill="#00BC56"/>
<rect x="374.1" y="54.8" width="1.0" height="1.0" fill="#F8766D"/>
<rect x="373.2" y="54.8" width="1.0" height="1.0" fill="#F8766D"/>
</g>
<line x1="284.40" y1="4.50" x2="284.40" y2="143.30" stroke="#444" stroke-width="0.70" />
<line x1="284.40" y1="143.30" x2="427.60" y2="143.30" stroke="#444" stroke-width="0.70" />
<line x1="282.80" y1="35.50" x2="284.40" y2="35.50" stroke="#333" stroke-width="0.70" />
<text x="282.1" y="37.1" font-size="4.60" fill="#555" text-anchor="end">5</text>
<line x1="282.80" y1="69.20" x2="284.40" y2="69.20" stroke="#333" stroke-width="0.70" />
<text x="282.1" y="70.8" font-size="4.60" fill="#555" text-anchor="end">0</text>
<line x1="282.80" y1="102.20" x2="284.40" y2="102.20" stroke="#333" stroke-width="0.70" />
<text x="282.1" y="103.8" font-size="4.60" fill="#555" text-anchor="end">-5</text>
<line x1="282.80" y1="135.70" x2="284.40" y2="135.70" stroke="#333" stroke-width="0.70" />
<text x="282.1" y="137.3" font-size="4.60" fill="#555" text-anchor="end">-10</text>
<line x1="317.60" y1="143.30" x2="317.60" y2="144.90" stroke="#333" stroke-width="0.70" />
<text x="317.6" y="149.2" font-size="4.60" fill="#555" text-anchor="middle">-5</text>
<line x1="352.40" y1="143.30" x2="352.40" y2="144.90" stroke="#333" stroke-width="0.70" />
<text x="352.4" y="149.2" font-size="4.60" fill="#555" text-anchor="middle">0</text>
<line x1="386.60" y1="143.30" x2="386.60" y2="144.90" stroke="#333" stroke-width="0.70" />
<text x="386.6" y="149.2" font-size="4.60" fill="#555" text-anchor="middle">5</text>
<line x1="421.90" y1="143.30" x2="421.90" y2="144.90" stroke="#333" stroke-width="0.70" />
<text x="421.9" y="149.2" font-size="4.60" fill="#555" text-anchor="middle">10</text>
<text x="355.0" y="156.6" font-size="8.20" fill="#333" text-anchor="middle">UMAP1</text>
<text x="280.2" y="72.5" font-size="8.20" fill="#333" text-anchor="middle" transform="rotate(-90.0 280.2 72.5)">UMAP2</text>
<text x="269.4" y="7.9" font-size="9.50" fill="#111" font-weight="bold">b</text>
<circle cx="436.30" cy="18.40" r="2.10" fill="#F8766D" />
<text x="440.6" y="21.3" font-size="8.00" fill="#f08a84">generic#1</text>
<circle cx="436.30" cy="27.07" r="2.10" fill="#E38900" />
<text x="440.6" y="30.0" font-size="8.00" fill="#e0984a">generic#2</text>
<circle cx="436.30" cy="35.74" r="2.10" fill="#C49A00" />
<text x="440.6" y="38.6" font-size="8.00" fill="#c8a448">control#1</text>
<circle cx="436.30" cy="44.41" r="2.10" fill="#99A800" />
<text x="440.6" y="47.3" font-size="8.00" fill="#a0a840">control#2</text>
<circle cx="436.30" cy="53.08" r="2.10" fill="#53B400" />
<text x="440.6" y="56.0" font-size="8.00" fill="#70b450">control#3</text>
<circle cx="436.30" cy="61.75" r="2.10" fill="#00BC56" />
<text x="440.6" y="64.7" font-size="8.00" fill="#40b868">control#4</text>
<circle cx="436.30" cy="70.42" r="2.10" fill="#00C094" />
<text x="440.6" y="73.3" font-size="8.00" fill="#38b890">control#5</text>
<circle cx="436.30" cy="79.09" r="2.10" fill="#00BFC4" />
<text x="440.6" y="82.0" font-size="8.00" fill="#30b8b8">control#6</text>
<circle cx="436.30" cy="87.76" r="2.10" fill="#00B6EB" />
<text x="440.6" y="90.7" font-size="8.00" fill="#28b4e4">SEG#1</text>
<circle cx="436.30" cy="96.43" r="2.10" fill="#06A4FF" />
<text x="440.6" y="99.3" font-size="8.00" fill="#4a94d8">SEG#2</text>
<circle cx="436.30" cy="105.10" r="2.10" fill="#A58AFF" />
<text x="440.6" y="108.0" font-size="8.00" fill="#9888d0">SEG#3</text>
<circle cx="436.30" cy="113.77" r="2.10" fill="#DF70F8" />
<text x="440.6" y="116.7" font-size="8.00" fill="#b878c8">SEG#4</text>
<circle cx="436.30" cy="122.44" r="2.10" fill="#FB61D7" />
<text x="440.6" y="125.3" font-size="8.00" fill="#d070b8">SEG#5</text>
<circle cx="436.30" cy="131.11" r="2.10" fill="#FF66A8" />
<text x="440.6" y="134.0" font-size="8.00" fill="#e86898">SEG#6</text>
<rect x="545.90" y="6.60" width="9.90" height="1.70" fill="#eda030" stroke="#222" stroke-width="0.45"/>
<rect x="545.90" y="8.30" width="9.90" height="3.80" fill="#f07a6a" stroke="#222" stroke-width="0.45"/>
<rect x="545.90" y="12.10" width="9.90" height="1.80" fill="#3a2a30" stroke="#222" stroke-width="0.45"/>
<rect x="545.90" y="13.90" width="9.90" height="3.90" fill="#4a96dc" stroke="#222" stroke-width="0.45"/>
<rect x="545.90" y="17.80" width="9.90" height="2.60" fill="#1e4a2a" stroke="#222" stroke-width="0.45"/>
<rect x="545.90" y="20.40" width="9.90" height="9.80" fill="#4eb048" stroke="#222" stroke-width="0.45"/>
<rect x="545.90" y="30.20" width="9.90" height="29.20" fill="#9ca834" stroke="#222" stroke-width="0.45"/>
<rect x="545.90" y="59.40" width="9.90" height="75.20" fill="#c99a2c" stroke="#222" stroke-width="0.45"/>
<rect x="545.90" y="6.60" width="9.90" height="128.00" fill="none" stroke="#222" stroke-width="0.6"/>
<rect x="561.35" y="6.60" width="9.90" height="1.40" fill="#eda030" stroke="#222" stroke-width="0.45"/>
<rect x="561.35" y="8.00" width="9.90" height="2.20" fill="#f07a6a" stroke="#222" stroke-width="0.45"/>
<rect x="561.35" y="10.20" width="9.90" height="4.40" fill="#f064a6" stroke="#222" stroke-width="0.45"/>
<rect x="561.35" y="14.60" width="9.90" height="1.80" fill="#3a2a30" stroke="#222" stroke-width="0.45"/>
<rect x="561.35" y="16.40" width="9.90" height="2.80" fill="#1cb8c2" stroke="#222" stroke-width="0.45"/>
<rect x="561.35" y="19.20" width="9.90" height="14.10" fill="#2cb88c" stroke="#222" stroke-width="0.45"/>
<rect x="561.35" y="33.30" width="9.90" height="84.10" fill="#2cad52" stroke="#222" stroke-width="0.45"/>
<rect x="561.35" y="117.40" width="9.90" height="1.60" fill="#1e4a2a" stroke="#222" stroke-width="0.45"/>
<rect x="561.35" y="119.00" width="9.90" height="13.30" fill="#9ca834" stroke="#222" stroke-width="0.45"/>
<rect x="561.35" y="132.30" width="9.90" height="2.30" fill="#c99a2c" stroke="#222" stroke-width="0.45"/>
<rect x="561.35" y="6.60" width="9.90" height="128.00" fill="none" stroke="#222" stroke-width="0.6"/>
<rect x="576.80" y="6.60" width="9.90" height="1.40" fill="#eda030" stroke="#222" stroke-width="0.45"/>
<rect x="576.80" y="8.00" width="9.90" height="1.00" fill="#f07a6a" stroke="#222" stroke-width="0.45"/>
<rect x="576.80" y="9.00" width="9.90" height="4.10" fill="#f064a6" stroke="#222" stroke-width="0.45"/>
<rect x="576.80" y="13.10" width="9.90" height="2.20" fill="#3a2a30" stroke="#222" stroke-width="0.45"/>
<rect x="576.80" y="15.30" width="9.90" height="19.70" fill="#1cb8c2" stroke="#222" stroke-width="0.45"/>
<rect x="576.80" y="35.00" width="9.90" height="75.40" fill="#2cb88c" stroke="#222" stroke-width="0.45"/>
<rect x="576.80" y="110.40" width="9.90" height="21.60" fill="#2cad52" stroke="#222" stroke-width="0.45"/>
<rect x="576.80" y="132.00" width="9.90" height="2.60" fill="#1e4a2a" stroke="#222" stroke-width="0.45"/>
<rect x="576.80" y="6.60" width="9.90" height="128.00" fill="none" stroke="#222" stroke-width="0.6"/>
<rect x="592.25" y="6.60" width="9.90" height="1.90" fill="#6a3a22" stroke="#222" stroke-width="0.45"/>
<rect x="592.25" y="8.50" width="9.90" height="3.20" fill="#f064a6" stroke="#222" stroke-width="0.45"/>
<rect x="592.25" y="11.70" width="9.90" height="2.20" fill="#3a2a30" stroke="#222" stroke-width="0.45"/>
<rect x="592.25" y="13.90" width="9.90" height="45.20" fill="#1cb8c2" stroke="#222" stroke-width="0.45"/>
<rect x="592.25" y="59.10" width="9.90" height="64.90" fill="#2cb88c" stroke="#222" stroke-width="0.45"/>
<rect x="592.25" y="124.00" width="9.90" height="9.00" fill="#2cad52" stroke="#222" stroke-width="0.45"/>
<rect x="592.25" y="133.00" width="9.90" height="1.60" fill="#1e4a2a" stroke="#222" stroke-width="0.45"/>
<rect x="592.25" y="6.60" width="9.90" height="128.00" fill="none" stroke="#222" stroke-width="0.6"/>
<rect x="607.70" y="6.60" width="9.90" height="1.00" fill="#eda030" stroke="#222" stroke-width="0.45"/>
<rect x="607.70" y="7.60" width="9.90" height="1.70" fill="#f07a6a" stroke="#222" stroke-width="0.45"/>
<rect x="607.70" y="9.30" width="9.90" height="7.00" fill="#f064a6" stroke="#222" stroke-width="0.45"/>
<rect x="607.70" y="16.30" width="9.90" height="6.40" fill="#dc6cbc" stroke="#222" stroke-width="0.45"/>
<rect x="607.70" y="22.70" width="9.90" height="13.90" fill="#c47ac6" stroke="#222" stroke-width="0.45"/>
<rect x="607.70" y="36.60" width="9.90" height="13.00" fill="#9a8ad0" stroke="#222" stroke-width="0.45"/>
<rect x="607.70" y="49.60" width="9.90" height="11.90" fill="#4a96dc" stroke="#222" stroke-width="0.45"/>
<rect x="607.70" y="61.50" width="9.90" height="59.30" fill="#10b4e8" stroke="#222" stroke-width="0.45"/>
<rect x="607.70" y="120.80" width="9.90" height="1.70" fill="#1e4a2a" stroke="#222" stroke-width="0.45"/>
<rect x="607.70" y="122.50" width="9.90" height="8.10" fill="#9ca834" stroke="#222" stroke-width="0.45"/>
<rect x="607.70" y="130.60" width="9.90" height="4.00" fill="#c99a2c" stroke="#222" stroke-width="0.45"/>
<rect x="607.70" y="6.60" width="9.90" height="128.00" fill="none" stroke="#222" stroke-width="0.6"/>
<rect x="623.15" y="6.60" width="9.90" height="1.00" fill="#eda030" stroke="#222" stroke-width="0.45"/>
<rect x="623.15" y="7.60" width="9.90" height="3.80" fill="#f07a6a" stroke="#222" stroke-width="0.45"/>
<rect x="623.15" y="11.40" width="9.90" height="14.20" fill="#f064a6" stroke="#222" stroke-width="0.45"/>
<rect x="623.15" y="25.60" width="9.90" height="22.90" fill="#dc6cbc" stroke="#222" stroke-width="0.45"/>
<rect x="623.15" y="48.50" width="9.90" height="10.80" fill="#c47ac6" stroke="#222" stroke-width="0.45"/>
<rect x="623.15" y="59.30" width="9.90" height="36.40" fill="#9a8ad0" stroke="#222" stroke-width="0.45"/>
<rect x="623.15" y="95.70" width="9.90" height="4.80" fill="#4a96dc" stroke="#222" stroke-width="0.45"/>
<rect x="623.15" y="100.50" width="9.90" height="22.50" fill="#10b4e8" stroke="#222" stroke-width="0.45"/>
<rect x="623.15" y="123.00" width="9.90" height="2.50" fill="#1a5a5a" stroke="#222" stroke-width="0.45"/>
<rect x="623.15" y="125.50" width="9.90" height="3.00" fill="#4eb048" stroke="#222" stroke-width="0.45"/>
<rect x="623.15" y="128.50" width="9.90" height="0.80" fill="#1e4a2a" stroke="#222" stroke-width="0.45"/>
<rect x="623.15" y="129.30" width="9.90" height="5.30" fill="#9ca834" stroke="#222" stroke-width="0.45"/>
<rect x="623.15" y="6.60" width="9.90" height="128.00" fill="none" stroke="#222" stroke-width="0.6"/>
<rect x="638.60" y="6.60" width="9.90" height="1.80" fill="#eda030" stroke="#222" stroke-width="0.45"/>
<rect x="638.60" y="8.40" width="9.90" height="2.10" fill="#f07a6a" stroke="#222" stroke-width="0.45"/>
<rect x="638.60" y="10.50" width="9.90" height="20.90" fill="#f064a6" stroke="#222" stroke-width="0.45"/>
<rect x="638.60" y="31.40" width="9.90" height="26.70" fill="#dc6cbc" stroke="#222" stroke-width="0.45"/>
<rect x="638.60" y="58.10" width="9.90" height="1.90" fill="#c47ac6" stroke="#222" stroke-width="0.45"/>
<rect x="638.60" y="60.00" width="9.90" height="47.50" fill="#9a8ad0" stroke="#222" stroke-width="0.45"/>
<rect x="638.60" y="107.50" width="9.90" height="3.70" fill="#4a96dc" stroke="#222" stroke-width="0.45"/>
<rect x="638.60" y="111.20" width="9.90" height="12.40" fill="#10b4e8" stroke="#222" stroke-width="0.45"/>
<rect x="638.60" y="123.60" width="9.90" height="5.40" fill="#1cb8c2" stroke="#222" stroke-width="0.45"/>
<rect x="638.60" y="129.00" width="9.90" height="2.00" fill="#1a5a5a" stroke="#222" stroke-width="0.45"/>
<rect x="638.60" y="131.00" width="9.90" height="2.00" fill="#4eb048" stroke="#222" stroke-width="0.45"/>
<rect x="638.60" y="133.00" width="9.90" height="1.60" fill="#1e4a2a" stroke="#222" stroke-width="0.45"/>
<rect x="638.60" y="6.60" width="9.90" height="128.00" fill="none" stroke="#222" stroke-width="0.6"/>
<rect x="654.05" y="6.60" width="9.90" height="3.30" fill="#eda030" stroke="#222" stroke-width="0.45"/>
<rect x="654.05" y="9.90" width="9.90" height="3.50" fill="#f07a6a" stroke="#222" stroke-width="0.45"/>
<rect x="654.05" y="13.40" width="9.90" height="15.90" fill="#f064a6" stroke="#222" stroke-width="0.45"/>
<rect x="654.05" y="29.30" width="9.90" height="20.00" fill="#dc6cbc" stroke="#222" stroke-width="0.45"/>
<rect x="654.05" y="49.30" width="9.90" height="1.00" fill="#3a2a30" stroke="#222" stroke-width="0.45"/>
<rect x="654.05" y="50.30" width="9.90" height="33.90" fill="#9a8ad0" stroke="#222" stroke-width="0.45"/>
<rect x="654.05" y="84.20" width="9.90" height="6.80" fill="#4a96dc" stroke="#222" stroke-width="0.45"/>
<rect x="654.05" y="91.00" width="9.90" height="11.50" fill="#10b4e8" stroke="#222" stroke-width="0.45"/>
<rect x="654.05" y="102.50" width="9.90" height="26.50" fill="#1cb8c2" stroke="#222" stroke-width="0.45"/>
<rect x="654.05" y="129.00" width="9.90" height="3.00" fill="#2cb88c" stroke="#222" stroke-width="0.45"/>
<rect x="654.05" y="132.00" width="9.90" height="2.60" fill="#1e4a2a" stroke="#222" stroke-width="0.45"/>
<rect x="654.05" y="6.60" width="9.90" height="128.00" fill="none" stroke="#222" stroke-width="0.6"/>
<text x="614.9" y="29.7" font-size="6.60" fill="#333" text-anchor="middle" transform="rotate(-90.0 614.9 29.7)">10.2</text>
<text x="614.9" y="43.1" font-size="6.60" fill="#333" text-anchor="middle" transform="rotate(-90.0 614.9 43.1)">10.4</text>
<text x="614.9" y="91.2" font-size="6.60" fill="#333" text-anchor="middle" transform="rotate(-90.0 614.9 91.2)">46.2</text>
<text x="630.4" y="37.0" font-size="6.60" fill="#333" text-anchor="middle" transform="rotate(-90.0 630.4 37.0)">17.7</text>
<text x="630.4" y="77.5" font-size="6.60" fill="#333" text-anchor="middle" transform="rotate(-90.0 630.4 77.5)">28.4</text>
<text x="630.4" y="111.8" font-size="6.60" fill="#333" text-anchor="middle" transform="rotate(-90.0 630.4 111.8)">18.0</text>
<text x="645.8" y="44.8" font-size="6.60" fill="#333" text-anchor="middle" transform="rotate(-90.0 645.8 44.8)">21.4</text>
<text x="645.8" y="83.8" font-size="6.60" fill="#333" text-anchor="middle" transform="rotate(-90.0 645.8 83.8)">36.1</text>
<text x="645.8" y="117.4" font-size="6.60" fill="#333" text-anchor="middle" transform="rotate(-90.0 645.8 117.4)">8.9</text>
<text x="661.3" y="39.3" font-size="6.60" fill="#333" text-anchor="middle" transform="rotate(-90.0 661.3 39.3)">15.6</text>
<text x="661.3" y="67.3" font-size="6.60" fill="#333" text-anchor="middle" transform="rotate(-90.0 661.3 67.3)">26.4</text>
<text x="661.3" y="96.8" font-size="6.60" fill="#333" text-anchor="middle" transform="rotate(-90.0 661.3 96.8)">8.3</text>
<line x1="540.50" y1="6.20" x2="540.50" y2="135.00" stroke="#111" stroke-width="1.10" />
<line x1="540.00" y1="134.90" x2="667.50" y2="134.90" stroke="#111" stroke-width="1.10" />
<line x1="535.70" y1="134.60" x2="540.50" y2="134.60" stroke="#111" stroke-width="1.00" />
<line x1="537.50" y1="128.20" x2="540.50" y2="128.20" stroke="#111" stroke-width="1.00" />
<line x1="537.50" y1="121.80" x2="540.50" y2="121.80" stroke="#111" stroke-width="1.00" />
<line x1="537.50" y1="115.40" x2="540.50" y2="115.40" stroke="#111" stroke-width="1.00" />
<line x1="537.50" y1="109.00" x2="540.50" y2="109.00" stroke="#111" stroke-width="1.00" />
<line x1="537.50" y1="102.60" x2="540.50" y2="102.60" stroke="#111" stroke-width="1.00" />
<line x1="537.50" y1="96.20" x2="540.50" y2="96.20" stroke="#111" stroke-width="1.00" />
<line x1="537.50" y1="89.80" x2="540.50" y2="89.80" stroke="#111" stroke-width="1.00" />
<line x1="537.50" y1="83.40" x2="540.50" y2="83.40" stroke="#111" stroke-width="1.00" />
<line x1="537.50" y1="77.00" x2="540.50" y2="77.00" stroke="#111" stroke-width="1.00" />
<line x1="535.70" y1="70.60" x2="540.50" y2="70.60" stroke="#111" stroke-width="1.00" />
<line x1="537.50" y1="64.20" x2="540.50" y2="64.20" stroke="#111" stroke-width="1.00" />
<line x1="537.50" y1="57.80" x2="540.50" y2="57.80" stroke="#111" stroke-width="1.00" />
<line x1="537.50" y1="51.40" x2="540.50" y2="51.40" stroke="#111" stroke-width="1.00" />
<line x1="537.50" y1="45.00" x2="540.50" y2="45.00" stroke="#111" stroke-width="1.00" />
<line x1="537.50" y1="38.60" x2="540.50" y2="38.60" stroke="#111" stroke-width="1.00" />
<line x1="537.50" y1="32.20" x2="540.50" y2="32.20" stroke="#111" stroke-width="1.00" />
<line x1="537.50" y1="25.80" x2="540.50" y2="25.80" stroke="#111" stroke-width="1.00" />
<line x1="537.50" y1="19.40" x2="540.50" y2="19.40" stroke="#111" stroke-width="1.00" />
<line x1="537.50" y1="13.00" x2="540.50" y2="13.00" stroke="#111" stroke-width="1.00" />
<line x1="535.70" y1="6.60" x2="540.50" y2="6.60" stroke="#111" stroke-width="1.00" />
<text x="535.0" y="9.6" font-size="8.80" fill="#222" text-anchor="end">100</text>
<text x="535.0" y="73.6" font-size="8.80" fill="#222" text-anchor="end">50</text>
<text x="535.0" y="137.6" font-size="8.80" fill="#222" text-anchor="end">0</text>
<text x="522.2" y="72.5" font-size="8.40" fill="#222" text-anchor="middle" transform="rotate(-90.0 522.2 72.5)">Composition Percentage</text>
<text x="512.6" y="7.6" font-size="9.50" fill="#111" font-weight="bold">c</text>
<line x1="550.85" y1="135.00" x2="550.85" y2="139.20" stroke="#111" stroke-width="0.90" />
<text x="555.6" y="145.2" font-size="8.30" fill="#90c878" text-anchor="end" transform="rotate(-45.0 555.6 145.2)">control Day 3</text>
<line x1="566.30" y1="135.00" x2="566.30" y2="139.20" stroke="#111" stroke-width="0.90" />
<text x="571.1" y="145.2" font-size="8.30" fill="#3c6a3c" text-anchor="end" transform="rotate(-45.0 571.1 145.2)">control Day 7</text>
<line x1="581.75" y1="135.00" x2="581.75" y2="139.20" stroke="#111" stroke-width="0.90" />
<text x="586.5" y="145.2" font-size="8.30" fill="#6cc4dc" text-anchor="end" transform="rotate(-45.0 586.5 145.2)">control Week 2</text>
<line x1="597.20" y1="135.00" x2="597.20" y2="139.20" stroke="#111" stroke-width="0.90" />
<text x="602.0" y="145.2" font-size="8.30" fill="#84a87c" text-anchor="end" transform="rotate(-45.0 602.0 145.2)">control Week 4</text>
<line x1="612.65" y1="135.00" x2="612.65" y2="139.20" stroke="#111" stroke-width="0.90" />
<text x="617.4" y="145.2" font-size="8.30" fill="#e0bc40" text-anchor="end" transform="rotate(-45.0 617.4 145.2)">SEG Day 3</text>
<line x1="628.10" y1="135.00" x2="628.10" y2="139.20" stroke="#111" stroke-width="0.90" />
<text x="632.9" y="145.2" font-size="8.30" fill="#d090d0" text-anchor="end" transform="rotate(-45.0 632.9 145.2)">SEG Day 7</text>
<line x1="643.55" y1="135.00" x2="643.55" y2="139.20" stroke="#111" stroke-width="0.90" />
<text x="648.3" y="145.2" font-size="8.30" fill="#c03030" text-anchor="end" transform="rotate(-45.0 648.3 145.2)">SEG Week 2</text>
<line x1="659.00" y1="135.00" x2="659.00" y2="139.20" stroke="#111" stroke-width="0.90" />
<text x="663.8" y="145.2" font-size="8.30" fill="#e8a870" text-anchor="end" transform="rotate(-45.0 663.8 145.2)">SEG Week 4</text>
<g transform="matrix(0.64029,0,0,0.71450,-148.837,195.156)" filter="url(#rough)">
<use href="#u_bridge" fill="#d3d3d3" />
<use href="#u_sal1" fill="#d3d3d3" />
<use href="#u_sal2" fill="#d3d3d3" />
<use href="#u_sal3" fill="#d3d3d3" />
<use href="#u_top" fill="#d3d3d3" />
<use href="#u_lu" fill="#d3d3d3" />
<use href="#u_link" fill="#d3d3d3" />
<use href="#u_ll" fill="#d3d3d3" />
<use href="#u_cu" fill="#d3d3d3" />
<use href="#u_bl" fill="#d3d3d3" />
<use href="#u_tr" fill="#d3d3d3" />
<use href="#u_tr_p" fill="#d3d3d3" />
<use href="#u_strand" fill="#d3d3d3" />
<use href="#u_gold" fill="#d3d3d3" />
<use href="#u_rb" fill="#d3d3d3" />
<use href="#u_conn" fill="#d3d3d3" opacity="0.7"/>
<use href="#u_bot" fill="#d3d3d3" />
<use href="#u_sr" fill="#d3d3d3" />
<use href="#u_notch" fill="#fff" />
<use href="#u_top" fill="url(#pd_red3)" />
<use href="#u_top" fill="url(#pd_red3b)" />
<use href="#u_lu" fill="url(#pd_red6)" />
<use href="#u_lu" fill="url(#pd_red6b)" />
<use href="#u_link" fill="url(#pd_red3)" />
<use href="#u_link" fill="url(#pd_red3b)" />
<use href="#u_ll" fill="url(#pd_red1)" />
<use href="#u_ll" fill="url(#pd_red1b)" />
<use href="#u_cu" fill="url(#pd_red2)" />
<use href="#u_cu" fill="url(#pd_red2b)" />
<use href="#u_bl" fill="url(#pd_red1)" />
<use href="#u_bl" fill="url(#pd_red1b)" />
<use href="#u_tr" fill="url(#pd_red4)" />
<use href="#u_tr" fill="url(#pd_red4b)" />
<use href="#u_tr_g" fill="#d3d3d3" clip-path="url(#c_tr)"/>
<use href="#u_tr_g" fill="url(#pd_red5)"  clip-path="url(#c_tr)"/>
<use href="#u_tr_g" fill="url(#pd_red5b)"  clip-path="url(#c_tr)"/>
<use href="#u_tr_p" fill="#d3d3d3" />
<use href="#u_tr_p" fill="url(#pd_red5)" />
<use href="#u_tr_p" fill="url(#pd_red5b)" />
<use href="#u_gold" fill="url(#pd_red6)" />
<use href="#u_gold" fill="url(#pd_red6b)" />
<use href="#u_rb" fill="url(#pd_red6)" />
<use href="#u_rb" fill="url(#pd_red6b)" />
<use href="#u_conn" fill="url(#pd_red3)" />
<use href="#u_conn" fill="url(#pd_red3b)" />
<use href="#u_bot" fill="url(#pd_red0)" />
<use href="#u_bot" fill="url(#pd_red0b)" />
<use href="#u_sr" fill="url(#pd_red0)" />
<use href="#u_sr" fill="url(#pd_red0b)" />
<use href="#u_strand" fill="url(#pd_red6)" />
<use href="#u_strand" fill="url(#pd_red6b)" />
<use href="#u_bridge" fill="url(#pd_red5)" />
<use href="#u_bridge" fill="url(#pd_red5b)" />
<use href="#u_notch" fill="#fff" />
<rect x="341.7" y="73.7" width="1.0" height="1.0" fill="#d3d3d3"/>
<rect x="340.1" y="78.0" width="1.0" height="1.0" fill="#d3d3d3"/>
<rect x="348.6" y="78.4" width="1.0" height="1.0" fill="#d3d3d3"/>
<rect x="348.4" y="72.0" width="1.0" height="1.0" fill="#d88070"/>
<rect x="336.8" y="74.4" width="1.0" height="1.0" fill="#d3d3d3"/>
<rect x="337.1" y="68.3" width="1.0" height="1.0" fill="#d88070"/>
<rect x="347.3" y="75.6" width="1.0" height="1.0" fill="#d88070"/>
<rect x="345.9" y="67.8" width="1.0" height="1.0" fill="#d3d3d3"/>
<rect x="341.4" y="74.6" width="1.0" height="1.0" fill="#d3d3d3"/>
<rect x="346.7" y="68.4" width="1.0" height="1.0" fill="#d3d3d3"/>
<rect x="348.9" y="79.8" width="1.0" height="1.0" fill="#d3d3d3"/>
<rect x="344.7" y="65.1" width="1.0" height="1.0" fill="#d3d3d3"/>
<rect x="345.1" y="71.7" width="1.0" height="1.0" fill="#d3d3d3"/>
<rect x="332.1" y="71.9" width="1.0" height="1.0" fill="#d3d3d3"/>
<rect x="341.4" y="69.6" width="1.0" height="1.0" fill="#d3d3d3"/>
<rect x="346.9" y="69.2" width="1.0" height="1.0" fill="#d3d3d3"/>
<rect x="333.1" y="64.6" width="1.0" height="1.0" fill="#d3d3d3"/>
<rect x="332.1" y="70.0" width="1.0" height="1.0" fill="#d3d3d3"/>
<rect x="335.4" y="66.3" width="1.0" height="1.0" fill="#d88070"/>
<rect x="339.8" y="71.0" width="1.0" height="1.0" fill="#d3d3d3"/>
<rect x="342.0" y="70.7" width="1.0" height="1.0" fill="#d3d3d3"/>
<rect x="340.3" y="63.2" width="1.0" height="1.0" fill="#d88070"/>
<rect x="356.0" y="54.0" width="1.0" height="1.0" fill="#d3d3d3"/>
<rect x="358.3" y="44.4" width="1.0" height="1.0" fill="#d88070"/>
<rect x="358.8" y="55.7" width="1.0" height="1.0" fill="#d3d3d3"/>
<rect x="360.3" y="53.1" width="1.0" height="1.0" fill="#d88070"/>
<rect x="353.3" y="41.6" width="1.0" height="1.0" fill="#d3d3d3"/>
<rect x="356.7" y="47.6" width="1.0" height="1.0" fill="#d88070"/>
<rect x="355.1" y="55.8" width="1.0" height="1.0" fill="#d88070"/>
<rect x="356.1" y="53.7" width="1.0" height="1.0" fill="#d3d3d3"/>
<rect x="359.4" y="45.8" width="1.0" height="1.0" fill="#d3d3d3"/>
<rect x="360.7" y="56.5" width="1.0" height="1.0" fill="#d3d3d3"/>
<rect x="358.0" y="45.2" width="1.0" height="1.0" fill="#d3d3d3"/>
<rect x="359.1" y="57.4" width="1.0" height="1.0" fill="#d88070"/>
<rect x="311.2" y="65.1" width="1.0" height="1.0" fill="#d3d3d3"/>
<rect x="315.0" y="62.9" width="1.0" height="1.0" fill="#d3d3d3"/>
<rect x="316.2" y="63.3" width="1.0" height="1.0" fill="#d3d3d3"/>
<rect x="308.7" y="57.9" width="1.0" height="1.0" fill="#d3d3d3"/>
<rect x="316.2" y="57.8" width="1.0" height="1.0" fill="#d3d3d3"/>
<rect x="308.4" y="58.9" width="1.0" height="1.0" fill="#d3d3d3"/>
<rect x="306.8" y="63.8" width="1.0" height="1.0" fill="#d3d3d3"/>
<rect x="312.9" y="67.0" width="1.0" height="1.0" fill="#d3d3d3"/>
<rect x="306.1" y="66.4" width="1.0" height="1.0" fill="#d88070"/>
<rect x="306.3" y="57.9" width="1.0" height="1.0" fill="#d3d3d3"/>
<rect x="294.0" y="58.0" width="1.0" height="1.0" fill="#d3d3d3"/>
<rect x="297.7" y="53.1" width="1.0" height="1.0" fill="#d3d3d3"/>
<rect x="292.7" y="51.8" width="1.0" height="1.0" fill="#d88070"/>
<rect x="298.5" y="59.7" width="1.0" height="1.0" fill="#d3d3d3"/>
<rect x="297.9" y="55.5" width="1.0" height="1.0" fill="#d3d3d3"/>
<rect x="295.8" y="53.9" width="1.0" height="1.0" fill="#d3d3d3"/>
<rect x="296.9" y="51.9" width="1.0" height="1.0" fill="#d88070"/>
<rect x="294.5" y="55.0" width="1.0" height="1.0" fill="#d3d3d3"/>
<rect x="347.5" y="83.2" width="1.0" height="1.0" fill="#d3d3d3"/>
<rect x="326.8" y="81.0" width="1.0" height="1.0" fill="#d3d3d3"/>
<rect x="322.7" y="82.9" width="1.0" height="1.0" fill="#d88070"/>
<rect x="333.6" y="83.8" width="1.0" height="1.0" fill="#d3d3d3"/>
<rect x="318.2" y="80.1" width="1.0" height="1.0" fill="#d3d3d3"/>
<rect x="329.5" y="82.2" width="1.0" height="1.0" fill="#d3d3d3"/>
<rect x="326.1" y="83.7" width="1.0" height="1.0" fill="#d3d3d3"/>
<rect x="334.9" y="83.6" width="1.0" height="1.0" fill="#d3d3d3"/>
<rect x="350.6" y="81.6" width="1.0" height="1.0" fill="#d3d3d3"/>
<rect x="327.7" y="82.4" width="1.0" height="1.0" fill="#d3d3d3"/>
<rect x="329.8" y="80.7" width="1.0" height="1.0" fill="#d3d3d3"/>
<rect x="339.9" y="85.7" width="1.0" height="1.0" fill="#d3d3d3"/>
<rect x="326.2" y="82.3" width="1.0" height="1.0" fill="#d3d3d3"/>
<rect x="340.9" y="80.8" width="1.0" height="1.0" fill="#d3d3d3"/>
<rect x="353.7" y="31.9" width="1.0" height="1.0" fill="#d3d3d3"/>
<rect x="354.3" y="33.0" width="1.0" height="1.0" fill="#d3d3d3"/>
<rect x="354.6" y="36.2" width="1.0" height="1.0" fill="#d3d3d3"/>
<rect x="348.1" y="31.8" width="1.0" height="1.0" fill="#d3d3d3"/>
<rect x="351.9" y="30.3" width="1.0" height="1.0" fill="#d88070"/>
<rect x="353.8" y="32.4" width="1.0" height="1.0" fill="#d88070"/>
<rect x="391.3" y="55.0" width="1.0" height="1.0" fill="#d88070"/>
<rect x="374.3" y="53.7" width="1.0" height="1.0" fill="#d3d3d3"/>
<rect x="373.2" y="53.5" width="1.0" height="1.0" fill="#d3d3d3"/>
<rect x="381.0" y="53.4" width="1.0" height="1.0" fill="#d88070"/>
<rect x="373.8" y="53.9" width="1.0" height="1.0" fill="#d3d3d3"/>
<rect x="390.9" y="55.3" width="1.0" height="1.0" fill="#d3d3d3"/>
<rect x="390.3" y="56.6" width="1.0" height="1.0" fill="#d3d3d3"/>
<rect x="387.7" y="55.2" width="1.0" height="1.0" fill="#d3d3d3"/>
</g>
<line x1="33.30" y1="196.60" x2="33.30" y2="301.30" stroke="#444" stroke-width="0.70" />
<line x1="33.30" y1="301.30" x2="126.30" y2="301.30" stroke="#444" stroke-width="0.70" />
<line x1="31.70" y1="197.20" x2="33.30" y2="197.20" stroke="#333" stroke-width="0.70" />
<text x="31.0" y="198.4" font-size="3.40" fill="#555" text-anchor="end">10</text>
<line x1="31.70" y1="220.90" x2="33.30" y2="220.90" stroke="#333" stroke-width="0.70" />
<text x="31.0" y="222.1" font-size="3.40" fill="#555" text-anchor="end">5</text>
<line x1="31.70" y1="244.60" x2="33.30" y2="244.60" stroke="#333" stroke-width="0.70" />
<text x="31.0" y="245.8" font-size="3.40" fill="#555" text-anchor="end">0</text>
<line x1="31.70" y1="268.50" x2="33.30" y2="268.50" stroke="#333" stroke-width="0.70" />
<text x="31.0" y="269.7" font-size="3.40" fill="#555" text-anchor="end">-5</text>
<line x1="31.70" y1="291.80" x2="33.30" y2="291.80" stroke="#333" stroke-width="0.70" />
<text x="31.0" y="293.0" font-size="3.40" fill="#555" text-anchor="end">-10</text>
<line x1="54.80" y1="301.30" x2="54.80" y2="302.90" stroke="#333" stroke-width="0.70" />
<text x="54.8" y="306.2" font-size="3.40" fill="#555" text-anchor="middle">-5</text>
<line x1="76.80" y1="301.30" x2="76.80" y2="302.90" stroke="#333" stroke-width="0.70" />
<text x="76.8" y="306.2" font-size="3.40" fill="#555" text-anchor="middle">0</text>
<line x1="99.10" y1="301.30" x2="99.10" y2="302.90" stroke="#333" stroke-width="0.70" />
<text x="99.1" y="306.2" font-size="3.40" fill="#555" text-anchor="middle">5</text>
<line x1="121.60" y1="301.30" x2="121.60" y2="302.90" stroke="#333" stroke-width="0.70" />
<text x="121.6" y="306.2" font-size="3.40" fill="#555" text-anchor="middle">10</text>
<text x="81.8" y="191.4" font-size="8.60" fill="#222" text-anchor="middle" font-style="italic">Thy1</text>
<text x="78.9" y="311.8" font-size="8.00" fill="#333" text-anchor="middle">UMAP1</text>
<text x="28.1" y="248.7" font-size="8.00" fill="#333" text-anchor="middle" transform="rotate(-90.0 28.1 248.7)">UMAP2</text>
<rect x="129.20" y="240.80" width="4.00" height="18.80" fill="url(#g_feat)" />
<text x="133.5" y="242.8" font-size="6.70" fill="#333" font-style="italic">max</text>
<text x="133.5" y="260.6" font-size="6.70" fill="#333" font-style="italic">min</text>
<g transform="matrix(0.64029,0,0,0.71450,-19.487,195.156)" filter="url(#rough)">
<use href="#u_bridge" fill="#d3d3d3" />
<use href="#u_sal1" fill="#d3d3d3" />
<use href="#u_sal2" fill="#d3d3d3" />
<use href="#u_sal3" fill="#d3d3d3" />
<use href="#u_top" fill="#d3d3d3" />
<use href="#u_lu" fill="#d3d3d3" />
<use href="#u_link" fill="#d3d3d3" />
<use href="#u_ll" fill="#d3d3d3" />
<use href="#u_cu" fill="#d3d3d3" />
<use href="#u_bl" fill="#d3d3d3" />
<use href="#u_tr" fill="#d3d3d3" />
<use href="#u_tr_p" fill="#d3d3d3" />
<use href="#u_strand" fill="#d3d3d3" />
<use href="#u_gold" fill="#d3d3d3" />
<use href="#u_rb" fill="#d3d3d3" />
<use href="#u_conn" fill="#d3d3d3" opacity="0.7"/>
<use href="#u_bot" fill="#d3d3d3" />
<use href="#u_sr" fill="#d3d3d3" />
<use href="#u_notch" fill="#fff" />
<use href="#u_top" fill="url(#pd_red5)" />
<use href="#u_top" fill="url(#pd_red5b)" />
<use href="#u_lu" fill="url(#pd_red4)" />
<use href="#u_lu" fill="url(#pd_red4b)" />
<use href="#u_link" fill="url(#pd_red2)" />
<use href="#u_link" fill="url(#pd_red2b)" />
<use href="#u_ll" fill="url(#pd_red2)" />
<use href="#u_ll" fill="url(#pd_red2b)" />
<use href="#u_cu" fill="url(#pd_red0)" />
<use href="#u_cu" fill="url(#pd_red0b)" />
<use href="#u_bl" fill="url(#pd_red0)" />
<use href="#u_bl" fill="url(#pd_red0b)" />
<use href="#u_tr" fill="url(#pd_red8)" />
<use href="#u_tr" fill="url(#pd_red8b)" />
<use href="#u_tr_g" fill="#d3d3d3" clip-path="url(#c_tr)"/>
<use href="#u_tr_g" fill="url(#pd_red5)"  clip-path="url(#c_tr)"/>
<use href="#u_tr_g" fill="url(#pd_red5b)"  clip-path="url(#c_tr)"/>
<use href="#u_tr_p" fill="#d3d3d3" />
<use href="#u_tr_p" fill="url(#pd_red5)" />
<use href="#u_tr_p" fill="url(#pd_red5b)" />
<use href="#u_gold" fill="url(#pd_red5)" />
<use href="#u_gold" fill="url(#pd_red5b)" />
<use href="#u_rb" fill="url(#pd_red4)" />
<use href="#u_rb" fill="url(#pd_red4b)" />
<use href="#u_conn" fill="url(#pd_red2)" />
<use href="#u_conn" fill="url(#pd_red2b)" />
<use href="#u_bot" fill="url(#pd_red2)" />
<use href="#u_bot" fill="url(#pd_red2b)" />
<use href="#u_sr" fill="url(#pd_red0)" />
<use href="#u_sr" fill="url(#pd_red0b)" />
<use href="#u_strand" fill="url(#pd_red5)" />
<use href="#u_strand" fill="url(#pd_red5b)" />
<use href="#u_bridge" fill="url(#pd_red4)" />
<use href="#u_bridge" fill="url(#pd_red4b)" />
<use href="#u_notch" fill="#fff" />
<rect x="341.7" y="73.7" width="1.0" height="1.0" fill="#d3d3d3"/>
<rect x="340.1" y="78.0" width="1.0" height="1.0" fill="#d3d3d3"/>
<rect x="348.6" y="78.4" width="1.0" height="1.0" fill="#d3d3d3"/>
<rect x="348.4" y="72.0" width="1.0" height="1.0" fill="#d88070"/>
<rect x="336.8" y="74.4" width="1.0" height="1.0" fill="#d3d3d3"/>
<rect x="337.1" y="68.3" width="1.0" height="1.0" fill="#d88070"/>
<rect x="347.3" y="75.6" width="1.0" height="1.0" fill="#d88070"/>
<rect x="345.9" y="67.8" width="1.0" height="1.0" fill="#d3d3d3"/>
<rect x="341.4" y="74.6" width="1.0" height="1.0" fill="#d3d3d3"/>
<rect x="346.7" y="68.4" width="1.0" height="1.0" fill="#d3d3d3"/>
<rect x="348.9" y="79.8" width="1.0" height="1.0" fill="#d3d3d3"/>
<rect x="344.7" y="65.1" width="1.0" height="1.0" fill="#d3d3d3"/>
<rect x="345.1" y="71.7" width="1.0" height="1.0" fill="#d3d3d3"/>
<rect x="332.1" y="71.9" width="1.0" height="1.0" fill="#d3d3d3"/>
<rect x="341.4" y="69.6" width="1.0" height="1.0" fill="#d3d3d3"/>
<rect x="346.9" y="69.2" width="1.0" height="1.0" fill="#d3d3d3"/>
<rect x="333.1" y="64.6" width="1.0" height="1.0" fill="#d3d3d3"/>
<rect x="332.1" y="70.0" width="1.0" height="1.0" fill="#d3d3d3"/>
<rect x="335.4" y="66.3" width="1.0" height="1.0" fill="#d88070"/>
<rect x="339.8" y="71.0" width="1.0" height="1.0" fill="#d3d3d3"/>
<rect x="342.0" y="70.7" width="1.0" height="1.0" fill="#d3d3d3"/>
<rect x="340.3" y="63.2" width="1.0" height="1.0" fill="#d88070"/>
<rect x="356.0" y="54.0" width="1.0" height="1.0" fill="#d3d3d3"/>
<rect x="358.3" y="44.4" width="1.0" height="1.0" fill="#d88070"/>
<rect x="358.8" y="55.7" width="1.0" height="1.0" fill="#d3d3d3"/>
<rect x="360.3" y="53.1" width="1.0" height="1.0" fill="#d88070"/>
<rect x="353.3" y="41.6" width="1.0" height="1.0" fill="#d3d3d3"/>
<rect x="356.7" y="47.6" width="1.0" height="1.0" fill="#d88070"/>
<rect x="355.1" y="55.8" width="1.0" height="1.0" fill="#d88070"/>
<rect x="356.1" y="53.7" width="1.0" height="1.0" fill="#d3d3d3"/>
<rect x="359.4" y="45.8" width="1.0" height="1.0" fill="#d3d3d3"/>
<rect x="360.7" y="56.5" width="1.0" height="1.0" fill="#d3d3d3"/>
<rect x="358.0" y="45.2" width="1.0" height="1.0" fill="#d3d3d3"/>
<rect x="359.1" y="57.4" width="1.0" height="1.0" fill="#d88070"/>
<rect x="311.2" y="65.1" width="1.0" height="1.0" fill="#d3d3d3"/>
<rect x="315.0" y="62.9" width="1.0" height="1.0" fill="#d3d3d3"/>
<rect x="316.2" y="63.3" width="1.0" height="1.0" fill="#d3d3d3"/>
<rect x="308.7" y="57.9" width="1.0" height="1.0" fill="#d3d3d3"/>
<rect x="316.2" y="57.8" width="1.0" height="1.0" fill="#d3d3d3"/>
<rect x="308.4" y="58.9" width="1.0" height="1.0" fill="#d3d3d3"/>
<rect x="306.8" y="63.8" width="1.0" height="1.0" fill="#d3d3d3"/>
<rect x="312.9" y="67.0" width="1.0" height="1.0" fill="#d3d3d3"/>
<rect x="306.1" y="66.4" width="1.0" height="1.0" fill="#d88070"/>
<rect x="306.3" y="57.9" width="1.0" height="1.0" fill="#d3d3d3"/>
<rect x="294.0" y="58.0" width="1.0" height="1.0" fill="#d3d3d3"/>
<rect x="297.7" y="53.1" width="1.0" height="1.0" fill="#d3d3d3"/>
<rect x="292.7" y="51.8" width="1.0" height="1.0" fill="#d88070"/>
<rect x="298.5" y="59.7" width="1.0" height="1.0" fill="#d3d3d3"/>
<rect x="297.9" y="55.5" width="1.0" height="1.0" fill="#d3d3d3"/>
<rect x="295.8" y="53.9" width="1.0" height="1.0" fill="#d3d3d3"/>
<rect x="296.9" y="51.9" width="1.0" height="1.0" fill="#d88070"/>
<rect x="294.5" y="55.0" width="1.0" height="1.0" fill="#d3d3d3"/>
<rect x="347.5" y="83.2" width="1.0" height="1.0" fill="#d3d3d3"/>
<rect x="326.8" y="81.0" width="1.0" height="1.0" fill="#d3d3d3"/>
<rect x="322.7" y="82.9" width="1.0" height="1.0" fill="#d88070"/>
<rect x="333.6" y="83.8" width="1.0" height="1.0" fill="#d3d3d3"/>
<rect x="318.2" y="80.1" width="1.0" height="1.0" fill="#d3d3d3"/>
<rect x="329.5" y="82.2" width="1.0" height="1.0" fill="#d3d3d3"/>
<rect x="326.1" y="83.7" width="1.0" height="1.0" fill="#d3d3d3"/>
<rect x="334.9" y="83.6" width="1.0" height="1.0" fill="#d3d3d3"/>
<rect x="350.6" y="81.6" width="1.0" height="1.0" fill="#d3d3d3"/>
<rect x="327.7" y="82.4" width="1.0" height="1.0" fill="#d3d3d3"/>
<rect x="329.8" y="80.7" width="1.0" height="1.0" fill="#d3d3d3"/>
<rect x="339.9" y="85.7" width="1.0" height="1.0" fill="#d3d3d3"/>
<rect x="326.2" y="82.3" width="1.0" height="1.0" fill="#d3d3d3"/>
<rect x="340.9" y="80.8" width="1.0" height="1.0" fill="#d3d3d3"/>
<rect x="353.7" y="31.9" width="1.0" height="1.0" fill="#d3d3d3"/>
<rect x="354.3" y="33.0" width="1.0" height="1.0" fill="#d3d3d3"/>
<rect x="354.6" y="36.2" width="1.0" height="1.0" fill="#d3d3d3"/>
<rect x="348.1" y="31.8" width="1.0" height="1.0" fill="#d3d3d3"/>
<rect x="351.9" y="30.3" width="1.0" height="1.0" fill="#d88070"/>
<rect x="353.8" y="32.4" width="1.0" height="1.0" fill="#d88070"/>
<rect x="391.3" y="55.0" width="1.0" height="1.0" fill="#d88070"/>
<rect x="374.3" y="53.7" width="1.0" height="1.0" fill="#d3d3d3"/>
<rect x="373.2" y="53.5" width="1.0" height="1.0" fill="#d3d3d3"/>
<rect x="381.0" y="53.4" width="1.0" height="1.0" fill="#d88070"/>
<rect x="373.8" y="53.9" width="1.0" height="1.0" fill="#d3d3d3"/>
<rect x="390.9" y="55.3" width="1.0" height="1.0" fill="#d3d3d3"/>
<rect x="390.3" y="56.6" width="1.0" height="1.0" fill="#d3d3d3"/>
<rect x="387.7" y="55.2" width="1.0" height="1.0" fill="#d3d3d3"/>
</g>
<line x1="162.65" y1="196.60" x2="162.65" y2="301.30" stroke="#444" stroke-width="0.70" />
<line x1="162.65" y1="301.30" x2="255.65" y2="301.30" stroke="#444" stroke-width="0.70" />
<line x1="161.05" y1="197.20" x2="162.65" y2="197.20" stroke="#333" stroke-width="0.70" />
<text x="160.3" y="198.4" font-size="3.40" fill="#555" text-anchor="end">10</text>
<line x1="161.05" y1="220.90" x2="162.65" y2="220.90" stroke="#333" stroke-width="0.70" />
<text x="160.3" y="222.1" font-size="3.40" fill="#555" text-anchor="end">5</text>
<line x1="161.05" y1="244.60" x2="162.65" y2="244.60" stroke="#333" stroke-width="0.70" />
<text x="160.3" y="245.8" font-size="3.40" fill="#555" text-anchor="end">0</text>
<line x1="161.05" y1="268.50" x2="162.65" y2="268.50" stroke="#333" stroke-width="0.70" />
<text x="160.3" y="269.7" font-size="3.40" fill="#555" text-anchor="end">-5</text>
<line x1="161.05" y1="291.80" x2="162.65" y2="291.80" stroke="#333" stroke-width="0.70" />
<text x="160.3" y="293.0" font-size="3.40" fill="#555" text-anchor="end">-10</text>
<line x1="184.15" y1="301.30" x2="184.15" y2="302.90" stroke="#333" stroke-width="0.70" />
<text x="184.1" y="306.2" font-size="3.40" fill="#555" text-anchor="middle">-5</text>
<line x1="206.15" y1="301.30" x2="206.15" y2="302.90" stroke="#333" stroke-width="0.70" />
<text x="206.1" y="306.2" font-size="3.40" fill="#555" text-anchor="middle">0</text>
<line x1="228.45" y1="301.30" x2="228.45" y2="302.90" stroke="#333" stroke-width="0.70" />
<text x="228.4" y="306.2" font-size="3.40" fill="#555" text-anchor="middle">5</text>
<line x1="250.95" y1="301.30" x2="250.95" y2="302.90" stroke="#333" stroke-width="0.70" />
<text x="250.9" y="306.2" font-size="3.40" fill="#555" text-anchor="middle">10</text>
<text x="211.1" y="191.4" font-size="8.60" fill="#222" text-anchor="middle" font-style="italic">Tcf21</text>
<text x="208.2" y="311.8" font-size="8.00" fill="#333" text-anchor="middle">UMAP1</text>
<text x="157.4" y="248.7" font-size="8.00" fill="#333" text-anchor="middle" transform="rotate(-90.0 157.4 248.7)">UMAP2</text>
<rect x="258.55" y="240.80" width="4.00" height="18.80" fill="url(#g_feat)" />
<text x="262.8" y="242.8" font-size="6.70" fill="#333" font-style="italic">max</text>
<text x="262.8" y="260.6" font-size="6.70" fill="#333" font-style="italic">min</text>
<g transform="matrix(0.64029,0,0,0.71450,109.863,195.156)" filter="url(#rough)">
<use href="#u_bridge" fill="#d3d3d3" />
<use href="#u_sal1" fill="#d3d3d3" />
<use href="#u_sal2" fill="#d3d3d3" />
<use href="#u_sal3" fill="#d3d3d3" />
<use href="#u_top" fill="#d3d3d3" />
<use href="#u_lu" fill="#d3d3d3" />
<use href="#u_link" fill="#d3d3d3" />
<use href="#u_ll" fill="#d3d3d3" />
<use href="#u_cu" fill="#d3d3d3" />
<use href="#u_bl" fill="#d3d3d3" />
<use href="#u_tr" fill="#d3d3d3" />
<use href="#u_tr_p" fill="#d3d3d3" />
<use href="#u_strand" fill="#d3d3d3" />
<use href="#u_gold" fill="#d3d3d3" />
<use href="#u_rb" fill="#d3d3d3" />
<use href="#u_conn" fill="#d3d3d3" opacity="0.7"/>
<use href="#u_bot" fill="#d3d3d3" />
<use href="#u_sr" fill="#d3d3d3" />
<use href="#u_notch" fill="#fff" />
<use href="#u_top" fill="url(#pd_red0)" />
<use href="#u_top" fill="url(#pd_red0b)" />
<use href="#u_lu" fill="url(#pd_red0)" />
<use href="#u_lu" fill="url(#pd_red0b)" />
<use href="#u_link" fill="url(#pd_red4)" />
<use href="#u_link" fill="url(#pd_red4b)" />
<use href="#u_ll" fill="url(#pd_red9)" />
<use href="#u_ll" fill="url(#pd_red9b)" />
<use href="#u_cu" fill="url(#pd_red1)" />
<use href="#u_cu" fill="url(#pd_red1b)" />
<use href="#u_bl" fill="url(#pd_red6)" />
<use href="#u_bl" fill="url(#pd_red6b)" />
<use href="#u_tr" fill="url(#pd_red1)" />
<use href="#u_tr" fill="url(#pd_red1b)" />
<use href="#u_gold" fill="url(#pd_red1)" />
<use href="#u_gold" fill="url(#pd_red1b)" />
<use href="#u_rb" fill="url(#pd_red2)" />
<use href="#u_rb" fill="url(#pd_red2b)" />
<use href="#u_conn" fill="url(#pd_red7)" />
<use href="#u_conn" fill="url(#pd_red7b)" />
<use href="#u_bot" fill="url(#pd_red10)" />
<use href="#u_bot" fill="url(#pd_red10b)" />
<use href="#u_sr" fill="url(#pd_red0)" />
<use href="#u_sr" fill="url(#pd_red0b)" />
<use href="#u_strand" fill="url(#pd_red1)" />
<use href="#u_strand" fill="url(#pd_red1b)" />
<use href="#u_bridge" fill="url(#pd_red0)" />
<use href="#u_bridge" fill="url(#pd_red0b)" />
<use href="#u_notch" fill="#fff" />
<rect x="341.7" y="73.7" width="1.0" height="1.0" fill="#d3d3d3"/>
<rect x="340.1" y="78.0" width="1.0" height="1.0" fill="#d3d3d3"/>
<rect x="348.6" y="78.4" width="1.0" height="1.0" fill="#d3d3d3"/>
<rect x="348.4" y="72.0" width="1.0" height="1.0" fill="#d88070"/>
<rect x="336.8" y="74.4" width="1.0" height="1.0" fill="#d3d3d3"/>
<rect x="337.1" y="68.3" width="1.0" height="1.0" fill="#d88070"/>
<rect x="347.3" y="75.6" width="1.0" height="1.0" fill="#d88070"/>
<rect x="345.9" y="67.8" width="1.0" height="1.0" fill="#d3d3d3"/>
<rect x="341.4" y="74.6" width="1.0" height="1.0" fill="#d3d3d3"/>
<rect x="346.7" y="68.4" width="1.0" height="1.0" fill="#d3d3d3"/>
<rect x="348.9" y="79.8" width="1.0" height="1.0" fill="#d3d3d3"/>
<rect x="344.7" y="65.1" width="1.0" height="1.0" fill="#d3d3d3"/>
<rect x="345.1" y="71.7" width="1.0" height="1.0" fill="#d3d3d3"/>
<rect x="332.1" y="71.9" width="1.0" height="1.0" fill="#d3d3d3"/>
<rect x="341.4" y="69.6" width="1.0" height="1.0" fill="#d3d3d3"/>
<rect x="346.9" y="69.2" width="1.0" height="1.0" fill="#d3d3d3"/>
<rect x="333.1" y="64.6" width="1.0" height="1.0" fill="#d3d3d3"/>
<rect x="332.1" y="70.0" width="1.0" height="1.0" fill="#d3d3d3"/>
<rect x="335.4" y="66.3" width="1.0" height="1.0" fill="#d88070"/>
<rect x="339.8" y="71.0" width="1.0" height="1.0" fill="#d3d3d3"/>
<rect x="342.0" y="70.7" width="1.0" height="1.0" fill="#d3d3d3"/>
<rect x="340.3" y="63.2" width="1.0" height="1.0" fill="#d88070"/>
<rect x="356.0" y="54.0" width="1.0" height="1.0" fill="#d3d3d3"/>
<rect x="358.3" y="44.4" width="1.0" height="1.0" fill="#d88070"/>
<rect x="358.8" y="55.7" width="1.0" height="1.0" fill="#d3d3d3"/>
<rect x="360.3" y="53.1" width="1.0" height="1.0" fill="#d88070"/>
<rect x="353.3" y="41.6" width="1.0" height="1.0" fill="#d3d3d3"/>
<rect x="356.7" y="47.6" width="1.0" height="1.0" fill="#d88070"/>
<rect x="355.1" y="55.8" width="1.0" height="1.0" fill="#d88070"/>
<rect x="356.1" y="53.7" width="1.0" height="1.0" fill="#d3d3d3"/>
<rect x="359.4" y="45.8" width="1.0" height="1.0" fill="#d3d3d3"/>
<rect x="360.7" y="56.5" width="1.0" height="1.0" fill="#d3d3d3"/>
<rect x="358.0" y="45.2" width="1.0" height="1.0" fill="#d3d3d3"/>
<rect x="359.1" y="57.4" width="1.0" height="1.0" fill="#d88070"/>
<rect x="311.2" y="65.1" width="1.0" height="1.0" fill="#d3d3d3"/>
<rect x="315.0" y="62.9" width="1.0" height="1.0" fill="#d3d3d3"/>
<rect x="316.2" y="63.3" width="1.0" height="1.0" fill="#d3d3d3"/>
<rect x="308.7" y="57.9" width="1.0" height="1.0" fill="#d3d3d3"/>
<rect x="316.2" y="57.8" width="1.0" height="1.0" fill="#d3d3d3"/>
<rect x="308.4" y="58.9" width="1.0" height="1.0" fill="#d3d3d3"/>
<rect x="306.8" y="63.8" width="1.0" height="1.0" fill="#d3d3d3"/>
<rect x="312.9" y="67.0" width="1.0" height="1.0" fill="#d3d3d3"/>
<rect x="306.1" y="66.4" width="1.0" height="1.0" fill="#d88070"/>
<rect x="306.3" y="57.9" width="1.0" height="1.0" fill="#d3d3d3"/>
<rect x="294.0" y="58.0" width="1.0" height="1.0" fill="#d3d3d3"/>
<rect x="297.7" y="53.1" width="1.0" height="1.0" fill="#d3d3d3"/>
<rect x="292.7" y="51.8" width="1.0" height="1.0" fill="#d88070"/>
<rect x="298.5" y="59.7" width="1.0" height="1.0" fill="#d3d3d3"/>
<rect x="297.9" y="55.5" width="1.0" height="1.0" fill="#d3d3d3"/>
<rect x="295.8" y="53.9" width="1.0" height="1.0" fill="#d3d3d3"/>
<rect x="296.9" y="51.9" width="1.0" height="1.0" fill="#d88070"/>
<rect x="294.5" y="55.0" width="1.0" height="1.0" fill="#d3d3d3"/>
<rect x="347.5" y="83.2" width="1.0" height="1.0" fill="#d3d3d3"/>
<rect x="326.8" y="81.0" width="1.0" height="1.0" fill="#d3d3d3"/>
<rect x="322.7" y="82.9" width="1.0" height="1.0" fill="#d88070"/>
<rect x="333.6" y="83.8" width="1.0" height="1.0" fill="#d3d3d3"/>
<rect x="318.2" y="80.1" width="1.0" height="1.0" fill="#d3d3d3"/>
<rect x="329.5" y="82.2" width="1.0" height="1.0" fill="#d3d3d3"/>
<rect x="326.1" y="83.7" width="1.0" height="1.0" fill="#d3d3d3"/>
<rect x="334.9" y="83.6" width="1.0" height="1.0" fill="#d3d3d3"/>
<rect x="350.6" y="81.6" width="1.0" height="1.0" fill="#d3d3d3"/>
<rect x="327.7" y="82.4" width="1.0" height="1.0" fill="#d3d3d3"/>
<rect x="329.8" y="80.7" width="1.0" height="1.0" fill="#d3d3d3"/>
<rect x="339.9" y="85.7" width="1.0" height="1.0" fill="#d3d3d3"/>
<rect x="326.2" y="82.3" width="1.0" height="1.0" fill="#d3d3d3"/>
<rect x="340.9" y="80.8" width="1.0" height="1.0" fill="#d3d3d3"/>
<rect x="353.7" y="31.9" width="1.0" height="1.0" fill="#d3d3d3"/>
<rect x="354.3" y="33.0" width="1.0" height="1.0" fill="#d3d3d3"/>
<rect x="354.6" y="36.2" width="1.0" height="1.0" fill="#d3d3d3"/>
<rect x="348.1" y="31.8" width="1.0" height="1.0" fill="#d3d3d3"/>
<rect x="351.9" y="30.3" width="1.0" height="1.0" fill="#d88070"/>
<rect x="353.8" y="32.4" width="1.0" height="1.0" fill="#d88070"/>
<rect x="391.3" y="55.0" width="1.0" height="1.0" fill="#d88070"/>
<rect x="374.3" y="53.7" width="1.0" height="1.0" fill="#d3d3d3"/>
<rect x="373.2" y="53.5" width="1.0" height="1.0" fill="#d3d3d3"/>
<rect x="381.0" y="53.4" width="1.0" height="1.0" fill="#d88070"/>
<rect x="373.8" y="53.9" width="1.0" height="1.0" fill="#d3d3d3"/>
<rect x="390.9" y="55.3" width="1.0" height="1.0" fill="#d3d3d3"/>
<rect x="390.3" y="56.6" width="1.0" height="1.0" fill="#d3d3d3"/>
<rect x="387.7" y="55.2" width="1.0" height="1.0" fill="#d3d3d3"/>
</g>
<line x1="292.00" y1="196.60" x2="292.00" y2="301.30" stroke="#444" stroke-width="0.70" />
<line x1="292.00" y1="301.30" x2="385.00" y2="301.30" stroke="#444" stroke-width="0.70" />
<line x1="290.40" y1="197.20" x2="292.00" y2="197.20" stroke="#333" stroke-width="0.70" />
<text x="289.7" y="198.4" font-size="3.40" fill="#555" text-anchor="end">10</text>
<line x1="290.40" y1="220.90" x2="292.00" y2="220.90" stroke="#333" stroke-width="0.70" />
<text x="289.7" y="222.1" font-size="3.40" fill="#555" text-anchor="end">5</text>
<line x1="290.40" y1="244.60" x2="292.00" y2="244.60" stroke="#333" stroke-width="0.70" />
<text x="289.7" y="245.8" font-size="3.40" fill="#555" text-anchor="end">0</text>
<line x1="290.40" y1="268.50" x2="292.00" y2="268.50" stroke="#333" stroke-width="0.70" />
<text x="289.7" y="269.7" font-size="3.40" fill="#555" text-anchor="end">-5</text>
<line x1="290.40" y1="291.80" x2="292.00" y2="291.80" stroke="#333" stroke-width="0.70" />
<text x="289.7" y="293.0" font-size="3.40" fill="#555" text-anchor="end">-10</text>
<line x1="313.50" y1="301.30" x2="313.50" y2="302.90" stroke="#333" stroke-width="0.70" />
<text x="313.5" y="306.2" font-size="3.40" fill="#555" text-anchor="middle">-5</text>
<line x1="335.50" y1="301.30" x2="335.50" y2="302.90" stroke="#333" stroke-width="0.70" />
<text x="335.5" y="306.2" font-size="3.40" fill="#555" text-anchor="middle">0</text>
<line x1="357.80" y1="301.30" x2="357.80" y2="302.90" stroke="#333" stroke-width="0.70" />
<text x="357.8" y="306.2" font-size="3.40" fill="#555" text-anchor="middle">5</text>
<line x1="380.30" y1="301.30" x2="380.30" y2="302.90" stroke="#333" stroke-width="0.70" />
<text x="380.3" y="306.2" font-size="3.40" fill="#555" text-anchor="middle">10</text>
<text x="340.5" y="191.4" font-size="8.60" fill="#222" text-anchor="middle" font-style="italic">Cdh5</text>
<text x="337.6" y="311.8" font-size="8.00" fill="#333" text-anchor="middle">UMAP1</text>
<text x="286.8" y="248.7" font-size="8.00" fill="#333" text-anchor="middle" transform="rotate(-90.0 286.8 248.7)">UMAP2</text>
<rect x="387.90" y="240.80" width="4.00" height="18.80" fill="url(#g_feat)" />
<text x="392.2" y="242.8" font-size="6.70" fill="#333" font-style="italic">max</text>
<text x="392.2" y="260.6" font-size="6.70" fill="#333" font-style="italic">min</text>
<g transform="matrix(0.64029,0,0,0.71450,239.213,195.156)" filter="url(#rough)">
<use href="#u_bridge" fill="#d3d3d3" />
<use href="#u_sal1" fill="#d3d3d3" />
<use href="#u_sal2" fill="#d3d3d3" />
<use href="#u_sal3" fill="#d3d3d3" />
<use href="#u_top" fill="#d3d3d3" />
<use href="#u_lu" fill="#d3d3d3" />
<use href="#u_link" fill="#d3d3d3" />
<use href="#u_ll" fill="#d3d3d3" />
<use href="#u_cu" fill="#d3d3d3" />
<use href="#u_bl" fill="#d3d3d3" />
<use href="#u_tr" fill="#d3d3d3" />
<use href="#u_tr_p" fill="#d3d3d3" />
<use href="#u_strand" fill="#d3d3d3" />
<use href="#u_gold" fill="#d3d3d3" />
<use href="#u_rb" fill="#d3d3d3" />
<use href="#u_conn" fill="#d3d3d3" opacity="0.7"/>
<use href="#u_bot" fill="#d3d3d3" />
<use href="#u_sr" fill="#d3d3d3" />
<use href="#u_notch" fill="#fff" />
<use href="#u_top" fill="url(#pd_red0)" />
<use href="#u_top" fill="url(#pd_red0b)" />
<use href="#u_lu" fill="url(#pd_red0)" />
<use href="#u_lu" fill="url(#pd_red0b)" />
<use href="#u_link" fill="url(#pd_red3)" />
<use href="#u_link" fill="url(#pd_red3b)" />
<use href="#u_ll" fill="url(#pd_red8)" />
<use href="#u_ll" fill="url(#pd_red8b)" />
<use href="#u_cu" fill="url(#pd_red0)" />
<use href="#u_cu" fill="url(#pd_red0b)" />
<use href="#u_bl" fill="url(#pd_red4)" />
<use href="#u_bl" fill="url(#pd_red4b)" />
<use href="#u_tr" fill="url(#pd_red0)" />
<use href="#u_tr" fill="url(#pd_red0b)" />
<use href="#u_gold" fill="url(#pd_red0)" />
<use href="#u_gold" fill="url(#pd_red0b)" />
<use href="#u_rb" fill="url(#pd_red1)" />
<use href="#u_rb" fill="url(#pd_red1b)" />
<use href="#u_conn" fill="url(#pd_red4)" />
<use href="#u_conn" fill="url(#pd_red4b)" />
<use href="#u_bot" fill="url(#pd_red6)" />
<use href="#u_bot" fill="url(#pd_red6b)" />
<use href="#u_bot_pink" fill="#d3d3d3" clip-path="url(#c_bot)"/>
<use href="#u_bot_pink" fill="url(#pd_red5)"  clip-path="url(#c_bot)"/>
<use href="#u_bot_pink" fill="url(#pd_red5b)"  clip-path="url(#c_bot)"/>
<use href="#u_bot_cyan" fill="#d3d3d3" clip-path="url(#c_bot)"/>
<use href="#u_bot_cyan" fill="url(#pd_red9)"  clip-path="url(#c_bot)"/>
<use href="#u_bot_cyan" fill="url(#pd_red9b)"  clip-path="url(#c_bot)"/>
<use href="#u_sr" fill="url(#pd_red0)" />
<use href="#u_sr" fill="url(#pd_red0b)" />
<use href="#u_strand" fill="url(#pd_red0)" />
<use href="#u_strand" fill="url(#pd_red0b)" />
<use href="#u_bridge" fill="url(#pd_red0)" />
<use href="#u_bridge" fill="url(#pd_red0b)" />
<use href="#u_notch" fill="#fff" />
<rect x="341.7" y="73.7" width="1.0" height="1.0" fill="#d3d3d3"/>
<rect x="340.1" y="78.0" width="1.0" height="1.0" fill="#d3d3d3"/>
<rect x="348.6" y="78.4" width="1.0" height="1.0" fill="#d3d3d3"/>
<rect x="348.4" y="72.0" width="1.0" height="1.0" fill="#d88070"/>
<rect x="336.8" y="74.4" width="1.0" height="1.0" fill="#d3d3d3"/>
<rect x="337.1" y="68.3" width="1.0" height="1.0" fill="#d88070"/>
<rect x="347.3" y="75.6" width="1.0" height="1.0" fill="#d88070"/>
<rect x="345.9" y="67.8" width="1.0" height="1.0" fill="#d3d3d3"/>
<rect x="341.4" y="74.6" width="1.0" height="1.0" fill="#d3d3d3"/>
<rect x="346.7" y="68.4" width="1.0" height="1.0" fill="#d3d3d3"/>
<rect x="348.9" y="79.8" width="1.0" height="1.0" fill="#d3d3d3"/>
<rect x="344.7" y="65.1" width="1.0" height="1.0" fill="#d3d3d3"/>
<rect x="345.1" y="71.7" width="1.0" height="1.0" fill="#d3d3d3"/>
<rect x="332.1" y="71.9" width="1.0" height="1.0" fill="#d3d3d3"/>
<rect x="341.4" y="69.6" width="1.0" height="1.0" fill="#d3d3d3"/>
<rect x="346.9" y="69.2" width="1.0" height="1.0" fill="#d3d3d3"/>
<rect x="333.1" y="64.6" width="1.0" height="1.0" fill="#d3d3d3"/>
<rect x="332.1" y="70.0" width="1.0" height="1.0" fill="#d3d3d3"/>
<rect x="335.4" y="66.3" width="1.0" height="1.0" fill="#d88070"/>
<rect x="339.8" y="71.0" width="1.0" height="1.0" fill="#d3d3d3"/>
<rect x="342.0" y="70.7" width="1.0" height="1.0" fill="#d3d3d3"/>
<rect x="340.3" y="63.2" width="1.0" height="1.0" fill="#d88070"/>
<rect x="356.0" y="54.0" width="1.0" height="1.0" fill="#d3d3d3"/>
<rect x="358.3" y="44.4" width="1.0" height="1.0" fill="#d88070"/>
<rect x="358.8" y="55.7" width="1.0" height="1.0" fill="#d3d3d3"/>
<rect x="360.3" y="53.1" width="1.0" height="1.0" fill="#d88070"/>
<rect x="353.3" y="41.6" width="1.0" height="1.0" fill="#d3d3d3"/>
<rect x="356.7" y="47.6" width="1.0" height="1.0" fill="#d88070"/>
<rect x="355.1" y="55.8" width="1.0" height="1.0" fill="#d88070"/>
<rect x="356.1" y="53.7" width="1.0" height="1.0" fill="#d3d3d3"/>
<rect x="359.4" y="45.8" width="1.0" height="1.0" fill="#d3d3d3"/>
<rect x="360.7" y="56.5" width="1.0" height="1.0" fill="#d3d3d3"/>
<rect x="358.0" y="45.2" width="1.0" height="1.0" fill="#d3d3d3"/>
<rect x="359.1" y="57.4" width="1.0" height="1.0" fill="#d88070"/>
<rect x="311.2" y="65.1" width="1.0" height="1.0" fill="#d3d3d3"/>
<rect x="315.0" y="62.9" width="1.0" height="1.0" fill="#d3d3d3"/>
<rect x="316.2" y="63.3" width="1.0" height="1.0" fill="#d3d3d3"/>
<rect x="308.7" y="57.9" width="1.0" height="1.0" fill="#d3d3d3"/>
<rect x="316.2" y="57.8" width="1.0" height="1.0" fill="#d3d3d3"/>
<rect x="308.4" y="58.9" width="1.0" height="1.0" fill="#d3d3d3"/>
<rect x="306.8" y="63.8" width="1.0" height="1.0" fill="#d3d3d3"/>
<rect x="312.9" y="67.0" width="1.0" height="1.0" fill="#d3d3d3"/>
<rect x="306.1" y="66.4" width="1.0" height="1.0" fill="#d88070"/>
<rect x="306.3" y="57.9" width="1.0" height="1.0" fill="#d3d3d3"/>
<rect x="294.0" y="58.0" width="1.0" height="1.0" fill="#d3d3d3"/>
<rect x="297.7" y="53.1" width="1.0" height="1.0" fill="#d3d3d3"/>
<rect x="292.7" y="51.8" width="1.0" height="1.0" fill="#d88070"/>
<rect x="298.5" y="59.7" width="1.0" height="1.0" fill="#d3d3d3"/>
<rect x="297.9" y="55.5" width="1.0" height="1.0" fill="#d3d3d3"/>
<rect x="295.8" y="53.9" width="1.0" height="1.0" fill="#d3d3d3"/>
<rect x="296.9" y="51.9" width="1.0" height="1.0" fill="#d88070"/>
<rect x="294.5" y="55.0" width="1.0" height="1.0" fill="#d3d3d3"/>
<rect x="347.5" y="83.2" width="1.0" height="1.0" fill="#d3d3d3"/>
<rect x="326.8" y="81.0" width="1.0" height="1.0" fill="#d3d3d3"/>
<rect x="322.7" y="82.9" width="1.0" height="1.0" fill="#d88070"/>
<rect x="333.6" y="83.8" width="1.0" height="1.0" fill="#d3d3d3"/>
<rect x="318.2" y="80.1" width="1.0" height="1.0" fill="#d3d3d3"/>
<rect x="329.5" y="82.2" width="1.0" height="1.0" fill="#d3d3d3"/>
<rect x="326.1" y="83.7" width="1.0" height="1.0" fill="#d3d3d3"/>
<rect x="334.9" y="83.6" width="1.0" height="1.0" fill="#d3d3d3"/>
<rect x="350.6" y="81.6" width="1.0" height="1.0" fill="#d3d3d3"/>
<rect x="327.7" y="82.4" width="1.0" height="1.0" fill="#d3d3d3"/>
<rect x="329.8" y="80.7" width="1.0" height="1.0" fill="#d3d3d3"/>
<rect x="339.9" y="85.7" width="1.0" height="1.0" fill="#d3d3d3"/>
<rect x="326.2" y="82.3" width="1.0" height="1.0" fill="#d3d3d3"/>
<rect x="340.9" y="80.8" width="1.0" height="1.0" fill="#d3d3d3"/>
<rect x="353.7" y="31.9" width="1.0" height="1.0" fill="#d3d3d3"/>
<rect x="354.3" y="33.0" width="1.0" height="1.0" fill="#d3d3d3"/>
<rect x="354.6" y="36.2" width="1.0" height="1.0" fill="#d3d3d3"/>
<rect x="348.1" y="31.8" width="1.0" height="1.0" fill="#d3d3d3"/>
<rect x="351.9" y="30.3" width="1.0" height="1.0" fill="#d88070"/>
<rect x="353.8" y="32.4" width="1.0" height="1.0" fill="#d88070"/>
<rect x="391.3" y="55.0" width="1.0" height="1.0" fill="#d88070"/>
<rect x="374.3" y="53.7" width="1.0" height="1.0" fill="#d3d3d3"/>
<rect x="373.2" y="53.5" width="1.0" height="1.0" fill="#d3d3d3"/>
<rect x="381.0" y="53.4" width="1.0" height="1.0" fill="#d88070"/>
<rect x="373.8" y="53.9" width="1.0" height="1.0" fill="#d3d3d3"/>
<rect x="390.9" y="55.3" width="1.0" height="1.0" fill="#d3d3d3"/>
<rect x="390.3" y="56.6" width="1.0" height="1.0" fill="#d3d3d3"/>
<rect x="387.7" y="55.2" width="1.0" height="1.0" fill="#d3d3d3"/>
</g>
<line x1="421.35" y1="196.60" x2="421.35" y2="301.30" stroke="#444" stroke-width="0.70" />
<line x1="421.35" y1="301.30" x2="514.35" y2="301.30" stroke="#444" stroke-width="0.70" />
<line x1="419.75" y1="197.20" x2="421.35" y2="197.20" stroke="#333" stroke-width="0.70" />
<text x="419.0" y="198.4" font-size="3.40" fill="#555" text-anchor="end">10</text>
<line x1="419.75" y1="220.90" x2="421.35" y2="220.90" stroke="#333" stroke-width="0.70" />
<text x="419.0" y="222.1" font-size="3.40" fill="#555" text-anchor="end">5</text>
<line x1="419.75" y1="244.60" x2="421.35" y2="244.60" stroke="#333" stroke-width="0.70" />
<text x="419.0" y="245.8" font-size="3.40" fill="#555" text-anchor="end">0</text>
<line x1="419.75" y1="268.50" x2="421.35" y2="268.50" stroke="#333" stroke-width="0.70" />
<text x="419.0" y="269.7" font-size="3.40" fill="#555" text-anchor="end">-5</text>
<line x1="419.75" y1="291.80" x2="421.35" y2="291.80" stroke="#333" stroke-width="0.70" />
<text x="419.0" y="293.0" font-size="3.40" fill="#555" text-anchor="end">-10</text>
<line x1="442.85" y1="301.30" x2="442.85" y2="302.90" stroke="#333" stroke-width="0.70" />
<text x="442.8" y="306.2" font-size="3.40" fill="#555" text-anchor="middle">-5</text>
<line x1="464.85" y1="301.30" x2="464.85" y2="302.90" stroke="#333" stroke-width="0.70" />
<text x="464.8" y="306.2" font-size="3.40" fill="#555" text-anchor="middle">0</text>
<line x1="487.15" y1="301.30" x2="487.15" y2="302.90" stroke="#333" stroke-width="0.70" />
<text x="487.1" y="306.2" font-size="3.40" fill="#555" text-anchor="middle">5</text>
<line x1="509.65" y1="301.30" x2="509.65" y2="302.90" stroke="#333" stroke-width="0.70" />
<text x="509.6" y="306.2" font-size="3.40" fill="#555" text-anchor="middle">10</text>
<text x="469.8" y="191.4" font-size="8.60" fill="#222" text-anchor="middle" font-style="italic">Vegfr2</text>
<text x="466.9" y="311.8" font-size="8.00" fill="#333" text-anchor="middle">UMAP1</text>
<text x="416.1" y="248.7" font-size="8.00" fill="#333" text-anchor="middle" transform="rotate(-90.0 416.1 248.7)">UMAP2</text>
<rect x="517.25" y="240.80" width="4.00" height="18.80" fill="url(#g_feat)" />
<text x="521.5" y="242.8" font-size="6.70" fill="#333" font-style="italic">max</text>
<text x="521.5" y="260.6" font-size="6.70" fill="#333" font-style="italic">min</text>
<g transform="matrix(0.64029,0,0,0.71450,368.563,195.156)" filter="url(#rough)">
<use href="#u_bridge" fill="#d3d3d3" />
<use href="#u_sal1" fill="#d3d3d3" />
<use href="#u_sal2" fill="#d3d3d3" />
<use href="#u_sal3" fill="#d3d3d3" />
<use href="#u_top" fill="#d3d3d3" />
<use href="#u_lu" fill="#d3d3d3" />
<use href="#u_link" fill="#d3d3d3" />
<use href="#u_ll" fill="#d3d3d3" />
<use href="#u_cu" fill="#d3d3d3" />
<use href="#u_bl" fill="#d3d3d3" />
<use href="#u_tr" fill="#d3d3d3" />
<use href="#u_tr_p" fill="#d3d3d3" />
<use href="#u_strand" fill="#d3d3d3" />
<use href="#u_gold" fill="#d3d3d3" />
<use href="#u_rb" fill="#d3d3d3" />
<use href="#u_conn" fill="#d3d3d3" opacity="0.7"/>
<use href="#u_bot" fill="#d3d3d3" />
<use href="#u_sr" fill="#d3d3d3" />
<use href="#u_notch" fill="#fff" />
<use href="#u_top" fill="url(#pd_red0)" />
<use href="#u_top" fill="url(#pd_red0b)" />
<use href="#u_lu" fill="url(#pd_red0)" />
<use href="#u_lu" fill="url(#pd_red0b)" />
<use href="#u_link" fill="url(#pd_red4)" />
<use href="#u_link" fill="url(#pd_red4b)" />
<use href="#u_ll" fill="url(#pd_red8)" />
<use href="#u_ll" fill="url(#pd_red8b)" />
<use href="#u_cu" fill="url(#pd_red1)" />
<use href="#u_cu" fill="url(#pd_red1b)" />
<use href="#u_bl" fill="url(#pd_red5)" />
<use href="#u_bl" fill="url(#pd_red5b)" />
<use href="#u_tr" fill="url(#pd_red1)" />
<use href="#u_tr" fill="url(#pd_red1b)" />
<use href="#u_gold" fill="url(#pd_red1)" />
<use href="#u_gold" fill="url(#pd_red1b)" />
<use href="#u_rb" fill="url(#pd_red2)" />
<use href="#u_rb" fill="url(#pd_red2b)" />
<use href="#u_conn" fill="url(#pd_red5)" />
<use href="#u_conn" fill="url(#pd_red5b)" />
<use href="#u_bot" fill="url(#pd_red9)" />
<use href="#u_bot" fill="url(#pd_red9b)" />
<use href="#u_bot_right" fill="#d3d3d3" clip-path="url(#c_bot)"/>
<use href="#u_bot_right" fill="url(#pd_red6)"  clip-path="url(#c_bot)"/>
<use href="#u_bot_right" fill="url(#pd_red6b)"  clip-path="url(#c_bot)"/>
<use href="#u_sr" fill="url(#pd_red0)" />
<use href="#u_sr" fill="url(#pd_red0b)" />
<use href="#u_strand" fill="url(#pd_red1)" />
<use href="#u_strand" fill="url(#pd_red1b)" />
<use href="#u_bridge" fill="url(#pd_red0)" />
<use href="#u_bridge" fill="url(#pd_red0b)" />
<use href="#u_notch" fill="#fff" />
<rect x="341.7" y="73.7" width="1.0" height="1.0" fill="#d3d3d3"/>
<rect x="340.1" y="78.0" width="1.0" height="1.0" fill="#d3d3d3"/>
<rect x="348.6" y="78.4" width="1.0" height="1.0" fill="#d3d3d3"/>
<rect x="348.4" y="72.0" width="1.0" height="1.0" fill="#d88070"/>
<rect x="336.8" y="74.4" width="1.0" height="1.0" fill="#d3d3d3"/>
<rect x="337.1" y="68.3" width="1.0" height="1.0" fill="#d88070"/>
<rect x="347.3" y="75.6" width="1.0" height="1.0" fill="#d88070"/>
<rect x="345.9" y="67.8" width="1.0" height="1.0" fill="#d3d3d3"/>
<rect x="341.4" y="74.6" width="1.0" height="1.0" fill="#d3d3d3"/>
<rect x="346.7" y="68.4" width="1.0" height="1.0" fill="#d3d3d3"/>
<rect x="348.9" y="79.8" width="1.0" height="1.0" fill="#d3d3d3"/>
<rect x="344.7" y="65.1" width="1.0" height="1.0" fill="#d3d3d3"/>
<rect x="345.1" y="71.7" width="1.0" height="1.0" fill="#d3d3d3"/>
<rect x="332.1" y="71.9" width="1.0" height="1.0" fill="#d3d3d3"/>
<rect x="341.4" y="69.6" width="1.0" height="1.0" fill="#d3d3d3"/>
<rect x="346.9" y="69.2" width="1.0" height="1.0" fill="#d3d3d3"/>
<rect x="333.1" y="64.6" width="1.0" height="1.0" fill="#d3d3d3"/>
<rect x="332.1" y="70.0" width="1.0" height="1.0" fill="#d3d3d3"/>
<rect x="335.4" y="66.3" width="1.0" height="1.0" fill="#d88070"/>
<rect x="339.8" y="71.0" width="1.0" height="1.0" fill="#d3d3d3"/>
<rect x="342.0" y="70.7" width="1.0" height="1.0" fill="#d3d3d3"/>
<rect x="340.3" y="63.2" width="1.0" height="1.0" fill="#d88070"/>
<rect x="356.0" y="54.0" width="1.0" height="1.0" fill="#d3d3d3"/>
<rect x="358.3" y="44.4" width="1.0" height="1.0" fill="#d88070"/>
<rect x="358.8" y="55.7" width="1.0" height="1.0" fill="#d3d3d3"/>
<rect x="360.3" y="53.1" width="1.0" height="1.0" fill="#d88070"/>
<rect x="353.3" y="41.6" width="1.0" height="1.0" fill="#d3d3d3"/>
<rect x="356.7" y="47.6" width="1.0" height="1.0" fill="#d88070"/>
<rect x="355.1" y="55.8" width="1.0" height="1.0" fill="#d88070"/>
<rect x="356.1" y="53.7" width="1.0" height="1.0" fill="#d3d3d3"/>
<rect x="359.4" y="45.8" width="1.0" height="1.0" fill="#d3d3d3"/>
<rect x="360.7" y="56.5" width="1.0" height="1.0" fill="#d3d3d3"/>
<rect x="358.0" y="45.2" width="1.0" height="1.0" fill="#d3d3d3"/>
<rect x="359.1" y="57.4" width="1.0" height="1.0" fill="#d88070"/>
<rect x="311.2" y="65.1" width="1.0" height="1.0" fill="#d3d3d3"/>
<rect x="315.0" y="62.9" width="1.0" height="1.0" fill="#d3d3d3"/>
<rect x="316.2" y="63.3" width="1.0" height="1.0" fill="#d3d3d3"/>
<rect x="308.7" y="57.9" width="1.0" height="1.0" fill="#d3d3d3"/>
<rect x="316.2" y="57.8" width="1.0" height="1.0" fill="#d3d3d3"/>
<rect x="308.4" y="58.9" width="1.0" height="1.0" fill="#d3d3d3"/>
<rect x="306.8" y="63.8" width="1.0" height="1.0" fill="#d3d3d3"/>
<rect x="312.9" y="67.0" width="1.0" height="1.0" fill="#d3d3d3"/>
<rect x="306.1" y="66.4" width="1.0" height="1.0" fill="#d88070"/>
<rect x="306.3" y="57.9" width="1.0" height="1.0" fill="#d3d3d3"/>
<rect x="294.0" y="58.0" width="1.0" height="1.0" fill="#d3d3d3"/>
<rect x="297.7" y="53.1" width="1.0" height="1.0" fill="#d3d3d3"/>
<rect x="292.7" y="51.8" width="1.0" height="1.0" fill="#d88070"/>
<rect x="298.5" y="59.7" width="1.0" height="1.0" fill="#d3d3d3"/>
<rect x="297.9" y="55.5" width="1.0" height="1.0" fill="#d3d3d3"/>
<rect x="295.8" y="53.9" width="1.0" height="1.0" fill="#d3d3d3"/>
<rect x="296.9" y="51.9" width="1.0" height="1.0" fill="#d88070"/>
<rect x="294.5" y="55.0" width="1.0" height="1.0" fill="#d3d3d3"/>
<rect x="347.5" y="83.2" width="1.0" height="1.0" fill="#d3d3d3"/>
<rect x="326.8" y="81.0" width="1.0" height="1.0" fill="#d3d3d3"/>
<rect x="322.7" y="82.9" width="1.0" height="1.0" fill="#d88070"/>
<rect x="333.6" y="83.8" width="1.0" height="1.0" fill="#d3d3d3"/>
<rect x="318.2" y="80.1" width="1.0" height="1.0" fill="#d3d3d3"/>
<rect x="329.5" y="82.2" width="1.0" height="1.0" fill="#d3d3d3"/>
<rect x="326.1" y="83.7" width="1.0" height="1.0" fill="#d3d3d3"/>
<rect x="334.9" y="83.6" width="1.0" height="1.0" fill="#d3d3d3"/>
<rect x="350.6" y="81.6" width="1.0" height="1.0" fill="#d3d3d3"/>
<rect x="327.7" y="82.4" width="1.0" height="1.0" fill="#d3d3d3"/>
<rect x="329.8" y="80.7" width="1.0" height="1.0" fill="#d3d3d3"/>
<rect x="339.9" y="85.7" width="1.0" height="1.0" fill="#d3d3d3"/>
<rect x="326.2" y="82.3" width="1.0" height="1.0" fill="#d3d3d3"/>
<rect x="340.9" y="80.8" width="1.0" height="1.0" fill="#d3d3d3"/>
<rect x="353.7" y="31.9" width="1.0" height="1.0" fill="#d3d3d3"/>
<rect x="354.3" y="33.0" width="1.0" height="1.0" fill="#d3d3d3"/>
<rect x="354.6" y="36.2" width="1.0" height="1.0" fill="#d3d3d3"/>
<rect x="348.1" y="31.8" width="1.0" height="1.0" fill="#d3d3d3"/>
<rect x="351.9" y="30.3" width="1.0" height="1.0" fill="#d88070"/>
<rect x="353.8" y="32.4" width="1.0" height="1.0" fill="#d88070"/>
<rect x="391.3" y="55.0" width="1.0" height="1.0" fill="#d88070"/>
<rect x="374.3" y="53.7" width="1.0" height="1.0" fill="#d3d3d3"/>
<rect x="373.2" y="53.5" width="1.0" height="1.0" fill="#d3d3d3"/>
<rect x="381.0" y="53.4" width="1.0" height="1.0" fill="#d88070"/>
<rect x="373.8" y="53.9" width="1.0" height="1.0" fill="#d3d3d3"/>
<rect x="390.9" y="55.3" width="1.0" height="1.0" fill="#d3d3d3"/>
<rect x="390.3" y="56.6" width="1.0" height="1.0" fill="#d3d3d3"/>
<rect x="387.7" y="55.2" width="1.0" height="1.0" fill="#d3d3d3"/>
</g>
<line x1="550.70" y1="196.60" x2="550.70" y2="301.30" stroke="#444" stroke-width="0.70" />
<line x1="550.70" y1="301.30" x2="643.70" y2="301.30" stroke="#444" stroke-width="0.70" />
<line x1="549.10" y1="197.20" x2="550.70" y2="197.20" stroke="#333" stroke-width="0.70" />
<text x="548.4" y="198.4" font-size="3.40" fill="#555" text-anchor="end">10</text>
<line x1="549.10" y1="220.90" x2="550.70" y2="220.90" stroke="#333" stroke-width="0.70" />
<text x="548.4" y="222.1" font-size="3.40" fill="#555" text-anchor="end">5</text>
<line x1="549.10" y1="244.60" x2="550.70" y2="244.60" stroke="#333" stroke-width="0.70" />
<text x="548.4" y="245.8" font-size="3.40" fill="#555" text-anchor="end">0</text>
<line x1="549.10" y1="268.50" x2="550.70" y2="268.50" stroke="#333" stroke-width="0.70" />
<text x="548.4" y="269.7" font-size="3.40" fill="#555" text-anchor="end">-5</text>
<line x1="549.10" y1="291.80" x2="550.70" y2="291.80" stroke="#333" stroke-width="0.70" />
<text x="548.4" y="293.0" font-size="3.40" fill="#555" text-anchor="end">-10</text>
<line x1="572.20" y1="301.30" x2="572.20" y2="302.90" stroke="#333" stroke-width="0.70" />
<text x="572.2" y="306.2" font-size="3.40" fill="#555" text-anchor="middle">-5</text>
<line x1="594.20" y1="301.30" x2="594.20" y2="302.90" stroke="#333" stroke-width="0.70" />
<text x="594.2" y="306.2" font-size="3.40" fill="#555" text-anchor="middle">0</text>
<line x1="616.50" y1="301.30" x2="616.50" y2="302.90" stroke="#333" stroke-width="0.70" />
<text x="616.5" y="306.2" font-size="3.40" fill="#555" text-anchor="middle">5</text>
<line x1="639.00" y1="301.30" x2="639.00" y2="302.90" stroke="#333" stroke-width="0.70" />
<text x="639.0" y="306.2" font-size="3.40" fill="#555" text-anchor="middle">10</text>
<text x="599.2" y="191.4" font-size="8.60" fill="#222" text-anchor="middle" font-style="italic">Pecam1</text>
<text x="599.0" y="311.8" font-size="8.00" fill="#333" text-anchor="middle">UMAP1</text>
<text x="545.5" y="248.7" font-size="8.00" fill="#333" text-anchor="middle" transform="rotate(-90.0 545.5 248.7)">UMAP2</text>
<rect x="646.60" y="240.80" width="4.00" height="18.80" fill="url(#g_feat)" />
<text x="650.9" y="242.8" font-size="6.70" fill="#333" font-style="italic">max</text>
<text x="650.9" y="260.6" font-size="6.70" fill="#333" font-style="italic">min</text>
<text x="5.3" y="182.6" font-size="9.50" fill="#111" font-weight="bold">d</text>
<g transform="matrix(0.65468,0,0,0.71903,-169.008,594.543)" filter="url(#rough)">
<use href="#u_bridge" fill="#d3d3d3" />
<use href="#u_sal1" fill="#d3d3d3" />
<use href="#u_sal2" fill="#d3d3d3" />
<use href="#u_sal3" fill="#d3d3d3" />
<use href="#u_top" fill="#d3d3d3" />
<use href="#u_lu" fill="#d3d3d3" />
<use href="#u_link" fill="#d3d3d3" />
<use href="#u_ll" fill="#d3d3d3" />
<use href="#u_cu" fill="#d3d3d3" />
<use href="#u_bl" fill="#d3d3d3" />
<use href="#u_tr" fill="#d3d3d3" />
<use href="#u_tr_p" fill="#d3d3d3" />
<use href="#u_strand" fill="#d3d3d3" />
<use href="#u_gold" fill="#d3d3d3" />
<use href="#u_rb" fill="#d3d3d3" />
<use href="#u_conn" fill="#d3d3d3" opacity="0.7"/>
<use href="#u_bot" fill="#d3d3d3" />
<use href="#u_sr" fill="#d3d3d3" />
<use href="#u_notch" fill="#fff" />
<use href="#u_top" fill="url(#ph_red4)" />
<use href="#u_top" fill="url(#ph_red4b)" />
<use href="#u_lu" fill="url(#ph_red3)" />
<use href="#u_lu" fill="url(#ph_red3b)" />
<use href="#u_link" fill="url(#ph_red4)" />
<use href="#u_link" fill="url(#ph_red4b)" />
<use href="#u_ll" fill="url(#ph_red5)" />
<use href="#u_ll" fill="url(#ph_red5b)" />
<use href="#u_cu" fill="url(#ph_red2)" />
<use href="#u_cu" fill="url(#ph_red2b)" />
<use href="#u_bl" fill="url(#ph_red3)" />
<use href="#u_bl" fill="url(#ph_red3b)" />
<use href="#u_tr" fill="url(#ph_red5)" />
<use href="#u_tr" fill="url(#ph_red5b)" />
<use href="#u_tr_g" fill="#d3d3d3" clip-path="url(#c_tr)"/>
<use href="#u_tr_g" fill="url(#ph_red5)"  clip-path="url(#c_tr)"/>
<use href="#u_tr_g" fill="url(#ph_red5b)"  clip-path="url(#c_tr)"/>
<use href="#u_tr_p" fill="#d3d3d3" />
<use href="#u_tr_p" fill="url(#ph_red5)" />
<use href="#u_tr_p" fill="url(#ph_red5b)" />
<use href="#u_gold" fill="url(#ph_red5)" />
<use href="#u_gold" fill="url(#ph_red5b)" />
<use href="#u_rb" fill="url(#ph_red5)" />
<use href="#u_rb" fill="url(#ph_red5b)" />
<use href="#u_conn" fill="url(#ph_red4)" />
<use href="#u_conn" fill="url(#ph_red4b)" />
<use href="#u_bot" fill="url(#ph_red6)" />
<use href="#u_bot" fill="url(#ph_red6b)" />
<use href="#u_bot_cyan" fill="#d3d3d3" clip-path="url(#c_bot)"/>
<use href="#u_bot_cyan" fill="url(#ph_red7)"  clip-path="url(#c_bot)"/>
<use href="#u_bot_cyan" fill="url(#ph_red7b)"  clip-path="url(#c_bot)"/>
<use href="#u_sr" fill="url(#ph_red3)" />
<use href="#u_sr" fill="url(#ph_red3b)" />
<use href="#u_strand" fill="url(#ph_red5)" />
<use href="#u_strand" fill="url(#ph_red5b)" />
<use href="#u_bridge" fill="url(#ph_red4)" />
<use href="#u_bridge" fill="url(#ph_red4b)" />
<use href="#u_notch" fill="#fff" />
<rect x="341.7" y="73.7" width="1.0" height="1.0" fill="#d3d3d3"/>
<rect x="340.1" y="78.0" width="1.0" height="1.0" fill="#d3d3d3"/>
<rect x="348.6" y="78.4" width="1.0" height="1.0" fill="#d3d3d3"/>
<rect x="348.4" y="72.0" width="1.0" height="1.0" fill="#d88070"/>
<rect x="336.8" y="74.4" width="1.0" height="1.0" fill="#d3d3d3"/>
<rect x="337.1" y="68.3" width="1.0" height="1.0" fill="#d88070"/>
<rect x="347.3" y="75.6" width="1.0" height="1.0" fill="#d88070"/>
<rect x="345.9" y="67.8" width="1.0" height="1.0" fill="#d3d3d3"/>
<rect x="341.4" y="74.6" width="1.0" height="1.0" fill="#d3d3d3"/>
<rect x="346.7" y="68.4" width="1.0" height="1.0" fill="#d3d3d3"/>
<rect x="348.9" y="79.8" width="1.0" height="1.0" fill="#d3d3d3"/>
<rect x="344.7" y="65.1" width="1.0" height="1.0" fill="#d3d3d3"/>
<rect x="345.1" y="71.7" width="1.0" height="1.0" fill="#d3d3d3"/>
<rect x="332.1" y="71.9" width="1.0" height="1.0" fill="#d3d3d3"/>
<rect x="341.4" y="69.6" width="1.0" height="1.0" fill="#d3d3d3"/>
<rect x="346.9" y="69.2" width="1.0" height="1.0" fill="#d3d3d3"/>
<rect x="333.1" y="64.6" width="1.0" height="1.0" fill="#d3d3d3"/>
<rect x="332.1" y="70.0" width="1.0" height="1.0" fill="#d3d3d3"/>
<rect x="335.4" y="66.3" width="1.0" height="1.0" fill="#d88070"/>
<rect x="339.8" y="71.0" width="1.0" height="1.0" fill="#d3d3d3"/>
<rect x="342.0" y="70.7" width="1.0" height="1.0" fill="#d3d3d3"/>
<rect x="340.3" y="63.2" width="1.0" height="1.0" fill="#d88070"/>
<rect x="356.0" y="54.0" width="1.0" height="1.0" fill="#d3d3d3"/>
<rect x="358.3" y="44.4" width="1.0" height="1.0" fill="#d88070"/>
<rect x="358.8" y="55.7" width="1.0" height="1.0" fill="#d3d3d3"/>
<rect x="360.3" y="53.1" width="1.0" height="1.0" fill="#d88070"/>
<rect x="353.3" y="41.6" width="1.0" height="1.0" fill="#d3d3d3"/>
<rect x="356.7" y="47.6" width="1.0" height="1.0" fill="#d88070"/>
<rect x="355.1" y="55.8" width="1.0" height="1.0" fill="#d88070"/>
<rect x="356.1" y="53.7" width="1.0" height="1.0" fill="#d3d3d3"/>
<rect x="359.4" y="45.8" width="1.0" height="1.0" fill="#d3d3d3"/>
<rect x="360.7" y="56.5" width="1.0" height="1.0" fill="#d3d3d3"/>
<rect x="358.0" y="45.2" width="1.0" height="1.0" fill="#d3d3d3"/>
<rect x="359.1" y="57.4" width="1.0" height="1.0" fill="#d88070"/>
<rect x="311.2" y="65.1" width="1.0" height="1.0" fill="#d3d3d3"/>
<rect x="315.0" y="62.9" width="1.0" height="1.0" fill="#d3d3d3"/>
<rect x="316.2" y="63.3" width="1.0" height="1.0" fill="#d3d3d3"/>
<rect x="308.7" y="57.9" width="1.0" height="1.0" fill="#d3d3d3"/>
<rect x="316.2" y="57.8" width="1.0" height="1.0" fill="#d3d3d3"/>
<rect x="308.4" y="58.9" width="1.0" height="1.0" fill="#d3d3d3"/>
<rect x="306.8" y="63.8" width="1.0" height="1.0" fill="#d3d3d3"/>
<rect x="312.9" y="67.0" width="1.0" height="1.0" fill="#d3d3d3"/>
<rect x="306.1" y="66.4" width="1.0" height="1.0" fill="#d88070"/>
<rect x="306.3" y="57.9" width="1.0" height="1.0" fill="#d3d3d3"/>
<rect x="294.0" y="58.0" width="1.0" height="1.0" fill="#d3d3d3"/>
<rect x="297.7" y="53.1" width="1.0" height="1.0" fill="#d3d3d3"/>
<rect x="292.7" y="51.8" width="1.0" height="1.0" fill="#d88070"/>
<rect x="298.5" y="59.7" width="1.0" height="1.0" fill="#d3d3d3"/>
<rect x="297.9" y="55.5" width="1.0" height="1.0" fill="#d3d3d3"/>
<rect x="295.8" y="53.9" width="1.0" height="1.0" fill="#d3d3d3"/>
<rect x="296.9" y="51.9" width="1.0" height="1.0" fill="#d88070"/>
<rect x="294.5" y="55.0" width="1.0" height="1.0" fill="#d3d3d3"/>
<rect x="347.5" y="83.2" width="1.0" height="1.0" fill="#d3d3d3"/>
<rect x="326.8" y="81.0" width="1.0" height="1.0" fill="#d3d3d3"/>
<rect x="322.7" y="82.9" width="1.0" height="1.0" fill="#d88070"/>
<rect x="333.6" y="83.8" width="1.0" height="1.0" fill="#d3d3d3"/>
<rect x="318.2" y="80.1" width="1.0" height="1.0" fill="#d3d3d3"/>
<rect x="329.5" y="82.2" width="1.0" height="1.0" fill="#d3d3d3"/>
<rect x="326.1" y="83.7" width="1.0" height="1.0" fill="#d3d3d3"/>
<rect x="334.9" y="83.6" width="1.0" height="1.0" fill="#d3d3d3"/>
<rect x="350.6" y="81.6" width="1.0" height="1.0" fill="#d3d3d3"/>
<rect x="327.7" y="82.4" width="1.0" height="1.0" fill="#d3d3d3"/>
<rect x="329.8" y="80.7" width="1.0" height="1.0" fill="#d3d3d3"/>
<rect x="339.9" y="85.7" width="1.0" height="1.0" fill="#d3d3d3"/>
<rect x="326.2" y="82.3" width="1.0" height="1.0" fill="#d3d3d3"/>
<rect x="340.9" y="80.8" width="1.0" height="1.0" fill="#d3d3d3"/>
<rect x="353.7" y="31.9" width="1.0" height="1.0" fill="#d3d3d3"/>
<rect x="354.3" y="33.0" width="1.0" height="1.0" fill="#d3d3d3"/>
<rect x="354.6" y="36.2" width="1.0" height="1.0" fill="#d3d3d3"/>
<rect x="348.1" y="31.8" width="1.0" height="1.0" fill="#d3d3d3"/>
<rect x="351.9" y="30.3" width="1.0" height="1.0" fill="#d88070"/>
<rect x="353.8" y="32.4" width="1.0" height="1.0" fill="#d88070"/>
<rect x="391.3" y="55.0" width="1.0" height="1.0" fill="#d88070"/>
<rect x="374.3" y="53.7" width="1.0" height="1.0" fill="#d3d3d3"/>
<rect x="373.2" y="53.5" width="1.0" height="1.0" fill="#d3d3d3"/>
<rect x="381.0" y="53.4" width="1.0" height="1.0" fill="#d88070"/>
<rect x="373.8" y="53.9" width="1.0" height="1.0" fill="#d3d3d3"/>
<rect x="390.9" y="55.3" width="1.0" height="1.0" fill="#d3d3d3"/>
<rect x="390.3" y="56.6" width="1.0" height="1.0" fill="#d3d3d3"/>
<rect x="387.7" y="55.2" width="1.0" height="1.0" fill="#d3d3d3"/>
</g>
<line x1="16.70" y1="596.30" x2="16.70" y2="700.80" stroke="#444" stroke-width="0.70" />
<line x1="16.70" y1="700.80" x2="111.40" y2="700.80" stroke="#444" stroke-width="0.70" />
<line x1="15.10" y1="596.70" x2="16.70" y2="596.70" stroke="#333" stroke-width="0.70" />
<text x="14.4" y="597.9" font-size="3.40" fill="#555" text-anchor="end">10</text>
<line x1="15.10" y1="620.20" x2="16.70" y2="620.20" stroke="#333" stroke-width="0.70" />
<text x="14.4" y="621.4" font-size="3.40" fill="#555" text-anchor="end">5</text>
<line x1="15.10" y1="644.30" x2="16.70" y2="644.30" stroke="#333" stroke-width="0.70" />
<text x="14.4" y="645.5" font-size="3.40" fill="#555" text-anchor="end">0</text>
<line x1="15.10" y1="668.20" x2="16.70" y2="668.20" stroke="#333" stroke-width="0.70" />
<text x="14.4" y="669.4" font-size="3.40" fill="#555" text-anchor="end">-5</text>
<line x1="15.10" y1="691.50" x2="16.70" y2="691.50" stroke="#333" stroke-width="0.70" />
<text x="14.4" y="692.7" font-size="3.40" fill="#555" text-anchor="end">-10</text>
<line x1="39.40" y1="700.80" x2="39.40" y2="702.40" stroke="#333" stroke-width="0.70" />
<text x="39.4" y="705.7" font-size="3.40" fill="#555" text-anchor="middle">-5</text>
<line x1="61.70" y1="700.80" x2="61.70" y2="702.40" stroke="#333" stroke-width="0.70" />
<text x="61.7" y="705.7" font-size="3.40" fill="#555" text-anchor="middle">0</text>
<line x1="84.40" y1="700.80" x2="84.40" y2="702.40" stroke="#333" stroke-width="0.70" />
<text x="84.4" y="705.7" font-size="3.40" fill="#555" text-anchor="middle">5</text>
<line x1="107.20" y1="700.80" x2="107.20" y2="702.40" stroke="#333" stroke-width="0.70" />
<text x="107.2" y="705.7" font-size="3.40" fill="#555" text-anchor="middle">10</text>
<text x="63.0" y="583.3" font-size="8.60" fill="#222" text-anchor="middle" font-style="italic">Elk3</text>
<text x="63.0" y="712.0" font-size="8.00" fill="#333" text-anchor="middle">UMAP1</text>
<text x="10.6" y="647.8" font-size="8.00" fill="#333" text-anchor="middle" transform="rotate(-90.0 10.6 647.8)">UMAP2</text>
<rect x="114.90" y="640.40" width="4.10" height="18.90" fill="url(#g_feat)" />
<text x="119.2" y="642.4" font-size="7.90" fill="#333" font-style="italic">max</text>
<text x="119.2" y="659.9" font-size="7.90" fill="#333" font-style="italic">min</text>
<text x="5.9" y="571.4" font-size="9.50" fill="#111" font-weight="bold">h</text>
<rect x="50.80" y="344.30" width="146.30" height="187.30" fill="#f7f2f5" />
<rect x="50.80" y="344.30" width="146.30" height="13.50" fill="#efe6ee" />
<rect x="50.80" y="344.30" width="13.20" height="13.50" fill="#e39c8c" />
<rect x="64.00" y="344.30" width="8.40" height="13.50" fill="#ecc2ba" />
<rect x="72.40" y="344.30" width="2.70" height="13.50" fill="#f0d6d4" />
<rect x="75.10" y="344.30" width="14.00" height="13.50" fill="#ecc4bc" />
<rect x="89.10" y="344.30" width="18.10" height="13.50" fill="#f0dcdc" />
<rect x="180.50" y="344.30" width="11.30" height="13.50" fill="#efcbc4" />
<rect x="191.80" y="344.30" width="5.30" height="13.50" fill="#ecd6d8" />
<rect x="89.10" y="345.30" width="108.00" height="1.40" fill="#d4d2e8" />
<rect x="64.00" y="357.80" width="8.40" height="13.80" fill="#e08b7b" />
<rect x="163.20" y="357.80" width="4.10" height="13.80" fill="#e08e7a" />
<rect x="50.80" y="371.60" width="146.30" height="13.10" fill="#faf5f6" />
<rect x="72.40" y="371.60" width="2.70" height="13.10" fill="#dc6a56" />
<rect x="50.80" y="384.70" width="146.30" height="11.90" fill="#dcdaea" />
<rect x="50.80" y="384.70" width="24.30" height="11.90" fill="#e2d2de" />
<rect x="75.10" y="384.70" width="14.00" height="11.90" fill="#e39686" />
<rect x="89.10" y="384.70" width="18.10" height="11.90" fill="#e8a898" />
<rect x="107.20" y="384.70" width="14.60" height="11.90" fill="#dfd3e2" />
<rect x="180.50" y="384.70" width="11.30" height="11.90" fill="#eaccd0" />
<rect x="50.80" y="396.60" width="146.30" height="15.40" fill="#efeaf2" />
<rect x="50.80" y="396.60" width="24.30" height="15.40" fill="#f0dcdc" />
<rect x="75.10" y="396.60" width="14.00" height="15.40" fill="#f0c8c0" />
<rect x="89.10" y="396.60" width="18.10" height="15.40" fill="#e08272" />
<rect x="180.50" y="396.60" width="11.30" height="15.40" fill="#f0d0cc" />
<rect x="50.80" y="412.00" width="146.30" height="14.20" fill="#e3dbea" />
<rect x="50.80" y="412.00" width="56.40" height="14.20" fill="#e8d0d8" />
<rect x="107.20" y="412.00" width="14.60" height="14.20" fill="#e08a7a" />
<rect x="136.10" y="412.00" width="5.20" height="14.20" fill="#ecc0b8" />
<rect x="180.50" y="412.00" width="11.30" height="14.20" fill="#e8a898" />
<rect x="121.80" y="426.20" width="14.30" height="13.30" fill="#e18c7c" />
<rect x="136.10" y="426.20" width="5.20" height="13.30" fill="#f0d0cc" />
<rect x="50.80" y="439.50" width="146.30" height="12.70" fill="#e6dce8" />
<rect x="107.20" y="439.50" width="14.60" height="12.70" fill="#e29484" />
<rect x="121.80" y="439.50" width="14.30" height="12.70" fill="#e8d4dc" />
<rect x="136.10" y="439.50" width="5.20" height="12.70" fill="#e6a494" />
<rect x="141.30" y="439.50" width="21.90" height="12.70" fill="#e8d0d4" />
<rect x="167.30" y="439.50" width="13.20" height="12.70" fill="#ecc8c4" />
<rect x="194.20" y="439.50" width="2.90" height="12.70" fill="#8e96c4" />
<rect x="50.80" y="440.20" width="146.30" height="0.90" fill="#ccccE4" />
<rect x="50.80" y="446.40" width="70.00" height="1.40" fill="#c8c8e2" />
<rect x="50.80" y="452.20" width="146.30" height="13.10" fill="#eeeaf2" />
<rect x="141.30" y="452.20" width="21.90" height="13.10" fill="#e8a292" />
<rect x="167.30" y="452.20" width="13.20" height="13.10" fill="#f0c4b8" />
<rect x="64.00" y="465.30" width="8.40" height="14.10" fill="#e08c7c" />
<rect x="163.20" y="465.30" width="4.10" height="14.10" fill="#dc6a56" />
<rect x="50.80" y="479.40" width="146.30" height="13.60" fill="#f4eff3" />
<rect x="141.30" y="479.40" width="21.90" height="13.60" fill="#eab2a6" />
<rect x="167.30" y="479.40" width="13.20" height="13.60" fill="#ecc0b4" />
<rect x="121.80" y="479.40" width="14.30" height="13.60" fill="#f0dcdc" />
<rect x="50.80" y="479.40" width="146.30" height="2.20" fill="#cbcbe3" />
<rect x="50.80" y="488.20" width="146.30" height="1.20" fill="#d6d6ea" />
<rect x="50.80" y="493.00" width="146.30" height="13.50" fill="#f2e8ee" />
<rect x="50.80" y="493.00" width="21.60" height="13.50" fill="#f0d2ce" />
<rect x="180.50" y="493.00" width="11.30" height="13.50" fill="#e48876" />
<rect x="50.80" y="493.60" width="146.30" height="1.80" fill="#efc6bc" />
<rect x="50.80" y="506.50" width="146.30" height="11.10" fill="#ecd6d8" />
<rect x="50.80" y="510.00" width="146.30" height="1.40" fill="#d2d2e6" />
<rect x="50.80" y="513.00" width="146.30" height="1.60" fill="#eebcb2" />
<rect x="50.80" y="517.60" width="146.30" height="14.00" fill="#faf6f8" />
<rect x="194.20" y="517.60" width="2.90" height="14.00" fill="#dc6a56" />
<rect x="50.80" y="344.30" width="146.30" height="187.30" fill="url(#he_tex)" opacity="0.5"/>
<line x1="64.00" y1="344.30" x2="64.00" y2="531.60" stroke="#7c7c7c" stroke-width="0.60" />
<line x1="72.40" y1="344.30" x2="72.40" y2="531.60" stroke="#7c7c7c" stroke-width="0.60" />
<line x1="75.10" y1="344.30" x2="75.10" y2="531.60" stroke="#7c7c7c" stroke-width="0.60" />
<line x1="89.10" y1="344.30" x2="89.10" y2="531.60" stroke="#7c7c7c" stroke-width="0.60" />
<line x1="107.20" y1="344.30" x2="107.20" y2="531.60" stroke="#7c7c7c" stroke-width="0.60" />
<line x1="121.80" y1="344.30" x2="121.80" y2="531.60" stroke="#7c7c7c" stroke-width="0.60" />
<line x1="136.10" y1="344.30" x2="136.10" y2="531.60" stroke="#7c7c7c" stroke-width="0.60" />
<line x1="141.30" y1="344.30" x2="141.30" y2="531.60" stroke="#7c7c7c" stroke-width="0.60" />
<line x1="163.20" y1="344.30" x2="163.20" y2="531.60" stroke="#7c7c7c" stroke-width="0.60" />
<line x1="167.30" y1="344.30" x2="167.30" y2="531.60" stroke="#7c7c7c" stroke-width="0.60" />
<line x1="180.50" y1="344.30" x2="180.50" y2="531.60" stroke="#7c7c7c" stroke-width="0.60" />
<line x1="191.80" y1="344.30" x2="191.80" y2="531.60" stroke="#7c7c7c" stroke-width="0.60" />
<line x1="194.20" y1="344.30" x2="194.20" y2="531.60" stroke="#7c7c7c" stroke-width="0.60" />
<rect x="50.80" y="338.00" width="13.20" height="3.50" fill="#F8766D" />
<text x="60.5" y="336.3" font-size="6.60" fill="#F8766D" transform="rotate(-90.0 60.5 336.3)">cont#1</text>
<rect x="64.00" y="338.00" width="8.40" height="3.50" fill="#E38900" />
<text x="71.8" y="336.3" font-size="6.60" fill="#E38900" transform="rotate(-90.0 71.8 336.3)">cont#2</text>
<rect x="72.40" y="338.00" width="2.70" height="3.50" fill="#C49A00" />
<text x="77.8" y="336.3" font-size="6.60" fill="#C49A00" transform="rotate(-90.0 77.8 336.3)">cont#3</text>
<rect x="75.10" y="338.00" width="14.00" height="3.50" fill="#99A800" />
<text x="85.3" y="336.3" font-size="6.60" fill="#99A800" transform="rotate(-90.0 85.3 336.3)">cont#4</text>
<rect x="89.10" y="338.00" width="18.10" height="3.50" fill="#53B400" />
<text x="99.9" y="336.3" font-size="6.60" fill="#53B400" transform="rotate(-90.0 99.9 336.3)">cont#5</text>
<rect x="107.20" y="338.00" width="14.60" height="3.50" fill="#00BC56" />
<text x="116.8" y="336.3" font-size="6.60" fill="#00BC56" transform="rotate(-90.0 116.8 336.3)">cont#6</text>
<rect x="121.80" y="338.00" width="14.30" height="3.50" fill="#00C094" />
<text x="130.8" y="336.3" font-size="6.60" fill="#00C094" transform="rotate(-90.0 130.8 336.3)">SEG#1</text>
<rect x="136.10" y="338.00" width="5.20" height="3.50" fill="#00BFC4" />
<text x="140.7" y="336.3" font-size="6.60" fill="#00BFC4" transform="rotate(-90.0 140.7 336.3)">SEG#2</text>
<rect x="141.30" y="338.00" width="21.90" height="3.50" fill="#00B6EB" />
<text x="153.8" y="336.3" font-size="6.60" fill="#00B6EB" transform="rotate(-90.0 153.8 336.3)">SEG#3</text>
<rect x="163.20" y="338.00" width="4.10" height="3.50" fill="#06A4FF" />
<text x="166.8" y="336.3" font-size="6.60" fill="#06A4FF" transform="rotate(-90.0 166.8 336.3)">SEG#4</text>
<rect x="167.30" y="338.00" width="13.20" height="3.50" fill="#A58AFF" />
<text x="175.4" y="336.3" font-size="6.60" fill="#A58AFF" transform="rotate(-90.0 175.4 336.3)">SEG#5</text>
<rect x="180.50" y="338.00" width="11.30" height="3.50" fill="#DF70F8" />
<text x="187.8" y="336.3" font-size="6.60" fill="#DF70F8" transform="rotate(-90.0 187.8 336.3)">SEG#6</text>
<rect x="191.80" y="338.00" width="2.40" height="3.50" fill="#FB61D7" />
<text x="193.8" y="336.3" font-size="6.60" fill="#FB61D7" transform="rotate(-90.0 193.8 336.3)">gen#1</text>
<rect x="194.20" y="338.00" width="2.90" height="3.50" fill="#FF66A8" />
<text x="198.2" y="336.3" font-size="6.60" fill="#FF66A8" transform="rotate(-90.0 198.2 336.3)">gen#2</text>
<text x="49.8" y="347.9" font-size="7.00" fill="#f07c76" text-anchor="end" font-style="italic">Cemip</text>
<text x="49.8" y="355.9" font-size="7.00" fill="#f07c76" text-anchor="end" font-style="italic">Serpinb1a</text>
<text x="49.8" y="361.3" font-size="7.00" fill="#e0944a" text-anchor="end" font-style="italic">Mxd3</text>
<text x="49.8" y="369.4" font-size="7.00" fill="#e0944a" text-anchor="end" font-style="italic">E2f8</text>
<text x="49.8" y="374.8" font-size="7.00" fill="#c8a444" text-anchor="end" font-style="italic">Krt8</text>
<text x="49.8" y="382.5" font-size="7.00" fill="#c8a444" text-anchor="end" font-style="italic">Gata5</text>
<text x="49.8" y="388.2" font-size="7.00" fill="#9aac44" text-anchor="end" font-style="italic">Efemp1</text>
<text x="49.8" y="396.3" font-size="7.00" fill="#9aac44" text-anchor="end" font-style="italic">Ly6c1</text>
<text x="49.8" y="401.7" font-size="7.00" fill="#5ab450" text-anchor="end" font-style="italic">Spon1</text>
<text x="49.8" y="409.5" font-size="7.00" fill="#5ab450" text-anchor="end" font-style="italic">Acss3</text>
<text x="49.8" y="415.1" font-size="7.00" fill="#2cb468" text-anchor="end" font-style="italic">Ankrd1</text>
<text x="49.8" y="422.9" font-size="7.00" fill="#2cb468" text-anchor="end" font-style="italic">Tpm2</text>
<text x="49.8" y="428.3" font-size="7.00" fill="#30b890" text-anchor="end" font-style="italic">Tox3</text>
<text x="49.8" y="436.7" font-size="7.00" fill="#30b890" text-anchor="end" font-style="italic">S100g</text>
<text x="49.8" y="442.4" font-size="7.00" fill="#2ab8b8" text-anchor="end" font-style="italic">Gm26917</text>
<text x="49.8" y="450.6" font-size="7.00" fill="#2ab8b8" text-anchor="end" font-style="italic">Rflnb</text>
<text x="49.8" y="455.5" font-size="7.00" fill="#20ace0" text-anchor="end" font-style="italic">Nrg1</text>
<text x="49.8" y="462.9" font-size="7.00" fill="#20ace0" text-anchor="end" font-style="italic">Mctp1</text>
<text x="49.8" y="469.6" font-size="7.00" fill="#4a90d8" text-anchor="end" font-style="italic">Sgo2a</text>
<text x="49.8" y="477.5" font-size="7.00" fill="#4a90d8" text-anchor="end" font-style="italic">Hist1h2ab</text>
<text x="49.8" y="482.7" font-size="7.00" fill="#8c80cc" text-anchor="end" font-style="italic">Lhx6</text>
<text x="49.8" y="490.8" font-size="7.00" fill="#8c80cc" text-anchor="end" font-style="italic">4930570D08Rik</text>
<text x="49.8" y="496.1" font-size="7.00" fill="#a874c4" text-anchor="end" font-style="italic">Elmod1</text>
<text x="49.8" y="504.6" font-size="7.00" fill="#a874c4" text-anchor="end" font-style="italic">Cdpg4</text>
<text x="49.8" y="510.0" font-size="7.00" fill="#d070b8" text-anchor="end" font-style="italic">Ctnna3</text>
<text x="49.8" y="517.8" font-size="7.00" fill="#d070b8" text-anchor="end" font-style="italic">Rbfox1</text>
<text x="49.8" y="523.0" font-size="7.00" fill="#e8649c" text-anchor="end" font-style="italic">Ptprc</text>
<text x="49.8" y="531.1" font-size="7.00" fill="#e8649c" text-anchor="end" font-style="italic">F630028O10Rik</text>
<rect x="205.20" y="349.10" width="8.60" height="41.60" fill="url(#g_he)" />
<text x="213.8" y="351.3" font-size="5.60" fill="#333" font-style="italic">max</text>
<text x="213.8" y="392.6" font-size="5.60" fill="#333" font-style="italic">min</text>
<text x="12.3" y="326.5" font-size="9.50" fill="#111" font-weight="bold">e</text>
<circle cx="280.10" cy="341.00" r="0.32" fill="#cfcfcf" />
<circle cx="287.83" cy="341.00" r="0.32" fill="#cfcfcf" />
<circle cx="295.56" cy="341.00" r="0.65" fill="#cfcfcf" />
<circle cx="303.29" cy="341.00" r="0.43" fill="#cfcfcf" />
<circle cx="311.02" cy="341.00" r="0.54" fill="#cfcfcf" />
<circle cx="318.75" cy="341.00" r="0.54" fill="#cfcfcf" />
<circle cx="326.48" cy="341.00" r="0.86" fill="#cfcfcf" />
<circle cx="334.21" cy="341.00" r="0.54" fill="#cfcfcf" />
<circle cx="341.94" cy="341.00" r="0.32" fill="#cfcfcf" />
<circle cx="349.67" cy="341.00" r="0.43" fill="#cfcfcf" />
<circle cx="357.40" cy="341.00" r="0.76" fill="#cfcfcf" />
<circle cx="365.13" cy="341.00" r="1.30" fill="#cfcfcf" />
<circle cx="372.86" cy="341.00" r="0.32" fill="#cfcfcf" />
<circle cx="380.59" cy="341.00" r="0.43" fill="#cfcfcf" />
<circle cx="388.32" cy="341.00" r="0.43" fill="#cfcfcf" />
<circle cx="280.10" cy="353.35" r="0.43" fill="#d0614b" />
<circle cx="287.83" cy="353.35" r="0.65" fill="#d0614b" />
<circle cx="295.56" cy="353.35" r="0.97" fill="#d08a7c" />
<circle cx="303.29" cy="353.35" r="0.43" fill="#d08a7c" />
<circle cx="311.02" cy="353.35" r="0.54" fill="#d08a7c" />
<circle cx="318.75" cy="353.35" r="0.32" fill="#cfa69e" />
<circle cx="326.48" cy="353.35" r="1.40" fill="#cfcfcf" />
<circle cx="334.21" cy="353.35" r="2.38" fill="#d04c32" />
<circle cx="341.94" cy="353.35" r="0.32" fill="#cfa69e" />
<circle cx="349.67" cy="353.35" r="0.54" fill="#cfa69e" />
<circle cx="357.40" cy="353.35" r="0.86" fill="#cfcfcf" />
<circle cx="365.13" cy="353.35" r="0.76" fill="#cfcfcf" />
<circle cx="372.86" cy="353.35" r="0.32" fill="#cfcfcf" />
<circle cx="380.59" cy="353.35" r="0.43" fill="#cfcfcf" />
<circle cx="388.32" cy="353.35" r="0.32" fill="#cfcfcf" />
<circle cx="280.10" cy="365.70" r="0.22" fill="#cfcfcf" />
<circle cx="287.83" cy="365.70" r="0.22" fill="#cfcfcf" />
<circle cx="295.56" cy="365.70" r="0.54" fill="#cfcfcf" />
<circle cx="303.29" cy="365.70" r="0.32" fill="#cfcfcf" />
<circle cx="311.02" cy="365.70" r="0.32" fill="#cfcfcf" />
<circle cx="318.75" cy="365.70" r="0.54" fill="#cfcfcf" />
<circle cx="326.48" cy="365.70" r="1.94" fill="#cfc8c7" />
<circle cx="334.21" cy="365.70" r="1.73" fill="#cfc8c7" />
<circle cx="341.94" cy="365.70" r="0.54" fill="#cfcfcf" />
<circle cx="349.67" cy="365.70" r="0.32" fill="#cfcfcf" />
<circle cx="357.40" cy="365.70" r="1.40" fill="#cfcfcf" />
<circle cx="365.13" cy="365.70" r="1.51" fill="#cfcfcf" />
<circle cx="372.86" cy="365.70" r="0.22" fill="#cfcfcf" />
<circle cx="380.59" cy="365.70" r="0.32" fill="#cfcfcf" />
<circle cx="388.32" cy="365.70" r="0.32" fill="#cfcfcf" />
<circle cx="280.10" cy="378.05" r="0.32" fill="#d08a7c" />
<circle cx="287.83" cy="378.05" r="1.62" fill="#cf9f95" />
<circle cx="295.56" cy="378.05" r="2.70" fill="#d06e5c" />
<circle cx="303.29" cy="378.05" r="1.40" fill="#d08a7c" />
<circle cx="311.02" cy="378.05" r="1.62" fill="#d07c6c" />
<circle cx="318.75" cy="378.05" r="0.54" fill="#cfa69e" />
<circle cx="326.48" cy="378.05" r="2.70" fill="#d06e5c" />
<circle cx="334.21" cy="378.05" r="2.48" fill="#cfa69e" />
<circle cx="341.94" cy="378.05" r="0.86" fill="#d0533a" />
<circle cx="349.67" cy="378.05" r="1.62" fill="#d08a7c" />
<circle cx="357.40" cy="378.05" r="2.70" fill="#cf988d" />
<circle cx="365.13" cy="378.05" r="1.94" fill="#d08a7c" />
<circle cx="372.86" cy="378.05" r="0.65" fill="#d08a7c" />
<circle cx="380.59" cy="378.05" r="0.86" fill="#d0533a" />
<circle cx="388.32" cy="378.05" r="1.94" fill="#d07c6c" />
<circle cx="280.10" cy="390.40" r="0.76" fill="#d0533a" />
<circle cx="287.83" cy="390.40" r="2.16" fill="#d0614b" />
<circle cx="295.56" cy="390.40" r="2.70" fill="#d07c6c" />
<circle cx="303.29" cy="390.40" r="1.94" fill="#d08a7c" />
<circle cx="311.02" cy="390.40" r="1.73" fill="#d08a7c" />
<circle cx="318.75" cy="390.40" r="2.70" fill="#d04c32" />
<circle cx="326.48" cy="390.40" r="2.70" fill="#d08374" />
<circle cx="334.21" cy="390.40" r="2.48" fill="#d08a7c" />
<circle cx="341.94" cy="390.40" r="0.97" fill="#d0614b" />
<circle cx="349.67" cy="390.40" r="2.16" fill="#d08374" />
<circle cx="357.40" cy="390.40" r="2.70" fill="#cf988d" />
<circle cx="365.13" cy="390.40" r="2.38" fill="#d06e5c" />
<circle cx="372.86" cy="390.40" r="1.30" fill="#d08a7c" />
<circle cx="380.59" cy="390.40" r="0.32" fill="#cfa69e" />
<circle cx="388.32" cy="390.40" r="2.48" fill="#d06e5c" />
<circle cx="280.10" cy="402.75" r="0.65" fill="#d0614b" />
<circle cx="287.83" cy="402.75" r="1.94" fill="#d08a7c" />
<circle cx="295.56" cy="402.75" r="2.81" fill="#d06e5c" />
<circle cx="303.29" cy="402.75" r="1.40" fill="#cf9f95" />
<circle cx="311.02" cy="402.75" r="1.94" fill="#d05a43" />
<circle cx="318.75" cy="402.75" r="0.43" fill="#cfa69e" />
<circle cx="326.48" cy="402.75" r="2.70" fill="#cf9185" />
<circle cx="334.21" cy="402.75" r="2.81" fill="#d0614b" />
<circle cx="341.94" cy="402.75" r="0.97" fill="#d0533a" />
<circle cx="349.67" cy="402.75" r="1.94" fill="#d08a7c" />
<circle cx="357.40" cy="402.75" r="2.81" fill="#cf988d" />
<circle cx="365.13" cy="402.75" r="2.48" fill="#d06e5c" />
<circle cx="372.86" cy="402.75" r="0.97" fill="#d08a7c" />
<circle cx="380.59" cy="402.75" r="1.08" fill="#d04c32" />
<circle cx="388.32" cy="402.75" r="2.38" fill="#d06e5c" />
<circle cx="280.10" cy="415.10" r="0.22" fill="#cfcfcf" />
<circle cx="287.83" cy="415.10" r="0.22" fill="#cfcfcf" />
<circle cx="295.56" cy="415.10" r="0.86" fill="#cfa69e" />
<circle cx="303.29" cy="415.10" r="0.32" fill="#cfcfcf" />
<circle cx="311.02" cy="415.10" r="0.54" fill="#cfcfcf" />
<circle cx="318.75" cy="415.10" r="0.43" fill="#cfcfcf" />
<circle cx="326.48" cy="415.10" r="1.40" fill="#d08a7c" />
<circle cx="334.21" cy="415.10" r="0.32" fill="#cfcfcf" />
<circle cx="341.94" cy="415.10" r="0.22" fill="#cfcfcf" />
<circle cx="349.67" cy="415.10" r="0.43" fill="#cfcfcf" />
<circle cx="357.40" cy="415.10" r="1.40" fill="#cfaca6" />
<circle cx="365.13" cy="415.10" r="0.32" fill="#cfcfcf" />
<circle cx="372.86" cy="415.10" r="0.22" fill="#cfcfcf" />
<circle cx="380.59" cy="415.10" r="0.22" fill="#cfcfcf" />
<circle cx="388.32" cy="415.10" r="0.32" fill="#cfcfcf" />
<circle cx="280.10" cy="427.45" r="0.86" fill="#d04c32" />
<circle cx="287.83" cy="427.45" r="2.70" fill="#d0533a" />
<circle cx="295.56" cy="427.45" r="2.81" fill="#d0614b" />
<circle cx="303.29" cy="427.45" r="2.81" fill="#d04c32" />
<circle cx="311.02" cy="427.45" r="1.94" fill="#d0614b" />
<circle cx="318.75" cy="427.45" r="0.43" fill="#cfa69e" />
<circle cx="326.48" cy="427.45" r="2.81" fill="#d07c6c" />
<circle cx="334.21" cy="427.45" r="2.16" fill="#cfa69e" />
<circle cx="341.94" cy="427.45" r="1.73" fill="#d04c32" />
<circle cx="349.67" cy="427.45" r="2.81" fill="#d04c32" />
<circle cx="357.40" cy="427.45" r="2.81" fill="#d0614b" />
<circle cx="365.13" cy="427.45" r="2.38" fill="#d0614b" />
<circle cx="372.86" cy="427.45" r="2.16" fill="#d04c32" />
<circle cx="380.59" cy="427.45" r="0.32" fill="#cfa69e" />
<circle cx="388.32" cy="427.45" r="2.38" fill="#d0614b" />
<circle cx="280.10" cy="439.80" r="0.22" fill="#cfcfcf" />
<circle cx="287.83" cy="439.80" r="0.22" fill="#cfcfcf" />
<circle cx="295.56" cy="439.80" r="0.43" fill="#cfcfcf" />
<circle cx="303.29" cy="439.80" r="0.32" fill="#cfcfcf" />
<circle cx="311.02" cy="439.80" r="0.32" fill="#cfcfcf" />
<circle cx="318.75" cy="439.80" r="0.32" fill="#cfcfcf" />
<circle cx="326.48" cy="439.80" r="0.54" fill="#cfcfcf" />
<circle cx="334.21" cy="439.80" r="0.32" fill="#cfcfcf" />
<circle cx="341.94" cy="439.80" r="0.22" fill="#cfcfcf" />
<circle cx="349.67" cy="439.80" r="0.22" fill="#cfcfcf" />
<circle cx="357.40" cy="439.80" r="0.76" fill="#cfcfcf" />
<circle cx="365.13" cy="439.80" r="0.32" fill="#cfcfcf" />
<circle cx="372.86" cy="439.80" r="0.22" fill="#cfcfcf" />
<circle cx="380.59" cy="439.80" r="0.22" fill="#cfcfcf" />
<circle cx="388.32" cy="439.80" r="0.22" fill="#cfcfcf" />
<circle cx="280.10" cy="452.15" r="0.22" fill="#cfcfcf" />
<circle cx="287.83" cy="452.15" r="0.22" fill="#cfcfcf" />
<circle cx="295.56" cy="452.15" r="0.43" fill="#cfcfcf" />
<circle cx="303.29" cy="452.15" r="0.43" fill="#cfcfcf" />
<circle cx="311.02" cy="452.15" r="0.32" fill="#cfcfcf" />
<circle cx="318.75" cy="452.15" r="0.54" fill="#cfcfcf" />
<circle cx="326.48" cy="452.15" r="0.97" fill="#cfcfcf" />
<circle cx="334.21" cy="452.15" r="1.73" fill="#cfcfcf" />
<circle cx="341.94" cy="452.15" r="0.32" fill="#cfcfcf" />
<circle cx="349.67" cy="452.15" r="0.32" fill="#cfcfcf" />
<circle cx="357.40" cy="452.15" r="2.48" fill="#d08374" />
<circle cx="365.13" cy="452.15" r="1.08" fill="#cfcfcf" />
<circle cx="372.86" cy="452.15" r="0.22" fill="#cfcfcf" />
<circle cx="380.59" cy="452.15" r="0.32" fill="#cfcfcf" />
<circle cx="388.32" cy="452.15" r="0.32" fill="#cfcfcf" />
<circle cx="280.10" cy="464.50" r="0.22" fill="#cfcfcf" />
<circle cx="287.83" cy="464.50" r="0.22" fill="#cfcfcf" />
<circle cx="295.56" cy="464.50" r="0.43" fill="#cfcfcf" />
<circle cx="303.29" cy="464.50" r="0.32" fill="#cfcfcf" />
<circle cx="311.02" cy="464.50" r="0.32" fill="#cfcfcf" />
<circle cx="318.75" cy="464.50" r="0.76" fill="#cfcfcf" />
<circle cx="326.48" cy="464.50" r="1.51" fill="#cfcfcf" />
<circle cx="334.21" cy="464.50" r="1.30" fill="#cfcfcf" />
<circle cx="341.94" cy="464.50" r="0.32" fill="#cfcfcf" />
<circle cx="349.67" cy="464.50" r="0.32" fill="#cfcfcf" />
<circle cx="357.40" cy="464.50" r="1.73" fill="#cfcfcf" />
<circle cx="365.13" cy="464.50" r="1.08" fill="#cfcfcf" />
<circle cx="372.86" cy="464.50" r="0.22" fill="#cfcfcf" />
<circle cx="380.59" cy="464.50" r="0.32" fill="#cfcfcf" />
<circle cx="388.32" cy="464.50" r="0.32" fill="#cfcfcf" />
<circle cx="280.10" cy="476.85" r="0.22" fill="#cfcfcf" />
<circle cx="287.83" cy="476.85" r="0.22" fill="#cfcfcf" />
<circle cx="295.56" cy="476.85" r="0.43" fill="#cfcfcf" />
<circle cx="303.29" cy="476.85" r="0.65" fill="#cfcfcf" />
<circle cx="311.02" cy="476.85" r="0.32" fill="#cfcfcf" />
<circle cx="318.75" cy="476.85" r="0.97" fill="#cfb3ae" />
<circle cx="326.48" cy="476.85" r="2.59" fill="#cfa69e" />
<circle cx="334.21" cy="476.85" r="1.51" fill="#cfcfcf" />
<circle cx="341.94" cy="476.85" r="0.22" fill="#cfcfcf" />
<circle cx="349.67" cy="476.85" r="0.32" fill="#cfcfcf" />
<circle cx="357.40" cy="476.85" r="1.73" fill="#cfcfcf" />
<circle cx="365.13" cy="476.85" r="0.76" fill="#cfcfcf" />
<circle cx="372.86" cy="476.85" r="0.22" fill="#cfcfcf" />
<circle cx="380.59" cy="476.85" r="0.32" fill="#cfcfcf" />
<circle cx="388.32" cy="476.85" r="0.22" fill="#cfcfcf" />
<circle cx="280.10" cy="489.20" r="0.22" fill="#cfcfcf" />
<circle cx="287.83" cy="489.20" r="0.22" fill="#cfcfcf" />
<circle cx="295.56" cy="489.20" r="0.43" fill="#cfcfcf" />
<circle cx="303.29" cy="489.20" r="0.43" fill="#cfcfcf" />
<circle cx="311.02" cy="489.20" r="0.32" fill="#cfcfcf" />
<circle cx="318.75" cy="489.20" r="2.70" fill="#d04c32" />
<circle cx="326.48" cy="489.20" r="1.84" fill="#cfcfcf" />
<circle cx="334.21" cy="489.20" r="1.73" fill="#cfcfcf" />
<circle cx="341.94" cy="489.20" r="0.32" fill="#cfcfcf" />
<circle cx="349.67" cy="489.20" r="0.32" fill="#cfcfcf" />
<circle cx="357.40" cy="489.20" r="1.40" fill="#cfcfcf" />
<circle cx="365.13" cy="489.20" r="1.51" fill="#cfcfcf" />
<circle cx="372.86" cy="489.20" r="0.32" fill="#cfcfcf" />
<circle cx="380.59" cy="489.20" r="0.32" fill="#cfcfcf" />
<circle cx="388.32" cy="489.20" r="0.32" fill="#cfcfcf" />
<circle cx="280.10" cy="501.55" r="0.22" fill="#cfcfcf" />
<circle cx="287.83" cy="501.55" r="0.22" fill="#cfcfcf" />
<circle cx="295.56" cy="501.55" r="0.32" fill="#cfcfcf" />
<circle cx="303.29" cy="501.55" r="0.32" fill="#cfcfcf" />
<circle cx="311.02" cy="501.55" r="0.32" fill="#cfcfcf" />
<circle cx="318.75" cy="501.55" r="0.76" fill="#cfcfcf" />
<circle cx="326.48" cy="501.55" r="1.51" fill="#cfcfcf" />
<circle cx="334.21" cy="501.55" r="1.51" fill="#cfcfcf" />
<circle cx="341.94" cy="501.55" r="0.32" fill="#cfcfcf" />
<circle cx="349.67" cy="501.55" r="0.32" fill="#cfcfcf" />
<circle cx="357.40" cy="501.55" r="1.08" fill="#cfcfcf" />
<circle cx="365.13" cy="501.55" r="0.86" fill="#cfcfcf" />
<circle cx="372.86" cy="501.55" r="0.22" fill="#cfcfcf" />
<circle cx="380.59" cy="501.55" r="0.32" fill="#cfcfcf" />
<circle cx="388.32" cy="501.55" r="0.32" fill="#cfcfcf" />
<line x1="275.70" y1="333.70" x2="275.70" y2="509.20" stroke="#222" stroke-width="0.90" />
<line x1="275.30" y1="508.90" x2="393.50" y2="508.90" stroke="#222" stroke-width="0.90" />
<line x1="274.20" y1="341.00" x2="275.70" y2="341.00" stroke="#222" stroke-width="0.60" />
<text x="273.6" y="343.9" font-size="8.00" fill="#e0984a" text-anchor="end">generic#2</text>
<line x1="274.20" y1="353.35" x2="275.70" y2="353.35" stroke="#222" stroke-width="0.60" />
<text x="273.6" y="356.2" font-size="8.00" fill="#f08a84" text-anchor="end">generic#1</text>
<line x1="274.20" y1="365.70" x2="275.70" y2="365.70" stroke="#222" stroke-width="0.60" />
<text x="273.6" y="368.6" font-size="8.00" fill="#e868a8" text-anchor="end">SEG#6</text>
<line x1="274.20" y1="378.05" x2="275.70" y2="378.05" stroke="#222" stroke-width="0.60" />
<text x="273.6" y="380.9" font-size="8.00" fill="#d070c0" text-anchor="end">SEG#5</text>
<line x1="274.20" y1="390.40" x2="275.70" y2="390.40" stroke="#222" stroke-width="0.60" />
<text x="273.6" y="393.3" font-size="8.00" fill="#b47cc8" text-anchor="end">SEG#4</text>
<line x1="274.20" y1="402.75" x2="275.70" y2="402.75" stroke="#222" stroke-width="0.60" />
<text x="273.6" y="405.6" font-size="8.00" fill="#8c84cc" text-anchor="end">SEG#3</text>
<line x1="274.20" y1="415.10" x2="275.70" y2="415.10" stroke="#222" stroke-width="0.60" />
<text x="273.6" y="418.0" font-size="8.00" fill="#4a94d8" text-anchor="end">SEG#2</text>
<line x1="274.20" y1="427.45" x2="275.70" y2="427.45" stroke="#222" stroke-width="0.60" />
<text x="273.6" y="430.3" font-size="8.00" fill="#20b4e8" text-anchor="end">SEG#1</text>
<line x1="274.20" y1="439.80" x2="275.70" y2="439.80" stroke="#222" stroke-width="0.60" />
<text x="273.6" y="442.7" font-size="8.00" fill="#20b8c0" text-anchor="end">control#6</text>
<line x1="274.20" y1="452.15" x2="275.70" y2="452.15" stroke="#222" stroke-width="0.60" />
<text x="273.6" y="455.0" font-size="8.00" fill="#30b894" text-anchor="end">control#5</text>
<line x1="274.20" y1="464.50" x2="275.70" y2="464.50" stroke="#222" stroke-width="0.60" />
<text x="273.6" y="467.4" font-size="8.00" fill="#40b870" text-anchor="end">control#4</text>
<line x1="274.20" y1="476.85" x2="275.70" y2="476.85" stroke="#222" stroke-width="0.60" />
<text x="273.6" y="479.8" font-size="8.00" fill="#58b450" text-anchor="end">control#3</text>
<line x1="274.20" y1="489.20" x2="275.70" y2="489.20" stroke="#222" stroke-width="0.60" />
<text x="273.6" y="492.1" font-size="8.00" fill="#a0aa40" text-anchor="end">control#2</text>
<line x1="274.20" y1="501.55" x2="275.70" y2="501.55" stroke="#222" stroke-width="0.60" />
<text x="273.6" y="504.4" font-size="8.00" fill="#c8a448" text-anchor="end">control#1</text>
<line x1="280.10" y1="508.90" x2="280.10" y2="510.60" stroke="#222" stroke-width="0.60" />
<text x="282.3" y="515.0" font-size="7.80" fill="#333" text-anchor="end" transform="rotate(-45.0 282.3 515.0)">Sox17</text>
<line x1="287.83" y1="508.90" x2="287.83" y2="510.60" stroke="#222" stroke-width="0.60" />
<text x="290.0" y="515.0" font-size="7.80" fill="#333" text-anchor="end" transform="rotate(-45.0 290.0 515.0)">Erg</text>
<line x1="295.56" y1="508.90" x2="295.56" y2="510.60" stroke="#222" stroke-width="0.60" />
<text x="297.8" y="515.0" font-size="7.80" fill="#333" text-anchor="end" transform="rotate(-45.0 297.8 515.0)">Cdh5</text>
<line x1="303.29" y1="508.90" x2="303.29" y2="510.60" stroke="#222" stroke-width="0.60" />
<text x="305.5" y="515.0" font-size="7.80" fill="#333" text-anchor="end" transform="rotate(-45.0 305.5 515.0)">Vegfr2</text>
<line x1="311.02" y1="508.90" x2="311.02" y2="510.60" stroke="#222" stroke-width="0.60" />
<text x="313.2" y="515.0" font-size="7.80" fill="#333" text-anchor="end" transform="rotate(-45.0 313.2 515.0)">Pecam1</text>
<line x1="318.75" y1="508.90" x2="318.75" y2="510.60" stroke="#222" stroke-width="0.60" />
<text x="320.9" y="515.0" font-size="7.80" fill="#333" text-anchor="end" transform="rotate(-45.0 320.9 515.0)">Cdh1</text>
<line x1="326.48" y1="508.90" x2="326.48" y2="510.60" stroke="#222" stroke-width="0.60" />
<text x="328.7" y="515.0" font-size="7.80" fill="#333" text-anchor="end" transform="rotate(-45.0 328.7 515.0)">Cav1</text>
<line x1="334.21" y1="508.90" x2="334.21" y2="510.60" stroke="#222" stroke-width="0.60" />
<text x="336.4" y="515.0" font-size="7.80" fill="#333" text-anchor="end" transform="rotate(-45.0 336.4 515.0)">Sfrp2</text>
<line x1="341.94" y1="508.90" x2="341.94" y2="510.60" stroke="#222" stroke-width="0.60" />
<text x="344.1" y="515.0" font-size="7.80" fill="#333" text-anchor="end" transform="rotate(-45.0 344.1 515.0)">Gja4</text>
<line x1="349.67" y1="508.90" x2="349.67" y2="510.60" stroke="#222" stroke-width="0.60" />
<text x="351.9" y="515.0" font-size="7.80" fill="#333" text-anchor="end" transform="rotate(-45.0 351.9 515.0)">Gja5</text>
<line x1="357.40" y1="508.90" x2="357.40" y2="510.60" stroke="#222" stroke-width="0.60" />
<text x="359.6" y="515.0" font-size="7.80" fill="#333" text-anchor="end" transform="rotate(-45.0 359.6 515.0)">Elfn3</text>
<line x1="365.13" y1="508.90" x2="365.13" y2="510.60" stroke="#222" stroke-width="0.60" />
<text x="367.3" y="515.0" font-size="7.80" fill="#333" text-anchor="end" transform="rotate(-45.0 367.3 515.0)">Notch1</text>
<line x1="372.86" y1="508.90" x2="372.86" y2="510.60" stroke="#222" stroke-width="0.60" />
<text x="375.1" y="515.0" font-size="7.80" fill="#333" text-anchor="end" transform="rotate(-45.0 375.1 515.0)">Dll4</text>
<line x1="380.59" y1="508.90" x2="380.59" y2="510.60" stroke="#222" stroke-width="0.60" />
<text x="382.8" y="515.0" font-size="7.80" fill="#333" text-anchor="end" transform="rotate(-45.0 382.8 515.0)">Vwf</text>
<line x1="388.32" y1="508.90" x2="388.32" y2="510.60" stroke="#222" stroke-width="0.60" />
<text x="390.5" y="515.0" font-size="7.80" fill="#333" text-anchor="end" transform="rotate(-45.0 390.5 515.0)">Icam2</text>
<text x="398.6" y="390.3" font-size="6.80" fill="#222">Percent Expressed</text>
<circle cx="401.70" cy="396.10" r="0.80" fill="#111" />
<text x="406.0" y="398.6" font-size="7.00" fill="#222">25</text>
<circle cx="401.70" cy="402.80" r="1.50" fill="#111" />
<text x="406.0" y="405.3" font-size="7.00" fill="#222">50</text>
<circle cx="401.70" cy="409.30" r="2.10" fill="#111" />
<text x="406.0" y="411.8" font-size="7.00" fill="#222">70</text>
<text x="398.6" y="423.4" font-size="6.80" fill="#222">Average Expression</text>
<rect x="398.70" y="426.00" width="5.90" height="31.30" fill="url(#g_f)" />
<text x="406.6" y="430.1" font-size="6.70" fill="#333" font-style="italic">max</text>
<text x="406.6" y="459.4" font-size="6.70" fill="#333" font-style="italic">min</text>
<text x="237.6" y="325.8" font-size="9.50" fill="#111" font-weight="bold">f</text>
<rect x="476.50" y="317.20" width="16.70" height="5.98" fill="#f42414" />
<rect x="492.90" y="317.20" width="16.70" height="5.98" fill="#d0c8f6" />
<rect x="509.30" y="317.20" width="16.80" height="5.98" fill="#c0b2f8" />
<rect x="525.80" y="317.20" width="16.60" height="5.98" fill="#b8a8f6" />
<rect x="476.50" y="322.88" width="16.70" height="5.98" fill="#f42414" />
<rect x="492.90" y="322.88" width="16.70" height="5.98" fill="#e0daf2" />
<rect x="509.30" y="322.88" width="16.80" height="5.98" fill="#a08ef8" />
<rect x="525.80" y="322.88" width="16.60" height="5.98" fill="#b8a8f6" />
<rect x="476.50" y="328.56" width="16.70" height="5.98" fill="#f42414" />
<rect x="492.90" y="328.56" width="16.70" height="5.98" fill="#d0c2f6" />
<rect x="509.30" y="328.56" width="16.80" height="5.98" fill="#e0daf2" />
<rect x="525.80" y="328.56" width="16.60" height="5.98" fill="#9282f6" />
<rect x="476.50" y="334.25" width="16.70" height="5.98" fill="#f42414" />
<rect x="492.90" y="334.25" width="16.70" height="5.98" fill="#d8d2f2" />
<rect x="509.30" y="334.25" width="16.80" height="5.98" fill="#e0daf0" />
<rect x="525.80" y="334.25" width="16.60" height="5.98" fill="#8a74f6" />
<rect x="476.50" y="339.93" width="16.70" height="5.98" fill="#f42414" />
<rect x="492.90" y="339.93" width="16.70" height="5.98" fill="#e0daf0" />
<rect x="509.30" y="339.93" width="16.80" height="5.98" fill="#d0c2f6" />
<rect x="525.80" y="339.93" width="16.60" height="5.98" fill="#9282f6" />
<rect x="476.50" y="345.61" width="16.70" height="5.98" fill="#f42414" />
<rect x="492.90" y="345.61" width="16.70" height="5.98" fill="#b8aaf6" />
<rect x="509.30" y="345.61" width="16.80" height="5.98" fill="#e8e6f0" />
<rect x="525.80" y="345.61" width="16.60" height="5.98" fill="#9a8af6" />
<rect x="476.50" y="351.29" width="16.70" height="5.98" fill="#f42414" />
<rect x="492.90" y="351.29" width="16.70" height="5.98" fill="#b8aaf6" />
<rect x="509.30" y="351.29" width="16.80" height="5.98" fill="#e0daf0" />
<rect x="525.80" y="351.29" width="16.60" height="5.98" fill="#a898f6" />
<rect x="476.50" y="356.98" width="16.70" height="5.98" fill="#f42414" />
<rect x="492.90" y="356.98" width="16.70" height="5.98" fill="#a08af8" />
<rect x="509.30" y="356.98" width="16.80" height="5.98" fill="#e8e6f0" />
<rect x="525.80" y="356.98" width="16.60" height="5.98" fill="#b0a0f6" />
<rect x="476.50" y="362.66" width="16.70" height="5.98" fill="#f42414" />
<rect x="492.90" y="362.66" width="16.70" height="5.98" fill="#a898f6" />
<rect x="509.30" y="362.66" width="16.80" height="5.98" fill="#d8d0f6" />
<rect x="525.80" y="362.66" width="16.60" height="5.98" fill="#b0a0f6" />
<rect x="476.50" y="368.34" width="16.70" height="5.98" fill="#f42414" />
<rect x="492.90" y="368.34" width="16.70" height="5.98" fill="#a898f6" />
<rect x="509.30" y="368.34" width="16.80" height="5.98" fill="#d8d0f6" />
<rect x="525.80" y="368.34" width="16.60" height="5.98" fill="#b0a0f6" />
<rect x="476.50" y="374.02" width="16.70" height="5.98" fill="#d8d0f2" />
<rect x="492.90" y="374.02" width="16.70" height="5.98" fill="#a898f6" />
<rect x="509.30" y="374.02" width="16.80" height="5.98" fill="#f42414" />
<rect x="525.80" y="374.02" width="16.60" height="5.98" fill="#b0a0f6" />
<rect x="476.50" y="379.71" width="16.70" height="5.98" fill="#d0c8f2" />
<rect x="492.90" y="379.71" width="16.70" height="5.98" fill="#a898f6" />
<rect x="509.30" y="379.71" width="16.80" height="5.98" fill="#f42414" />
<rect x="525.80" y="379.71" width="16.60" height="5.98" fill="#b0a0f6" />
<rect x="476.50" y="385.39" width="16.70" height="5.98" fill="#d0c8f2" />
<rect x="492.90" y="385.39" width="16.70" height="5.98" fill="#a898f6" />
<rect x="509.30" y="385.39" width="16.80" height="5.98" fill="#f42414" />
<rect x="525.80" y="385.39" width="16.60" height="5.98" fill="#a898f6" />
<rect x="476.50" y="391.07" width="16.70" height="5.98" fill="#c8c0f2" />
<rect x="492.90" y="391.07" width="16.70" height="5.98" fill="#b0a0f6" />
<rect x="509.30" y="391.07" width="16.80" height="5.98" fill="#f42414" />
<rect x="525.80" y="391.07" width="16.60" height="5.98" fill="#9888f6" />
<rect x="476.50" y="396.75" width="16.70" height="5.98" fill="#b8a8f6" />
<rect x="492.90" y="396.75" width="16.70" height="5.98" fill="#b0a0f6" />
<rect x="509.30" y="396.75" width="16.80" height="5.98" fill="#f42414" />
<rect x="525.80" y="396.75" width="16.60" height="5.98" fill="#c8c0f6" />
<rect x="476.50" y="402.44" width="16.70" height="5.98" fill="#b8a8f6" />
<rect x="492.90" y="402.44" width="16.70" height="5.98" fill="#b0a0f6" />
<rect x="509.30" y="402.44" width="16.80" height="5.98" fill="#f42414" />
<rect x="525.80" y="402.44" width="16.60" height="5.98" fill="#c0b2f6" />
<rect x="476.50" y="408.12" width="16.70" height="5.98" fill="#b8a8f6" />
<rect x="492.90" y="408.12" width="16.70" height="5.98" fill="#b0a0f6" />
<rect x="509.30" y="408.12" width="16.80" height="5.98" fill="#f42414" />
<rect x="525.80" y="408.12" width="16.60" height="5.98" fill="#c0b2f6" />
<rect x="476.50" y="413.80" width="16.70" height="5.98" fill="#b8b0f6" />
<rect x="492.90" y="413.80" width="16.70" height="5.98" fill="#b0a0f6" />
<rect x="509.30" y="413.80" width="16.80" height="5.98" fill="#f42414" />
<rect x="525.80" y="413.80" width="16.60" height="5.98" fill="#c0b8f6" />
<rect x="476.50" y="419.49" width="16.70" height="5.98" fill="#b8b0f6" />
<rect x="492.90" y="419.49" width="16.70" height="5.98" fill="#b0a0f6" />
<rect x="509.30" y="419.49" width="16.80" height="5.98" fill="#f42414" />
<rect x="525.80" y="419.49" width="16.60" height="5.98" fill="#c0b8f6" />
<rect x="476.50" y="425.17" width="16.70" height="5.98" fill="#9888f6" />
<rect x="492.90" y="425.17" width="16.70" height="5.98" fill="#b0a0f6" />
<rect x="509.30" y="425.17" width="16.80" height="5.98" fill="#f03828" />
<rect x="525.80" y="425.17" width="16.60" height="5.98" fill="#f0e8e6" />
<rect x="476.50" y="430.85" width="16.70" height="5.98" fill="#b8a8f6" />
<rect x="492.90" y="430.85" width="16.70" height="5.98" fill="#f42414" />
<rect x="509.30" y="430.85" width="16.80" height="5.98" fill="#e8e2f0" />
<rect x="525.80" y="430.85" width="16.60" height="5.98" fill="#9888f6" />
<rect x="476.50" y="436.53" width="16.70" height="5.98" fill="#b8a8f6" />
<rect x="492.90" y="436.53" width="16.70" height="5.98" fill="#f42414" />
<rect x="509.30" y="436.53" width="16.80" height="5.98" fill="#d0c8f6" />
<rect x="525.80" y="436.53" width="16.60" height="5.98" fill="#9888f6" />
<rect x="476.50" y="442.21" width="16.70" height="5.98" fill="#d8d0f0" />
<rect x="492.90" y="442.21" width="16.70" height="5.98" fill="#f42414" />
<rect x="509.30" y="442.21" width="16.80" height="5.98" fill="#d0c8f6" />
<rect x="525.80" y="442.21" width="16.60" height="5.98" fill="#9080f6" />
<rect x="476.50" y="447.90" width="16.70" height="5.98" fill="#a898f6" />
<rect x="492.90" y="447.90" width="16.70" height="5.98" fill="#f42414" />
<rect x="509.30" y="447.90" width="16.80" height="5.98" fill="#d0c8f6" />
<rect x="525.80" y="447.90" width="16.60" height="5.98" fill="#b0a0f6" />
<rect x="476.50" y="453.58" width="16.70" height="5.98" fill="#9888f6" />
<rect x="492.90" y="453.58" width="16.70" height="5.98" fill="#f42414" />
<rect x="509.30" y="453.58" width="16.80" height="5.98" fill="#c0b8f6" />
<rect x="525.80" y="453.58" width="16.60" height="5.98" fill="#c8c0f6" />
<rect x="476.50" y="459.26" width="16.70" height="5.98" fill="#9888f6" />
<rect x="492.90" y="459.26" width="16.70" height="5.98" fill="#f42414" />
<rect x="509.30" y="459.26" width="16.80" height="5.98" fill="#c8c0f6" />
<rect x="525.80" y="459.26" width="16.60" height="5.98" fill="#c8c0f6" />
<rect x="476.50" y="464.94" width="16.70" height="5.98" fill="#a898f6" />
<rect x="492.90" y="464.94" width="16.70" height="5.98" fill="#f42414" />
<rect x="509.30" y="464.94" width="16.80" height="5.98" fill="#a898f6" />
<rect x="525.80" y="464.94" width="16.60" height="5.98" fill="#c8c0f6" />
<rect x="476.50" y="470.63" width="16.70" height="5.98" fill="#a090f6" />
<rect x="492.90" y="470.63" width="16.70" height="5.98" fill="#f42414" />
<rect x="509.30" y="470.63" width="16.80" height="5.98" fill="#b0a0f6" />
<rect x="525.80" y="470.63" width="16.60" height="5.98" fill="#e8e2f0" />
<rect x="476.50" y="476.31" width="16.70" height="5.98" fill="#a090f6" />
<rect x="492.90" y="476.31" width="16.70" height="5.98" fill="#f42414" />
<rect x="509.30" y="476.31" width="16.80" height="5.98" fill="#b0a0f6" />
<rect x="525.80" y="476.31" width="16.60" height="5.98" fill="#d8d0f0" />
<rect x="476.50" y="481.99" width="16.70" height="5.98" fill="#a090f6" />
<rect x="492.90" y="481.99" width="16.70" height="5.98" fill="#f42414" />
<rect x="509.30" y="481.99" width="16.80" height="5.98" fill="#a898f6" />
<rect x="525.80" y="481.99" width="16.60" height="5.98" fill="#d8d0f0" />
<rect x="476.50" y="487.67" width="16.70" height="5.98" fill="#a090f6" />
<rect x="492.90" y="487.67" width="16.70" height="5.98" fill="#f0ece8" />
<rect x="509.30" y="487.67" width="16.80" height="5.98" fill="#a898f6" />
<rect x="525.80" y="487.67" width="16.60" height="5.98" fill="#f42414" />
<rect x="476.50" y="493.36" width="16.70" height="5.98" fill="#a090f6" />
<rect x="492.90" y="493.36" width="16.70" height="5.98" fill="#e8e4f0" />
<rect x="509.30" y="493.36" width="16.80" height="5.98" fill="#a898f6" />
<rect x="525.80" y="493.36" width="16.60" height="5.98" fill="#f42414" />
<rect x="476.50" y="499.04" width="16.70" height="5.98" fill="#9888f6" />
<rect x="492.90" y="499.04" width="16.70" height="5.98" fill="#ece8ec" />
<rect x="509.30" y="499.04" width="16.80" height="5.98" fill="#a898f6" />
<rect x="525.80" y="499.04" width="16.60" height="5.98" fill="#f42414" />
<rect x="476.50" y="504.72" width="16.70" height="5.98" fill="#9888f6" />
<rect x="492.90" y="504.72" width="16.70" height="5.98" fill="#e8e4f0" />
<rect x="509.30" y="504.72" width="16.80" height="5.98" fill="#a898f6" />
<rect x="525.80" y="504.72" width="16.60" height="5.98" fill="#f42414" />
<rect x="476.50" y="510.40" width="16.70" height="5.98" fill="#a090f6" />
<rect x="492.90" y="510.40" width="16.70" height="5.98" fill="#d8d0f0" />
<rect x="509.30" y="510.40" width="16.80" height="5.98" fill="#a898f6" />
<rect x="525.80" y="510.40" width="16.60" height="5.98" fill="#f42414" />
<rect x="476.50" y="516.09" width="16.70" height="5.98" fill="#a090f6" />
<rect x="492.90" y="516.09" width="16.70" height="5.98" fill="#d8d0f0" />
<rect x="509.30" y="516.09" width="16.80" height="5.98" fill="#b0a0f6" />
<rect x="525.80" y="516.09" width="16.60" height="5.98" fill="#f42414" />
<rect x="476.50" y="521.77" width="16.70" height="5.98" fill="#9888f6" />
<rect x="492.90" y="521.77" width="16.70" height="5.98" fill="#d8d0f0" />
<rect x="509.30" y="521.77" width="16.80" height="5.98" fill="#b0a8f6" />
<rect x="525.80" y="521.77" width="16.60" height="5.98" fill="#f42414" />
<rect x="476.50" y="527.45" width="16.70" height="5.98" fill="#c8c0f6" />
<rect x="492.90" y="527.45" width="16.70" height="5.98" fill="#c0b0f6" />
<rect x="509.30" y="527.45" width="16.80" height="5.98" fill="#9888f6" />
<rect x="525.80" y="527.45" width="16.60" height="5.98" fill="#f42414" />
<rect x="476.50" y="533.13" width="16.70" height="5.98" fill="#d0c8f0" />
<rect x="492.90" y="533.13" width="16.70" height="5.98" fill="#c0b0f6" />
<rect x="509.30" y="533.13" width="16.80" height="5.98" fill="#9888f6" />
<rect x="525.80" y="533.13" width="16.60" height="5.98" fill="#f42414" />
<rect x="476.50" y="538.82" width="16.70" height="5.98" fill="#e8e8ee" />
<rect x="492.90" y="538.82" width="16.70" height="5.98" fill="#b8a8f6" />
<rect x="509.30" y="538.82" width="16.80" height="5.98" fill="#9888f6" />
<rect x="525.80" y="538.82" width="16.60" height="5.98" fill="#f42414" />
<text x="543.4" y="322.1" font-size="6.1" fill="#111"><tspan font-style="italic">Tcf3</tspan> extended (28g)</text>
<text x="543.4" y="327.8" font-size="6.1" fill="#111"><tspan font-style="italic">Bhlhe40</tspan> (34g)</text>
<text x="543.4" y="333.5" font-size="6.1" fill="#111"><tspan font-style="italic">Nfe2l3</tspan> (22g)</text>
<text x="543.4" y="339.2" font-size="6.1" fill="#111"><tspan font-style="italic">Elk3</tspan> (1354g)</text>
<text x="543.4" y="344.9" font-size="6.1" fill="#111"><tspan font-style="italic">Zfp317</tspan> (25g)</text>
<text x="543.4" y="350.6" font-size="6.1" fill="#111"><tspan font-style="italic">Erg</tspan> extended (33g)</text>
<text x="543.4" y="356.2" font-size="6.1" fill="#111"><tspan font-style="italic">Prdm1</tspan> extended (31g)</text>
<text x="543.4" y="361.9" font-size="6.1" fill="#111"><tspan font-style="italic">Zfp143</tspan> (11g)</text>
<text x="543.4" y="367.6" font-size="6.1" fill="#111"><tspan font-style="italic">Zfp764</tspan> (13g)</text>
<text x="543.4" y="373.3" font-size="6.1" fill="#111"><tspan font-style="italic">Irf8</tspan> extended (76g)</text>
<text x="543.4" y="379.0" font-size="6.1" fill="#111"><tspan font-style="italic">Nfyb</tspan> extended (203g)</text>
<text x="543.4" y="384.6" font-size="6.1" fill="#111"><tspan font-style="italic">Nfya</tspan> (23g)</text>
<text x="543.4" y="390.3" font-size="6.1" fill="#111"><tspan font-style="italic">Mybl1</tspan> (24g)</text>
<text x="543.4" y="396.0" font-size="6.1" fill="#111"><tspan font-style="italic">Pbx3</tspan> extended (254g)</text>
<text x="543.4" y="401.7" font-size="6.1" fill="#111"><tspan font-style="italic">E2f1</tspan> (160g)</text>
<text x="543.4" y="407.4" font-size="6.1" fill="#111"><tspan font-style="italic">Tfdp1</tspan> (243g)</text>
<text x="543.4" y="413.1" font-size="6.1" fill="#111"><tspan font-style="italic">E2f7</tspan> (66g)</text>
<text x="543.4" y="418.7" font-size="6.1" fill="#111"><tspan font-style="italic">Taf6</tspan> extended (41g)</text>
<text x="543.4" y="424.4" font-size="6.1" fill="#111"><tspan font-style="italic">E2f8</tspan> (42g)</text>
<text x="543.4" y="430.1" font-size="6.1" fill="#111"><tspan font-style="italic">Prrx2</tspan> (11g)</text>
<text x="543.4" y="435.8" font-size="6.1" fill="#111"><tspan font-style="italic">Cux1</tspan> (18g)</text>
<text x="543.4" y="441.5" font-size="6.1" fill="#111"><tspan font-style="italic">Trps1</tspan> (12g)</text>
<text x="543.4" y="447.2" font-size="6.1" fill="#111"><tspan font-style="italic">Rfx7</tspan> (11g)</text>
<text x="543.4" y="452.8" font-size="6.1" fill="#111"><tspan font-style="italic">Etv1</tspan> extended (122g)</text>
<text x="543.4" y="458.5" font-size="6.1" fill="#111"><tspan font-style="italic">Nfia</tspan> extended (21g)</text>
<text x="543.4" y="464.2" font-size="6.1" fill="#111"><tspan font-style="italic">Gata4</tspan> extended (195g)</text>
<text x="543.4" y="469.9" font-size="6.1" fill="#111"><tspan font-style="italic">Hif1a</tspan> (82g)</text>
<text x="543.4" y="475.6" font-size="6.1" fill="#111"><tspan font-style="italic">Elf1</tspan> extended (31g)</text>
<text x="543.4" y="481.3" font-size="6.1" fill="#111"><tspan font-style="italic">Arntl</tspan> extended (13g)</text>
<text x="543.4" y="486.9" font-size="6.1" fill="#111"><tspan font-style="italic">Atf6</tspan> extended (26g)</text>
<text x="543.4" y="492.6" font-size="6.1" fill="#111"><tspan font-style="italic">Stat1</tspan> (91g)</text>
<text x="543.4" y="498.3" font-size="6.1" fill="#111"><tspan font-style="italic">Irf7</tspan> (116g)</text>
<text x="543.4" y="504.0" font-size="6.1" fill="#111"><tspan font-style="italic">Stat2</tspan> extended (158g)</text>
<text x="543.4" y="509.7" font-size="6.1" fill="#111"><tspan font-style="italic">Nlc1</tspan> extended (14g)</text>
<text x="543.4" y="515.3" font-size="6.1" fill="#111"><tspan font-style="italic">Cebpb</tspan> (15g)</text>
<text x="543.4" y="521.0" font-size="6.1" fill="#111"><tspan font-style="italic">Maf</tspan> extended (60g)</text>
<text x="543.4" y="526.7" font-size="6.1" fill="#111"><tspan font-style="italic">Hsf4</tspan> (17g)</text>
<text x="543.4" y="532.4" font-size="6.1" fill="#111"><tspan font-style="italic">Thap11</tspan> (71g)</text>
<text x="543.4" y="538.1" font-size="6.1" fill="#111"><tspan font-style="italic">Atf6b</tspan> (36g)</text>
<text x="543.4" y="543.8" font-size="6.1" fill="#111"><tspan font-style="italic">Zfp580</tspan> extended (44g)</text>
<line x1="468.30" y1="344.30" x2="468.30" y2="524.00" stroke="#555" stroke-width="0.50" />
<line x1="469.40" y1="423.00" x2="469.40" y2="478.00" stroke="#555" stroke-width="0.50" />
<line x1="474.20" y1="321.00" x2="474.20" y2="372.00" stroke="#555" stroke-width="0.50" />
<line x1="474.50" y1="377.00" x2="474.50" y2="428.00" stroke="#555" stroke-width="0.50" />
<line x1="474.50" y1="433.00" x2="474.50" y2="486.00" stroke="#555" stroke-width="0.50" />
<line x1="473.60" y1="509.70" x2="473.60" y2="541.60" stroke="#555" stroke-width="0.50" />
<line x1="473.00" y1="490.00" x2="473.00" y2="512.00" stroke="#555" stroke-width="0.50" />
<line x1="468.30" y1="344.30" x2="474.20" y2="344.30" stroke="#555" stroke-width="0.50" />
<line x1="468.30" y1="524.00" x2="473.50" y2="524.00" stroke="#555" stroke-width="0.50" />
<line x1="469.40" y1="413.00" x2="474.50" y2="413.00" stroke="#555" stroke-width="0.50" />
<line x1="469.40" y1="451.80" x2="474.50" y2="451.80" stroke="#555" stroke-width="0.50" />
<line x1="468.30" y1="440.00" x2="469.40" y2="440.00" stroke="#555" stroke-width="0.50" />
<line x1="473.00" y1="511.00" x2="473.60" y2="511.00" stroke="#555" stroke-width="0.50" />
<line x1="474.75" y1="320.04" x2="476.50" y2="320.04" stroke="#555" stroke-width="0.35" />
<line x1="474.89" y1="325.72" x2="476.50" y2="325.72" stroke="#555" stroke-width="0.35" />
<line x1="474.95" y1="331.41" x2="476.50" y2="331.41" stroke="#555" stroke-width="0.35" />
<line x1="475.13" y1="337.09" x2="476.50" y2="337.09" stroke="#555" stroke-width="0.35" />
<line x1="474.89" y1="342.77" x2="476.50" y2="342.77" stroke="#555" stroke-width="0.35" />
<line x1="475.11" y1="348.45" x2="476.50" y2="348.45" stroke="#555" stroke-width="0.35" />
<line x1="474.03" y1="354.14" x2="476.50" y2="354.14" stroke="#555" stroke-width="0.35" />
<line x1="474.56" y1="359.82" x2="476.50" y2="359.82" stroke="#555" stroke-width="0.35" />
<line x1="475.13" y1="365.50" x2="476.50" y2="365.50" stroke="#555" stroke-width="0.35" />
<line x1="474.78" y1="371.18" x2="476.50" y2="371.18" stroke="#555" stroke-width="0.35" />
<line x1="475.08" y1="376.87" x2="476.50" y2="376.87" stroke="#555" stroke-width="0.35" />
<line x1="474.14" y1="382.55" x2="476.50" y2="382.55" stroke="#555" stroke-width="0.35" />
<line x1="474.56" y1="388.23" x2="476.50" y2="388.23" stroke="#555" stroke-width="0.35" />
<line x1="474.30" y1="393.91" x2="476.50" y2="393.91" stroke="#555" stroke-width="0.35" />
<line x1="474.65" y1="399.60" x2="476.50" y2="399.60" stroke="#555" stroke-width="0.35" />
<line x1="474.69" y1="405.28" x2="476.50" y2="405.28" stroke="#555" stroke-width="0.35" />
<line x1="474.02" y1="410.96" x2="476.50" y2="410.96" stroke="#555" stroke-width="0.35" />
<line x1="474.26" y1="416.64" x2="476.50" y2="416.64" stroke="#555" stroke-width="0.35" />
<line x1="474.34" y1="422.33" x2="476.50" y2="422.33" stroke="#555" stroke-width="0.35" />
<line x1="475.10" y1="428.01" x2="476.50" y2="428.01" stroke="#555" stroke-width="0.35" />
<line x1="474.92" y1="433.69" x2="476.50" y2="433.69" stroke="#555" stroke-width="0.35" />
<line x1="474.19" y1="439.37" x2="476.50" y2="439.37" stroke="#555" stroke-width="0.35" />
<line x1="474.96" y1="445.06" x2="476.50" y2="445.06" stroke="#555" stroke-width="0.35" />
<line x1="474.17" y1="450.74" x2="476.50" y2="450.74" stroke="#555" stroke-width="0.35" />
<line x1="474.74" y1="456.42" x2="476.50" y2="456.42" stroke="#555" stroke-width="0.35" />
<line x1="474.15" y1="462.10" x2="476.50" y2="462.10" stroke="#555" stroke-width="0.35" />
<line x1="474.00" y1="467.79" x2="476.50" y2="467.79" stroke="#555" stroke-width="0.35" />
<line x1="475.05" y1="473.47" x2="476.50" y2="473.47" stroke="#555" stroke-width="0.35" />
<line x1="474.25" y1="479.15" x2="476.50" y2="479.15" stroke="#555" stroke-width="0.35" />
<line x1="474.26" y1="484.83" x2="476.50" y2="484.83" stroke="#555" stroke-width="0.35" />
<line x1="475.18" y1="490.52" x2="476.50" y2="490.52" stroke="#555" stroke-width="0.35" />
<line x1="475.05" y1="496.20" x2="476.50" y2="496.20" stroke="#555" stroke-width="0.35" />
<line x1="474.35" y1="501.88" x2="476.50" y2="501.88" stroke="#555" stroke-width="0.35" />
<line x1="475.15" y1="507.56" x2="476.50" y2="507.56" stroke="#555" stroke-width="0.35" />
<line x1="474.65" y1="513.25" x2="476.50" y2="513.25" stroke="#555" stroke-width="0.35" />
<line x1="474.81" y1="518.93" x2="476.50" y2="518.93" stroke="#555" stroke-width="0.35" />
<line x1="474.25" y1="524.61" x2="476.50" y2="524.61" stroke="#555" stroke-width="0.35" />
<line x1="475.13" y1="530.29" x2="476.50" y2="530.29" stroke="#555" stroke-width="0.35" />
<line x1="474.83" y1="535.98" x2="476.50" y2="535.98" stroke="#555" stroke-width="0.35" />
<line x1="475.16" y1="541.66" x2="476.50" y2="541.66" stroke="#555" stroke-width="0.35" />
<text x="593.8" y="413.9" font-size="8.00" fill="#222">Regulon Activity</text>
<rect x="609.90" y="419.90" width="6.40" height="30.00" fill="url(#g_g)" />
<text x="616.6" y="420.8" font-size="6.50" fill="#333" font-style="italic">max</text>
<text x="616.6" y="452.2" font-size="6.50" fill="#333" font-style="italic">min</text>
<text x="460.8" y="326.0" font-size="9.50" fill="#111" font-weight="bold">g</text>
<text x="488.7" y="552.0" font-size="8.20" fill="#40c090" text-anchor="end" transform="rotate(-30.0 488.7 552.0)">SEG#1</text>
<text x="505.1" y="552.0" font-size="8.20" fill="#28b0e8" text-anchor="end" transform="rotate(-30.0 505.1 552.0)">SEG#3</text>
<text x="521.5" y="552.0" font-size="8.20" fill="#c080c8" text-anchor="end" transform="rotate(-30.0 521.5 552.0)">SEG#4</text>
<text x="538.0" y="552.0" font-size="8.20" fill="#e070b0" text-anchor="end" transform="rotate(-30.0 538.0 552.0)">SEG#5</text>
<circle cx="205.60" cy="622.40" r="36.90" fill="#dcb2c2" />
<circle cx="239.10" cy="623.70" r="19.90" fill="#f2e2c8" />
<circle cx="205.60" cy="622.40" r="36.90" fill="#d6a6ac" clip-path="url(#c_i_small)"/>
<circle cx="205.60" cy="622.40" r="36.90" fill="none" stroke="#b45a7c" stroke-width="1.5"/>
<circle cx="239.10" cy="623.70" r="19.90" fill="none" stroke="#d4a454" stroke-width="1.5"/>
<text x="151.5" y="587.6" font-size="8.00" fill="#b4587a" text-anchor="middle">aiEC conserved</text>
<text x="152.0" y="597.5" font-size="8.00" fill="#b4587a" text-anchor="middle">marker genes</text>
<text x="241.6" y="602.5" font-size="8" fill="#d0a050"><tspan font-style="italic">Elk3</tspan> regulon</text>
<text x="175.8" y="610.7" font-size="8.00" fill="#222" font-style="italic">Pecam1</text>
<text x="175.8" y="620.6" font-size="8.00" fill="#222" font-style="italic">Dll4</text>
<text x="175.8" y="630.3" font-size="8.00" fill="#222" font-style="italic">Kdr</text>
<text x="175.8" y="640.2" font-size="8.00" fill="#222" font-style="italic">Icam2</text>
<text x="205.6" y="625.3" font-size="8.00" fill="#222" text-anchor="middle">3929</text>
<text x="230.4" y="620.4" font-size="8.00" fill="#222" text-anchor="middle">812</text>
<text x="230.4" y="630.3" font-size="8.00" fill="#222" text-anchor="middle">(60%)</text>
<text x="252.8" y="620.4" font-size="8.00" fill="#222" text-anchor="middle">542</text>
<text x="253.3" y="630.3" font-size="8.00" fill="#222" text-anchor="middle">(40%)</text>
<line x1="234.20" y1="634.50" x2="242.90" y2="648.10" stroke="#222" stroke-width="0.60" />
<text x="242.9" y="652.6" font-size="8.00" fill="#222" font-style="italic">Cdh5</text>
<text x="242.9" y="662.6" font-size="8.00" fill="#222" font-style="italic">Gja5</text>
<text x="242.9" y="672.0" font-size="8.00" fill="#222" font-style="italic">Egfl7</text>
<text x="242.9" y="681.9" font-size="8.00" fill="#222" font-style="italic">Notch1</text>
<text x="136.6" y="571.3" font-size="9.50" fill="#111" font-weight="bold">i</text>
<circle cx="343.40" cy="614.90" r="27.30" fill="#f2e2c8" />
<circle cx="370.30" cy="615.50" r="27.60" fill="#eab8be" />
<circle cx="356.80" cy="640.00" r="27.60" fill="#bcdcc4" />
<circle cx="370.30" cy="615.50" r="27.60" fill="#e2b0a2" clip-path="url(#cjE)"/>
<circle cx="356.80" cy="640.00" r="27.60" fill="#c8c8a4" clip-path="url(#cjE)"/>
<circle cx="356.80" cy="640.00" r="27.60" fill="#b2aea4" clip-path="url(#cjS)"/>
<g clip-path="url(#cjE)">
<circle cx="356.80" cy="640.00" r="27.60" fill="#b8a884" clip-path="url(#cjS)"/>
</g>
<circle cx="343.40" cy="614.90" r="27.30" fill="none" stroke="#d4a454" stroke-width="1.5"/>
<circle cx="370.30" cy="615.50" r="27.60" fill="none" stroke="#c43038" stroke-width="1.5"/>
<circle cx="356.80" cy="640.00" r="27.60" fill="none" stroke="#34a044" stroke-width="1.5"/>
<text x="330.9" y="615.0" font-size="8.00" fill="#222" text-anchor="middle">1015</text>
<text x="356.4" y="606.8" font-size="8.00" fill="#222" text-anchor="middle">40</text>
<text x="381.4" y="615.0" font-size="8.00" fill="#222" text-anchor="middle">535</text>
<text x="357.4" y="625.6" font-size="8.00" fill="#222" text-anchor="middle">157</text>
<text x="341.1" y="640.2" font-size="8.00" fill="#222" text-anchor="middle">142</text>
<text x="371.7" y="640.2" font-size="8.00" fill="#222" text-anchor="middle">1192</text>
<text x="357.0" y="658.5" font-size="8.00" fill="#222" text-anchor="middle">1904</text>
<line x1="351.30" y1="625.80" x2="317.60" y2="639.70" stroke="#222" stroke-width="0.60" />
<text x="305.9" y="646.6" font-size="8.00" fill="#222" font-style="italic">Cdh5</text>
<text x="305.9" y="656.8" font-size="8.00" fill="#222" font-style="italic">Gja5</text>
<text x="305.9" y="666.6" font-size="8.00" fill="#222" font-style="italic">Notch1</text>
<text x="331.9" y="585.8" font-size="8" fill="#d0a050" text-anchor="end"><tspan font-style="italic">Elk3</tspan> regulon</text>
<text x="381.2" y="587.0" font-size="8.00" fill="#c43038">H3K27ac SEG</text>
<text x="357.0" y="674.9" font-size="8.00" fill="#34a044" text-anchor="middle">H3K27ac HEC</text>
<text x="294.9" y="571.0" font-size="9.50" fill="#111" font-weight="bold">j</text>
<rect x="532.30" y="584.00" width="116.50" height="136.70" fill="#fff" stroke="#b8b8b8" stroke-width="0.6"/>
<line x1="532.60" y1="593.80" x2="648.50" y2="593.80" stroke="#ececec" stroke-width="0.60" />
<line x1="530.60" y1="593.80" x2="532.30" y2="593.80" stroke="#666" stroke-width="0.50" />
<line x1="532.60" y1="610.50" x2="648.50" y2="610.50" stroke="#ececec" stroke-width="0.60" />
<line x1="530.60" y1="610.50" x2="532.30" y2="610.50" stroke="#666" stroke-width="0.50" />
<line x1="532.60" y1="627.30" x2="648.50" y2="627.30" stroke="#ececec" stroke-width="0.60" />
<line x1="530.60" y1="627.30" x2="532.30" y2="627.30" stroke="#666" stroke-width="0.50" />
<line x1="532.60" y1="644.00" x2="648.50" y2="644.00" stroke="#ececec" stroke-width="0.60" />
<line x1="530.60" y1="644.00" x2="532.30" y2="644.00" stroke="#666" stroke-width="0.50" />
<line x1="532.60" y1="660.80" x2="648.50" y2="660.80" stroke="#ececec" stroke-width="0.60" />
<line x1="530.60" y1="660.80" x2="532.30" y2="660.80" stroke="#666" stroke-width="0.50" />
<line x1="532.60" y1="677.30" x2="648.50" y2="677.30" stroke="#ececec" stroke-width="0.60" />
<line x1="530.60" y1="677.30" x2="532.30" y2="677.30" stroke="#666" stroke-width="0.50" />
<line x1="532.60" y1="694.30" x2="648.50" y2="694.30" stroke="#ececec" stroke-width="0.60" />
<line x1="530.60" y1="694.30" x2="532.30" y2="694.30" stroke="#666" stroke-width="0.50" />
<line x1="532.60" y1="710.80" x2="648.50" y2="710.80" stroke="#ececec" stroke-width="0.60" />
<line x1="530.60" y1="710.80" x2="532.30" y2="710.80" stroke="#666" stroke-width="0.50" />
<line x1="554.00" y1="584.30" x2="554.00" y2="720.40" stroke="#ececec" stroke-width="0.60" />
<line x1="554.00" y1="720.70" x2="554.00" y2="722.30" stroke="#666" stroke-width="0.50" />
<line x1="590.40" y1="584.30" x2="590.40" y2="720.40" stroke="#ececec" stroke-width="0.60" />
<line x1="590.40" y1="720.70" x2="590.40" y2="722.30" stroke="#666" stroke-width="0.50" />
<line x1="627.30" y1="584.30" x2="627.30" y2="720.40" stroke="#ececec" stroke-width="0.60" />
<line x1="627.30" y1="720.70" x2="627.30" y2="722.30" stroke="#666" stroke-width="0.50" />
<circle cx="554.00" cy="593.80" r="2.90" fill="#e05a58" stroke="#555" stroke-width="0.35"/>
<circle cx="590.40" cy="593.80" r="2.70" fill="#e05a58" stroke="#555" stroke-width="0.35"/>
<circle cx="627.30" cy="593.80" r="2.00" fill="#e05a58" stroke="#555" stroke-width="0.35"/>
<circle cx="554.00" cy="610.50" r="2.50" fill="#e05a58" stroke="#555" stroke-width="0.35"/>
<circle cx="590.40" cy="610.50" r="2.00" fill="#e05a58" stroke="#555" stroke-width="0.35"/>
<circle cx="627.30" cy="610.50" r="1.60" fill="#e05a58" stroke="#555" stroke-width="0.35"/>
<circle cx="554.00" cy="627.30" r="2.30" fill="#e05a58" stroke="#555" stroke-width="0.35"/>
<circle cx="590.40" cy="627.30" r="2.00" fill="#e05a58" stroke="#555" stroke-width="0.35"/>
<circle cx="627.30" cy="627.30" r="1.60" fill="#e05a58" stroke="#555" stroke-width="0.35"/>
<circle cx="554.00" cy="644.00" r="2.00" fill="#2a70b8" stroke="#555" stroke-width="0.35"/>
<circle cx="590.40" cy="644.00" r="2.50" fill="#e05a58" stroke="#555" stroke-width="0.35"/>
<circle cx="627.30" cy="644.00" r="0.90" fill="#e05a58" stroke="#555" stroke-width="0.35"/>
<circle cx="590.40" cy="660.80" r="2.30" fill="#e05a58" stroke="#555" stroke-width="0.35"/>
<circle cx="627.30" cy="660.80" r="1.10" fill="#e05a58" stroke="#555" stroke-width="0.35"/>
<circle cx="627.30" cy="677.30" r="2.00" fill="#e05a58" stroke="#555" stroke-width="0.35"/>
<circle cx="627.30" cy="694.30" r="2.00" fill="#e05a58" stroke="#555" stroke-width="0.35"/>
<circle cx="627.30" cy="710.80" r="2.00" fill="#e05a58" stroke="#555" stroke-width="0.35"/>
<text x="455.8" y="581.1" font-size="8.2" fill="#222">GO Biological Process Enrichment of <tspan font-style="italic">Elk3</tspan> Regulon Genes</text>
<text x="530.2" y="593.5" font-size="8.15" fill="#222" text-anchor="end">small GTPase mediated</text>
<text x="530.2" y="601.5" font-size="8.15" fill="#222" text-anchor="end">signal transduction</text>
<text x="530.2" y="613.4" font-size="8.15" fill="#222" text-anchor="end">endothelium development</text>
<text x="530.2" y="630.2" font-size="8.15" fill="#222" text-anchor="end">endothelial cell differentiation</text>
<text x="530.2" y="643.6" font-size="8.15" fill="#222" text-anchor="end">cellular response to transforming</text>
<text x="530.2" y="651.6" font-size="8.15" fill="#222" text-anchor="end">growth factor beta stimulus</text>
<text x="530.2" y="663.0" font-size="8.15" fill="#222" text-anchor="end">response to transforming</text>
<text x="530.2" y="670.9" font-size="8.15" fill="#222" text-anchor="end">growth factor beta</text>
<text x="530.2" y="680.2" font-size="8.15" fill="#222" text-anchor="end">epithelial cell migration</text>
<text x="530.2" y="697.2" font-size="8.15" fill="#222" text-anchor="end">epithelium migration</text>
<text x="530.2" y="713.7" font-size="8.15" fill="#222" text-anchor="end">tissue migration</text>
<text x="540.5" y="730.6" font-size="8" text-anchor="middle"><tspan fill="#c83838">SEG</tspan><tspan fill="#222">, </tspan><tspan fill="#40a050">HEC</tspan></text>
<text x="540.6" y="740.5" font-size="8" text-anchor="middle"><tspan fill="#222">&amp; </tspan><tspan fill="#c8a060" font-style="italic">Elk3</tspan><tspan fill="#c8a060"> regulon</tspan></text>
<text x="589.0" y="730.6" font-size="8" text-anchor="middle"><tspan fill="#c83838">SEG</tspan><tspan fill="#222">&amp;</tspan><tspan fill="#c8a060" font-style="italic">Elk3</tspan></text>
<text x="589.0" y="740.5" font-size="8.00" fill="#c8a060" text-anchor="middle">regulon</text>
<text x="633.0" y="730.6" font-size="8" text-anchor="middle"><tspan fill="#c83838">SEG</tspan><tspan fill="#222">&amp;</tspan><tspan fill="#c07090">aiEC</tspan></text>
<text x="633.0" y="740.5" font-size="8.00" fill="#c07090" text-anchor="middle">conserved</text>
<text x="651.7" y="599.3" font-size="6.80" fill="#222">adjusted</text>
<text x="653.3" y="604.9" font-size="6.80" fill="#222">p-value</text>
<rect x="650.00" y="606.70" width="8.50" height="41.20" fill="url(#g_k)" />
<text x="659.4" y="619.3" font-size="6.75" fill="#222">0.00025</text>
<text x="659.4" y="629.9" font-size="6.75" fill="#222">0.00050</text>
<text x="659.4" y="639.2" font-size="6.75" fill="#222">0.00075</text>
<text x="650.6" y="663.4" font-size="6.80" fill="#222">Gene Ratio</text>
<circle cx="655.10" cy="669.60" r="1.40" fill="none" stroke="#222" stroke-width="0.6"/>
<text x="659.2" y="672.0" font-size="6.75" fill="#222">0.03</text>
<circle cx="655.10" cy="678.40" r="2.30" fill="none" stroke="#222" stroke-width="0.6"/>
<text x="659.2" y="680.8" font-size="6.75" fill="#222">0.05</text>
<circle cx="655.10" cy="687.00" r="2.90" fill="none" stroke="#222" stroke-width="0.6"/>
<text x="659.2" y="689.4" font-size="6.75" fill="#222">0.07</text>
<circle cx="655.10" cy="696.50" r="3.40" fill="none" stroke="#222" stroke-width="0.6"/>
<text x="659.2" y="698.9" font-size="6.75" fill="#222">0.09</text>
<circle cx="655.10" cy="706.30" r="3.80" fill="none" stroke="#222" stroke-width="0.6"/>
<text x="659.2" y="708.7" font-size="6.75" fill="#222">0.11</text>
<text x="441.8" y="571.0" font-size="9.50" fill="#111" font-weight="bold">k</text>
</svg></body></html>
